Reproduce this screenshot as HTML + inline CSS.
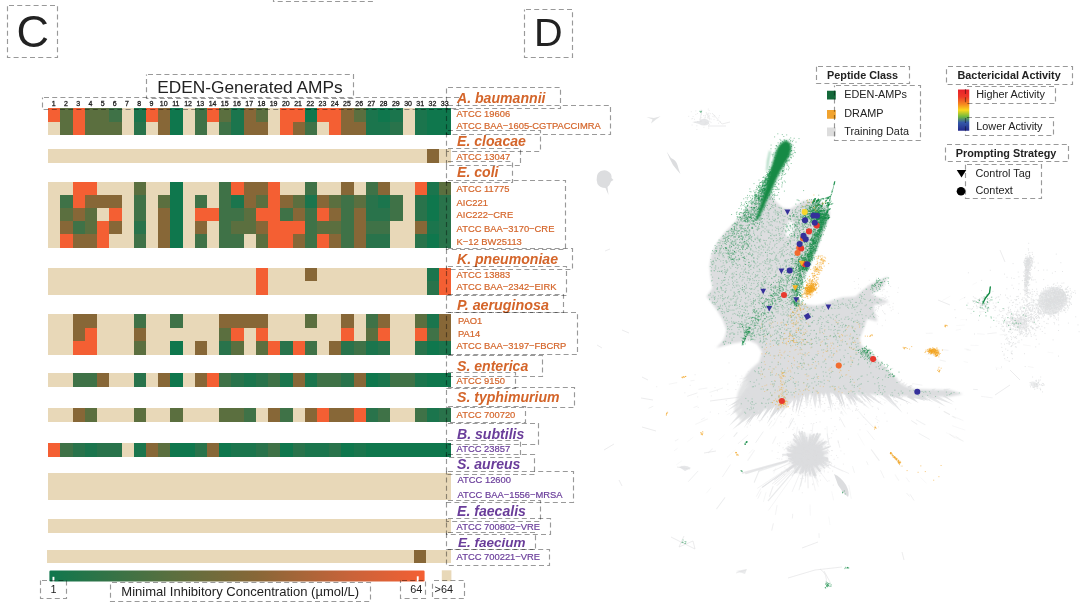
<!DOCTYPE html>
<html><head><meta charset="utf-8"><title>Figure C/D</title>
<style>
html,body{margin:0;padding:0;background:#fff;}
body{width:1080px;height:616px;overflow:hidden;position:relative;font-family:"Liberation Sans",sans-serif;}
svg{position:absolute;left:0;top:0;display:block;}
svg text{font-family:"Liberation Sans",sans-serif;}
</style></head><body>
<svg width="1080" height="616" viewBox="0 0 1080 616">
<rect width="1080" height="616" fill="#fff"/>
<g id="scatter"><defs><filter id="b1" x="-5%" y="-5%" width="110%" height="110%"><feGaussianBlur stdDeviation="0.9"/></filter><filter id="b2" x="-20%" y="-20%" width="140%" height="140%"><feGaussianBlur stdDeviation="0.6"/></filter><filter id="b3" x="-30%" y="-30%" width="160%" height="160%"><feGaussianBlur stdDeviation="2.2"/></filter><radialGradient id="rg"><stop offset="0" stop-color="#DCDDDF"/><stop offset="0.55" stop-color="#DCDDDF" stop-opacity="0.95"/><stop offset="1" stop-color="#DCDDDF" stop-opacity="0"/></radialGradient></defs>
<g fill="#DCDDDF" filter="url(#b2)">
<path d="M862.1 393.4L871.4 404.4L864.1 392.0Z" opacity="0.95"/>
<path d="M742.3 397.2L727.0 406.9L743.4 399.3Z" opacity="0.71"/>
<path d="M780.9 401.4L776.1 415.3L784.9 403.5Z" opacity="0.92"/>
<path d="M861.1 393.6L866.5 398.8L863.9 391.8Z" opacity="0.62"/>
<path d="M742.1 403.6L729.8 416.0L744.3 406.2Z" opacity="0.81"/>
<path d="M832.4 392.7L836.5 396.5L835.6 391.0Z" opacity="0.68"/>
<path d="M804.7 393.2L806.2 407.1L807.0 393.2Z" opacity="0.95"/>
<path d="M836.5 392.0L842.8 409.9L838.2 391.5Z" opacity="0.82"/>
<path d="M836.1 392.0L840.3 403.9L837.7 391.5Z" opacity="0.76"/>
<path d="M793.7 394.5L792.2 411.6L798.0 395.5Z" opacity="0.84"/>
<path d="M857.3 393.6L866.1 402.2L859.5 391.8Z" opacity="0.70"/>
<path d="M811.4 392.6L815.3 408.6L814.8 392.1Z" opacity="0.72"/>
<path d="M918.4 397.7L928.2 400.8L920.5 393.9Z" opacity="0.96"/>
<path d="M849.1 393.8L858.6 400.9L851.3 391.5Z" opacity="0.67"/>
<path d="M921.1 397.1L933.6 402.4L922.4 394.7Z" opacity="0.70"/>
<path d="M742.8 404.6L731.6 412.8L744.1 406.7Z" opacity="0.90"/>
<path d="M741.5 400.8L739.1 405.8L744.4 404.1Z" opacity="0.86"/>
<path d="M817.5 392.2L820.4 409.3L820.7 391.9Z" opacity="0.87"/>
<path d="M802.2 393.5L797.4 416.7L804.1 394.0Z" opacity="0.97"/>
<path d="M742.1 397.0L731.2 405.0L743.5 399.4Z" opacity="0.93"/>
<path d="M741.9 398.6L727.6 410.6L744.0 401.6Z" opacity="0.69"/>
<path d="M768.8 405.0L766.3 412.9L772.5 407.3Z" opacity="0.83"/>
<path d="M797.5 393.9L795.6 413.9L801.8 394.8Z" opacity="0.81"/>
<path d="M838.6 392.3L845.7 409.7L841.2 391.4Z" opacity="0.95"/>
<path d="M814.3 392.0L814.6 399.1L817.3 392.5Z" opacity="0.98"/>
<path d="M781.0 401.9L770.7 418.3L783.7 403.9Z" opacity="0.99"/>
<path d="M797.1 394.4L796.3 400.9L799.2 394.9Z" opacity="0.97"/>
<path d="M911.0 397.5L926.0 400.8L912.1 394.4Z" opacity="0.86"/>
<path d="M792.0 396.4L785.3 409.5L794.9 398.3Z" opacity="0.67"/>
<path d="M743.2 409.1L728.7 426.2L745.8 411.7Z" opacity="0.65"/>
<path d="M927.4 397.8L945.6 406.4L929.6 394.1Z" opacity="0.62"/>
<path d="M742.0 402.7L737.6 409.8L743.6 404.0Z" opacity="0.83"/>
<path d="M742.8 405.0L735.6 411.7L743.8 406.3Z" opacity="0.72"/>
<path d="M933.4 397.6L953.2 404.6L934.8 394.5Z" opacity="0.68"/>
<path d="M849.8 394.3L870.0 409.3L852.5 391.2Z" opacity="0.62"/>
<path d="M797.5 394.0L797.4 402.8L801.3 394.8Z" opacity="0.73"/>
<path d="M915.8 397.3L924.9 400.9L918.1 393.9Z" opacity="0.68"/>
<path d="M849.9 393.4L857.5 401.4L852.8 391.4Z" opacity="0.85"/>
<path d="M906.9 397.0L918.6 402.9L909.3 393.7Z" opacity="0.96"/>
<path d="M761.1 408.0L756.5 420.0L763.9 409.5Z" opacity="0.98"/>
<path d="M807.3 392.8L807.7 407.6L809.1 392.8Z" opacity="0.75"/>
<path d="M756.1 410.5L744.9 423.6L758.0 412.4Z" opacity="0.82"/>
<path d="M773.3 404.4L768.9 414.5L774.9 405.3Z" opacity="0.90"/>
<path d="M851.7 393.3L858.3 398.9L853.1 392.0Z" opacity="0.65"/>
<path d="M755.0 410.8L747.4 425.6L757.1 412.1Z" opacity="0.93"/>
<path d="M860.7 394.1L874.5 403.3L862.3 392.1Z" opacity="0.88"/>
<path d="M748.2 413.6L732.3 429.8L750.5 416.2Z" opacity="0.75"/>
<path d="M744.0 410.1L734.8 420.2L745.6 411.8Z" opacity="0.81"/>
<path d="M889.7 395.7L895.7 398.7L892.3 392.8Z" opacity="0.86"/>
<path d="M883.4 395.1L902.6 413.0L886.2 392.5Z" opacity="0.76"/>
<path d="M865.3 394.8L883.8 405.7L867.4 391.8Z" opacity="0.78"/>
<path d="M806.5 392.7L807.2 400.9L809.6 393.0Z" opacity="0.76"/>
<path d="M843.8 393.1L852.6 405.4L847.6 391.2Z" opacity="0.75"/>
<path d="M756.7 409.8L746.5 421.8L759.2 412.5Z" opacity="0.93"/>
<path d="M929.7 397.3L939.5 399.0L930.1 395.5Z" opacity="0.67"/>
<path d="M849.9 393.8L860.1 403.1L853.2 391.2Z" opacity="0.69"/>
<path d="M894.9 396.3L903.6 398.4L895.8 394.0Z" opacity="0.72"/>
<path d="M883.1 395.9L891.9 399.4L885.4 392.4Z" opacity="0.97"/>
<path d="M780.3 402.6L777.7 409.3L781.8 403.3Z" opacity="0.80"/>
<path d="M753.7 411.6L743.8 428.1L755.4 412.7Z" opacity="0.87"/>
<path d="M783.9 401.1L780.3 411.3L786.8 402.7Z" opacity="0.81"/>
<path d="M811.2 392.3L809.4 407.0L813.1 392.6Z" opacity="0.65"/>
<path d="M943.1 396.4L954.5 402.4L944.2 394.7Z" opacity="0.80"/>
<path d="M833.0 392.0L835.9 397.6L836.2 391.3Z" opacity="0.63"/>
<path d="M777.2 402.5L766.8 424.0L780.6 404.6Z" opacity="0.90"/>
<path d="M880.9 394.6L895.7 407.6L882.6 392.9Z" opacity="0.67"/>
<path d="M892.0 396.0L912.4 404.0L893.0 393.8Z" opacity="0.97"/>
<path d="M760.2 408.4L755.1 417.0L762.7 410.5Z" opacity="0.92"/>
<path d="M787.0 399.5L778.7 416.6L790.7 401.9Z" opacity="0.77"/>
<path d="M814.6 392.1L815.4 408.8L818.1 392.3Z" opacity="0.68"/>
<path d="M845.9 392.5L850.3 399.5L847.3 391.8Z" opacity="0.98"/>
<path d="M826.1 392.2L833.2 408.4L829.6 391.1Z" opacity="0.63"/>
<path d="M847.7 393.1L856.3 403.3L850.1 391.5Z" opacity="0.85"/>
<path d="M845.1 393.2L854.3 401.3L846.6 391.8Z" opacity="0.95"/>
<path d="M769.3 405.3L758.8 423.1L771.9 407.1Z" opacity="0.92"/>
<path d="M825.8 392.0L831.8 412.6L829.1 391.3Z" opacity="0.76"/>
<path d="M846.6 393.3L857.5 405.2L848.9 391.5Z" opacity="0.90"/>
<path d="M833.8 392.8L843.6 407.1L837.4 391.0Z" opacity="0.91"/>
<path d="M821.4 392.0L824.0 398.1L825.5 391.7Z" opacity="0.83"/>
<path d="M846.7 393.0L856.9 407.5L849.1 391.5Z" opacity="0.67"/>
<path d="M747.6 375.0L741.8 380.5L748.7 376.5Z" opacity="0.58"/>
<path d="M748.5 377.6L739.8 384.3L749.5 379.2Z" opacity="0.51"/>
<path d="M743.5 392.3L740.5 397.1L745.4 394.3Z" opacity="0.53"/>
<path d="M748.9 381.0L744.8 387.2L750.9 382.9Z" opacity="0.59"/>
<path d="M746.0 389.4L742.1 394.2L747.1 390.6Z" opacity="0.53"/>
<path d="M747.0 387.4L743.8 391.3L748.6 389.5Z" opacity="0.58"/>
<path d="M898.9 383.4L902.9 379.7L897.9 381.8Z" opacity="0.65"/>
<path d="M908.4 388.0L913.5 384.2L907.6 386.7Z" opacity="0.78"/>
<path d="M910.1 389.0L912.8 386.1L909.0 387.4Z" opacity="0.71"/>
<path d="M932.8 391.6L935.9 388.5L931.6 389.3Z" opacity="0.60"/>
<path d="M944.1 391.6L950.9 388.6L943.5 389.1Z" opacity="0.54"/>
<path d="M908.5 388.2L911.9 385.0L907.4 386.5Z" opacity="0.66"/>
<path d="M903.2 385.8L905.3 381.8L901.2 383.6Z" opacity="0.41"/>
<path d="M905.2 386.6L907.7 383.1L903.9 385.1Z" opacity="0.47"/>
</g>
<g stroke="#DCDDDF" fill="none" stroke-linecap="round">
<path d="M906.3 477.8L909.3 481.9" stroke-width="0.74" stroke-opacity="0.40"/>
<path d="M759.8 403.2L748.6 410.1" stroke-width="0.90" stroke-opacity="0.27"/>
<path d="M758.7 471.6L754.3 482.3" stroke-width="1.07" stroke-opacity="0.56"/>
<path d="M894.8 400.2L897.7 402.0" stroke-width="1.05" stroke-opacity="0.60"/>
<path d="M773.0 486.5L769.5 496.3" stroke-width="1.07" stroke-opacity="0.46"/>
<path d="M866.7 461.7L868.0 464.7" stroke-width="0.92" stroke-opacity="0.40"/>
<path d="M693.0 437.3L687.8 441.5" stroke-width="0.58" stroke-opacity="0.31"/>
<path d="M871.4 449.7L879.1 460.4" stroke-width="1.04" stroke-opacity="0.49"/>
<path d="M729.9 413.2L727.2 414.6" stroke-width="0.65" stroke-opacity="0.30"/>
<path d="M712.3 448.9L708.5 452.6" stroke-width="1.06" stroke-opacity="0.34"/>
<path d="M778.8 415.4L773.3 426.0" stroke-width="0.81" stroke-opacity="0.26"/>
<path d="M792.7 514.2L792.4 518.1" stroke-width="0.96" stroke-opacity="0.46"/>
<path d="M880.7 470.6L884.0 477.8" stroke-width="0.68" stroke-opacity="0.52"/>
<path d="M761.0 491.9L757.9 498.4" stroke-width="0.92" stroke-opacity="0.39"/>
<path d="M981.4 396.4L992.2 397.8" stroke-width="0.94" stroke-opacity="0.35"/>
<path d="M828.8 516.9L830.0 524.7" stroke-width="0.68" stroke-opacity="0.28"/>
<path d="M875.3 418.3L879.3 421.2" stroke-width="0.78" stroke-opacity="0.33"/>
<path d="M710.6 488.2L706.7 492.8" stroke-width="0.80" stroke-opacity="0.28"/>
<path d="M956.2 436.6L963.0 441.1" stroke-width="0.54" stroke-opacity="0.46"/>
<path d="M678.0 439.4L675.3 440.9" stroke-width="0.72" stroke-opacity="0.52"/>
<path d="M893.1 388.4L904.4 392.4" stroke-width="0.77" stroke-opacity="0.59"/>
<path d="M842.2 408.0L846.4 414.0" stroke-width="0.55" stroke-opacity="0.45"/>
<path d="M697.1 393.0L687.5 396.2" stroke-width="0.84" stroke-opacity="0.51"/>
<path d="M777.0 505.5L775.5 514.4" stroke-width="0.85" stroke-opacity="0.42"/>
<path d="M919.1 433.5L929.5 439.3" stroke-width="0.83" stroke-opacity="0.51"/>
<path d="M838.0 440.5L839.8 447.4" stroke-width="0.91" stroke-opacity="0.45"/>
<path d="M952.3 425.7L964.8 430.0" stroke-width="0.65" stroke-opacity="0.31"/>
<path d="M677.2 448.6L674.4 450.6" stroke-width="0.62" stroke-opacity="0.41"/>
<path d="M760.1 380.9L755.5 382.7" stroke-width="0.81" stroke-opacity="0.51"/>
<path d="M827.0 426.6L827.3 433.5" stroke-width="0.95" stroke-opacity="0.29"/>
<path d="M746.4 416.5L738.5 425.0" stroke-width="1.02" stroke-opacity="0.31"/>
<path d="M831.8 491.7L833.6 500.0" stroke-width="0.58" stroke-opacity="0.35"/>
<path d="M888.9 382.0L893.1 383.2" stroke-width="0.71" stroke-opacity="0.46"/>
<path d="M846.8 403.9L850.3 409.6" stroke-width="0.65" stroke-opacity="0.39"/>
<path d="M747.8 435.2L738.2 443.6" stroke-width="0.69" stroke-opacity="0.51"/>
<path d="M858.8 411.3L863.7 417.4" stroke-width="1.06" stroke-opacity="0.30"/>
<path d="M752.5 449.8L749.5 453.1" stroke-width="0.92" stroke-opacity="0.30"/>
<path d="M757.3 385.0L753.7 386.8" stroke-width="1.06" stroke-opacity="0.26"/>
<path d="M697.3 406.2L693.8 407.5" stroke-width="0.78" stroke-opacity="0.45"/>
<path d="M730.3 464.9L722.6 476.6" stroke-width="0.99" stroke-opacity="0.39"/>
<path d="M697.9 471.2L688.5 481.4" stroke-width="0.77" stroke-opacity="0.58"/>
<path d="M722.6 388.1L709.9 392.3" stroke-width="0.72" stroke-opacity="0.51"/>
<path d="M823.7 465.7L824.5 472.9" stroke-width="0.58" stroke-opacity="0.27"/>
<path d="M734.9 450.1L727.3 457.2" stroke-width="0.64" stroke-opacity="0.33"/>
<path d="M867.2 430.8L874.3 439.7" stroke-width="0.69" stroke-opacity="0.47"/>
<path d="M864.5 399.5L872.3 406.7" stroke-width="0.68" stroke-opacity="0.47"/>
<path d="M912.7 383.6L922.0 385.2" stroke-width="0.71" stroke-opacity="0.46"/>
<path d="M797.4 427.0L795.9 437.7" stroke-width="1.08" stroke-opacity="0.32"/>
<path d="M863.7 417.1L873.3 427.2" stroke-width="0.86" stroke-opacity="0.60"/>
<path d="M761.9 375.4L753.4 377.6" stroke-width="0.92" stroke-opacity="0.37"/>
<path d="M838.9 404.5L840.5 407.5" stroke-width="0.55" stroke-opacity="0.32"/>
<path d="M842.0 412.2L843.2 415.4" stroke-width="0.76" stroke-opacity="0.32"/>
<path d="M786.2 402.3L782.5 406.6" stroke-width="1.04" stroke-opacity="0.47"/>
<path d="M897.4 395.5L900.6 396.5" stroke-width="0.52" stroke-opacity="0.29"/>
<path d="M791.7 418.1L789.5 422.2" stroke-width="0.70" stroke-opacity="0.37"/>
<path d="M953.4 416.5L963.0 420.5" stroke-width="0.87" stroke-opacity="0.29"/>
<path d="M892.9 455.1L900.5 466.3" stroke-width="0.88" stroke-opacity="0.43"/>
<path d="M973.6 389.4L977.4 389.6" stroke-width="0.92" stroke-opacity="0.53"/>
<path d="M737.1 432.7L733.9 436.5" stroke-width="1.01" stroke-opacity="0.59"/>
<path d="M920.8 477.7L926.1 482.9" stroke-width="0.80" stroke-opacity="0.25"/>
<path d="M827.2 433.9L829.0 444.6" stroke-width="1.02" stroke-opacity="0.56"/>
<path d="M857.6 433.6L864.3 445.2" stroke-width="0.56" stroke-opacity="0.27"/>
<path d="M694.3 380.3L690.8 380.9" stroke-width="0.80" stroke-opacity="0.40"/>
<path d="M652.9 406.4L648.9 408.1" stroke-width="0.74" stroke-opacity="0.54"/>
<path d="M766.0 492.5L763.5 501.5" stroke-width="0.99" stroke-opacity="0.25"/>
<path d="M775.0 422.6L769.8 428.9" stroke-width="0.82" stroke-opacity="0.27"/>
<path d="M841.8 489.8L842.8 493.3" stroke-width="0.51" stroke-opacity="0.44"/>
<path d="M852.6 466.5L854.4 472.5" stroke-width="0.60" stroke-opacity="0.57"/>
<path d="M707.0 388.0L698.9 389.3" stroke-width="0.67" stroke-opacity="0.53"/>
<path d="M895.1 474.8L898.7 480.4" stroke-width="1.06" stroke-opacity="0.27"/>
<path d="M724.3 435.1L719.0 439.9" stroke-width="0.54" stroke-opacity="0.34"/>
<path d="M793.5 418.4L788.7 427.6" stroke-width="1.09" stroke-opacity="0.56"/>
<path d="M759.4 406.2L749.7 415.7" stroke-width="1.02" stroke-opacity="0.56"/>
<path d="M775.6 468.2L773.8 473.1" stroke-width="0.67" stroke-opacity="0.29"/>
<path d="M946.3 432.8L958.4 438.0" stroke-width="0.51" stroke-opacity="0.34"/>
<path d="M878.7 396.8L886.9 401.4" stroke-width="0.76" stroke-opacity="0.32"/>
<path d="M775.9 436.8L772.6 443.4" stroke-width="1.04" stroke-opacity="0.34"/>
<path d="M763.1 431.9L755.8 442.5" stroke-width="0.80" stroke-opacity="0.56"/>
<path d="M785.7 414.4L783.0 418.0" stroke-width="0.52" stroke-opacity="0.36"/>
<path d="M764.8 373.2L760.3 374.8" stroke-width="0.55" stroke-opacity="0.42"/>
<path d="M791.5 446.7L790.1 450.6" stroke-width="0.98" stroke-opacity="0.45"/>
<path d="M916.4 419.9L925.0 424.8" stroke-width="1.02" stroke-opacity="0.39"/>
<path d="M813.0 424.2L812.0 433.4" stroke-width="0.94" stroke-opacity="0.34"/>
<path d="M676.9 382.7L669.3 384.1" stroke-width="0.97" stroke-opacity="0.31"/>
<path d="M760.6 488.8L756.4 496.4" stroke-width="0.78" stroke-opacity="0.41"/>
<path d="M910.3 494.6L913.8 500.1" stroke-width="0.75" stroke-opacity="0.58"/>
<path d="M763.5 375.3L750.0 378.9" stroke-width="0.54" stroke-opacity="0.42"/>
<path d="M929.0 392.9L933.8 394.1" stroke-width="0.68" stroke-opacity="0.46"/>
<path d="M681.8 460.9L676.5 464.7" stroke-width="0.50" stroke-opacity="0.38"/>
<path d="M752.2 376.2L739.9 378.8" stroke-width="0.68" stroke-opacity="0.52"/>
<path d="M906.8 493.3L909.4 496.3" stroke-width="0.95" stroke-opacity="0.41"/>
<path d="M911.6 420.8L916.9 424.2" stroke-width="0.95" stroke-opacity="0.55"/>
<path d="M933.2 397.7L946.4 401.7" stroke-width="0.96" stroke-opacity="0.28"/>
<path d="M707.4 419.0L695.7 424.3" stroke-width="1.02" stroke-opacity="0.27"/>
<path d="M771.8 420.9L768.6 425.9" stroke-width="0.85" stroke-opacity="0.47"/>
<path d="M766.3 377.0L761.5 378.9" stroke-width="0.99" stroke-opacity="0.44"/>
<path d="M810.0 504.9L810.3 515.1" stroke-width="0.55" stroke-opacity="0.41"/>
<path d="M704.5 417.9L701.3 419.6" stroke-width="0.73" stroke-opacity="0.45"/>
<path d="M773.3 523.7L771.8 530.2" stroke-width="0.87" stroke-opacity="0.56"/>
<path d="M754.4 450.5L747.8 460.4" stroke-width="1.08" stroke-opacity="0.35"/>
<path d="M949.7 434.3L954.8 437.9" stroke-width="0.87" stroke-opacity="0.43"/>
<path d="M952.2 416.2L955.5 418.1" stroke-width="1.03" stroke-opacity="0.36"/>
<path d="M955.6 437.8L963.2 441.1" stroke-width="0.80" stroke-opacity="0.34"/>
<path d="M848.9 485.5L851.2 498.4" stroke-width="0.60" stroke-opacity="0.42"/>
<path d="M819.0 533.6L819.1 537.6" stroke-width="1.05" stroke-opacity="0.39"/>
<path d="M890.3 452.8L893.8 458.3" stroke-width="0.55" stroke-opacity="0.32"/>
<path d="M944.1 411.5L949.6 414.5" stroke-width="1.04" stroke-opacity="0.58"/>
<path d="M847.2 398.4L851.1 404.5" stroke-width="0.96" stroke-opacity="0.27"/>
<path d="M724.8 497.7L716.7 508.7" stroke-width="1.02" stroke-opacity="0.54"/>
<path d="M839.6 417.3L844.9 426.9" stroke-width="0.73" stroke-opacity="0.60"/>
<path d="M987.7 333.7L996.3 332.8" stroke-width="1.10" stroke-opacity="0.38"/>
<path d="M960.7 319.6L964.4 319.4" stroke-width="0.61" stroke-opacity="0.20"/>
<path d="M995.2 367.2L1002.0 368.9" stroke-width="0.53" stroke-opacity="0.22"/>
<path d="M926.2 333.3L932.3 333.2" stroke-width="0.89" stroke-opacity="0.32"/>
<path d="M942.7 300.4L950.0 296.3" stroke-width="0.82" stroke-opacity="0.21"/>
<path d="M940.1 360.1L945.4 361.3" stroke-width="0.93" stroke-opacity="0.39"/>
<path d="M964.8 348.9L968.2 349.4" stroke-width="1.08" stroke-opacity="0.20"/>
<path d="M942.4 349.7L948.1 350.3" stroke-width="0.87" stroke-opacity="0.40"/>
<path d="M970.9 345.3L978.2 345.5" stroke-width="0.75" stroke-opacity="0.27"/>
<path d="M956.1 330.2L960.5 329.4" stroke-width="0.76" stroke-opacity="0.26"/>
<path d="M1028.3 366.6L1033.2 367.5" stroke-width="1.04" stroke-opacity="0.27"/>
<path d="M977.5 333.7L984.4 334.3" stroke-width="0.58" stroke-opacity="0.39"/>
<path d="M1023.4 344.9L1030.1 345.8" stroke-width="0.70" stroke-opacity="0.34"/>
<path d="M981.8 306.1L988.5 303.7" stroke-width="0.54" stroke-opacity="0.36"/>
<path d="M1005.2 360.0L1010.1 360.9" stroke-width="0.55" stroke-opacity="0.33"/>
<path d="M1000.1 334.9L1005.8 334.3" stroke-width="0.94" stroke-opacity="0.29"/>
<path d="M966.9 349.9L970.4 350.2" stroke-width="0.87" stroke-opacity="0.38"/>
<path d="M926.1 354.1L933.7 355.0" stroke-width="0.92" stroke-opacity="0.28"/>
<path d="M980.5 312.0L986.6 311.0" stroke-width="0.88" stroke-opacity="0.34"/>
<path d="M1005.8 313.5L1010.8 312.8" stroke-width="0.78" stroke-opacity="0.31"/>
<path d="M972.9 284.5L976.8 282.6" stroke-width="0.54" stroke-opacity="0.33"/>
<path d="M964.1 361.6L967.6 362.4" stroke-width="0.58" stroke-opacity="0.38"/>
<path d="M959.9 299.8L965.3 297.1" stroke-width="0.69" stroke-opacity="0.26"/>
<path d="M1047.8 352.2L1053.0 352.9" stroke-width="0.58" stroke-opacity="0.32"/>
<path d="M956.5 325.6L964.4 325.1" stroke-width="0.58" stroke-opacity="0.26"/>
<path d="M813.8 441.5L817.4 433.7" stroke-width="2.02" stroke-opacity="0.94"/>
<path d="M806.8 442.5L806.5 437.5" stroke-width="1.32" stroke-opacity="0.78"/>
<path d="M816.6 450.5L822.4 447.6" stroke-width="0.83" stroke-opacity="0.81"/>
<path d="M794.8 459.7L790.0 461.5" stroke-width="1.72" stroke-opacity="0.80"/>
<path d="M798.4 457.1L792.0 458.5" stroke-width="1.84" stroke-opacity="0.59"/>
<path d="M817.0 461.0L821.3 463.8" stroke-width="1.92" stroke-opacity="0.87"/>
<path d="M820.6 450.3L828.9 447.3" stroke-width="1.06" stroke-opacity="0.87"/>
<path d="M805.7 441.9L804.4 432.7" stroke-width="1.96" stroke-opacity="0.63"/>
<path d="M802.1 444.7L799.2 439.4" stroke-width="1.26" stroke-opacity="0.57"/>
<path d="M796.9 455.6L790.1 455.9" stroke-width="1.99" stroke-opacity="0.81"/>
<path d="M801.2 441.5L799.1 437.0" stroke-width="1.51" stroke-opacity="0.54"/>
<path d="M796.0 464.1L793.1 466.5" stroke-width="1.86" stroke-opacity="0.89"/>
<path d="M793.9 454.2L787.0 453.8" stroke-width="1.29" stroke-opacity="0.73"/>
<path d="M811.0 464.5L812.9 470.0" stroke-width="2.18" stroke-opacity="0.65"/>
<path d="M809.4 469.5L810.0 473.7" stroke-width="2.15" stroke-opacity="0.88"/>
<path d="M800.9 446.2L798.0 442.4" stroke-width="0.95" stroke-opacity="0.55"/>
<path d="M801.2 463.8L794.6 473.0" stroke-width="1.55" stroke-opacity="0.95"/>
<path d="M805.9 446.1L804.4 438.3" stroke-width="1.02" stroke-opacity="0.52"/>
<path d="M817.2 451.4L821.6 449.8" stroke-width="0.94" stroke-opacity="0.79"/>
<path d="M799.7 457.0L790.5 459.2" stroke-width="1.16" stroke-opacity="0.85"/>
<path d="M795.8 455.8L788.7 456.3" stroke-width="1.75" stroke-opacity="0.95"/>
<path d="M810.0 446.9L812.2 439.8" stroke-width="1.13" stroke-opacity="0.55"/>
<path d="M810.8 464.2L814.7 475.1" stroke-width="1.84" stroke-opacity="0.88"/>
<path d="M804.3 445.3L802.2 439.1" stroke-width="1.42" stroke-opacity="0.63"/>
<path d="M795.7 461.3L792.5 463.1" stroke-width="1.19" stroke-opacity="0.72"/>
<path d="M801.9 443.8L797.6 435.3" stroke-width="0.95" stroke-opacity="0.58"/>
<path d="M803.9 464.3L800.3 473.4" stroke-width="2.19" stroke-opacity="0.81"/>
<path d="M817.4 457.1L827.4 459.2" stroke-width="2.09" stroke-opacity="0.77"/>
<path d="M801.4 463.5L796.3 470.6" stroke-width="2.01" stroke-opacity="0.65"/>
<path d="M810.4 462.5L812.0 466.4" stroke-width="1.99" stroke-opacity="0.78"/>
<path d="M816.0 454.5L822.3 454.1" stroke-width="1.91" stroke-opacity="0.80"/>
<path d="M817.4 459.4L825.4 463.0" stroke-width="1.76" stroke-opacity="0.70"/>
<path d="M813.1 468.7L815.8 475.3" stroke-width="1.80" stroke-opacity="0.74"/>
<path d="M815.9 459.7L819.1 461.4" stroke-width="1.07" stroke-opacity="0.59"/>
<path d="M798.7 460.2L793.3 463.4" stroke-width="1.94" stroke-opacity="0.51"/>
<path d="M818.4 463.3L824.6 468.0" stroke-width="1.41" stroke-opacity="0.62"/>
<path d="M798.3 452.5L787.9 449.7" stroke-width="1.95" stroke-opacity="0.64"/>
<path d="M821.5 457.2L827.2 458.1" stroke-width="1.72" stroke-opacity="0.89"/>
<path d="M811.7 441.6L813.9 434.5" stroke-width="1.98" stroke-opacity="0.71"/>
<path d="M806.5 466.3L806.0 472.3" stroke-width="1.87" stroke-opacity="0.87"/>
<path d="M813.3 462.1L817.4 467.1" stroke-width="1.45" stroke-opacity="0.93"/>
<path d="M821.3 449.7L830.2 446.3" stroke-width="1.75" stroke-opacity="0.62"/>
<path d="M801.9 460.8L794.6 468.3" stroke-width="1.19" stroke-opacity="0.54"/>
<path d="M803.4 464.4L799.6 473.1" stroke-width="0.81" stroke-opacity="0.60"/>
<path d="M818.6 446.5L825.5 441.3" stroke-width="1.58" stroke-opacity="0.60"/>
<path d="M816.9 445.6L822.3 440.2" stroke-width="1.03" stroke-opacity="0.60"/>
<path d="M800.0 462.1L797.4 464.5" stroke-width="1.37" stroke-opacity="0.70"/>
<path d="M805.0 465.4L803.6 471.2" stroke-width="1.33" stroke-opacity="0.78"/>
<path d="M798.1 455.2L788.0 455.3" stroke-width="1.52" stroke-opacity="0.71"/>
<path d="M804.5 442.1L802.0 431.7" stroke-width="1.94" stroke-opacity="0.80"/>
<path d="M805.9 446.0L804.2 436.9" stroke-width="1.16" stroke-opacity="0.62"/>
<path d="M815.4 462.4L817.7 464.6" stroke-width="1.72" stroke-opacity="0.84"/>
<path d="M808.9 446.2L810.3 437.6" stroke-width="1.97" stroke-opacity="0.52"/>
<path d="M810.9 464.3L813.4 471.0" stroke-width="1.04" stroke-opacity="0.74"/>
<path d="M800.5 465.5L796.2 471.9" stroke-width="1.76" stroke-opacity="0.61"/>
<path d="M804.0 442.3L801.5 433.2" stroke-width="0.90" stroke-opacity="0.93"/>
<path d="M798.7 450.4L792.6 447.2" stroke-width="1.52" stroke-opacity="0.73"/>
<path d="M807.6 464.9L807.7 471.1" stroke-width="1.89" stroke-opacity="0.70"/>
<path d="M818.3 457.7L823.0 458.8" stroke-width="0.82" stroke-opacity="0.94"/>
<path d="M804.3 466.3L802.6 472.3" stroke-width="0.87" stroke-opacity="0.91"/>
<path d="M816.1 451.3L822.3 448.7" stroke-width="1.32" stroke-opacity="0.58"/>
<path d="M800.4 443.5L795.2 435.2" stroke-width="1.75" stroke-opacity="0.51"/>
<path d="M809.0 466.5L810.2 475.8" stroke-width="1.34" stroke-opacity="0.70"/>
<path d="M811.9 448.1L814.8 443.6" stroke-width="1.21" stroke-opacity="0.95"/>
<path d="M808.7 463.2L809.6 469.9" stroke-width="1.71" stroke-opacity="0.57"/>
<path d="M812.5 447.1L817.5 439.2" stroke-width="1.03" stroke-opacity="0.90"/>
<path d="M811.5 467.5L814.6 477.6" stroke-width="1.16" stroke-opacity="0.54"/>
<path d="M797.6 449.1L791.4 445.3" stroke-width="1.89" stroke-opacity="0.71"/>
<path d="M796.1 455.2L789.0 455.3" stroke-width="1.37" stroke-opacity="0.57"/>
<path d="M804.7 464.5L803.3 469.5" stroke-width="1.90" stroke-opacity="0.55"/>
<path d="M810.7 466.2L812.3 471.8" stroke-width="1.14" stroke-opacity="0.67"/>
<path d="M794.8 454.8L783.0 454.7" stroke-width="1.99" stroke-opacity="0.69"/>
<path d="M797.1 458.3L792.2 459.8" stroke-width="2.13" stroke-opacity="0.53"/>
<path d="M811.0 467.1L813.3 475.1" stroke-width="1.19" stroke-opacity="0.92"/>
<path d="M797.2 461.6L794.0 463.6" stroke-width="2.05" stroke-opacity="0.55"/>
<path d="M796.3 463.8L787.3 470.9" stroke-width="2.07" stroke-opacity="0.87"/>
<path d="M808.4 463.2L809.1 470.2" stroke-width="0.89" stroke-opacity="0.93"/>
<path d="M817.8 455.5L822.6 455.8" stroke-width="0.82" stroke-opacity="0.72"/>
<path d="M820.2 461.6L828.4 465.8" stroke-width="1.32" stroke-opacity="0.88"/>
<path d="M810.5 445.2L813.6 435.0" stroke-width="2.10" stroke-opacity="0.78"/>
<path d="M799.0 466.5L792.1 475.7" stroke-width="1.29" stroke-opacity="0.54"/>
<path d="M816.0 445.7L819.5 441.9" stroke-width="1.59" stroke-opacity="0.64"/>
<path d="M816.6 449.9L820.7 447.6" stroke-width="0.86" stroke-opacity="0.65"/>
<path d="M817.0 454.4L824.1 453.9" stroke-width="2.16" stroke-opacity="0.50"/>
<path d="M803.7 468.2L802.6 471.9" stroke-width="2.10" stroke-opacity="0.88"/>
<path d="M815.1 464.5L820.0 470.8" stroke-width="1.77" stroke-opacity="0.64"/>
<path d="M800.3 461.4L796.1 465.2" stroke-width="1.05" stroke-opacity="0.91"/>
<path d="M815.5 448.2L822.5 442.2" stroke-width="1.49" stroke-opacity="0.63"/>
<path d="M798.9 467.0L795.3 471.9" stroke-width="1.61" stroke-opacity="0.93"/>
<path d="M803.5 468.1L802.3 471.9" stroke-width="1.83" stroke-opacity="0.86"/>
<path d="M815.2 442.4L820.1 434.3" stroke-width="2.17" stroke-opacity="0.63"/>
<path d="M798.1 453.7L794.4 453.2" stroke-width="1.41" stroke-opacity="0.82"/>
<path d="M808.9 447.0L811.0 435.7" stroke-width="1.15" stroke-opacity="0.63"/>
<path d="M814.6 442.6L819.3 434.2" stroke-width="1.27" stroke-opacity="0.71"/>
<path d="M812.8 445.9L818.0 437.1" stroke-width="1.89" stroke-opacity="0.71"/>
<path d="M816.0 448.5L823.8 442.6" stroke-width="1.70" stroke-opacity="0.65"/>
<path d="M795.5 452.6L787.8 451.0" stroke-width="0.96" stroke-opacity="0.95"/>
<path d="M815.6 453.3L826.8 450.9" stroke-width="1.54" stroke-opacity="0.56"/>
<path d="M812.2 445.0L816.3 436.5" stroke-width="1.96" stroke-opacity="0.74"/>
<path d="M820.6 459.2L829.4 462.1" stroke-width="2.07" stroke-opacity="0.62"/>
<path d="M810.6 441.2L812.0 435.2" stroke-width="1.37" stroke-opacity="0.65"/>
<path d="M817.1 455.3L823.1 455.6" stroke-width="0.95" stroke-opacity="0.84"/>
<path d="M796.8 460.3L791.8 462.8" stroke-width="1.30" stroke-opacity="0.84"/>
<path d="M795.5 457.3L788.9 458.6" stroke-width="1.58" stroke-opacity="0.90"/>
<path d="M806.2 466.6L805.2 475.7" stroke-width="0.92" stroke-opacity="0.93"/>
<path d="M797.8 455.1L787.9 455.2" stroke-width="1.94" stroke-opacity="0.78"/>
<path d="M815.0 450.7L821.7 446.8" stroke-width="1.84" stroke-opacity="0.91"/>
<path d="M799.8 445.5L795.7 440.5" stroke-width="1.60" stroke-opacity="0.75"/>
<path d="M818.9 447.3L826.9 441.8" stroke-width="2.09" stroke-opacity="0.53"/>
<path d="M808.9 443.8L810.1 434.1" stroke-width="1.21" stroke-opacity="0.71"/>
<path d="M811.2 447.6L813.8 442.6" stroke-width="1.48" stroke-opacity="0.88"/>
<path d="M805.8 468.7L805.1 473.8" stroke-width="1.22" stroke-opacity="0.75"/>
<path d="M799.5 443.3L793.3 434.4" stroke-width="1.15" stroke-opacity="0.84"/>
<path d="M800.4 447.0L793.8 439.5" stroke-width="2.06" stroke-opacity="0.72"/>
<path d="M815.2 450.5L819.1 448.3" stroke-width="1.87" stroke-opacity="0.64"/>
<path d="M797.6 449.1L793.9 446.9" stroke-width="1.86" stroke-opacity="0.83"/>
<path d="M813.5 462.8L819.8 470.8" stroke-width="2.08" stroke-opacity="0.89"/>
<path d="M796.9 454.9L789.9 454.8" stroke-width="1.05" stroke-opacity="0.72"/>
<path d="M808.6 464.1L809.4 470.4" stroke-width="0.89" stroke-opacity="0.71"/>
<path d="M803.3 443.2L799.4 432.0" stroke-width="2.04" stroke-opacity="0.79"/>
<path d="M816.4 448.3L824.5 442.2" stroke-width="1.20" stroke-opacity="0.74"/>
<path d="M819.6 453.5L827.1 452.5" stroke-width="1.90" stroke-opacity="0.64"/>
<path d="M811.5 447.9L814.0 443.4" stroke-width="1.05" stroke-opacity="0.62"/>
<path d="M815.2 452.3L820.6 450.4" stroke-width="1.60" stroke-opacity="0.82"/>
<path d="M809.1 444.4L809.8 439.5" stroke-width="1.99" stroke-opacity="0.55"/>
<path d="M816.3 458.8L823.2 461.8" stroke-width="2.12" stroke-opacity="0.83"/>
<path d="M796.8 450.4L788.3 446.8" stroke-width="1.68" stroke-opacity="0.65"/>
<path d="M815.4 460.2L823.7 465.7" stroke-width="1.69" stroke-opacity="0.86"/>
<path d="M821.3 458.9L827.4 460.7" stroke-width="2.10" stroke-opacity="0.77"/>
<path d="M794.4 451.0L786.1 448.5" stroke-width="1.74" stroke-opacity="0.57"/>
<path d="M789.7 463.2L773.2 470.8" stroke-width="0.73" stroke-opacity="0.64"/>
<path d="M789.9 470.8L774.8 484.3" stroke-width="0.61" stroke-opacity="0.85"/>
<path d="M791.2 468.4L772.6 483.6" stroke-width="0.81" stroke-opacity="0.61"/>
<path d="M791.7 459.4L742.6 473.0" stroke-width="1.59" stroke-opacity="0.67"/>
<path d="M792.9 466.0L774.6 479.8" stroke-width="0.92" stroke-opacity="0.79"/>
<path d="M793.8 474.5L768.6 510.2" stroke-width="0.62" stroke-opacity="0.48"/>
<path d="M785.9 462.1L758.9 471.0" stroke-width="1.46" stroke-opacity="0.53"/>
<path d="M793.2 464.5L757.6 488.2" stroke-width="0.69" stroke-opacity="0.52"/>
<path d="M787.4 461.0L745.8 473.5" stroke-width="1.33" stroke-opacity="0.69"/>
<path d="M791.3 471.3L777.2 485.4" stroke-width="0.87" stroke-opacity="0.63"/>
<path d="M796.4 467.9L768.3 500.6" stroke-width="1.34" stroke-opacity="0.60"/>
<path d="M792.8 465.5L762.3 487.2" stroke-width="1.18" stroke-opacity="0.82"/>
<path d="M828.7 464.5L848.7 473.4" stroke-width="0.71" stroke-opacity="0.52"/>
<path d="M802.9 475.7L800.6 486.1" stroke-width="0.87" stroke-opacity="0.56"/>
<path d="M824.6 465.1L830.0 468.4" stroke-width="1.01" stroke-opacity="0.53"/>
<path d="M827.5 464.1L843.0 471.3" stroke-width="0.58" stroke-opacity="0.46"/>
<path d="M807.8 473.7L808.1 487.7" stroke-width="1.09" stroke-opacity="0.49"/>
<path d="M813.1 470.6L815.8 478.0" stroke-width="1.01" stroke-opacity="0.52"/>
<path d="M802.7 475.1L799.1 489.8" stroke-width="0.82" stroke-opacity="0.52"/>
<path d="M819.5 471.0L827.6 481.8" stroke-width="0.90" stroke-opacity="0.36"/>
<path d="M822.9 461.4L831.1 464.8" stroke-width="1.01" stroke-opacity="0.52"/>
<path d="M805.8 474.5L805.1 482.1" stroke-width="0.78" stroke-opacity="0.56"/>
<path d="M814.4 474.9L818.3 486.2" stroke-width="0.59" stroke-opacity="0.49"/>
<path d="M814.4 472.5L818.1 481.9" stroke-width="0.92" stroke-opacity="0.40"/>
<path d="M811.4 472.7L815.3 490.3" stroke-width="0.72" stroke-opacity="0.44"/>
<path d="M799.1 475.1L792.2 491.5" stroke-width="0.70" stroke-opacity="0.55"/>
</g>
<g fill="#DCDDDF" filter="url(#b1)">
<polygon points="765.0,187.0 759.0,194.0 752.0,203.0 744.0,212.0 734.0,223.0 725.0,232.0 717.0,243.0 711.5,254.0 709.5,266.0 710.5,277.0 712.5,288.0 706.5,296.5 711.0,302.0 717.5,311.0 723.0,320.5 726.5,330.0 724.0,340.0 716.0,348.0 731.0,343.5 746.0,339.0 757.0,344.0 762.0,352.0 759.0,362.0 751.0,369.0 746.0,375.0 749.0,385.0 744.0,392.0 740.5,398.0 741.5,408.0 745.0,417.0 754.0,413.5 764.0,410.0 775.0,406.5 786.0,403.5 794.0,398.0 808.0,394.5 830.0,393.5 850.0,394.0 870.0,394.5 890.0,395.5 910.0,396.5 930.0,397.0 950.0,396.5 963.0,394.0 950.0,390.0 930.0,389.5 915.0,389.0 906.0,386.5 900.0,383.0 896.0,378.0 887.0,369.0 878.0,360.0 869.0,351.0 861.0,345.0 860.0,338.0 864.0,328.0 867.0,319.0 877.5,321.5 874.5,312.0 873.5,305.5 889.5,302.0 871.0,294.5 882.5,287.0 888.0,276.5 871.0,284.0 862.0,290.7 855.5,296.4 842.0,297.5 833.0,300.0 824.0,304.0 816.0,305.5 808.0,305.0 801.0,303.0 797.0,297.0 800.0,288.0 805.0,276.0 811.0,262.0 816.0,250.0 820.0,240.0 824.0,230.0 828.0,220.0 830.0,213.0 826.0,206.0 820.0,202.0 812.0,200.0 803.0,201.0 797.0,205.0 790.0,209.0 783.0,208.0 776.0,202.0 770.0,193.0"/>
<polygon points="727.0,333.0 719.5,346.8 733.0,343.5 748.0,341.0 740.0,334.0"/>
<polygon points="746.0,375.0 738.0,392.0 734.0,410.0 741.0,421.0 752.0,416.0 760.0,408.0" opacity="0.8"/>
</g>
<ellipse cx="789.5" cy="229" rx="4.5" ry="8.5" fill="#fff" opacity="0.85" filter="url(#b1)" transform="rotate(10 789.5 229)"/>
<circle cx="807.5" cy="455" r="23" fill="url(#rg)" opacity="0.8"/>
<ellipse cx="807.3" cy="455" rx="16" ry="12.5" fill="#DCDDDF" filter="url(#b1)"/>
<path d="M834 474Q841 477 846 485Q850 493 848 497Q842 492 838 485Z" fill="#DCDDDF" filter="url(#b2)"/>
<g fill="#DCDDDF" filter="url(#b2)">
<path d="M597 176Q598 171 603 170.5Q606 169.5 609 172Q612 174 611.5 178L613.5 180L611 181.5Q610 185 607.5 187L608.5 195L605.5 188Q600 188 597.5 184Q596 180 597 176Z"/>
<path d="M666.6 151.6L671 158Q676 160 677.5 165Q678.5 169 680.4 174Q676 169 673 165Q670 160 666.6 151.6Z"/>
<path d="M646.5 117L654 118L660.6 116.2L656 119.5L651 123.5L652.5 119.5Z" opacity="0.8"/>
<path d="M692 122L699 121Q702 118 706 119Q710 120 709 124Q704 127 699 124Z" opacity="0.7"/>
<path d="M1039 297Q1041 290 1049 289Q1053 285 1059 288Q1065 291 1067 298Q1069 303 1064 307Q1059 313 1052 315Q1045 316 1042 310Q1037 305 1039 297Z" opacity="0.6"/>
<path d="M1026.5 258Q1029.5 256 1030 262Q1029 272 1028 282Q1027 290 1025 295Q1023 288 1024.5 278Q1025 266 1026.5 258Z" opacity="0.4"/>
<path d="M1012 319Q1018 316 1024 319Q1029 323 1027 328Q1022 332 1017 328Q1012 325 1012 319Z" opacity="0.4"/>
<path d="M1030 382Q1036 380 1039 386L1033 388Z" opacity="0.5"/>
<path d="M679 467Q685 464 691 468L685 471Z" opacity="0.7"/>
<path d="M736 571L747 569L745 574Z" opacity="0.6"/>
</g>
<g stroke="#DCDDDF" fill="none" stroke-width="0.7" stroke-opacity="0.8">
<path d="M671 537L695 549L693 541L679 547L684 536"/>
<path d="M788 578L815 570L842 567"/><path d="M820 569Q828 574 826 584M824 571L830 582"/>
<path d="M702 110L700 120M706 112L710 119M712 113L722 124L730 122M708 126L726 126M802 548L818 542M641 398L653 400M642 427L656 431M604 450L614 444M677 467L690 469M619 480L622 486M704 453L716 451M736 573L746 570M710 401L748 396M902 552L904 560M1000 250L1005 262M938 300L950 305M1010 370L1020 380M995 395L1010 385M605 251L610 249M622 330L629 333M597 345L602 348M642 377L648 380"/>
</g>
<path d="M807.8 384.3h0M801.8 401.6h0M845.4 399.0h0M856.6 387.2h0M822.6 373.0h0M846.4 397.1h0M793.3 411.3h0M843.1 355.6h0M813.8 374.6h0M860.0 429.8h0M788.7 396.0h0M800.7 399.9h0M841.0 413.0h0M767.6 417.0h0M770.1 398.9h0M864.1 405.0h0M769.8 385.2h0M791.2 394.3h0M863.6 376.9h0M833.0 403.5h0M837.1 401.5h0M880.3 401.8h0M850.6 402.9h0M892.7 368.4h0M869.7 391.3h0M799.4 381.4h0M727.9 389.7h0M781.1 401.9h0M745.7 415.0h0M824.2 391.5h0M780.1 384.0h0M761.1 387.4h0M812.3 392.5h0M748.3 391.3h0M771.8 397.2h0M895.9 403.8h0M797.9 372.3h0M748.3 371.4h0M844.7 384.3h0M814.8 386.3h0M816.1 414.6h0M781.2 390.2h0M775.7 407.2h0M765.8 379.1h0M749.6 375.3h0M833.2 431.0h0M767.2 408.3h0M823.3 379.6h0M799.5 391.7h0M780.9 422.0h0M726.2 400.3h0M826.9 386.9h0M818.7 407.3h0M818.9 400.8h0M843.2 366.6h0M878.5 426.9h0M856.1 409.2h0M748.6 393.3h0M775.5 386.8h0M855.5 383.7h0M806.1 368.3h0M804.9 396.3h0M780.3 384.9h0M896.9 378.1h0M764.7 383.7h0M865.9 424.4h0M826.9 385.0h0M792.8 409.9h0M771.0 415.3h0M875.7 396.0h0M841.1 405.5h0M881.9 380.3h0M865.2 389.7h0M777.5 396.4h0M802.4 381.2h0M740.1 381.8h0M877.4 422.5h0M841.3 411.6h0M788.7 393.9h0M824.7 379.9h0M767.5 396.4h0M797.6 380.1h0M829.4 391.3h0M858.0 394.9h0M798.5 396.8h0M804.3 385.6h0M793.9 405.5h0M841.1 413.0h0M735.8 389.5h0M793.3 397.4h0M791.7 387.8h0M847.2 397.5h0M759.5 413.7h0M856.9 387.0h0M849.4 384.7h0M862.7 392.0h0M775.9 389.8h0M777.5 397.7h0M819.9 395.5h0M787.0 343.7h0M816.2 368.5h0M823.0 410.8h0M824.3 389.5h0M803.9 393.1h0M787.3 386.8h0M770.4 411.6h0M811.3 408.4h0M800.7 396.0h0M804.3 401.5h0M849.2 398.4h0M781.7 384.1h0M886.7 391.1h0M798.9 415.5h0M861.0 402.5h0M794.0 427.9h0M829.7 402.7h0M804.3 375.2h0M751.9 400.7h0M829.6 391.6h0M759.3 374.8h0M797.2 374.6h0M852.5 411.1h0M939.3 407.3h0M785.3 382.8h0M656.7 386.7h0M804.0 408.5h0M839.5 403.2h0M821.6 404.3h0M877.1 380.1h0M791.4 375.6h0M884.8 413.2h0M845.9 378.2h0M819.8 391.7h0M815.6 392.4h0M835.4 389.5h0M850.5 398.4h0M798.8 393.4h0M792.2 406.4h0M799.8 399.1h0M794.3 374.2h0M852.8 380.2h0M842.6 400.9h0M737.5 381.8h0M788.9 383.5h0M758.8 405.4h0M801.2 400.4h0M792.6 399.3h0M778.2 394.6h0M838.2 395.6h0M791.4 379.8h0M819.5 399.8h0M800.4 384.2h0M836.4 429.7h0M798.4 399.7h0M829.0 359.1h0M817.6 385.1h0M874.3 391.4h0M777.0 391.9h0M819.5 387.2h0M809.6 376.0h0M801.9 405.9h0M900.6 404.9h0M824.2 411.6h0M857.9 418.3h0M860.7 393.3h0M823.6 397.5h0M825.6 397.8h0M776.8 365.5h0M781.8 366.6h0M815.1 395.1h0M736.6 404.6h0M851.0 396.3h0M887.0 421.2h0M757.7 409.5h0M831.8 400.9h0M854.1 384.9h0M785.3 383.4h0M778.0 393.6h0M746.7 380.4h0M838.0 394.0h0M829.2 368.6h0M776.7 387.2h0M813.5 386.8h0M854.0 394.2h0M812.8 395.2h0M843.9 388.4h0M862.5 401.4h0M818.9 395.6h0M835.4 409.2h0M854.5 400.3h0M851.5 396.7h0M868.4 394.6h0M718.6 413.7h0M816.9 378.6h0M803.1 382.6h0M906.5 402.0h0M741.4 402.6h0M794.1 421.8h0M764.6 363.5h0M815.0 390.1h0M793.3 365.0h0M831.2 418.4h0M726.1 411.4h0M786.4 427.9h0M831.6 392.4h0M861.7 402.4h0M785.3 404.9h0M789.0 370.0h0M903.4 390.1h0M784.6 399.7h0M741.8 376.0h0M789.5 387.7h0M815.2 410.7h0M790.7 401.9h0M839.1 379.8h0M822.3 381.8h0M859.9 401.4h0M812.7 376.2h0M817.2 384.3h0M843.8 393.3h0M775.4 408.0h0M844.5 386.7h0M864.3 390.8h0M798.1 396.7h0M778.1 388.8h0M804.8 416.4h0M879.5 391.4h0M884.5 394.4h0M829.1 407.4h0M825.1 428.8h0M823.0 378.2h0M870.7 389.2h0M798.3 353.1h0M857.0 406.5h0M848.0 408.7h0M888.1 394.4h0M854.2 384.6h0M796.1 409.8h0M829.6 376.3h0M828.3 392.4h0M775.2 401.1h0M793.8 373.0h0M762.0 419.8h0M743.8 398.1h0M839.5 403.9h0M756.9 390.5h0M818.3 406.2h0M783.0 378.7h0M857.1 410.5h0M828.7 386.5h0M830.3 396.5h0M849.7 377.5h0M817.2 392.8h0M762.1 398.0h0M813.6 389.3h0M829.8 375.1h0M809.6 401.0h0M824.8 410.1h0M757.9 373.9h0M822.8 401.4h0M907.4 403.6h0M772.7 406.3h0M773.9 374.2h0M929.4 399.6h0M844.2 402.9h0M893.5 399.0h0M866.8 380.6h0M749.4 415.0h0M878.4 402.2h0M822.2 397.3h0M781.0 416.5h0M841.6 402.1h0M828.9 409.7h0M834.7 405.4h0M759.4 402.1h0M910.4 387.7h0M806.2 407.5h0M855.1 403.7h0M739.2 402.0h0M758.7 383.5h0M836.7 390.9h0M848.4 439.1h0M847.0 405.1h0M771.7 386.0h0M764.1 387.5h0M762.9 385.8h0M802.6 381.0h0M748.1 375.9h0M832.4 395.8h0M858.2 409.6h0M796.7 404.4h0M747.2 427.0h0M865.8 392.0h0M759.7 400.3h0M727.8 384.1h0M845.7 396.1h0M789.9 408.3h0M765.3 399.0h0M789.6 383.1h0M832.9 381.1h0M897.6 386.8h0M901.5 379.7h0M839.3 378.2h0M751.6 397.2h0M842.5 377.2h0M865.3 383.8h0M817.9 400.3h0M838.8 369.8h0M884.8 402.9h0M792.8 380.7h0M735.8 375.9h0M836.5 390.2h0M761.1 387.6h0M882.4 390.4h0M785.7 413.9h0M832.8 395.6h0M784.6 373.3h0M759.3 388.3h0M802.1 400.0h0M836.8 398.1h0M821.9 380.9h0M715.0 387.7h0M769.1 385.9h0M799.6 377.6h0M762.0 393.6h0M817.2 385.8h0M834.4 391.9h0M766.1 395.6h0M896.7 385.6h0M864.5 414.3h0M879.4 383.5h0M902.7 396.6h0M800.6 391.8h0M839.1 395.7h0M804.0 413.0h0M779.5 380.4h0M847.7 404.9h0M861.2 380.0h0M860.7 401.7h0M891.3 377.5h0M821.8 391.1h0M740.5 385.0h0M862.7 388.4h0M779.5 407.2h0M856.5 408.8h0M776.5 394.2h0M858.4 385.8h0M778.3 406.6h0M882.3 378.9h0M695.1 374.7h0M766.4 393.1h0M839.7 392.9h0M780.5 397.1h0M768.7 394.3h0M783.1 432.5h0M848.8 383.3h0M767.1 388.9h0M738.0 384.8h0M778.8 407.4h0M792.8 383.9h0M751.7 378.5h0M809.0 392.0h0M863.0 386.2h0M859.7 398.6h0M811.8 366.9h0M753.9 405.4h0M874.9 397.9h0M846.3 389.3h0M795.3 385.7h0M855.9 399.8h0M801.5 390.4h0M837.0 399.5h0M774.6 419.0h0M823.6 395.1h0M878.5 409.3h0M808.0 402.5h0M763.9 386.0h0M710.3 412.1h0M726.6 404.5h0M774.6 381.3h0M803.2 398.7h0M839.5 419.8h0M828.1 407.3h0M785.1 405.0h0M818.9 388.5h0M807.7 394.1h0M820.6 400.6h0M789.1 384.6h0M845.6 371.2h0M784.2 416.7h0M690.2 385.3h0M842.9 371.9h0M928.9 358.8h0M876.6 416.8h0M853.2 391.9h0M828.1 382.4h0M848.4 379.3h0M799.7 408.9h0M761.9 389.9h0M819.4 376.2h0M864.4 399.8h0M743.8 394.3h0M777.1 385.8h0M815.5 385.1h0M855.4 385.1h0M856.2 394.4h0M850.5 387.4h0M789.3 378.9h0M838.0 408.1h0M907.4 413.1h0M823.2 392.0h0M829.5 394.6h0M877.9 408.2h0M774.3 385.4h0M873.5 399.3h0M801.6 411.6h0M794.6 391.1h0M791.2 367.5h0M850.9 378.1h0M786.4 384.6h0M844.7 394.0h0M812.7 371.5h0M808.1 374.3h0M825.8 400.1h0M811.2 423.6h0M835.7 403.3h0M818.4 392.3h0M855.5 410.4h0M753.4 409.8h0M835.1 408.4h0M833.0 377.6h0M759.2 420.5h0M823.4 375.2h0M827.7 389.9h0M729.0 362.9h0M739.9 398.8h0M809.8 391.5h0M824.8 403.4h0M717.4 390.8h0M774.7 377.7h0M787.4 393.3h0M800.0 374.6h0M790.3 423.2h0M764.5 371.4h0M824.4 403.4h0M832.9 379.3h0M856.9 384.0h0M760.9 386.5h0M807.1 405.0h0M840.1 394.7h0M854.0 396.1h0M852.3 375.3h0M741.2 405.9h0M749.4 390.8h0M807.6 388.2h0M791.6 414.5h0M698.2 407.4h0M915.3 395.3h0M811.1 405.2h0M894.3 378.4h0M815.9 392.4h0M837.2 397.2h0M841.7 389.1h0M814.2 385.6h0M782.1 393.0h0M805.6 378.6h0M882.7 393.1h0M749.7 410.4h0M778.3 402.1h0M811.2 398.5h0M819.7 386.9h0M813.8 423.5h0M711.3 395.9h0M831.6 380.3h0M750.3 425.2h0M795.3 424.1h0M836.1 396.1h0M833.4 403.9h0M865.1 401.1h0M818.5 397.5h0M872.8 406.4h0M766.9 386.1h0M826.9 386.3h0M795.1 381.6h0M800.2 400.9h0M856.8 395.1h0M905.4 393.9h0M955.7 409.0h0M834.4 388.0h0M684.9 392.8h0M820.0 421.9h0M749.9 421.7h0M800.7 405.1h0M697.7 396.9h0M796.5 404.6h0M816.1 379.0h0M854.6 404.7h0M838.9 409.1h0M861.5 394.7h0M750.9 375.6h0M826.4 463.5h0M808.9 449.8h0M807.9 455.3h0M802.8 446.6h0M837.8 457.7h0M799.0 439.4h0M797.3 463.6h0M818.1 452.4h0M808.2 451.3h0M792.0 470.6h0M812.7 484.7h0M796.9 453.3h0M819.9 452.1h0M788.1 443.6h0M808.9 459.1h0M806.2 467.0h0M821.4 458.9h0M807.9 452.0h0M815.2 466.0h0M808.3 460.4h0M803.0 438.1h0M793.5 464.2h0M813.8 474.1h0M808.3 465.4h0M826.0 466.9h0M799.0 452.8h0M809.3 443.2h0M814.1 467.3h0M800.8 478.7h0M803.4 452.6h0M804.2 446.5h0M813.4 455.2h0M830.8 462.3h0M815.0 452.3h0M787.7 453.9h0M795.6 466.4h0M807.1 475.0h0M817.8 465.0h0M810.7 457.5h0M816.6 466.1h0M797.6 460.9h0M844.2 453.9h0M803.9 446.7h0M787.2 469.3h0M808.4 458.6h0M833.3 485.1h0M795.1 467.7h0M816.2 459.8h0M814.2 454.7h0M829.8 462.4h0M812.4 470.0h0M820.1 460.6h0M812.1 476.1h0M814.7 454.0h0M795.5 450.9h0M792.8 456.3h0M811.1 430.4h0M807.8 462.8h0M809.9 443.6h0M825.3 446.7h0M790.3 442.1h0M807.3 466.8h0M823.9 457.5h0M790.8 447.1h0M795.0 452.9h0M782.7 456.4h0M816.6 453.2h0M814.0 443.8h0M787.1 447.4h0M823.7 467.4h0M801.1 469.5h0M803.0 473.2h0M814.3 449.6h0M818.6 445.7h0M794.4 437.6h0M811.1 454.4h0M806.4 450.1h0M827.6 449.9h0M797.4 470.0h0M827.4 459.1h0M783.1 447.8h0M816.1 455.2h0M829.3 438.6h0M817.0 447.5h0M826.0 454.1h0M821.9 447.2h0M787.8 441.7h0M799.0 442.7h0M824.3 471.1h0M811.3 442.6h0M805.8 446.8h0M827.9 458.8h0M814.4 450.2h0M779.3 445.7h0M791.9 459.4h0M808.9 445.4h0M802.1 473.8h0M794.1 444.0h0M804.3 446.6h0M801.5 461.4h0M831.8 433.6h0M807.2 455.5h0M806.3 452.8h0M802.7 467.1h0M801.0 453.5h0M807.5 456.3h0M805.1 467.0h0M807.4 457.1h0M806.8 443.0h0M795.9 442.4h0M810.2 446.4h0M792.6 457.9h0M814.9 433.9h0M831.2 455.4h0M806.0 467.8h0M808.5 447.8h0M838.2 442.1h0M806.1 465.2h0M792.5 453.8h0M812.9 483.8h0M795.0 454.4h0M816.7 456.0h0M790.7 459.9h0M809.0 460.3h0M823.3 467.2h0M813.2 458.7h0M792.1 453.4h0M810.6 450.2h0M808.9 445.1h0M829.0 480.8h0M802.0 459.8h0M804.2 470.2h0M813.6 455.9h0M804.4 456.5h0M793.5 463.1h0M797.5 461.4h0M809.3 468.1h0M807.3 467.3h0M794.6 462.3h0M804.4 457.3h0M808.5 466.2h0M779.2 458.9h0M786.6 469.5h0M779.9 443.0h0M784.1 474.7h0M789.5 456.4h0M800.0 433.4h0M802.8 463.0h0M804.9 466.3h0M802.4 455.1h0M802.1 459.1h0M834.1 459.3h0M810.2 447.6h0M796.9 472.6h0M791.9 444.0h0M806.1 449.9h0M834.9 426.6h0M812.6 463.6h0M791.8 447.3h0M813.6 474.6h0M794.6 436.0h0M821.1 473.3h0M802.8 428.4h0M827.8 452.6h0M823.2 454.5h0M802.2 449.6h0M828.1 472.2h0M777.6 443.8h0M832.4 450.6h0M788.5 455.1h0M806.0 453.8h0M800.8 451.3h0M801.1 459.0h0M796.1 451.5h0M805.5 470.7h0M812.7 453.7h0M815.0 459.9h0M822.7 461.1h0M832.6 471.1h0M806.9 450.0h0M819.9 461.2h0M806.2 437.3h0M781.8 459.2h0M818.3 464.6h0M789.5 467.4h0M800.0 459.7h0M813.3 445.4h0M799.2 430.1h0M794.7 433.4h0M813.6 455.7h0M820.3 459.3h0M798.6 459.2h0M802.0 462.3h0M811.9 443.1h0M807.5 455.7h0M803.2 465.7h0M831.5 450.6h0M802.6 428.0h0M805.7 449.8h0M777.2 458.5h0M815.8 446.2h0M802.3 443.4h0M818.2 436.8h0M803.1 478.4h0M808.2 460.6h0M805.4 440.9h0M807.0 459.9h0M793.2 459.1h0M824.9 467.8h0M785.3 443.3h0M784.9 467.9h0M816.0 463.4h0M795.2 441.0h0M808.6 456.2h0M795.5 456.7h0M816.5 457.7h0M792.9 429.6h0M803.9 457.0h0M803.9 449.9h0M797.8 463.6h0M806.8 456.5h0M793.9 447.6h0M809.8 442.9h0M789.9 451.1h0M824.3 457.3h0M827.9 453.4h0M803.2 438.3h0M799.4 472.2h0M812.1 463.8h0M817.4 454.9h0M804.6 456.4h0M816.9 460.5h0M814.4 456.8h0M796.7 451.9h0M794.3 467.1h0M778.1 452.4h0M840.9 450.9h0M791.6 454.8h0M825.6 453.1h0M816.1 456.2h0M802.3 492.8h0M808.5 448.6h0M800.6 459.6h0M813.2 464.3h0M809.5 437.8h0M814.9 451.3h0M803.5 437.2h0M799.5 446.3h0M807.0 437.6h0M808.2 456.5h0M791.8 447.5h0M795.5 465.9h0M772.1 450.9h0M784.3 449.8h0M819.4 447.4h0M809.4 444.9h0M834.7 466.0h0M823.3 439.1h0M792.1 468.0h0M804.8 451.9h0M812.2 439.9h0M818.3 455.2h0M814.2 447.0h0M814.7 446.5h0M820.9 468.6h0M820.3 461.2h0M816.4 422.5h0M819.2 451.7h0M808.8 451.6h0M788.0 448.5h0M816.7 472.0h0M798.8 444.2h0M827.8 444.4h0M836.5 455.6h0M795.1 466.8h0M831.2 437.8h0M829.3 451.6h0M828.3 450.4h0M785.4 461.0h0M820.5 480.2h0M831.6 463.3h0M804.2 448.8h0M803.4 445.0h0M803.7 424.5h0M810.0 454.7h0M843.4 464.1h0M800.8 461.8h0M790.3 447.8h0M781.4 472.2h0M815.8 440.9h0M806.7 466.4h0M814.4 459.6h0M795.5 447.4h0M808.8 466.0h0M795.9 441.5h0M823.5 443.8h0M822.6 457.9h0M819.8 475.9h0M817.1 464.3h0M794.7 446.7h0M785.2 245.3h0M791.1 253.2h0M782.5 232.0h0M788.0 230.2h0M779.5 219.5h0M787.9 219.3h0M784.1 215.8h0M788.8 219.7h0M786.7 214.1h0M776.5 241.8h0M773.6 230.7h0M776.2 206.9h0M782.5 234.3h0M771.1 235.7h0M773.6 220.0h0M780.1 223.2h0M798.3 214.5h0M785.9 239.9h0M764.2 212.7h0M784.5 225.2h0M783.1 241.4h0M777.0 219.4h0M758.2 232.0h0M772.6 233.1h0M781.9 216.2h0M793.8 240.8h0M786.8 218.2h0M776.7 224.5h0M776.7 218.8h0M783.5 232.3h0M782.9 224.9h0M790.3 231.9h0M758.1 223.6h0M779.5 239.7h0M777.6 227.5h0M774.7 236.7h0M776.4 224.0h0M774.1 235.6h0M775.7 213.2h0M785.0 223.0h0M782.9 233.7h0M789.6 240.4h0M775.4 228.3h0M769.7 246.8h0M783.5 243.9h0M777.4 209.5h0M792.3 230.9h0M781.1 230.6h0M785.2 235.3h0M767.3 240.9h0M775.8 225.3h0M793.8 239.2h0M777.3 211.4h0M781.3 235.4h0M779.4 217.5h0M773.7 217.4h0M781.7 238.2h0M788.2 222.7h0M781.9 235.5h0M775.9 228.5h0M797.0 232.1h0M787.1 225.7h0M780.3 212.9h0M779.8 241.9h0M796.8 242.0h0M785.5 230.5h0M775.2 228.4h0M784.9 222.1h0M787.5 220.2h0M765.8 219.9h0M766.7 216.3h0M789.1 228.0h0M781.7 241.6h0M790.1 225.0h0M790.6 233.8h0M780.0 234.4h0M768.6 222.1h0M779.1 236.1h0M777.0 228.7h0M787.8 244.1h0M786.1 242.7h0M776.8 226.9h0M782.5 227.0h0M775.9 246.5h0M778.4 220.3h0M783.9 248.4h0M780.6 242.3h0M776.5 225.1h0M774.5 228.6h0M794.7 218.4h0M793.1 219.9h0M778.1 238.4h0M785.0 232.8h0M766.8 233.6h0M771.8 255.7h0M778.3 231.9h0M770.8 225.2h0M769.7 239.8h0M777.9 235.6h0M774.5 225.0h0M790.3 220.3h0M765.6 234.1h0M770.9 225.6h0M787.3 221.8h0M787.0 223.2h0M791.9 243.3h0M776.2 227.9h0M773.3 232.0h0M789.2 215.5h0M787.3 216.8h0M773.1 212.1h0M796.8 230.6h0M782.0 223.2h0M788.5 209.0h0M780.2 252.1h0M776.9 230.2h0M785.4 221.9h0M780.2 239.6h0M781.6 233.7h0M777.2 233.2h0M875.6 314.6h0M882.2 297.6h0M850.5 307.2h0M882.6 290.8h0M855.0 288.6h0M884.3 289.4h0M870.4 302.2h0M887.2 299.8h0M874.0 294.5h0M891.3 310.7h0M874.0 286.0h0M867.1 305.8h0M867.8 308.9h0M878.6 302.9h0M881.5 305.0h0M866.4 296.7h0M898.4 287.9h0M870.3 310.7h0M873.4 291.9h0M861.8 305.4h0M885.2 314.0h0M875.5 310.4h0M864.7 301.7h0M868.2 301.7h0M882.5 310.7h0M865.1 312.7h0M870.3 289.7h0M873.3 285.4h0M875.0 302.9h0M873.0 305.4h0M871.9 300.0h0M860.6 300.4h0M866.5 295.5h0M874.1 301.9h0M858.5 284.4h0M872.0 304.7h0M878.6 308.9h0M888.0 305.0h0M874.8 289.7h0M865.5 295.3h0M877.7 302.2h0M875.0 298.5h0M881.3 302.1h0M878.0 303.1h0M869.5 289.7h0M879.9 304.2h0M872.8 295.8h0M897.8 292.4h0M872.8 302.7h0M863.5 301.2h0M893.0 309.3h0M881.3 305.9h0M876.1 309.6h0M873.4 295.8h0M876.0 309.1h0M878.3 306.7h0M854.8 311.9h0M898.4 313.3h0M871.8 291.5h0M877.8 290.1h0M882.3 294.7h0M884.6 313.6h0M854.7 302.9h0M868.0 285.9h0M868.8 297.8h0M885.3 284.8h0M885.5 320.2h0M881.0 305.5h0M874.9 288.2h0M880.3 303.8h0M882.3 325.7h0M882.3 304.3h0M890.6 286.5h0M863.6 296.2h0M868.5 306.9h0M871.8 317.4h0M890.2 307.7h0M871.1 306.2h0M883.1 289.3h0M878.5 307.1h0M877.2 315.7h0M887.1 291.7h0M876.2 291.6h0M880.8 291.3h0M884.2 303.9h0M884.7 298.5h0M860.4 317.7h0M873.3 313.8h0M879.3 306.7h0M893.3 303.4h0M889.0 285.2h0M883.7 297.6h0M873.7 300.1h0M878.5 316.6h0M856.5 300.4h0M867.8 311.7h0M870.8 304.6h0M871.0 306.7h0M885.1 296.0h0M875.5 285.8h0M878.1 308.6h0M869.4 311.2h0M854.3 281.5h0M861.1 295.2h0M875.2 299.2h0M874.3 307.2h0M870.3 287.4h0M862.6 321.1h0M851.5 298.2h0M889.6 304.8h0M866.7 300.0h0M883.6 312.1h0M866.0 307.6h0M877.5 311.0h0M888.9 296.6h0M860.5 304.0h0M892.8 306.9h0M877.3 324.0h0M864.6 309.0h0M869.3 300.5h0M875.9 315.1h0M865.6 294.6h0M859.1 304.9h0M870.4 304.2h0M864.3 296.4h0M885.4 298.3h0M881.3 305.3h0M871.5 284.4h0M884.9 301.7h0M884.8 279.9h0M858.5 278.6h0M866.2 310.4h0M880.7 299.7h0M876.3 307.6h0M872.0 304.0h0M876.4 278.1h0M871.2 313.6h0M871.0 298.6h0M868.9 295.2h0M886.2 297.3h0M864.8 268.9h0M869.3 280.3h0M856.8 308.0h0M882.1 280.8h0M883.5 304.6h0M867.2 307.3h0M858.7 288.0h0M860.6 288.9h0M883.8 286.7h0M863.5 290.5h0M708.0 117.3h0M714.6 115.4h0M693.1 116.5h0M706.3 114.3h0M708.7 128.1h0M700.1 119.2h0M719.4 115.7h0M697.4 113.5h0M709.9 121.5h0M704.4 119.1h0M718.6 123.2h0M691.8 118.9h0M706.8 122.5h0M703.5 115.7h0M701.2 110.0h0M705.5 115.9h0M710.4 113.7h0M701.3 114.0h0M695.0 122.3h0M701.0 121.1h0M694.5 119.3h0M688.7 116.4h0M700.6 121.7h0M707.4 117.9h0M714.0 119.7h0M711.0 122.6h0M704.9 117.3h0M708.8 116.7h0M709.4 124.3h0M714.1 116.9h0M692.7 118.5h0M704.3 124.3h0M701.7 117.7h0M712.9 116.4h0M703.9 127.3h0M720.4 121.9h0M708.2 113.9h0M711.1 119.1h0M707.7 116.2h0M705.4 117.8h0M708.7 125.9h0M709.1 110.5h0M695.8 110.9h0M697.6 121.6h0M709.5 115.8h0M708.2 115.0h0M691.3 111.7h0M696.9 125.8h0M692.1 125.0h0M718.8 117.8h0M705.0 115.7h0M705.3 122.0h0M705.6 123.7h0M717.3 120.5h0M708.8 118.4h0M708.9 113.2h0M709.5 119.8h0M696.9 129.5h0M695.8 114.4h0M708.3 109.1h0" stroke="#DCDDDF" stroke-width="0.8" stroke-opacity="0.7" stroke-linecap="square" fill="none"/>
<path d="M1042.6 293.5h0M1044.4 302.5h0M1056.2 306.7h0M1059.8 306.0h0M1054.6 296.4h0M1058.3 295.0h0M1050.6 311.7h0M1057.5 300.1h0M1058.7 304.2h0M1041.7 303.7h0M1043.5 304.6h0M1049.8 310.8h0M1053.3 294.5h0M1048.7 293.5h0M1053.0 304.0h0M1049.1 288.4h0M1050.3 304.8h0M1056.2 307.1h0M1043.6 307.3h0M1047.3 303.7h0M1055.9 304.0h0M1047.8 303.4h0M1040.1 295.2h0M1055.3 299.0h0M1038.2 299.8h0M1055.1 310.2h0M1060.6 303.0h0M1038.7 304.8h0M1055.7 302.0h0M1053.9 298.3h0M1067.1 305.3h0M1048.6 295.1h0M1064.7 292.2h0M1064.1 309.4h0M1045.5 305.0h0M1050.2 304.8h0M1058.0 311.9h0M1055.6 299.2h0M1058.8 296.2h0M1053.9 315.4h0M1044.6 299.9h0M1049.4 294.2h0M1038.9 312.6h0M1044.7 299.5h0M1046.6 295.8h0M1044.2 304.5h0M1070.0 299.1h0M1053.4 289.7h0M1048.7 293.6h0M1056.4 297.4h0M1051.5 300.2h0M1044.0 293.0h0M1052.5 290.9h0M1042.5 302.0h0M1047.1 304.2h0M1059.1 299.7h0M1052.9 300.4h0M1053.4 287.3h0M1052.0 294.2h0M1042.8 304.0h0M1050.0 305.3h0M1054.0 283.8h0M1055.3 312.9h0M1060.8 307.4h0M1049.0 291.8h0M1045.1 308.0h0M1056.6 293.9h0M1050.1 303.1h0M1038.3 303.1h0M1067.7 310.0h0M1054.8 312.3h0M1046.0 297.2h0M1037.8 312.4h0M1054.0 316.0h0M1054.2 301.1h0M1042.1 314.6h0M1048.5 300.7h0M1038.0 312.1h0M1057.1 294.6h0M1053.0 303.0h0M1058.5 299.0h0M1063.1 294.9h0M1046.2 299.5h0M1031.8 302.4h0M1059.2 299.8h0M1046.5 305.0h0M1036.6 304.2h0M1056.7 303.7h0M1048.1 308.4h0M1063.7 293.4h0M1053.3 289.4h0M1039.0 309.6h0M1052.3 301.9h0M1046.7 300.5h0M1061.0 309.2h0M1046.3 291.3h0M1061.8 301.2h0M1056.7 300.2h0M1068.1 295.3h0M1051.0 288.2h0M1045.9 298.1h0M1052.1 303.0h0M1050.1 313.3h0M1043.0 300.8h0M1050.4 292.6h0M1057.0 303.2h0M1053.7 313.2h0M1052.7 302.3h0M1041.0 293.0h0M1046.4 300.5h0M1050.0 306.7h0M1032.2 300.0h0M1041.6 313.7h0M1046.4 299.1h0M1045.8 309.1h0M1049.1 303.2h0M1039.8 313.2h0M1055.5 303.2h0M1059.8 296.5h0M1052.0 305.6h0M1054.0 298.2h0M1050.7 297.6h0M1058.7 304.7h0M1055.8 312.3h0M1040.2 303.4h0M1062.7 293.9h0M1043.4 313.5h0M1052.7 292.1h0M1054.7 292.6h0M1041.7 303.3h0M1045.7 295.3h0M1046.7 295.6h0M1051.9 300.5h0M1055.8 296.1h0M1039.2 296.2h0M1053.2 310.9h0M1056.1 294.7h0M1055.6 291.3h0M1057.9 295.9h0M1058.4 302.7h0M1050.3 303.6h0M1043.9 303.1h0M1068.4 323.1h0M1056.7 299.6h0M1046.8 309.9h0M1038.1 300.2h0M1051.4 292.5h0M1064.9 303.6h0M1046.3 298.9h0M1039.1 295.6h0M1056.1 303.5h0M1054.6 301.6h0M1048.4 304.5h0M1041.2 304.7h0M1064.9 305.2h0M1047.6 300.0h0M1065.3 308.2h0M1040.0 302.1h0M1055.9 307.7h0M1047.1 306.9h0M1054.8 316.2h0M1054.3 298.9h0M1051.6 308.2h0M1054.0 292.5h0M1050.1 292.1h0M1043.3 294.8h0M1040.7 300.0h0M1045.8 306.6h0M1056.7 297.3h0M1045.5 308.7h0M1032.9 294.2h0M1058.2 303.0h0M1058.0 297.0h0M1041.5 301.0h0M1053.9 294.7h0M1043.5 294.1h0M1045.2 309.0h0M1052.2 292.5h0M1042.7 300.2h0M1052.9 292.3h0M1045.6 288.1h0M1043.6 306.7h0M1055.4 291.4h0M1047.9 307.7h0M1047.6 298.5h0M1055.7 300.7h0M1061.2 302.9h0M1047.2 301.6h0M1048.1 292.7h0M1046.9 309.3h0M1042.6 311.0h0M1053.3 299.3h0M1056.5 302.4h0M1059.3 295.3h0M1049.4 299.9h0M1067.0 301.8h0M1044.3 301.2h0M1046.7 302.8h0M1058.2 314.4h0M1041.0 311.9h0M1053.1 295.4h0M1049.5 298.2h0M1054.2 306.9h0M1043.8 312.8h0M1052.3 311.0h0M1057.3 307.4h0M1058.1 306.1h0M1050.2 295.6h0M1058.0 303.5h0M1062.0 283.2h0M1052.6 307.9h0M1042.3 302.7h0M1069.8 304.1h0M1048.7 311.9h0M1061.8 302.6h0M1054.9 301.4h0M1044.4 300.0h0M1057.2 299.9h0M1064.0 294.1h0M1034.0 305.0h0M1054.5 302.5h0M1050.4 295.7h0M1060.8 293.0h0M1056.1 297.3h0M1046.4 312.6h0M1032.1 302.1h0M1054.0 297.6h0M1056.8 298.4h0M1053.4 315.3h0M1049.9 300.5h0M1042.5 299.1h0M1057.6 302.7h0M1050.2 296.6h0M1052.9 288.8h0M1048.8 300.3h0M1046.2 304.0h0M1045.3 297.7h0M1066.2 300.8h0M1060.4 298.2h0M1060.4 303.2h0M1065.7 312.3h0M1050.9 303.1h0M1043.7 279.6h0M1042.1 304.7h0M1055.1 295.8h0M1062.8 305.9h0M1052.2 310.7h0M1065.3 299.3h0M1048.3 312.5h0M1050.0 299.1h0M1051.6 297.4h0M1061.3 303.0h0M1061.9 301.4h0M1046.0 302.1h0M1057.3 296.3h0M1072.0 292.0h0M1050.4 309.5h0M1057.2 298.9h0M1051.3 304.2h0M1059.6 303.5h0M1050.8 304.4h0M1059.6 303.5h0M1028.3 303.5h0M1046.0 301.6h0M1055.3 306.2h0M1056.1 298.6h0M1056.1 311.7h0M1048.4 304.4h0M1063.8 299.1h0M1038.4 308.5h0M1049.0 301.3h0M1060.5 301.2h0M1052.1 307.1h0M1055.3 300.5h0M1054.7 301.8h0M1048.6 299.1h0M1050.1 295.1h0M1046.0 312.2h0M1050.3 301.5h0M1051.1 301.5h0M1052.3 301.3h0M1048.4 308.8h0M1049.4 309.1h0M1036.1 299.4h0M1058.7 297.6h0M1048.1 305.0h0M1044.8 304.2h0M1035.4 303.9h0M1048.6 306.0h0M1056.3 293.5h0M1062.0 293.3h0M1032.2 291.7h0M1062.7 296.5h0M1045.8 298.1h0M1047.3 312.1h0M1055.4 312.1h0M1045.4 287.2h0M1057.1 296.6h0M1053.8 311.2h0M1052.7 308.8h0M1050.3 296.4h0M1054.2 296.0h0M1062.8 303.7h0M1053.8 304.6h0M1055.4 297.9h0M1057.8 297.3h0M1054.2 293.6h0M1053.6 303.3h0M1045.5 300.5h0M1049.9 306.8h0M1047.9 305.5h0M1063.6 299.3h0M1041.0 305.9h0M1058.8 296.6h0M1061.3 302.0h0M1054.5 298.4h0M1047.9 300.8h0M1053.7 304.1h0M1054.4 298.1h0M1053.4 303.2h0M1038.9 300.5h0M1046.0 301.8h0M1049.6 300.2h0M1047.5 307.4h0M1050.4 290.3h0M1049.7 294.1h0M1063.1 293.9h0M1049.6 302.6h0M1050.6 301.2h0M1063.6 298.5h0M1060.5 305.8h0M1049.0 313.9h0M1059.1 305.1h0M1047.9 308.3h0M1053.9 296.7h0M1069.5 298.7h0M1050.9 302.9h0M1061.1 305.6h0M1059.0 307.0h0M1059.8 289.8h0M1046.7 296.6h0M1056.1 309.6h0M1054.5 293.0h0M1052.4 308.1h0M1048.2 301.8h0M1050.3 289.2h0M1058.4 301.2h0M1054.0 293.6h0M1045.4 299.4h0M1054.1 300.9h0M1057.1 311.7h0M1059.8 293.3h0M1051.4 313.2h0M1053.0 310.3h0M1062.2 293.7h0M1050.5 302.3h0M1043.9 297.3h0M1051.3 307.3h0M1048.6 301.0h0M1045.9 293.9h0M1057.4 283.0h0M1048.8 306.2h0M1043.7 308.3h0M1059.1 292.6h0M1051.2 293.8h0M1056.0 300.3h0M1056.7 308.9h0M1058.5 308.1h0M1054.0 292.1h0M1055.1 303.4h0M1045.0 312.9h0M1053.5 303.1h0M1046.0 303.8h0M1053.6 298.3h0M1048.0 287.9h0M1059.3 290.8h0M1034.7 300.8h0M1047.5 306.5h0M1046.4 305.1h0M1050.3 317.0h0M1060.4 311.6h0M1046.5 307.7h0M1046.7 307.0h0M1053.4 289.6h0M1041.6 296.9h0M1039.9 300.4h0M1042.2 294.7h0M1054.0 304.1h0M1041.6 301.0h0M1051.7 299.6h0M1049.0 307.8h0M1059.6 303.0h0M1055.1 313.7h0M1063.5 294.1h0M1053.9 308.6h0M1047.4 305.5h0M1050.9 296.6h0M1047.0 292.0h0M1043.8 290.2h0M1071.5 304.4h0M1061.4 299.7h0M1061.9 306.2h0M1061.3 304.0h0M1046.6 306.0h0M1045.7 295.2h0M1045.0 306.6h0M1056.4 290.0h0M1067.6 305.5h0M1048.3 299.2h0M1053.7 307.2h0M1046.9 295.2h0M1049.9 287.5h0M1055.6 307.7h0M1055.9 305.0h0M1057.1 304.2h0M1051.2 295.6h0M1050.3 301.1h0M1064.5 307.7h0M1053.3 295.3h0M1046.4 301.7h0M1062.5 299.5h0M1049.9 296.5h0M1058.9 300.5h0M1051.9 301.8h0M1063.5 295.7h0M1066.7 304.3h0M1054.3 306.3h0M1049.3 296.3h0M1048.1 296.1h0M1055.6 299.8h0M1057.8 304.6h0M1030.7 310.9h0M1039.7 306.6h0M1046.0 303.9h0M1057.8 287.1h0M1053.2 300.0h0M1040.1 309.8h0M1051.1 297.8h0M1054.1 322.5h0M1045.2 291.0h0M1044.6 301.1h0M1049.1 301.5h0M1045.8 307.0h0M1045.6 293.9h0M1045.4 300.7h0M1059.1 301.8h0M1049.7 302.0h0M1058.0 312.9h0M1048.7 305.4h0M1055.0 293.3h0M1053.7 301.5h0M1050.0 305.7h0M1061.8 305.3h0M1051.1 302.7h0M1066.1 288.2h0M1055.5 305.9h0M1054.5 304.6h0M1054.9 305.2h0M1060.5 296.4h0M1053.3 300.2h0M1049.1 301.9h0M1045.7 308.5h0M1067.8 307.0h0M1058.8 291.8h0M1061.1 292.7h0M1055.7 312.4h0M1046.3 308.9h0M1053.6 299.3h0M1046.8 305.8h0M1051.1 308.6h0M1057.6 289.4h0M1047.7 300.3h0M1041.2 297.2h0M1052.2 299.5h0M1039.2 302.0h0M1053.0 292.3h0M1049.0 313.1h0M1057.7 287.7h0M1043.3 306.8h0M1043.0 302.5h0M1050.1 305.6h0M1029.3 294.0h0M1045.6 310.3h0M1047.1 291.0h0M1057.0 304.1h0M1049.5 299.6h0M1057.8 307.3h0M1054.3 303.9h0M1050.8 298.8h0M1046.1 304.9h0M1049.3 300.3h0M1059.6 301.6h0M1054.6 289.1h0M1054.6 296.0h0M1044.4 297.9h0M1062.4 302.9h0M1044.4 295.9h0M1051.1 298.2h0M1060.4 287.8h0M1038.5 304.1h0M1052.4 301.8h0M1061.9 311.7h0M1048.4 298.6h0M1040.1 307.0h0M1057.4 297.2h0M1060.4 298.2h0M1063.4 299.1h0M1043.1 299.8h0M1037.3 294.3h0M1055.8 305.6h0M1065.7 295.7h0M1047.9 294.8h0M1059.8 300.8h0M1049.3 306.7h0M1051.8 288.1h0M1057.5 299.9h0M1048.3 299.5h0M1067.7 305.9h0M1062.3 289.3h0M1049.4 308.2h0M1041.9 299.7h0M1043.4 316.9h0M1060.5 301.1h0M1052.6 297.9h0M1050.6 305.8h0M1049.7 310.3h0M1046.6 296.9h0M1060.8 296.8h0M1055.0 297.0h0M1037.4 310.1h0M1044.9 311.1h0M1036.9 293.6h0M1055.1 302.8h0M1050.1 293.3h0M1055.0 289.8h0M1047.0 297.4h0M1051.2 307.2h0M1048.8 306.1h0M1053.1 288.8h0M1042.9 301.7h0M1048.5 304.4h0M1040.0 310.4h0M1056.9 298.1h0M1042.3 304.6h0M1049.5 305.8h0M1053.0 305.7h0M1052.2 310.9h0M1033.5 300.7h0M1052.1 290.5h0M1054.5 291.7h0M1050.6 295.2h0M1049.3 303.2h0M1050.4 298.9h0M1067.2 295.5h0M1047.2 309.2h0M1060.5 306.4h0M1062.5 290.7h0M1062.0 305.2h0M1052.5 302.5h0M1029.6 305.2h0M1060.6 285.5h0M1048.9 304.1h0M1059.7 309.5h0M1039.7 305.8h0M1055.1 290.8h0M1055.9 312.6h0M1062.5 300.9h0M1033.3 306.9h0M1054.0 298.1h0M1058.4 320.0h0M1048.3 295.6h0M1053.0 298.4h0M1049.6 301.3h0M1058.0 300.5h0M1043.2 303.3h0M1054.3 296.9h0M1061.8 302.8h0M1045.7 305.5h0M1069.4 305.4h0M1053.6 306.6h0M1044.0 293.9h0M1056.5 301.1h0M1055.6 299.5h0M1053.2 297.0h0M1057.2 304.9h0M1053.4 306.1h0M1037.8 300.7h0M1066.1 308.1h0M1053.5 299.7h0M1043.9 306.5h0M1054.2 290.0h0M1057.0 302.6h0M1052.6 293.0h0M1052.5 290.5h0M1062.8 298.0h0M1046.8 312.2h0M1058.7 294.1h0M1065.3 289.2h0M1056.8 307.4h0M1038.2 312.9h0M1051.5 301.1h0M1045.1 305.8h0M1042.0 297.9h0M1046.1 294.7h0M1060.1 288.8h0M1046.0 301.0h0M1053.8 305.8h0M1057.1 297.1h0M1049.4 302.2h0M1059.3 303.2h0M1043.8 289.7h0M1069.2 301.3h0M1054.6 302.4h0M1046.1 296.2h0M1049.2 300.5h0M1044.4 293.7h0M1051.1 305.3h0M1048.6 302.4h0M1036.9 305.0h0M1048.4 293.8h0M1040.7 308.0h0M1047.4 306.1h0M1050.4 305.9h0M1046.3 292.7h0M1050.7 299.2h0M1055.6 296.6h0M1051.1 307.3h0M1061.9 302.6h0M1060.3 301.1h0M1059.4 304.4h0M1055.0 300.3h0M1058.3 315.3h0M1051.6 299.5h0M1049.4 301.7h0M1051.2 293.5h0M1038.7 307.9h0M1041.3 306.7h0M1055.6 307.7h0M1064.6 299.0h0M1045.5 295.2h0M1046.5 303.3h0M1037.6 306.8h0M1053.3 305.0h0M1049.9 302.5h0M1045.8 300.1h0M1039.8 306.3h0M1063.3 298.0h0M1052.4 294.1h0M1060.4 292.6h0M1057.9 299.6h0M1047.5 309.7h0M1052.5 302.1h0M1055.1 299.7h0M1050.4 304.8h0M1049.3 302.4h0M1044.0 293.6h0M1046.2 299.7h0M1054.7 308.2h0M1040.4 306.1h0M1034.1 300.3h0M1043.4 288.5h0M1039.2 306.7h0M1052.3 300.1h0M1051.1 316.2h0M1048.9 296.1h0M1065.2 300.4h0M1052.0 309.2h0M1054.5 304.5h0M1051.4 294.1h0M1059.2 299.5h0M1043.2 298.9h0M1057.9 296.3h0M1053.8 304.9h0M1049.5 291.3h0M1058.6 305.1h0M1061.7 308.7h0M1056.3 304.8h0M1062.6 295.1h0M1068.1 307.1h0M1061.6 310.2h0M1056.0 293.4h0M1060.7 300.1h0M1055.3 300.9h0M1062.8 300.9h0M1048.2 305.8h0M1055.5 294.7h0M1048.1 299.8h0M1048.5 304.7h0M1063.4 309.9h0M1062.7 304.2h0M1063.0 306.2h0M1050.9 306.2h0M1054.0 299.4h0M1047.7 299.1h0M1047.4 294.1h0M1055.6 299.5h0M1053.5 302.8h0M1055.8 295.5h0M1047.7 291.4h0M1032.0 294.8h0M1058.8 285.9h0M1058.6 308.8h0M1052.4 312.1h0M1067.1 302.0h0M1070.1 298.7h0M1048.0 306.1h0M1046.0 294.2h0M1048.2 318.4h0M1048.2 302.3h0M1047.7 303.6h0M1049.5 299.1h0M1040.4 295.5h0M1047.5 304.7h0M1069.1 302.2h0M1066.1 299.3h0M1048.6 293.2h0M1047.4 288.0h0M1053.7 311.8h0M1057.0 307.1h0M1046.4 293.6h0M1047.9 299.9h0M1065.1 310.1h0M1046.2 300.8h0M1050.4 299.3h0M1043.7 304.8h0M1055.6 302.5h0M1043.5 303.5h0M1042.0 311.1h0M1044.4 302.0h0M1047.8 298.7h0M1040.9 293.0h0M1065.0 298.2h0M1058.8 313.2h0M1052.8 304.7h0M1055.1 308.3h0M1056.5 301.7h0M1051.1 303.5h0M1055.9 285.4h0M1050.5 298.9h0M1045.8 289.8h0M1055.6 294.1h0M1049.6 298.6h0M1039.5 302.7h0M1037.2 300.1h0M1050.1 301.9h0M1052.4 300.1h0M1068.3 298.3h0M1042.3 300.5h0M1047.3 301.7h0M1046.2 297.4h0M1064.0 297.2h0M1049.4 300.4h0M1053.9 310.2h0M1058.2 306.8h0M1031.1 311.1h0M1064.2 310.5h0M1048.7 290.6h0M1055.1 296.0h0M1038.3 301.9h0M1062.4 305.8h0M1055.1 292.9h0M1067.5 287.5h0M1048.6 292.5h0M1062.6 300.5h0M1058.8 299.4h0M1052.3 302.4h0M1041.3 312.1h0M1057.9 296.4h0M1052.9 303.0h0M1064.4 299.8h0M1051.5 297.9h0M1040.5 301.4h0M1052.3 299.4h0M1054.6 305.5h0M1056.1 301.7h0M1057.5 300.6h0M1053.2 304.1h0M1043.0 313.2h0M1045.2 309.6h0M1055.0 307.9h0M1050.6 295.3h0M1060.4 299.5h0M1053.5 301.4h0M1061.3 303.6h0M1050.6 291.1h0M1049.9 302.9h0M1066.0 298.9h0M1054.5 308.7h0M1051.6 301.3h0M1050.3 291.6h0M1060.2 301.3h0M1048.0 294.9h0M1057.1 309.2h0M1045.6 296.4h0M1051.9 290.4h0M1035.9 304.2h0M1047.0 301.3h0M1049.4 304.6h0M1049.6 298.1h0M1050.7 306.2h0M1065.1 299.8h0M1063.8 283.0h0M1055.3 295.0h0M1061.3 289.8h0M1067.4 297.4h0M1057.2 296.9h0M1058.6 293.2h0M1062.8 294.4h0M1053.2 293.7h0M1059.7 291.9h0M1066.6 291.9h0M1069.1 299.8h0M1055.6 296.8h0M1066.2 295.5h0M1054.4 296.7h0M1070.3 290.3h0M1063.1 296.3h0M1059.7 294.7h0M1058.7 300.4h0M1063.3 292.3h0M1068.1 291.1h0M1063.7 297.0h0M1066.3 297.7h0M1065.6 296.2h0M1065.2 297.7h0M1071.1 293.5h0M1066.3 298.1h0M1061.2 294.0h0M1062.6 290.4h0M1053.5 299.1h0M1052.6 302.0h0M1059.0 297.3h0M1060.7 298.0h0M1059.0 294.8h0M1059.7 300.5h0M1066.0 301.4h0M1062.2 295.5h0M1052.0 298.9h0M1064.6 294.7h0M1064.4 301.5h0M1060.9 300.5h0M1061.9 289.4h0M1058.0 294.7h0M1063.0 292.9h0M1058.2 292.5h0M1060.2 296.6h0M1065.3 299.5h0M1061.2 297.3h0M1060.9 296.8h0M1068.1 286.4h0M1059.5 297.6h0M1066.0 291.9h0M1062.1 299.8h0M1058.2 288.7h0M1058.6 291.5h0M1063.6 292.9h0M1069.3 296.9h0M1056.4 294.3h0M1054.9 297.9h0M1067.8 295.4h0M1065.0 292.5h0M1061.9 305.5h0M1053.4 301.2h0M1066.3 288.8h0M1053.2 292.4h0M1065.2 294.6h0M1059.5 299.1h0M1061.0 297.2h0M1058.8 300.8h0M1056.5 303.0h0M1058.7 293.1h0M1063.6 298.1h0M1050.5 297.2h0M1053.6 293.0h0M1064.3 292.8h0M1062.1 294.8h0M1070.0 295.9h0M1054.5 291.9h0M1055.8 296.8h0M1060.3 300.2h0M1061.2 296.8h0M1062.0 295.8h0M1061.8 299.4h0M1064.3 294.1h0M1051.5 293.0h0M1061.7 286.3h0M1057.9 298.1h0M1057.5 291.8h0M1069.1 301.8h0M1059.0 301.5h0M1066.8 291.7h0M1073.7 292.5h0M1059.0 291.9h0M1060.7 291.0h0M1060.3 300.6h0M1061.3 295.2h0M1068.0 292.6h0M1065.1 295.0h0M1061.3 296.3h0M1060.9 296.0h0M1056.3 293.9h0M1062.5 295.8h0M1054.4 293.4h0M1056.8 296.0h0M1061.1 296.5h0M1057.0 296.2h0M1053.4 284.6h0M1059.9 289.5h0M1055.5 291.3h0M1063.3 291.3h0M1061.6 294.2h0M1054.0 289.8h0M1062.5 297.7h0M1064.0 303.4h0M1061.5 297.2h0M1059.5 296.5h0M1058.4 292.5h0M1070.1 288.6h0M1061.4 297.8h0M1060.8 292.2h0M1059.1 294.2h0M1054.7 295.9h0M1058.0 293.8h0M1063.5 291.8h0M1062.2 293.6h0M1062.2 296.3h0M1061.2 292.1h0M1056.1 292.6h0M1060.9 299.0h0M1065.4 294.0h0M1060.4 289.5h0M1048.9 292.5h0M1056.6 289.8h0M1051.1 298.1h0M1055.9 289.2h0M1071.5 296.6h0M1058.3 298.6h0M1056.1 302.3h0M1052.2 290.7h0M1059.2 292.9h0M1066.9 289.5h0M1056.2 296.9h0M1062.7 299.9h0M1061.6 304.7h0M1057.5 296.6h0M1064.1 294.6h0M1058.4 294.0h0M1056.6 291.4h0M1057.1 289.7h0M1061.7 289.5h0M1070.1 302.6h0M1065.3 295.0h0M1056.9 300.7h0M1060.7 298.1h0M1056.2 300.1h0M1055.8 296.2h0M1051.2 293.2h0M1062.3 294.0h0M1057.5 299.0h0M1059.4 300.8h0M1047.7 298.1h0M1062.3 289.6h0M1053.3 299.3h0M1054.4 293.3h0M1062.7 294.5h0M1062.1 292.3h0M1061.2 300.1h0M1061.4 287.0h0M1063.0 296.0h0M1055.2 301.3h0M1051.1 303.3h0M1056.6 302.1h0M1059.5 290.5h0M1060.2 297.1h0M1062.4 300.0h0M1055.3 297.7h0M1063.4 294.7h0M1055.1 292.0h0M1063.5 299.0h0M1055.6 290.4h0M1065.9 289.6h0M1060.5 292.6h0M1051.0 296.3h0M1058.8 301.5h0M1071.0 295.0h0M1064.8 299.9h0M1057.1 292.3h0M1067.7 294.3h0M1059.6 294.6h0M1059.1 293.4h0M1063.4 300.8h0M1057.9 290.3h0M1060.0 289.9h0M1056.5 300.7h0M1071.3 297.3h0M1054.4 298.9h0M1048.5 293.0h0M1067.3 298.7h0M1052.9 289.2h0M1064.0 295.6h0M1056.8 297.4h0M1056.9 288.1h0M1063.7 293.2h0M1054.7 290.5h0M1061.0 292.6h0M1062.8 294.7h0M1065.1 294.2h0M1056.5 287.9h0M1054.3 298.6h0M1074.9 290.8h0M1054.6 297.1h0M1062.1 293.1h0M1060.1 289.4h0M1058.2 299.4h0M1067.9 295.1h0M1058.4 297.6h0M1065.2 297.7h0M1056.0 297.2h0M1064.5 292.9h0M1053.1 297.8h0M1061.5 299.6h0M1060.2 293.2h0M1057.6 291.7h0M1055.0 293.6h0M1057.3 300.2h0M1053.6 295.6h0M1056.8 301.7h0M1061.0 294.3h0M1063.8 296.1h0M1057.4 301.9h0M1063.3 302.7h0M1065.5 298.9h0M1060.4 291.5h0M1063.3 296.1h0M1063.1 295.8h0M1056.3 291.8h0M1063.3 301.0h0M1058.3 297.6h0M1066.7 292.5h0M1058.1 291.4h0M1065.6 296.9h0M1057.5 289.2h0M1058.9 299.8h0M1058.3 294.1h0M1063.0 290.9h0M1060.1 298.2h0M1055.9 292.5h0M1061.0 295.4h0M1058.6 296.7h0M1060.9 292.2h0M1056.5 297.6h0M1065.4 301.2h0M1055.6 300.2h0M1063.6 295.7h0M1062.2 299.1h0M1068.7 291.7h0M1062.8 295.3h0M1058.8 300.4h0M1063.9 291.8h0M1058.4 296.8h0M1024.7 284.9h0M1027.3 277.4h0M1027.0 295.3h0M1027.7 271.8h0M1030.5 270.3h0M1027.4 260.5h0M1029.0 278.7h0M1028.1 277.5h0M1027.7 267.1h0M1026.0 280.3h0M1026.7 293.4h0M1026.5 270.3h0M1025.1 290.6h0M1025.1 284.0h0M1029.8 274.3h0M1029.8 252.6h0M1027.8 257.6h0M1027.7 275.8h0M1025.7 285.9h0M1028.3 270.0h0M1027.5 259.7h0M1026.0 298.7h0M1026.1 280.2h0M1026.1 284.4h0M1028.3 273.2h0M1024.9 270.0h0M1029.5 273.2h0M1028.7 270.6h0M1024.3 280.2h0M1028.3 269.5h0M1026.7 278.8h0M1026.3 279.4h0M1028.5 250.1h0M1027.6 269.2h0M1025.9 280.0h0M1026.4 281.6h0M1029.1 277.4h0M1025.4 267.7h0M1029.1 273.0h0M1026.3 274.7h0M1028.1 278.6h0M1029.0 266.9h0M1027.2 273.0h0M1028.6 253.0h0M1027.9 261.2h0M1028.8 292.8h0M1029.7 284.7h0M1026.2 286.2h0M1026.8 282.4h0M1026.4 269.3h0M1027.2 295.1h0M1026.2 300.3h0M1032.6 262.1h0M1028.0 265.5h0M1027.6 270.0h0M1026.8 286.3h0M1028.8 278.7h0M1027.4 277.1h0M1027.4 282.1h0M1027.2 281.3h0M1025.0 284.3h0M1030.1 278.0h0M1024.5 290.4h0M1028.7 243.3h0M1026.8 282.4h0M1027.4 289.4h0M1028.4 277.3h0M1025.0 263.6h0M1027.4 283.2h0M1026.2 269.1h0M1029.3 255.1h0M1024.5 273.2h0M1028.2 270.7h0M1023.8 275.9h0M1025.0 282.9h0M1027.2 278.7h0M1028.8 270.2h0M1028.1 289.4h0M1027.4 290.4h0M1026.0 285.8h0M1028.5 265.2h0M1027.7 270.1h0M1026.6 276.8h0M1029.3 272.5h0M1028.5 259.9h0M1027.0 288.4h0M1028.5 281.1h0M1027.2 265.2h0M1028.1 261.3h0M1025.0 286.0h0M1025.0 295.3h0M1025.0 280.4h0M1025.5 277.7h0M1025.8 276.2h0M1027.5 270.9h0M1027.4 292.3h0M1026.0 285.4h0M1027.6 275.6h0M1032.2 252.4h0M1027.4 256.1h0M1027.1 273.4h0M1033.3 280.0h0M1029.6 290.1h0M1026.5 281.0h0M1030.0 277.9h0M1027.5 281.4h0M1025.6 266.9h0M1027.7 281.8h0M1026.2 272.3h0M1027.4 274.2h0M1028.5 277.1h0M1028.6 260.5h0M1025.6 279.3h0M1024.8 278.7h0M1026.9 266.9h0M1028.9 268.5h0M1026.5 268.4h0M1026.0 305.8h0M1024.1 275.4h0M1026.6 286.2h0M1028.3 248.8h0M1030.2 264.0h0M1028.2 260.9h0M1026.0 270.3h0M1028.4 285.0h0M1026.2 281.2h0M1026.8 276.9h0M1027.4 282.5h0M1026.6 274.2h0M1027.8 276.7h0M1025.2 294.4h0M1026.3 283.9h0M1027.1 289.0h0M1022.8 297.9h0M1027.8 262.2h0M1026.4 300.3h0M1029.0 262.3h0M1026.0 290.2h0M1025.3 273.6h0M1025.8 299.3h0M1026.3 290.0h0M1026.9 266.8h0M1028.7 282.5h0M1024.4 282.5h0M1028.8 269.0h0M1027.7 278.6h0M1027.0 269.2h0M1026.6 272.6h0M1025.4 275.1h0M1025.1 276.3h0M1027.9 264.3h0M1027.7 296.8h0M1030.4 260.8h0M1029.4 278.1h0M1027.7 269.1h0M1026.7 290.8h0M1028.6 271.2h0M1026.6 271.0h0M1027.3 296.0h0M1025.8 275.5h0M1027.3 267.4h0M1027.8 281.7h0M1025.8 264.2h0M1029.2 279.2h0M1028.6 270.2h0M1026.6 280.6h0M1027.3 263.5h0M1026.9 285.5h0M1025.2 287.0h0M1029.1 266.3h0M1027.5 275.2h0M1028.1 282.9h0M1026.2 260.8h0M1029.0 276.9h0M1027.9 279.3h0M1030.6 262.6h0M1029.7 266.8h0M1027.9 290.3h0M1025.0 279.9h0M1027.2 272.4h0M1028.1 264.2h0M1025.6 282.7h0M1029.1 269.5h0M1023.8 300.7h0M1029.0 279.6h0M1026.2 269.2h0M1028.4 265.2h0M1029.9 277.2h0M1028.7 264.5h0M1026.5 267.0h0M1028.1 272.8h0M1026.8 279.0h0M1027.0 291.7h0M1027.7 264.6h0M1026.6 291.5h0M1026.6 276.1h0M1026.7 280.0h0M1028.3 266.9h0M1026.6 285.8h0M1028.7 285.7h0M1029.0 272.1h0M1026.4 285.6h0M1025.7 274.9h0M1024.8 271.4h0M1027.0 262.6h0M1028.8 267.7h0M1027.0 272.8h0M1025.5 290.9h0M1026.6 277.7h0M1025.7 270.4h0M1027.1 272.3h0M1026.5 277.1h0M1030.0 274.3h0M1027.5 271.4h0M1030.5 293.3h0M1027.9 283.3h0M1026.4 273.9h0M1027.7 277.0h0M1026.6 267.2h0M1028.1 279.1h0M1024.1 276.5h0M1029.8 268.8h0M1028.7 260.0h0M1029.4 263.7h0M1025.7 272.1h0M1031.5 269.3h0M1025.2 280.5h0M1026.9 293.5h0M1026.4 258.4h0M1026.8 279.7h0M1027.4 287.4h0M1025.6 266.7h0M1026.8 284.7h0M1028.5 271.2h0M1025.4 285.1h0M1027.4 305.0h0M1026.3 293.1h0M1025.9 269.7h0M1026.7 270.6h0M1026.4 269.7h0M1027.6 270.8h0M1028.6 274.8h0M1026.6 291.5h0M1027.9 277.4h0M1027.4 276.3h0M1028.8 267.1h0M1028.4 292.7h0M1029.6 270.5h0M1025.2 270.8h0M1027.2 284.6h0M1027.4 272.4h0M1030.2 268.6h0M1028.6 285.5h0M1025.2 278.6h0M1027.1 265.4h0M1025.5 258.7h0M1028.3 271.5h0M1028.5 264.3h0M1027.1 272.7h0M1026.0 257.7h0M1030.0 262.3h0M1026.6 261.6h0M1030.5 267.3h0M1026.8 263.7h0M1034.1 262.1h0M1032.5 254.3h0M1032.5 261.9h0M1024.3 264.2h0M1031.5 265.5h0M1031.9 261.8h0M1027.1 260.6h0M1028.8 263.1h0M1027.7 262.1h0M1031.1 262.9h0M1034.6 268.3h0M1026.1 260.2h0M1025.7 258.5h0M1030.3 259.0h0M1026.4 261.1h0M1030.9 260.9h0M1028.1 264.6h0M1030.1 263.3h0M1031.3 258.9h0M1029.5 260.0h0M1031.4 264.3h0M1026.4 265.9h0M1026.1 265.4h0M1029.4 259.3h0M1026.2 261.0h0M1028.9 259.8h0M1030.3 257.8h0M1028.9 261.9h0M1024.3 262.8h0M1025.8 254.5h0M1027.4 261.2h0M1031.2 260.5h0M1032.6 266.2h0M1031.6 265.8h0M1029.8 260.3h0M1030.5 264.8h0M1029.5 261.2h0M1025.1 263.9h0M1029.8 258.1h0M1029.2 264.0h0M1028.7 264.2h0M1030.8 257.5h0M1028.2 263.3h0M1031.2 266.1h0M1024.2 261.7h0M1030.7 265.5h0M1033.1 259.1h0M1028.0 258.8h0M1030.9 258.0h0M1031.8 264.7h0M1030.1 255.5h0M1027.3 264.1h0M1025.4 261.2h0M1028.7 264.5h0M1029.6 262.7h0M1027.8 261.9h0M1028.6 264.1h0M1028.5 265.0h0M1024.7 265.5h0M1028.5 265.3h0M1029.1 264.4h0M1032.6 260.3h0M1029.1 261.4h0M1029.4 257.1h0M1028.5 261.2h0M1027.0 261.3h0M1025.1 266.0h0M1030.0 267.5h0M1026.8 258.4h0M1029.6 257.0h0M1029.5 259.8h0M1028.1 262.7h0M1029.0 267.4h0M1030.5 258.1h0M1031.3 257.9h0M1029.1 258.2h0M1026.9 265.8h0M1027.5 260.0h0M1027.5 261.0h0M1032.5 258.4h0M1025.9 263.6h0M1025.0 260.8h0M1031.7 261.9h0M1027.7 259.8h0M1026.6 260.1h0M1029.2 265.6h0M1031.3 260.2h0M1027.1 263.9h0M1024.4 260.6h0M1028.1 258.6h0M1026.4 262.9h0M1024.8 259.1h0M1027.3 262.1h0M1025.5 265.1h0M1028.1 261.1h0M1028.0 259.8h0M1026.4 265.2h0M1029.4 261.5h0M1031.3 259.7h0M1030.4 261.9h0M1026.6 264.1h0M1025.2 263.7h0M1026.7 263.0h0M1032.2 263.5h0M1027.3 261.7h0M1027.9 258.3h0M1026.1 261.9h0M1030.1 256.6h0M1028.6 263.3h0M1029.1 258.8h0M1031.3 258.2h0M1030.4 266.5h0M1023.8 262.5h0M1029.6 262.4h0M1026.9 260.8h0M1025.3 262.1h0M1025.5 318.5h0M1012.9 315.3h0M1019.2 321.5h0M1018.4 321.2h0M1015.0 299.5h0M1021.2 332.1h0M1009.2 312.5h0M1019.7 328.2h0M1021.8 331.3h0M1018.0 323.6h0M1023.8 319.5h0M1027.9 328.7h0M1028.4 321.5h0M1030.4 317.4h0M1028.8 305.4h0M1009.3 322.8h0M1015.3 320.8h0M1002.3 326.1h0M1024.4 322.7h0M1022.1 324.4h0M1030.6 326.7h0M1007.8 315.0h0M1028.7 328.6h0M1014.5 323.7h0M1018.9 325.3h0M1008.4 310.5h0M1025.4 321.6h0M1017.7 334.7h0M1016.3 321.7h0M1016.3 315.3h0M1022.2 311.5h0M998.8 323.5h0M1015.9 328.0h0M1020.1 322.4h0M1023.3 327.7h0M1006.6 325.2h0M1010.9 319.4h0M1040.3 329.2h0M1034.0 323.8h0M1024.4 323.2h0M1024.9 316.8h0M1011.0 320.4h0M1008.5 310.9h0M1026.1 319.0h0M1014.7 311.3h0M1021.5 319.2h0M1021.1 320.3h0M1035.7 323.8h0M1003.0 315.9h0M1019.1 322.1h0M1003.5 323.5h0M1019.2 320.7h0M1005.2 319.3h0M1015.7 329.5h0M1018.9 311.9h0M1022.6 315.6h0M1025.4 315.4h0M1018.9 319.2h0M1020.3 317.7h0M1012.9 318.2h0M1014.3 320.3h0M1022.4 305.9h0M1015.7 329.8h0M1020.5 325.8h0M1024.2 319.4h0M1006.6 322.2h0M1026.7 327.8h0M1022.0 324.8h0M1018.5 322.7h0M1018.7 323.2h0M1013.1 314.2h0M1024.8 320.6h0M999.3 314.7h0M996.3 326.4h0M1023.7 327.5h0M1016.6 311.9h0M1017.6 320.6h0M1012.8 319.8h0M1023.6 326.9h0M1016.0 304.3h0M1021.0 316.9h0M1019.3 332.8h0M1032.1 327.8h0M1024.7 334.8h0M1019.2 323.0h0M1026.5 323.4h0M1017.1 315.0h0M1020.9 317.3h0M1026.7 321.4h0M1028.6 333.1h0M1007.0 324.3h0M1013.1 328.6h0M1023.8 322.4h0M1026.2 319.7h0M1021.3 324.6h0M1017.5 323.3h0M1010.2 321.8h0M1008.4 321.6h0M1021.7 327.1h0M1008.1 338.7h0M1017.4 321.6h0M1010.3 328.1h0M1013.5 326.2h0M1011.3 320.6h0M1014.5 326.1h0M1019.3 315.2h0M1026.0 315.3h0M1010.2 323.5h0M1002.9 320.7h0M1018.5 314.6h0M1020.2 326.2h0M1015.4 318.7h0M1024.4 328.6h0M1021.0 316.6h0M1013.5 315.1h0M1023.9 327.2h0M1019.0 331.1h0M1018.2 318.4h0M1012.4 332.4h0M1002.7 317.5h0M1023.2 323.3h0M1035.8 335.7h0M1028.0 318.4h0M1024.6 320.8h0M1019.7 323.1h0M1014.6 324.3h0M1030.5 332.9h0M1025.9 310.4h0M1026.1 331.6h0M1019.4 318.3h0M1026.9 318.7h0M1028.7 317.5h0M1012.5 319.3h0M1008.3 317.6h0M1027.1 315.3h0M1028.5 321.1h0M1023.8 324.8h0M1017.5 317.3h0M1007.9 312.7h0M1010.1 329.8h0M1031.1 316.4h0M1025.8 325.6h0M1015.9 323.7h0M1027.5 320.7h0M1017.4 322.2h0M1011.7 320.2h0M1020.8 317.5h0M1012.6 321.4h0M1026.2 326.5h0M1011.5 324.1h0M1020.0 326.1h0M1031.2 319.8h0M1020.2 317.9h0M1008.6 331.8h0M1031.4 313.8h0M1024.6 319.8h0M1028.9 325.8h0M1018.3 322.4h0M1023.0 323.3h0M1018.6 320.5h0M1026.6 316.5h0M1020.2 321.2h0M1014.5 325.1h0M1010.6 316.0h0M1012.0 322.9h0M1016.2 320.9h0M1026.6 313.3h0M1025.2 318.7h0M1018.2 320.6h0M1024.7 328.9h0M1033.5 328.2h0M1017.4 317.5h0M1021.6 333.7h0M1024.0 319.4h0M1021.6 324.4h0M1021.9 317.5h0M1001.2 311.4h0M1027.8 326.3h0M1002.5 315.7h0M1001.0 328.9h0M1024.2 315.2h0M1028.1 319.5h0M1024.4 323.7h0M1009.2 322.7h0M1006.4 326.4h0M1022.8 315.9h0M1002.1 326.7h0M1034.3 318.5h0M1032.6 327.8h0M1018.4 320.8h0M1014.7 330.0h0M1025.3 311.1h0M1034.6 333.4h0M1012.2 316.7h0M1012.8 319.7h0M1022.6 324.6h0M1017.1 315.4h0M1026.9 323.8h0M1039.6 323.5h0M1026.1 324.6h0M1011.0 328.2h0M1023.0 316.9h0M1015.2 327.3h0M1007.2 326.9h0M1026.0 322.3h0M1026.8 336.6h0M1024.4 324.8h0M1031.3 336.5h0M1013.1 318.1h0M1019.2 318.9h0M1006.1 323.2h0M1020.4 322.8h0M1032.4 322.6h0M1018.9 323.5h0M1016.8 320.1h0M1026.1 324.2h0M1032.2 321.2h0M1024.8 313.8h0M1020.6 317.3h0M1029.1 330.5h0M1019.9 334.9h0M1029.9 330.6h0M1017.8 311.1h0M1020.6 319.7h0M1015.5 318.3h0M1003.5 326.4h0M1012.4 314.5h0M1028.2 313.6h0M1025.2 330.5h0M1019.9 314.4h0M1020.4 309.1h0M1031.0 326.4h0M1016.2 314.2h0M1021.2 333.0h0M1011.1 314.7h0M1004.4 321.1h0M1016.1 336.5h0M1020.0 318.9h0M1012.4 325.2h0M1005.3 321.9h0M1023.1 319.6h0M1010.4 325.9h0M1035.9 324.6h0M1020.3 334.4h0M1015.6 318.6h0M1010.6 317.5h0M1020.3 319.2h0M1017.7 310.0h0M1011.4 312.0h0M1026.3 320.7h0M1011.7 323.6h0M1026.2 318.9h0M1013.5 324.3h0M1024.8 317.8h0M1022.0 322.5h0M1030.9 319.8h0M1026.1 327.3h0M1009.5 325.6h0M1030.3 316.4h0M1038.6 320.6h0M1013.3 317.3h0M1024.9 327.9h0M1016.1 330.3h0M1020.1 332.0h0M1042.3 331.5h0M1000.2 311.6h0M1011.1 319.4h0M1023.6 314.6h0M1011.3 316.9h0M1024.4 305.0h0M1027.8 325.1h0M1019.2 323.8h0M1011.8 318.6h0M1026.0 331.9h0M1024.4 321.6h0M1010.2 327.9h0M1025.3 320.9h0M1004.2 310.0h0M1001.3 324.2h0M1023.3 317.8h0M1011.7 337.8h0M1033.1 317.0h0M1021.8 313.7h0M1005.4 317.9h0M1036.3 339.3h0M1021.2 319.7h0M1019.2 329.3h0M1012.3 305.5h0M1034.9 329.5h0M1032.8 328.4h0M1033.7 322.5h0M1020.5 333.5h0M1029.6 322.1h0M1029.0 320.4h0M1006.9 321.1h0M1029.7 331.8h0M1007.4 323.8h0M1026.8 321.1h0M996.8 321.0h0M1026.2 327.9h0M1009.0 307.0h0M1026.6 330.3h0M1024.7 321.9h0M1024.6 319.7h0M1019.4 315.4h0M1023.2 320.1h0M1026.3 329.6h0M1008.8 331.5h0M1009.5 321.5h0M1026.1 333.7h0M999.0 321.8h0M1026.8 335.2h0M1002.9 310.7h0M1020.2 318.8h0M1032.9 321.7h0M1029.0 329.5h0M1010.1 311.0h0M1015.8 321.2h0M1028.8 323.9h0M1031.4 314.4h0M995.0 310.4h0M1024.7 321.0h0M1010.5 321.7h0M1036.6 327.3h0M1015.9 314.2h0M1036.7 327.8h0M1022.3 331.9h0M1031.3 319.3h0M1026.1 330.5h0M1021.7 330.1h0M1015.4 319.8h0M1013.7 325.4h0M1013.5 322.6h0M1011.0 317.8h0M1017.2 320.1h0M1021.6 321.2h0M1023.1 307.7h0M1030.8 321.3h0M1019.9 315.8h0M1030.6 319.1h0M1021.4 331.3h0M1031.1 334.9h0M1028.1 316.0h0M1028.1 333.8h0M1025.2 329.9h0M1021.9 318.9h0M1026.1 333.7h0M1009.1 324.9h0M1020.0 328.6h0M1019.7 330.2h0M1026.6 331.1h0M1006.5 323.3h0M1023.2 314.9h0M1029.3 315.3h0M1023.6 336.0h0M1013.7 326.6h0M1022.3 327.8h0M1007.3 322.0h0M1019.5 327.4h0M1017.6 329.4h0M1020.8 327.5h0M1031.2 327.6h0M1027.9 326.8h0M1025.8 320.4h0M1023.7 332.6h0M1017.6 327.2h0M1026.4 316.4h0M1020.0 331.9h0M1020.3 309.2h0M1023.4 318.8h0M1036.1 327.8h0M1021.6 318.2h0M1023.6 319.4h0M1012.8 319.2h0M1010.4 328.4h0M1010.7 318.3h0M1017.7 311.3h0M1039.0 313.8h0M1035.6 317.6h0M1015.6 337.2h0M1016.6 299.5h0M1043.6 311.6h0M1029.0 310.0h0M1025.7 311.2h0M1045.0 307.3h0M1034.4 319.7h0M1048.9 305.7h0M1035.6 305.9h0M1028.2 307.1h0M1028.3 296.7h0M1017.7 304.6h0M1034.3 319.8h0M1029.1 309.0h0M1038.5 316.1h0M1032.4 309.9h0M1048.0 307.7h0M1029.4 297.5h0M1036.7 308.2h0M1048.2 307.7h0M1039.6 317.6h0M1046.2 300.0h0M1045.5 310.4h0M1032.5 307.9h0M1030.2 307.6h0M1015.0 314.3h0M1033.8 302.8h0M1032.8 328.3h0M1036.3 307.2h0M1046.7 304.1h0M1032.1 306.0h0M1031.4 316.0h0M1037.8 304.6h0M1032.3 310.9h0M1030.1 310.0h0M1027.6 304.5h0M1033.6 302.2h0M1036.5 308.8h0M1026.1 305.5h0M1029.5 309.0h0M1034.1 308.6h0M1026.5 321.4h0M1040.3 311.1h0M1040.7 312.8h0M1031.2 310.9h0M1054.0 318.0h0M1041.3 307.2h0M1037.9 327.8h0M1036.6 318.6h0M1043.0 315.2h0M1045.5 312.0h0M1037.1 305.4h0M1053.7 312.6h0M1034.1 321.0h0M1029.5 310.2h0M1027.2 310.4h0M1030.2 314.4h0M1032.2 305.6h0M1030.9 309.3h0M1029.3 317.5h0M1038.4 311.3h0M1024.0 314.2h0M1023.3 311.7h0M1033.6 305.7h0M1026.8 304.8h0M1049.1 308.2h0M1031.6 317.6h0M1036.5 318.4h0M1023.7 301.8h0M1058.9 309.9h0M1031.0 311.5h0M1040.9 301.0h0M1035.4 310.0h0M1038.4 311.6h0M1029.1 303.5h0M1014.4 317.8h0M1021.9 307.1h0M1046.0 307.0h0M1037.9 308.6h0M1038.6 310.4h0M1029.3 320.6h0M1031.2 299.9h0M1030.7 314.4h0M1024.6 316.3h0M1039.1 326.5h0M1028.3 315.3h0M1020.4 307.0h0M1034.0 313.3h0M1032.8 309.5h0M1028.5 306.8h0M1035.6 314.5h0M1038.1 317.9h0M1042.3 296.4h0M1029.2 309.0h0M1028.3 318.2h0M1039.0 309.4h0M1034.1 319.9h0M1030.5 307.8h0M1040.2 313.8h0M1044.1 313.0h0M1039.0 306.0h0M1026.0 310.1h0M1012.9 313.3h0M1040.7 310.8h0M1031.5 318.5h0M1032.9 317.7h0M1050.0 315.8h0M1040.4 314.0h0M1035.1 312.3h0M1033.7 318.5h0M1020.9 308.2h0M1038.2 303.8h0M1032.4 304.9h0M1036.6 316.8h0M1044.3 314.1h0M1027.7 312.1h0M1037.6 321.0h0M1016.8 313.1h0M1019.2 315.7h0M1036.6 314.0h0M1040.0 313.2h0M1028.3 312.9h0M1042.4 309.3h0M1033.4 300.9h0M1042.1 306.4h0M1027.5 306.8h0M1026.6 308.3h0M1043.0 316.3h0M1044.1 321.6h0M1026.4 313.9h0M1044.7 327.8h0M1022.4 299.3h0M1036.8 307.6h0M1025.6 313.1h0M1027.2 292.9h0M1033.0 311.2h0M1038.1 317.4h0M1034.6 308.4h0M1028.1 297.6h0M1029.8 317.8h0M1038.2 325.9h0M1032.0 296.6h0M1039.5 318.1h0M1024.3 297.9h0M1034.3 315.6h0M1024.6 307.6h0M1027.2 301.1h0M1023.1 311.2h0M1030.3 305.0h0M1013.2 323.5h0M1025.9 309.1h0M1024.5 313.0h0M1021.6 310.9h0M1031.7 317.1h0M1024.8 305.2h0M1031.3 326.1h0M1021.9 312.3h0M1028.1 312.5h0M1038.1 311.2h0M1035.1 312.2h0M1028.6 308.4h0M989.2 298.4h0M1011.2 300.3h0M1048.5 312.5h0M1041.9 326.3h0M971.1 313.4h0M1029.6 303.3h0M997.8 315.7h0M1058.7 324.8h0M1028.1 317.3h0M1053.1 339.9h0M1060.6 307.8h0M1032.5 308.3h0M1035.8 295.6h0M1049.3 291.9h0M1010.2 311.9h0M1015.9 300.4h0M978.6 320.3h0M1030.0 302.6h0M1041.6 309.1h0M1012.7 343.3h0M1018.9 323.7h0M1075.5 293.2h0M1032.4 289.4h0M1056.1 298.7h0M1002.8 330.2h0M1052.8 288.1h0M1059.4 308.8h0M1097.4 337.8h0M1016.3 299.9h0M1008.3 307.6h0M1031.2 319.1h0M1032.2 277.0h0M1009.9 332.0h0M1058.7 301.9h0M1026.7 301.8h0M1030.6 273.0h0M1052.2 292.5h0M1033.7 256.8h0M1035.8 330.6h0M974.5 334.0h0M1041.7 291.0h0M990.7 327.2h0M1036.5 316.3h0M1023.3 289.8h0M1051.6 286.8h0M1052.4 273.1h0M1007.0 277.3h0M1062.5 271.5h0M1001.7 317.6h0M1035.7 346.9h0M1075.7 316.8h0M1047.1 270.1h0M1008.1 298.7h0M1025.6 278.7h0M1006.8 288.8h0M1056.4 313.1h0M1021.7 299.7h0M1037.2 291.7h0M1023.4 272.1h0M1046.6 323.4h0M1039.0 314.1h0M1039.1 344.0h0M1035.1 279.7h0M1003.9 318.6h0M1056.5 319.7h0M1050.9 308.6h0M992.9 291.4h0M984.9 297.6h0M996.0 306.8h0M1025.7 267.6h0M1048.2 319.5h0M995.3 307.7h0M1047.8 299.3h0M1051.2 308.5h0M1056.6 308.4h0M1025.7 314.7h0M1049.4 309.6h0M1018.6 289.7h0M1020.4 293.8h0M1034.9 308.1h0M1027.6 304.7h0M1034.0 334.9h0M1059.8 293.7h0M1040.2 298.4h0M1027.2 300.0h0M1014.0 278.5h0M968.0 308.6h0M1059.2 287.2h0M1042.3 297.2h0M1036.6 289.1h0M1023.8 302.5h0M969.9 308.8h0M1026.1 256.8h0M1045.8 304.0h0M1034.6 311.6h0M1019.0 283.8h0M1018.3 296.3h0M1085.2 340.2h0M1017.2 296.6h0M1037.5 315.5h0M1012.0 285.2h0M1078.0 324.9h0M990.3 270.3h0M1008.5 308.7h0M1043.1 297.9h0M988.6 308.7h0M1044.5 304.4h0M1016.8 315.6h0M1027.8 282.7h0M1031.6 279.3h0M1053.6 313.5h0M1004.1 308.5h0M1060.8 262.7h0M1025.7 336.4h0M990.0 301.1h0M993.2 303.1h0M968.4 272.8h0M1015.6 307.1h0M1038.8 312.7h0M1058.3 318.0h0M1047.9 285.3h0M1025.2 366.6h0M1086.8 320.6h0M1048.0 323.7h0M1019.0 342.7h0M1019.7 302.8h0M1084.7 263.6h0M1038.4 270.6h0M1012.6 302.6h0M1020.2 307.8h0M1009.6 302.4h0M998.9 296.8h0M993.8 317.3h0M996.1 318.0h0M1018.6 298.4h0M1059.4 306.5h0M980.7 314.2h0M954.9 309.7h0M1018.9 276.8h0M1031.2 298.3h0M1080.7 295.7h0M1079.1 331.7h0M1013.5 288.3h0M1063.2 301.7h0M1033.3 299.4h0M998.1 297.0h0M1004.5 274.1h0M1021.7 339.8h0M1070.9 303.2h0M1032.7 314.6h0M1064.3 310.7h0M1016.9 296.6h0M1058.5 356.1h0M1013.1 263.6h0M1050.2 302.9h0M1032.8 329.0h0M1031.0 278.0h0M978.5 303.5h0M999.3 310.2h0M996.3 297.4h0M991.2 297.2h0M1017.7 316.3h0M1064.0 300.8h0M1006.9 343.4h0M1038.7 316.6h0M1045.0 333.4h0M1055.4 318.0h0M1049.2 287.3h0M1013.5 302.3h0M1031.7 304.8h0M1037.3 305.0h0M1018.2 272.1h0M1051.0 316.2h0M1006.5 314.4h0M1039.6 305.9h0M981.6 280.4h0M1013.7 336.7h0M1007.1 297.6h0M1000.5 294.7h0M1038.2 263.1h0M955.7 317.7h0M1030.2 292.4h0M1054.5 323.9h0M974.9 301.1h0M1058.1 291.1h0M1021.2 323.5h0M1022.4 280.6h0M1011.5 278.0h0M1043.7 270.0h0M1055.3 271.6h0M1030.5 275.2h0M1021.1 324.9h0M1058.5 330.5h0M1027.0 306.6h0M1035.4 316.8h0M1018.9 326.5h0M1037.8 327.3h0M1041.7 318.0h0M1010.3 296.2h0M995.7 298.6h0M1024.7 321.2h0M996.6 369.1h0M1026.1 329.6h0M1056.3 254.1h0M1022.5 333.9h0M966.3 319.8h0M1005.5 295.1h0M1035.1 267.1h0M1034.4 291.5h0M1009.8 318.5h0M1120.5 311.3h0M1043.7 303.4h0M1010.5 309.6h0M1068.7 308.2h0M1052.4 299.9h0M1094.8 271.5h0M1044.5 315.2h0M1036.2 282.1h0M999.6 299.7h0M1031.8 280.1h0M976.5 306.1h0M987.0 301.6h0M978.3 301.0h0M994.2 305.8h0M981.5 307.9h0M993.3 308.5h0M974.7 303.5h0M979.8 302.5h0M975.7 302.3h0M976.4 305.2h0M982.0 298.2h0M973.3 301.9h0M985.1 305.8h0M981.5 290.6h0M979.3 300.9h0M980.1 299.0h0M979.6 301.2h0M995.4 306.7h0M980.8 303.6h0M981.2 304.6h0M979.8 303.8h0M986.9 307.2h0M983.3 309.2h0M982.9 299.9h0M973.0 301.0h0M981.5 305.4h0M987.2 301.5h0M977.8 306.9h0M987.7 301.9h0M983.5 309.4h0M983.4 303.6h0M971.4 309.2h0M985.0 304.3h0M979.5 298.8h0M981.3 303.4h0M987.3 299.0h0M989.0 304.0h0M987.8 299.9h0M983.5 308.7h0M982.4 297.9h0M980.1 306.0h0M974.8 298.0h0M983.0 300.0h0M985.2 299.1h0M972.6 300.7h0M989.3 300.4h0M981.8 304.8h0M977.0 308.2h0M982.7 305.6h0M973.4 296.8h0M968.0 303.1h0M980.7 306.7h0M989.2 302.8h0M980.5 305.7h0M989.5 300.5h0M984.9 302.9h0M980.1 307.1h0M977.9 299.6h0M985.1 303.8h0M980.5 303.3h0M984.3 302.4h0M985.6 305.5h0M989.2 308.9h0M986.1 303.0h0M982.4 301.5h0M996.1 303.0h0M984.6 309.3h0M975.0 300.6h0M979.9 299.9h0M975.5 301.8h0M988.3 306.8h0M982.0 304.0h0M973.5 306.7h0M984.0 299.5h0M982.9 303.1h0M979.2 299.9h0M978.5 300.1h0M984.2 305.3h0M983.5 303.1h0M979.8 312.0h0M972.5 308.7h0M983.6 304.2h0M979.3 303.0h0M975.9 298.3h0M981.3 297.3h0M986.0 308.3h0M964.6 297.7h0M983.2 304.7h0M982.4 305.6h0M985.6 307.3h0M1044.0 385.0h0M1040.3 380.0h0M1036.4 381.3h0M1042.5 391.9h0M1039.1 381.0h0M1036.4 385.0h0M1037.7 388.2h0M1040.7 377.0h0M1042.4 383.4h0M1034.7 389.2h0M1035.8 380.8h0M1031.6 385.1h0M1040.5 389.4h0M1036.2 383.5h0M1043.4 383.6h0M1042.7 385.6h0M1037.9 384.2h0M1038.1 383.5h0M1034.2 384.5h0M1034.3 385.8h0M1037.2 384.1h0M1036.1 384.2h0M1043.9 384.9h0M1034.5 384.0h0M1039.6 384.3h0M1036.3 384.2h0M1037.6 386.1h0M1038.7 380.0h0M1032.6 377.0h0M1040.1 388.3h0M1042.1 385.4h0M1041.5 384.8h0M1036.4 380.3h0M1033.8 383.2h0M1040.6 389.9h0M1035.0 386.0h0M1038.0 382.6h0M1030.0 382.7h0M1031.2 384.0h0M1036.3 384.4h0M1036.2 386.4h0M1033.2 387.6h0M1030.2 385.1h0M1038.4 382.5h0M1030.5 386.8h0M1034.2 387.3h0M1040.0 384.9h0M1036.9 387.9h0M1038.4 382.1h0M1037.6 386.6h0M1011.0 346.6h0M1009.0 343.5h0M1004.2 330.5h0M1016.6 338.4h0M1011.2 329.8h0M1010.8 336.5h0M1027.6 334.6h0M1004.1 354.1h0M1016.6 323.8h0M1011.4 353.5h0M1002.5 351.5h0M1006.7 334.8h0M1007.7 340.1h0M1001.5 367.0h0M1007.1 337.3h0M1014.9 344.0h0M1017.8 342.1h0M1011.9 345.6h0M1010.8 342.6h0M1009.2 361.4h0M1005.8 339.3h0M1007.8 350.4h0M1012.2 354.0h0M1001.8 347.3h0M1008.8 341.9h0M1010.8 325.2h0M1011.5 346.1h0M1001.3 343.8h0M1019.0 340.9h0M1013.4 342.5h0M1005.0 335.6h0M1007.5 357.6h0M1014.7 337.7h0M1015.8 343.4h0M1005.7 349.0h0M1004.4 329.2h0M1017.5 326.6h0M1013.0 329.6h0M1009.7 342.8h0M1007.2 323.1h0M1009.2 344.4h0M1004.5 344.1h0M1015.7 337.6h0M1011.4 333.4h0M1012.1 351.1h0M1024.5 353.7h0M1012.4 358.7h0M1004.0 355.3h0M1006.6 338.6h0M1016.3 347.1h0M1017.7 330.5h0M1011.5 339.6h0M1008.3 326.0h0M1015.4 346.8h0M1004.0 331.5h0M1004.7 358.6h0M1009.3 341.5h0M1012.8 344.9h0M1011.3 352.1h0M1011.9 353.5h0" stroke="#DCDDDF" stroke-width="1.0" stroke-opacity="0.75" stroke-linecap="square" fill="none"/>
<path d="M796.6 208.0h0M743.3 266.3h0M806.0 239.3h0M718.5 268.0h0M794.8 383.8h0M740.1 275.9h0M711.8 253.8h0M778.2 364.6h0M758.0 252.7h0M814.9 219.9h0M795.2 283.2h0M806.9 219.8h0M834.2 333.2h0M725.1 320.2h0M856.5 302.4h0M768.2 269.7h0M715.6 260.1h0M800.9 333.4h0M775.4 308.6h0M795.6 324.8h0M773.4 386.7h0M766.2 205.4h0M825.2 344.0h0M801.0 329.2h0M823.1 306.5h0M726.5 308.2h0M801.8 369.0h0M755.3 220.5h0M753.9 306.6h0M720.3 297.9h0M816.1 354.7h0M822.1 322.5h0M762.9 326.5h0M776.1 235.2h0M751.3 320.5h0M860.3 384.2h0M781.2 371.1h0M861.1 309.4h0M802.8 243.1h0M778.9 306.7h0M767.3 245.1h0M785.7 261.1h0M719.4 308.4h0M734.2 292.8h0M783.9 343.2h0M760.2 241.8h0M729.2 247.3h0M775.1 219.0h0M745.9 306.2h0M793.3 382.1h0M770.6 336.9h0M751.4 318.6h0M795.9 219.6h0M799.3 271.4h0M765.6 276.6h0M831.0 350.6h0M764.7 322.7h0M740.9 216.7h0M767.6 209.0h0M818.0 213.8h0M791.4 299.2h0M858.8 321.9h0M752.3 329.0h0M804.2 255.7h0M821.3 231.6h0M729.7 246.8h0M727.2 271.1h0M762.9 246.8h0M723.3 262.9h0M854.9 331.8h0M751.9 213.8h0M868.2 354.9h0M785.0 324.3h0M828.7 326.9h0M730.6 343.5h0M770.6 375.2h0M780.5 404.2h0M813.6 209.9h0M766.5 331.7h0M836.4 337.9h0M792.8 215.5h0M827.7 350.8h0M748.5 245.3h0M763.5 369.9h0M808.8 231.7h0M883.7 369.0h0M764.8 341.1h0M789.2 276.2h0M757.6 218.4h0M741.8 246.5h0M894.9 390.2h0M862.5 292.4h0M874.1 291.7h0M761.9 204.8h0M857.2 312.6h0M770.5 392.9h0M817.8 308.7h0M765.7 282.8h0M783.8 397.2h0M762.8 246.1h0M806.1 369.6h0M837.1 367.2h0M754.4 317.9h0M795.2 218.0h0M768.0 306.4h0M872.3 314.3h0M853.8 330.4h0M767.4 258.6h0M818.3 384.0h0M741.7 318.1h0M839.5 345.3h0M763.6 279.6h0M789.6 343.2h0M820.1 319.0h0M719.1 254.1h0M806.0 306.3h0M778.9 297.4h0M815.7 207.2h0M744.1 257.1h0M764.6 260.7h0M762.0 226.5h0M733.7 264.7h0M842.4 376.4h0M879.5 287.8h0M788.4 392.2h0M755.9 275.9h0M831.3 307.9h0M750.9 269.5h0M872.2 302.6h0M798.2 322.2h0M805.2 267.4h0M769.5 268.8h0M713.9 302.5h0M796.9 231.8h0M751.6 255.8h0M855.8 344.6h0M795.8 332.3h0M843.8 364.6h0M756.1 318.4h0M758.3 215.5h0M760.1 338.2h0M775.5 317.8h0M852.7 379.4h0M821.0 310.9h0M853.6 307.3h0M783.1 237.7h0M851.5 347.8h0M828.3 315.4h0M826.0 363.6h0M721.0 308.3h0M783.8 255.4h0M712.1 280.4h0M796.6 230.3h0M769.0 232.5h0M742.5 287.8h0M813.8 241.4h0M734.2 260.5h0M816.5 338.0h0M820.4 220.9h0M790.1 255.7h0M831.8 324.8h0M870.6 309.2h0M793.8 322.9h0M814.3 330.3h0M800.7 320.6h0M820.6 381.9h0M764.0 282.9h0M757.0 296.4h0M746.7 256.1h0M764.8 243.0h0M710.2 266.5h0M758.3 284.8h0M816.3 334.1h0M763.5 339.8h0M769.1 332.0h0M833.4 319.1h0M755.1 238.3h0M845.1 336.1h0M734.5 227.9h0M728.7 235.1h0M772.0 221.8h0M726.1 270.2h0M923.7 392.3h0M809.4 263.8h0M731.3 326.3h0M803.0 220.9h0M772.1 278.7h0M806.6 235.6h0M821.9 307.1h0M716.3 302.4h0M795.5 336.0h0M803.9 252.5h0M768.2 232.0h0M736.7 274.7h0M752.0 288.9h0M804.9 344.7h0M806.6 269.0h0M748.8 296.9h0M879.3 388.8h0M792.4 281.0h0M801.2 343.8h0M789.3 301.7h0M837.9 340.9h0M842.2 304.0h0M866.0 315.7h0M805.8 273.5h0M733.9 295.9h0M946.4 392.1h0M774.2 385.0h0M757.1 271.4h0M796.6 284.4h0M765.2 335.5h0M744.3 277.4h0M848.3 319.5h0M742.5 306.2h0M781.5 251.1h0M814.7 246.9h0M841.3 319.0h0M748.7 212.7h0M782.0 220.0h0M815.2 249.3h0M825.0 336.6h0M730.6 236.9h0M770.1 261.6h0M737.0 305.6h0M803.9 344.2h0M838.3 330.3h0M714.1 270.5h0M775.9 260.0h0M814.3 310.7h0M740.6 225.1h0M745.8 317.2h0M758.3 293.7h0M781.2 255.8h0M816.0 341.3h0M776.0 259.1h0M848.6 308.1h0M850.8 302.5h0M749.3 233.0h0M813.2 362.5h0M727.1 311.6h0M798.2 385.0h0M820.4 345.2h0M898.4 393.3h0M877.4 394.5h0M770.8 225.5h0M752.3 325.0h0M748.6 313.5h0M792.8 340.6h0M753.6 231.1h0M725.9 241.2h0M759.3 335.5h0M808.5 228.4h0M762.5 324.7h0M813.4 359.5h0M773.6 252.0h0M817.2 391.3h0M834.5 326.6h0M798.3 343.8h0M878.0 282.2h0M780.8 279.0h0M794.1 310.0h0M779.2 212.4h0M773.6 293.6h0M777.4 287.3h0M785.2 397.6h0M768.5 403.2h0M793.1 289.2h0M741.1 255.2h0M766.2 338.4h0M776.2 333.0h0M783.2 373.1h0M799.5 242.2h0M772.4 225.8h0M788.2 276.8h0M754.9 277.3h0M927.7 395.4h0M790.7 315.5h0M763.6 398.3h0M747.1 248.4h0M744.1 242.4h0M802.7 328.0h0M772.0 362.2h0M782.4 368.9h0M901.2 391.1h0M843.5 304.4h0M816.9 244.5h0M833.4 336.8h0M758.7 368.1h0M738.7 321.6h0M809.5 242.9h0M756.6 380.0h0M832.9 303.9h0M739.7 259.2h0M807.3 311.5h0M725.8 341.6h0M767.0 230.2h0M836.0 305.3h0M751.5 207.8h0M918.0 389.5h0M763.5 288.4h0M878.8 390.7h0M826.7 338.8h0M797.5 216.3h0M845.6 325.1h0M814.0 233.7h0M824.6 336.8h0M727.5 298.1h0M738.9 231.3h0M808.0 235.9h0M951.5 393.2h0M787.7 381.4h0M811.4 307.9h0M775.0 244.3h0M754.4 280.7h0M812.4 358.4h0M762.3 286.1h0M803.3 264.8h0M771.8 381.5h0M856.3 306.8h0M745.4 294.1h0M748.9 329.4h0M885.3 376.9h0M763.3 294.5h0M837.3 330.8h0M825.4 342.8h0M778.4 311.1h0M725.9 240.5h0M799.8 332.2h0M734.5 294.8h0M786.4 386.2h0M734.9 259.0h0M839.3 363.3h0M810.6 313.7h0M763.6 291.5h0M797.8 368.7h0M712.2 264.3h0M773.2 202.2h0M805.1 344.5h0M805.1 243.2h0M790.4 218.3h0M776.8 258.3h0M793.8 271.0h0M758.1 290.8h0M834.2 336.5h0M725.2 292.5h0M757.9 227.5h0M762.0 225.2h0M802.6 255.5h0M775.8 230.4h0M787.9 275.9h0M798.7 222.9h0M819.0 318.1h0M759.9 219.5h0M779.5 252.0h0M735.9 304.5h0M759.0 277.7h0M719.8 248.1h0M735.8 241.3h0M742.0 280.9h0M853.7 322.2h0M720.9 241.0h0M754.1 215.4h0M852.2 385.1h0M740.9 245.8h0M855.4 302.4h0M766.7 207.6h0M745.4 268.2h0M787.5 253.6h0M861.2 295.9h0M800.2 341.7h0M748.2 300.1h0M787.5 314.1h0M805.1 236.4h0M787.3 228.0h0M807.4 223.0h0M797.4 273.8h0M763.3 389.0h0M746.6 288.0h0M804.1 315.0h0M857.5 379.7h0M726.5 336.1h0M747.9 316.6h0M779.4 288.9h0M812.4 322.7h0M772.0 305.0h0M770.3 242.0h0M782.4 336.6h0M807.3 342.5h0M732.6 287.8h0M728.5 250.0h0M808.8 355.4h0M759.3 216.0h0M824.6 330.9h0M773.9 294.6h0M791.1 286.5h0M794.5 286.1h0M738.7 315.7h0M848.8 325.7h0M823.7 311.3h0M824.3 219.0h0M807.9 243.0h0M892.7 395.3h0M797.8 254.4h0M728.3 311.5h0M795.9 308.5h0M806.7 374.1h0M877.4 378.6h0M771.7 249.1h0M818.8 381.5h0M798.5 300.7h0M771.0 267.1h0M829.3 381.2h0M767.2 221.9h0M827.8 214.9h0M836.0 336.6h0M851.9 326.1h0M766.1 282.9h0M742.3 338.3h0M737.2 233.4h0M784.6 329.1h0M735.0 305.6h0M717.5 271.4h0M839.9 307.9h0M784.1 296.9h0M861.1 376.3h0M749.5 207.0h0M725.1 252.9h0M748.0 228.4h0M755.9 403.4h0M810.3 333.8h0M762.1 403.4h0M755.5 274.7h0M757.6 262.1h0M796.6 337.4h0M812.5 392.2h0M727.8 270.2h0M754.0 293.3h0M876.2 367.0h0M768.6 238.2h0M774.6 252.8h0M813.8 210.9h0M798.6 252.6h0M819.2 216.8h0M772.3 269.0h0M885.9 375.2h0M790.9 227.1h0M751.7 261.0h0M883.6 389.7h0M739.7 294.5h0M726.4 250.5h0M775.5 257.0h0M882.3 385.6h0M724.0 311.8h0M799.3 222.7h0M805.7 234.6h0M767.4 191.4h0M840.5 359.4h0M769.2 398.9h0M813.4 209.0h0M875.2 296.4h0M742.4 285.4h0M775.1 381.4h0M759.8 373.6h0M789.2 240.1h0M753.1 302.3h0M749.5 213.2h0M803.5 277.8h0M843.3 324.4h0M778.3 344.2h0M752.0 228.5h0M842.2 327.3h0M755.4 371.7h0M789.3 218.5h0M773.5 315.9h0M926.0 392.1h0M869.4 366.9h0M754.3 328.5h0M783.9 246.1h0M768.9 304.2h0M805.2 389.9h0M753.9 283.4h0M731.9 262.5h0M757.7 256.0h0M875.1 392.7h0M763.6 265.6h0M760.5 206.1h0M830.4 377.1h0M733.9 259.1h0M771.4 302.0h0M764.5 207.2h0M870.9 372.9h0M808.9 326.3h0M784.9 246.1h0M737.9 292.2h0M797.2 262.7h0M790.4 215.6h0M718.8 278.4h0M733.6 285.6h0M853.5 337.9h0M863.8 326.4h0M776.9 243.5h0M764.2 333.7h0M840.2 388.7h0M809.2 313.6h0M752.9 304.3h0M766.1 321.8h0M766.2 299.7h0M720.1 306.4h0M777.4 215.2h0M762.4 374.1h0M890.8 394.9h0M785.2 242.5h0M767.0 339.5h0M757.5 218.1h0M751.6 246.3h0M756.4 318.9h0M854.6 307.1h0M733.6 262.2h0M789.4 380.5h0M858.6 363.8h0M805.5 339.5h0M851.3 320.2h0M795.0 233.4h0M738.0 285.0h0M723.5 317.7h0M752.2 220.8h0M724.6 243.2h0M835.0 335.0h0M792.5 210.2h0M853.9 391.6h0M753.4 267.6h0M735.7 236.2h0M811.9 378.5h0M769.2 276.5h0M743.9 258.1h0M755.0 207.3h0M840.7 360.7h0M775.2 321.5h0M824.9 210.1h0M784.6 372.1h0M827.7 216.6h0M843.7 386.0h0M732.3 266.1h0M853.9 358.2h0M717.7 258.6h0M723.1 285.6h0M750.0 279.3h0M755.1 327.5h0M769.2 225.0h0M789.1 265.8h0M873.5 316.4h0M762.7 329.9h0M954.0 392.4h0M768.8 215.9h0M723.5 342.0h0M847.6 307.3h0M741.3 403.8h0M811.2 368.3h0M796.0 324.8h0M823.5 376.1h0M807.9 245.2h0M758.2 239.9h0M775.6 286.0h0M765.5 281.0h0M790.6 307.4h0M772.6 384.0h0M722.6 300.8h0M807.6 336.0h0M733.3 250.8h0M764.1 277.6h0M761.6 403.0h0M794.5 240.2h0M753.6 220.2h0M772.2 300.4h0M728.0 282.8h0M834.5 299.8h0M727.5 269.1h0M818.7 337.9h0M771.3 320.3h0M719.2 245.6h0M766.0 403.4h0M761.3 317.0h0M772.4 313.4h0M824.6 361.0h0M849.5 347.2h0M789.5 270.5h0M717.5 289.0h0M817.3 377.1h0M845.7 303.9h0M813.3 388.1h0M727.9 311.6h0M798.3 382.0h0M736.2 308.9h0M757.0 331.9h0M788.9 278.6h0M767.7 261.2h0M845.8 325.8h0M811.6 322.6h0M853.9 330.7h0M771.2 402.4h0M801.6 312.3h0M730.1 242.4h0M874.2 317.4h0M834.6 326.4h0M805.2 267.9h0M760.7 239.9h0M751.2 265.0h0M790.9 289.5h0M799.0 219.8h0M824.1 215.4h0M739.7 264.5h0M800.4 317.3h0M769.7 196.9h0M826.8 336.6h0M873.3 313.1h0M747.6 292.7h0M792.9 297.2h0M822.6 208.6h0M767.1 389.9h0M719.7 271.4h0M715.4 304.0h0M746.4 285.9h0M769.1 193.1h0M767.2 300.2h0M871.4 362.7h0M810.0 263.5h0M764.6 205.6h0M822.6 220.4h0M729.1 284.3h0M799.2 342.6h0M782.2 238.7h0M758.4 321.3h0M771.2 312.1h0M884.3 367.8h0M756.7 334.7h0M793.6 245.6h0M782.7 224.1h0M818.0 320.7h0M751.7 408.9h0M949.4 394.7h0M771.6 290.2h0M736.7 279.6h0M862.1 376.0h0M732.0 261.6h0M748.5 241.7h0M722.6 282.1h0M768.8 203.2h0M722.6 241.6h0M794.6 372.9h0M765.3 406.9h0M748.4 212.7h0M820.0 332.8h0M816.5 306.3h0M745.5 310.1h0M880.6 284.8h0M785.3 230.4h0M748.3 259.6h0M757.5 283.4h0M739.4 277.8h0M767.7 320.1h0M800.6 270.0h0M816.9 205.3h0M922.6 396.3h0M804.4 210.0h0M721.0 248.4h0M780.3 338.1h0M723.7 299.2h0M724.6 312.8h0M744.5 290.1h0M742.4 217.4h0M762.8 312.7h0M745.6 336.8h0M797.4 361.8h0M794.4 285.0h0M761.1 389.1h0M714.7 297.7h0M745.3 264.5h0M830.6 335.5h0M775.7 212.1h0M742.4 252.3h0M770.9 315.9h0M856.8 334.5h0M788.2 243.3h0M752.6 278.5h0M729.5 334.0h0M787.6 299.5h0M785.7 279.2h0M812.6 243.6h0M797.1 219.4h0M780.5 257.1h0M817.0 324.2h0M805.9 333.3h0M783.7 333.7h0M781.3 253.9h0M861.9 296.5h0M852.5 305.0h0M780.0 222.8h0M764.2 193.0h0M763.4 214.7h0M761.6 362.4h0M757.7 316.8h0M788.6 308.6h0M764.5 194.7h0M736.8 264.8h0M821.4 367.0h0M808.5 387.1h0M731.0 243.2h0M769.7 262.3h0M749.8 409.8h0M711.2 274.8h0M860.7 357.4h0M807.8 383.7h0M783.0 394.0h0M807.1 314.8h0M786.2 250.2h0M746.5 234.8h0M833.8 330.4h0M711.1 261.8h0M773.6 316.4h0M732.2 252.4h0M831.6 352.8h0M803.4 221.0h0M764.4 356.6h0M820.0 328.1h0M750.6 403.1h0M818.4 224.1h0M742.2 316.1h0M767.0 264.0h0M790.9 322.0h0M754.4 225.1h0M864.2 350.0h0M766.8 272.1h0M739.0 293.2h0M776.8 228.5h0M735.2 323.0h0M753.4 303.6h0M765.9 213.1h0M772.1 238.9h0M849.9 304.2h0M827.4 346.7h0M804.4 214.6h0M862.6 318.4h0M744.7 412.2h0M757.2 312.6h0M790.6 345.4h0M782.1 305.2h0M746.2 330.4h0M870.6 364.0h0M809.7 386.1h0M858.6 359.8h0M820.0 339.6h0M795.7 225.5h0M815.2 240.0h0M805.0 227.2h0M763.8 338.7h0M720.4 249.7h0M811.6 219.6h0M836.5 317.6h0M861.6 298.2h0M832.8 314.7h0M732.1 263.2h0M831.9 308.6h0M729.2 306.9h0M771.0 306.6h0M787.0 305.4h0M736.8 286.2h0M727.2 332.0h0M733.7 333.9h0M795.1 305.1h0M850.1 301.1h0M755.3 288.0h0M782.9 247.7h0M735.0 281.0h0M811.0 207.7h0M712.4 302.1h0M781.6 279.0h0M764.7 231.8h0M861.7 354.3h0M810.5 316.8h0M763.6 240.3h0M742.0 242.4h0M794.5 314.3h0M757.0 275.8h0M844.9 326.8h0M854.7 340.9h0M892.1 392.7h0M791.4 279.2h0M738.3 247.3h0M797.1 302.7h0M857.6 386.4h0M863.9 321.5h0M776.5 275.3h0M783.6 320.6h0M748.7 232.3h0M822.4 332.3h0M802.0 264.6h0M850.5 379.6h0M724.0 316.8h0M800.8 278.8h0M787.4 260.1h0M802.7 316.1h0M784.5 384.1h0M837.7 333.2h0M825.6 303.3h0M814.0 320.5h0M804.3 339.4h0M768.7 353.6h0M801.2 248.7h0M753.0 254.6h0M741.6 225.6h0M776.6 338.0h0M805.2 353.0h0M828.9 329.3h0M781.2 336.8h0M799.8 337.4h0M725.5 291.8h0M850.8 381.5h0M801.2 219.6h0M783.2 267.9h0M799.0 339.2h0M770.0 366.6h0M806.4 248.5h0M762.0 284.2h0M723.5 280.3h0M851.9 308.0h0M773.4 240.9h0M803.9 248.5h0M766.6 291.3h0M852.1 362.0h0M764.5 281.7h0M711.6 267.7h0M821.3 326.5h0M808.6 326.2h0M749.9 305.7h0M801.1 349.1h0M714.4 292.2h0M755.8 263.8h0M807.3 205.8h0M752.3 274.0h0M735.9 240.0h0M787.2 321.8h0M721.6 289.9h0M811.2 211.2h0M830.2 317.2h0M802.1 322.1h0M727.2 320.4h0M764.1 288.2h0M759.7 263.9h0M780.6 364.0h0M733.7 237.8h0M788.9 309.7h0M765.0 302.1h0M918.3 395.2h0M820.3 236.2h0M730.9 290.2h0M809.6 308.8h0M909.8 390.9h0M754.6 370.8h0M759.7 241.7h0M859.0 385.1h0M839.9 349.9h0M812.2 209.7h0M800.2 363.1h0M869.6 308.4h0M778.6 231.1h0M868.7 318.1h0M866.0 289.1h0M791.9 233.6h0M728.7 259.0h0M801.1 333.3h0M843.5 331.9h0M725.1 341.2h0M759.2 297.0h0M814.1 219.3h0M772.6 340.6h0M721.6 288.4h0M715.7 269.2h0M778.8 397.2h0M770.8 318.3h0M770.5 372.8h0M738.6 291.5h0M729.5 246.0h0M831.0 329.8h0M897.0 382.5h0M778.2 226.9h0M853.6 321.5h0M787.2 225.4h0M776.8 309.4h0M744.8 264.0h0M882.5 285.3h0M859.8 335.0h0M768.9 264.0h0M791.2 221.3h0M740.3 323.7h0M800.3 274.4h0M803.8 382.5h0M793.1 249.0h0M731.5 229.5h0M882.3 281.7h0M769.4 352.9h0M767.3 256.2h0M801.1 260.0h0M787.2 310.1h0M838.2 323.8h0M725.9 237.7h0M733.7 259.9h0M838.9 336.5h0M875.5 285.5h0M855.8 315.1h0M818.3 361.7h0M760.9 221.4h0M786.5 265.2h0M804.9 275.8h0M767.9 399.8h0M871.6 286.8h0M753.7 332.7h0M777.1 269.8h0M793.1 268.0h0M802.0 363.8h0M770.9 238.8h0M857.5 350.3h0M770.9 316.3h0M770.1 344.0h0M749.7 243.1h0M813.8 229.0h0M789.5 292.1h0M713.0 261.5h0M731.1 257.3h0M797.2 226.3h0M790.2 328.5h0M844.6 388.1h0M718.2 253.2h0M803.0 317.7h0M867.2 374.9h0M818.4 229.5h0M808.1 257.1h0M733.2 296.3h0M757.2 275.8h0M844.4 357.6h0M785.9 260.0h0M771.7 307.1h0M782.3 300.4h0M858.9 378.7h0M765.5 244.6h0M852.2 318.3h0M807.5 221.2h0M814.5 201.2h0M866.4 304.9h0M791.0 392.3h0M790.7 331.8h0M742.9 277.2h0M821.0 213.3h0M760.1 208.5h0M772.2 374.8h0M840.6 325.6h0M741.9 306.2h0M751.1 301.7h0M783.4 306.8h0M845.0 330.9h0M810.4 326.1h0M736.2 300.0h0M771.9 311.3h0M812.9 310.6h0M799.9 264.9h0M814.0 330.6h0M753.9 257.9h0M831.2 372.6h0M799.0 329.1h0M751.2 324.1h0M811.1 330.4h0M721.4 287.6h0M779.0 296.9h0M770.5 259.9h0M767.3 334.9h0M781.2 248.1h0M793.7 301.7h0M790.8 228.2h0M777.0 267.1h0M789.9 273.6h0M837.7 301.8h0M787.0 290.2h0M770.5 208.5h0M758.8 226.9h0M720.5 305.2h0M741.0 299.9h0M800.4 308.6h0M757.1 265.9h0M784.6 358.0h0M818.4 322.9h0M767.8 389.5h0M833.8 336.8h0M758.9 250.7h0M821.6 324.3h0M762.2 324.6h0M868.0 381.4h0M760.4 340.3h0M823.2 371.8h0M850.8 366.3h0M775.0 304.1h0M793.6 292.1h0M749.7 288.4h0M799.1 389.7h0M791.3 305.0h0M753.5 408.0h0M762.8 262.0h0M800.3 251.4h0M717.4 242.9h0M798.5 291.2h0M801.2 320.9h0M772.0 260.4h0M741.2 324.0h0M807.9 307.8h0M752.1 401.5h0M745.4 272.2h0M775.3 309.7h0M826.3 321.8h0M803.2 341.1h0M781.8 227.6h0M737.9 231.3h0M811.6 255.9h0M800.8 325.5h0M769.2 282.4h0M736.2 285.2h0M745.9 328.0h0M811.8 339.4h0M754.4 307.1h0M772.3 318.3h0M858.1 364.7h0M755.6 313.3h0M777.7 325.5h0M792.6 334.3h0M761.5 235.4h0M788.5 304.4h0M772.7 295.8h0M761.5 196.7h0M750.5 294.5h0M743.0 338.8h0M776.8 342.2h0M843.2 298.8h0M823.7 349.8h0M772.1 234.1h0M735.7 314.1h0M760.9 233.1h0M783.9 392.4h0M768.8 299.7h0M787.1 230.7h0M820.6 204.4h0M795.4 304.0h0M750.9 289.5h0M779.1 293.5h0M870.5 299.6h0M778.0 313.0h0M785.2 216.3h0M773.2 303.3h0M762.3 334.6h0M733.1 232.8h0M771.3 196.6h0M854.9 309.7h0M809.3 335.5h0M748.2 400.9h0M724.9 277.5h0M719.3 292.2h0M812.2 359.6h0M769.4 316.3h0M817.4 355.1h0M744.3 315.3h0M922.0 391.5h0M828.6 322.6h0M799.4 267.3h0M790.9 259.3h0M778.8 207.4h0M785.3 301.4h0M745.5 338.6h0M781.5 211.1h0M752.3 402.2h0M770.8 301.5h0M850.2 382.4h0M930.3 393.2h0M754.1 412.4h0M746.8 243.7h0M878.6 377.5h0M791.1 330.8h0M771.2 235.8h0M756.6 214.2h0M717.9 309.6h0M801.6 305.7h0M744.3 307.7h0M853.5 349.3h0M831.6 367.3h0M811.2 248.1h0M761.8 309.9h0M816.4 374.2h0M773.7 220.5h0M803.6 232.4h0M803.4 326.2h0M947.0 395.2h0M871.8 307.5h0M776.2 338.6h0M762.3 276.3h0M804.4 363.9h0M837.6 300.5h0M811.8 347.2h0M782.0 231.5h0M762.2 192.5h0M772.6 216.8h0M717.9 309.9h0M789.3 262.4h0M870.8 307.6h0M797.3 295.8h0M803.2 319.7h0M771.8 265.6h0M842.3 341.9h0M763.7 249.9h0M816.4 308.1h0M816.6 219.7h0M765.6 344.8h0M789.0 281.3h0M837.7 342.6h0M797.2 254.6h0M754.1 382.4h0M834.9 308.4h0M813.2 310.0h0M775.4 280.9h0M858.9 314.8h0M713.3 260.9h0M807.6 213.7h0M748.7 265.9h0M902.9 392.8h0M878.5 366.4h0M711.6 281.0h0M757.9 325.4h0M764.3 219.0h0M722.4 313.5h0M769.1 324.3h0M745.7 303.9h0M739.5 306.5h0M836.0 316.4h0M793.8 392.6h0M796.7 223.2h0M776.7 401.0h0M780.4 328.8h0M745.8 398.4h0M778.4 374.8h0M769.7 244.1h0M795.1 308.4h0M803.7 367.3h0M760.7 254.9h0M822.8 216.6h0M721.3 271.1h0M743.9 338.3h0M728.3 258.0h0M744.0 289.6h0M792.1 394.9h0M797.2 217.1h0M764.4 369.1h0M738.5 246.9h0M785.8 380.9h0M899.2 395.1h0M786.4 297.7h0M761.5 367.2h0M823.0 218.3h0M805.0 261.5h0M804.3 214.0h0M757.9 274.8h0M798.6 329.7h0M783.1 269.4h0M797.4 311.1h0M850.9 357.8h0M789.7 215.5h0M734.8 241.9h0M740.4 301.3h0M775.7 271.1h0M756.0 219.5h0M806.2 239.2h0M743.2 225.4h0M725.4 271.8h0M801.6 358.7h0M824.2 380.2h0M786.2 330.4h0M793.7 263.7h0M775.6 206.4h0M814.3 377.2h0M772.4 253.7h0M808.8 342.5h0M780.9 286.9h0M775.3 262.6h0M734.3 313.4h0M770.1 325.7h0M747.0 303.3h0M738.8 259.8h0M873.3 377.0h0M745.6 330.0h0M821.9 328.6h0M800.1 305.3h0M828.9 356.9h0M877.9 283.7h0M739.3 259.2h0M780.3 238.3h0M835.2 329.5h0M752.5 253.8h0M805.3 339.4h0M852.0 313.4h0M723.2 342.2h0M751.2 288.6h0M848.7 300.2h0M768.4 284.2h0M800.0 275.8h0M879.1 385.5h0M718.1 291.6h0M852.7 342.1h0M751.1 324.4h0M816.4 333.7h0M811.9 383.0h0M760.9 208.2h0M837.5 324.0h0M791.4 248.0h0M796.8 288.1h0M715.7 265.7h0M844.3 363.9h0M887.2 277.8h0M824.2 339.8h0M770.5 285.5h0M829.6 373.7h0M844.8 319.2h0M743.8 221.4h0M804.6 308.1h0M750.7 216.6h0M714.9 298.7h0M753.5 386.7h0M753.0 339.5h0M846.1 325.5h0M815.9 337.1h0M862.2 324.0h0M902.3 393.2h0M757.6 259.2h0M793.6 271.2h0M870.3 300.5h0M723.2 260.5h0M848.0 353.5h0M783.2 249.7h0M754.1 404.7h0M804.4 269.4h0M794.4 272.8h0M744.0 312.6h0M822.1 208.4h0M747.7 306.4h0M768.3 269.0h0M798.9 270.3h0M760.8 335.2h0M814.6 357.3h0M722.9 243.8h0M761.2 209.9h0M769.1 246.9h0M875.7 287.1h0M774.6 245.9h0M799.4 284.2h0M777.5 344.7h0M857.7 305.9h0M776.0 304.6h0M713.9 251.6h0M724.6 269.6h0M740.1 315.6h0M858.0 343.4h0M836.9 315.4h0M835.5 335.6h0M771.3 204.5h0M760.7 341.8h0M770.8 253.6h0M792.5 312.3h0M793.2 258.7h0M754.2 262.0h0M761.4 205.4h0M725.8 237.8h0M781.1 234.2h0M884.8 391.8h0M818.9 222.9h0M725.4 297.7h0M789.9 215.7h0M747.4 211.8h0M855.0 393.8h0M888.9 372.4h0M770.6 327.9h0M869.3 300.9h0M841.2 345.3h0M810.6 239.2h0M848.3 362.0h0M808.9 309.9h0M864.4 294.5h0M758.4 371.7h0M760.6 341.2h0M854.3 387.2h0M712.8 285.3h0M761.6 378.6h0M803.2 354.7h0M776.3 255.1h0M804.2 223.5h0M799.9 224.9h0M775.2 390.1h0M778.3 362.8h0M825.9 372.3h0M737.9 334.2h0M758.9 257.0h0M935.5 396.5h0M757.2 223.5h0M759.9 246.3h0M731.9 299.1h0M825.6 367.3h0M831.8 357.3h0M784.0 216.4h0M731.2 333.0h0M751.0 324.8h0M801.5 315.6h0M765.5 329.0h0M834.3 305.3h0M742.3 221.8h0M763.5 342.0h0M741.1 337.4h0M718.5 295.9h0M742.6 248.3h0M758.6 296.5h0M726.9 285.5h0M826.7 214.6h0M772.0 395.1h0M854.4 331.3h0M809.8 243.2h0M950.6 393.9h0M739.9 249.5h0M736.3 263.5h0M857.0 338.5h0M862.0 314.7h0M839.6 378.2h0M793.1 235.4h0M810.3 314.8h0M780.2 298.6h0M724.3 280.4h0M824.7 326.1h0M757.0 216.7h0M808.2 364.3h0M794.0 320.0h0M793.4 378.4h0M862.0 392.8h0M736.2 274.4h0M828.8 315.0h0M780.1 237.6h0M758.3 302.7h0M779.0 396.3h0M767.4 300.1h0M800.9 329.8h0M756.1 325.4h0M714.0 304.2h0M745.6 413.2h0M780.5 266.0h0M827.8 320.8h0M734.0 310.2h0M770.7 265.0h0M711.8 297.3h0M757.9 298.8h0M779.1 285.1h0M748.5 221.1h0M735.3 296.4h0M725.8 261.2h0M785.9 312.2h0M786.1 226.3h0M729.3 261.1h0M827.4 322.4h0M806.9 385.1h0M840.7 304.6h0M749.6 252.4h0M783.8 313.9h0M752.8 250.9h0M817.6 244.1h0M720.9 248.2h0M788.1 273.8h0M788.3 324.4h0M852.5 338.9h0M782.7 230.8h0M791.8 283.4h0M852.4 391.9h0M777.1 311.4h0M794.6 335.3h0M709.7 299.7h0M760.4 218.0h0M768.9 230.2h0M816.3 385.3h0M811.2 344.3h0M774.0 308.0h0M779.3 263.7h0M813.5 200.4h0M736.5 227.8h0M763.5 298.5h0M762.5 272.5h0M745.4 261.7h0M753.5 311.8h0M832.8 371.5h0M749.1 264.2h0M749.7 280.3h0M811.6 211.4h0M737.6 265.4h0M825.7 343.9h0M823.7 224.5h0M745.5 214.3h0M755.4 276.8h0M806.6 242.5h0M800.3 215.5h0M759.1 384.0h0M813.2 210.0h0M806.2 260.3h0M861.5 383.9h0M742.7 249.1h0M845.4 341.5h0M761.2 282.9h0M719.2 242.9h0M859.5 297.4h0M831.1 318.0h0M742.0 309.5h0M860.2 311.4h0M757.4 230.5h0M721.5 271.5h0M767.7 259.3h0M786.4 266.1h0M758.7 265.6h0M793.9 261.1h0M792.1 319.9h0M782.9 309.3h0M804.1 306.1h0M929.4 391.6h0M730.7 268.2h0M801.8 259.2h0M800.6 363.5h0M845.5 330.2h0M749.8 327.1h0M819.7 204.2h0M765.7 339.0h0M858.0 346.2h0M865.2 305.8h0M752.2 317.3h0M794.0 301.9h0M756.3 229.3h0M855.0 321.1h0M791.0 235.7h0M749.8 253.7h0M771.3 197.5h0M814.8 381.8h0M742.6 239.2h0M755.3 386.0h0M803.2 359.9h0M746.8 319.8h0M824.3 383.7h0M752.4 386.8h0M838.6 304.2h0M749.6 221.1h0M798.2 373.5h0M772.7 247.9h0M772.0 270.7h0M736.5 303.0h0M745.9 292.1h0M800.9 266.0h0M757.4 219.1h0M777.8 282.3h0M853.0 337.2h0M787.1 394.2h0M811.3 209.5h0M741.6 321.7h0M761.1 288.3h0M938.3 391.7h0M740.7 272.6h0M774.1 383.6h0M833.6 343.9h0M737.9 332.2h0M877.1 302.3h0M783.6 226.6h0M786.1 232.1h0M882.7 393.1h0M880.6 392.5h0M752.0 236.6h0M748.5 245.0h0M836.0 339.8h0M774.6 330.9h0M865.0 299.5h0M769.7 307.3h0M835.0 386.5h0M811.3 338.9h0M762.7 284.8h0M747.9 244.9h0M800.3 347.7h0M859.0 391.1h0M825.7 222.5h0M750.5 276.2h0M860.5 311.8h0M817.6 217.5h0M749.8 218.8h0M823.8 224.8h0M793.1 335.7h0M750.7 238.0h0M766.5 352.6h0M744.2 309.9h0M773.5 240.7h0M732.4 278.3h0M744.6 283.2h0M800.6 284.8h0M779.4 239.2h0M797.6 299.5h0M785.7 382.6h0M723.5 253.0h0M734.9 322.3h0M735.9 229.9h0M801.6 261.2h0M852.3 299.4h0M780.3 251.7h0M724.4 272.0h0M805.8 322.6h0M742.3 219.2h0M810.5 209.5h0M860.1 294.9h0M830.1 336.4h0M787.0 390.4h0M776.4 287.0h0M755.5 304.5h0M787.7 217.4h0M849.1 318.7h0M808.7 213.5h0M774.0 355.9h0M809.4 326.0h0M769.2 219.4h0M819.8 330.0h0M733.5 323.2h0M774.1 369.0h0M759.8 294.7h0M792.9 290.0h0M783.4 322.9h0M713.1 261.2h0M730.5 334.0h0M860.7 300.3h0M812.4 343.6h0M744.0 312.7h0M845.9 388.9h0M796.2 334.8h0M855.8 354.2h0M758.4 328.7h0M781.5 273.1h0M725.5 238.9h0M739.6 274.1h0M740.6 323.7h0M775.1 209.9h0M717.5 287.6h0M758.3 373.1h0M781.6 325.1h0M823.2 230.7h0M859.8 323.7h0M731.5 318.1h0M794.3 234.5h0M816.2 240.7h0M800.3 219.9h0M834.0 353.6h0M801.8 365.5h0M843.9 355.9h0M868.6 358.5h0M874.6 283.9h0M788.6 319.0h0M787.7 245.5h0M799.3 233.3h0M763.8 204.4h0M821.6 317.1h0M758.5 247.3h0M769.2 237.7h0M881.6 283.1h0M793.3 312.7h0M839.7 337.3h0M760.3 239.0h0M754.8 262.8h0M857.4 322.4h0M739.5 304.7h0M862.0 303.2h0M824.8 309.7h0M778.3 355.7h0M748.9 270.6h0M810.0 229.6h0M795.1 383.5h0M774.9 340.6h0M751.7 228.5h0M845.2 350.2h0M755.4 220.0h0M804.4 334.4h0M758.7 202.6h0M725.6 273.8h0M797.0 367.3h0M959.3 392.9h0M765.2 247.2h0M851.3 343.1h0M872.5 292.9h0M874.8 291.5h0M735.1 293.6h0M770.7 273.3h0M802.2 317.8h0M775.7 330.1h0M812.1 212.4h0M724.7 304.6h0M758.5 226.1h0M823.1 362.0h0M784.9 370.7h0M750.2 279.0h0M839.0 327.2h0M745.7 272.0h0M757.9 329.6h0M716.6 250.5h0M780.4 228.7h0M854.3 385.5h0M862.5 327.1h0M818.7 224.1h0M766.4 226.8h0M812.4 316.0h0M805.2 320.1h0M793.2 275.6h0M801.7 356.9h0M722.5 309.2h0M813.0 232.9h0M853.0 326.8h0M711.1 270.8h0M797.0 272.1h0M862.9 393.2h0M878.3 382.8h0M729.4 302.5h0M759.7 295.6h0M784.3 272.4h0M724.4 284.8h0M744.0 292.1h0M783.7 256.6h0M811.6 344.2h0M846.6 344.0h0M816.8 343.3h0M762.1 327.5h0M722.6 305.8h0M832.9 386.2h0M821.9 382.1h0M758.6 323.2h0M845.8 317.2h0M795.3 386.1h0M779.5 221.7h0M731.5 256.8h0M712.3 303.1h0M754.0 261.3h0M810.8 204.5h0M746.2 259.9h0M812.3 255.3h0M826.9 343.6h0M809.7 344.1h0M814.6 203.6h0M773.6 293.9h0M809.0 205.6h0M725.8 236.0h0M791.3 313.3h0M796.7 278.0h0M797.6 242.3h0M792.3 261.9h0M814.6 338.5h0M767.2 218.4h0M728.5 238.4h0M925.2 391.4h0M733.2 274.8h0M773.9 339.9h0M846.0 305.8h0M863.8 298.8h0M759.5 303.8h0M724.9 291.7h0M848.5 393.5h0M738.1 265.1h0M799.5 232.3h0M737.9 297.9h0M771.8 395.7h0M728.2 328.5h0M826.1 317.0h0M842.0 322.6h0M748.4 339.9h0M739.8 324.3h0M764.3 341.7h0M827.0 376.2h0M795.3 224.5h0M782.7 265.2h0M805.0 218.5h0M794.5 235.7h0M792.7 224.2h0M764.6 283.2h0M721.2 266.9h0M852.5 327.9h0M725.7 306.2h0M838.5 306.4h0M794.8 317.9h0M768.1 305.9h0M874.6 299.8h0M818.8 219.3h0M746.9 327.3h0M786.9 284.1h0M724.6 277.4h0M838.1 308.3h0M840.5 377.2h0M752.1 398.9h0M757.7 229.2h0M753.4 215.9h0M773.7 207.7h0M733.5 226.6h0M857.2 320.3h0M836.1 322.0h0M821.9 350.0h0M749.1 224.5h0M796.7 286.7h0M768.2 231.8h0M784.2 285.2h0M882.6 379.8h0M745.7 230.7h0M852.5 306.3h0M765.4 243.1h0M810.1 246.6h0M778.5 213.9h0M813.5 309.7h0M730.4 342.7h0M866.6 289.3h0M749.2 267.7h0M800.9 255.2h0M724.1 344.0h0M839.1 320.5h0M750.2 333.3h0M878.2 303.1h0M796.9 228.1h0M731.9 274.1h0M795.0 248.4h0M760.0 210.8h0M775.4 214.0h0M803.3 268.6h0M775.3 205.3h0M792.1 278.8h0M751.1 407.2h0M860.7 301.8h0M881.1 300.0h0M745.8 313.8h0M848.0 316.8h0M746.5 317.8h0M816.3 365.9h0M774.4 220.8h0M786.6 227.4h0M851.5 344.3h0M788.1 328.4h0M913.9 390.4h0M780.2 337.2h0M778.3 332.2h0M805.5 319.1h0M773.9 235.3h0M885.0 386.7h0M709.5 299.0h0M778.8 260.9h0M756.1 337.1h0M893.3 376.8h0M745.6 293.4h0M762.4 221.4h0M785.0 391.3h0M731.5 236.2h0M798.8 267.7h0M803.4 239.0h0M765.6 263.3h0M788.5 259.5h0M874.8 383.8h0M761.5 231.9h0M721.3 283.2h0M722.6 294.8h0M759.0 209.2h0M825.3 226.0h0M879.7 299.2h0M780.5 277.7h0M791.7 316.4h0M796.9 240.7h0M753.2 309.7h0M878.8 386.9h0M839.8 330.3h0M863.7 357.7h0M787.7 316.0h0M790.4 376.4h0M795.8 391.5h0M729.8 253.5h0M769.0 214.0h0M794.0 288.8h0M768.0 249.2h0M823.4 318.7h0M761.2 249.2h0M793.8 279.0h0M717.4 301.2h0M809.9 369.1h0M820.5 316.4h0M803.0 277.5h0M800.4 211.7h0M751.9 404.6h0M715.0 258.0h0M755.6 247.2h0M859.2 303.3h0M805.2 261.9h0M780.9 238.8h0M756.5 286.6h0M782.1 315.2h0M742.6 289.8h0M813.4 378.6h0M852.9 305.0h0M786.0 247.3h0M847.3 305.1h0M747.0 240.9h0M737.0 296.0h0M842.5 325.8h0M823.1 229.9h0M748.1 247.0h0M747.3 408.7h0M830.1 386.9h0M798.0 302.4h0M876.5 287.4h0M792.4 367.9h0M771.7 312.4h0M809.9 224.1h0M724.7 267.3h0M803.9 362.8h0M759.6 228.6h0M834.4 389.8h0M822.5 308.2h0M754.4 309.4h0M779.2 340.8h0M807.1 253.8h0M812.6 321.9h0M748.4 272.9h0M720.7 286.9h0M778.2 308.8h0M761.5 282.8h0M764.9 295.7h0M769.6 253.5h0M795.0 310.2h0M759.0 367.9h0M797.8 314.5h0M744.2 270.2h0M818.5 320.3h0M811.0 244.3h0M715.1 252.8h0M785.4 260.1h0M856.9 354.3h0M818.5 204.7h0M759.8 212.4h0M852.6 362.4h0M788.4 380.0h0M742.3 315.3h0M786.0 338.6h0M770.0 259.1h0M870.3 316.2h0M842.2 303.1h0M839.1 314.4h0M794.3 227.0h0M774.5 334.2h0M785.3 274.4h0M745.7 288.3h0M743.5 291.6h0M765.5 252.5h0M726.4 318.1h0M819.0 340.1h0M871.8 287.7h0M750.3 381.6h0M784.5 260.7h0M768.9 210.3h0M795.6 344.9h0M741.9 315.7h0M777.2 331.0h0M749.1 331.8h0M777.8 259.8h0M882.2 394.4h0M768.8 267.8h0M746.1 297.6h0M784.1 325.2h0M739.2 258.2h0M798.8 236.5h0M747.1 307.5h0M812.7 316.5h0M791.7 363.4h0M787.9 355.4h0M850.0 336.0h0M768.1 284.6h0M721.3 252.0h0M719.1 271.4h0M783.6 338.7h0M795.6 291.0h0M739.7 325.8h0M790.6 341.9h0M747.5 276.8h0M729.4 276.9h0M753.3 302.7h0M777.8 240.2h0M775.4 276.4h0M800.0 317.7h0M722.4 296.3h0M756.8 310.6h0M757.9 238.2h0M780.9 276.3h0M791.9 274.0h0M734.2 302.0h0M754.0 268.1h0M769.8 272.2h0M767.2 250.3h0M717.0 288.9h0M755.0 324.4h0M772.5 322.0h0M740.7 236.5h0M792.4 340.8h0M724.0 265.4h0M730.1 305.2h0M714.5 299.5h0M717.5 258.3h0M759.3 269.1h0M762.5 204.7h0M776.8 333.8h0M781.4 307.1h0M744.5 286.7h0M724.6 303.3h0M739.3 286.0h0M756.0 319.3h0M795.8 303.3h0M719.1 255.8h0M732.0 323.0h0M762.0 252.7h0M758.3 333.9h0M759.2 325.9h0M778.3 217.6h0M749.7 247.1h0M727.7 231.7h0M781.5 293.6h0M727.9 238.1h0M760.8 235.1h0M748.8 212.9h0M758.2 315.8h0M715.8 266.9h0M737.3 268.6h0M790.6 240.8h0M798.6 216.1h0M794.2 303.4h0M732.7 325.6h0M761.9 292.8h0M764.2 302.6h0M776.4 240.7h0M725.2 250.0h0M740.4 288.4h0M765.7 268.0h0M731.5 242.5h0M749.1 273.2h0M736.6 282.2h0M749.0 333.2h0M742.2 322.1h0M783.1 240.4h0M781.4 274.1h0M727.6 326.6h0M726.1 290.4h0M780.4 240.3h0M734.6 254.5h0M757.9 285.3h0M763.4 324.1h0M727.0 253.3h0M757.8 236.1h0M780.3 216.1h0M721.4 311.7h0M728.5 279.8h0M763.4 307.6h0M724.3 303.9h0M789.7 331.9h0M715.2 293.0h0M730.5 253.4h0M766.9 215.4h0M735.6 256.9h0M749.7 318.3h0M737.2 259.5h0M758.9 280.6h0M740.0 308.3h0M719.2 259.5h0M777.5 331.9h0M749.8 325.2h0M738.1 289.5h0M754.4 265.9h0M780.4 335.6h0M757.1 266.9h0M765.8 276.8h0M763.9 281.3h0M726.4 303.0h0M796.4 289.3h0M757.7 286.5h0M784.6 235.0h0M762.6 342.9h0M763.1 255.8h0M712.6 277.2h0M776.3 235.0h0M775.4 272.3h0M799.7 325.6h0M770.4 335.1h0M755.4 300.6h0M732.1 340.4h0M771.5 301.0h0M793.0 271.6h0M732.7 277.0h0M788.9 275.5h0M729.8 251.7h0M777.4 289.6h0M793.1 240.2h0M762.3 321.0h0M753.1 317.5h0M753.6 260.8h0M794.0 295.2h0M763.4 336.8h0M756.4 280.6h0M753.0 310.4h0M796.0 221.1h0M784.0 269.0h0M788.1 295.8h0M763.6 313.6h0M740.7 327.3h0M732.8 310.1h0M796.3 288.3h0M772.7 335.2h0M793.5 287.3h0M729.6 336.9h0M730.8 259.4h0M724.3 257.2h0M763.8 207.6h0M755.3 210.5h0M795.9 317.0h0M742.5 314.8h0M746.4 330.6h0M764.5 326.1h0M751.0 327.8h0M764.9 326.4h0M732.1 339.0h0M785.5 224.5h0M785.8 230.2h0M771.9 286.7h0M776.2 274.4h0M782.6 250.9h0M758.9 300.8h0M726.5 272.3h0M797.7 273.0h0M742.8 274.5h0M729.0 322.2h0M757.1 242.7h0M770.9 297.4h0M748.3 265.3h0M791.5 254.1h0M788.5 229.1h0M737.8 308.1h0M777.9 341.0h0M776.4 343.5h0M735.5 302.8h0M799.4 262.5h0M760.3 332.3h0M714.0 262.9h0M752.5 312.9h0M754.5 208.3h0M784.0 314.7h0M787.1 330.1h0M739.5 222.1h0M782.3 308.0h0M742.1 289.5h0M776.1 326.3h0M750.6 340.1h0M763.7 227.0h0M792.6 262.2h0M764.1 304.8h0M717.0 289.1h0M739.4 313.6h0M777.1 221.8h0M792.9 216.1h0M792.8 336.5h0M725.1 284.6h0M799.4 220.3h0M758.9 203.9h0M724.0 298.5h0M772.1 301.8h0M771.9 300.3h0M769.6 219.2h0M790.6 243.8h0M783.9 219.5h0M731.6 321.3h0M763.7 286.3h0M744.1 261.1h0M729.9 252.0h0M746.4 272.8h0M790.3 216.3h0M734.4 261.5h0M781.5 332.6h0M713.2 295.9h0M785.8 266.1h0M732.7 284.1h0M767.2 278.9h0M756.3 248.7h0M775.4 219.7h0M744.9 241.6h0M744.7 239.3h0M729.3 329.4h0M743.4 272.0h0M789.1 265.0h0M754.6 200.3h0M755.6 308.7h0M798.1 237.0h0M758.5 313.2h0M762.1 285.5h0M781.5 332.9h0M734.1 273.0h0M794.3 333.8h0M766.5 259.8h0M744.2 232.1h0M797.8 342.4h0M792.5 229.6h0M765.1 228.8h0M753.8 261.8h0M746.6 230.0h0M770.7 285.6h0M779.4 335.1h0M793.9 278.1h0M754.2 289.4h0M725.2 247.5h0M765.5 252.2h0M731.1 260.2h0M734.8 304.6h0M714.7 302.7h0M762.6 321.5h0M717.2 283.7h0M799.3 270.1h0M779.5 282.3h0M778.9 343.3h0M776.7 260.6h0M722.3 311.7h0M770.3 268.4h0M767.4 334.0h0M764.8 263.0h0M766.8 200.6h0M733.8 337.4h0M796.3 269.9h0M745.5 325.9h0M739.5 316.9h0M753.5 272.4h0M742.2 316.2h0M788.0 321.1h0M737.7 245.2h0M791.9 254.0h0M768.7 312.3h0M737.7 282.2h0M768.7 333.4h0M790.5 226.4h0M763.4 336.8h0M782.2 289.6h0M732.3 305.3h0M761.0 263.8h0M745.6 310.1h0M770.9 221.6h0M775.0 295.3h0M774.0 308.2h0M745.9 210.3h0M765.7 261.4h0M736.5 233.2h0M732.3 259.4h0M788.7 223.7h0M769.3 209.3h0M731.0 310.2h0M761.8 222.7h0M741.8 268.9h0M725.3 241.5h0M777.0 212.0h0M735.7 263.1h0M797.4 344.4h0M708.7 295.1h0M719.6 308.1h0M745.5 298.4h0M778.2 228.6h0M745.1 214.5h0M743.8 327.4h0M722.4 266.1h0M770.3 233.2h0M783.3 289.0h0M755.5 299.4h0M745.4 338.5h0M740.4 311.9h0M754.7 212.7h0M727.2 262.3h0M734.0 334.4h0M758.4 282.7h0M753.0 203.0h0M730.2 233.3h0M747.5 335.3h0M722.5 298.6h0M724.5 344.4h0M752.0 214.1h0M784.9 307.9h0M733.3 244.6h0M767.2 252.6h0M736.9 245.6h0M751.2 306.0h0M739.4 292.0h0M771.5 307.6h0M751.1 285.3h0M723.0 290.5h0M767.4 254.9h0M731.7 329.6h0M728.8 306.1h0M728.2 309.3h0M777.4 213.5h0M743.3 220.9h0M733.5 259.8h0M777.8 340.6h0M749.8 293.7h0M778.0 261.5h0M718.5 278.1h0M756.5 218.2h0M727.4 329.2h0M749.1 238.9h0M795.8 300.2h0M722.7 236.5h0M770.9 323.1h0M773.4 327.2h0M720.7 261.1h0M753.4 298.4h0M741.4 255.4h0M785.9 289.4h0M751.7 245.4h0M790.0 287.4h0M766.3 298.8h0M732.3 258.8h0M783.4 319.4h0M794.8 255.9h0M714.1 297.8h0M792.0 213.5h0M710.4 293.3h0M721.8 280.6h0M733.4 321.9h0M792.2 300.3h0M744.8 302.8h0M786.4 315.2h0M731.0 300.1h0M778.1 253.2h0M753.8 218.3h0M779.1 328.8h0M766.9 333.3h0M775.3 258.2h0M720.8 288.0h0M788.7 336.4h0M759.4 342.0h0M746.3 219.2h0M774.3 235.8h0M764.6 210.2h0M771.0 224.4h0M774.3 315.8h0M787.1 295.7h0M744.5 215.2h0M726.2 260.5h0M793.3 315.6h0M789.7 241.7h0M733.5 282.8h0M776.3 255.9h0M758.4 228.6h0M768.8 333.3h0M788.6 229.7h0M751.6 283.4h0M779.9 284.4h0M736.0 301.5h0M771.7 290.5h0M741.4 297.3h0M796.7 342.0h0M739.4 291.4h0M748.1 253.5h0M745.8 306.3h0M734.7 333.9h0M758.8 246.9h0M726.4 262.9h0M712.3 264.8h0M731.8 277.6h0M769.7 319.1h0M766.4 321.3h0M761.5 302.2h0M763.1 230.7h0M779.5 235.3h0M793.5 272.0h0M787.9 249.5h0M793.0 294.0h0M720.0 248.9h0M761.7 222.2h0M778.3 214.9h0M772.8 219.2h0M756.3 226.2h0M732.5 281.2h0M798.0 304.1h0M710.7 259.5h0M764.2 270.0h0M747.6 244.1h0M773.5 276.6h0M713.1 264.2h0M793.6 339.7h0M780.1 329.5h0M771.5 254.2h0M789.3 254.4h0M743.4 254.0h0M734.0 276.7h0M775.7 227.2h0M742.1 327.2h0M755.2 211.3h0M779.3 326.6h0M748.8 282.7h0M784.9 280.4h0M799.4 288.4h0M752.3 254.9h0M739.3 225.0h0M729.2 310.1h0M789.5 294.0h0M730.1 327.0h0M766.0 330.3h0M739.8 235.2h0M784.9 261.8h0M780.4 267.7h0M714.4 270.9h0M757.1 258.4h0M789.7 297.0h0M788.5 315.0h0M740.6 238.5h0M711.6 262.9h0M769.4 204.0h0M772.3 230.0h0M759.1 254.2h0M776.3 238.5h0M763.0 200.6h0M769.4 305.4h0M734.3 230.0h0M786.8 241.5h0M740.5 276.5h0M715.3 253.0h0M791.0 317.3h0M718.8 308.2h0M736.7 322.4h0M723.0 256.8h0M787.3 243.8h0M752.3 208.3h0M775.6 299.7h0M716.4 260.7h0M755.7 294.7h0M791.0 238.3h0M786.3 254.4h0M790.2 252.7h0M732.4 273.3h0M734.7 252.0h0M791.8 266.6h0M738.4 311.9h0M783.9 244.4h0M759.8 326.5h0M761.2 284.5h0M710.0 295.0h0M770.5 235.6h0M787.2 272.4h0M780.3 281.3h0M748.3 296.0h0M734.7 287.3h0M776.7 247.6h0M747.0 323.5h0M766.5 316.5h0M750.2 236.0h0M744.9 220.4h0M733.3 298.5h0M791.2 303.3h0M782.6 253.0h0M730.3 299.0h0M768.6 212.9h0M751.4 292.5h0M783.1 255.5h0M787.2 307.1h0M747.8 278.4h0M784.9 294.3h0M784.5 251.7h0M754.9 339.8h0M795.1 231.2h0M750.3 322.0h0M754.8 325.5h0M762.5 306.0h0M792.7 254.1h0M799.9 304.6h0M720.9 295.6h0M784.7 209.4h0M763.2 247.4h0M759.4 240.6h0M779.7 297.4h0M736.8 250.8h0M775.0 307.7h0M725.1 279.8h0M747.2 280.2h0M790.0 333.9h0M742.5 248.0h0M756.2 213.0h0M742.3 290.2h0M737.9 323.6h0M776.1 312.0h0M792.5 259.0h0M786.9 268.7h0M742.4 287.5h0M728.6 296.3h0M773.0 260.6h0M752.2 333.8h0M760.2 271.0h0M747.3 310.8h0M747.1 235.5h0M766.1 301.3h0M792.9 254.9h0M767.7 274.0h0M738.0 267.4h0M750.2 299.3h0M792.3 283.5h0M754.7 334.9h0M736.2 271.5h0M745.0 216.0h0M748.1 218.3h0M760.0 335.3h0M795.6 295.4h0M788.4 311.8h0M716.8 248.6h0M759.3 248.0h0M796.0 222.2h0M776.4 264.2h0M715.1 296.7h0M765.0 310.7h0M783.1 311.8h0M776.9 306.3h0M777.3 268.3h0M746.7 219.2h0M744.5 286.6h0M738.1 261.0h0M796.2 295.3h0M732.9 314.2h0M715.1 268.0h0M764.7 240.5h0M794.6 308.4h0M753.0 280.1h0M759.5 224.2h0M762.2 227.3h0M768.5 310.2h0M749.1 278.5h0M718.2 306.6h0M760.5 287.6h0M780.0 249.4h0M758.6 202.4h0M725.7 274.3h0M729.5 266.9h0M787.6 275.7h0M769.8 260.6h0M711.4 271.0h0M782.2 327.5h0M759.0 271.7h0M718.7 242.5h0M746.0 252.4h0M773.9 205.3h0M774.6 259.3h0M794.3 284.9h0M764.1 333.9h0M737.2 298.9h0M756.0 220.0h0M777.9 211.8h0M795.1 210.6h0M745.1 269.4h0M792.6 300.9h0M761.9 306.5h0M734.1 292.0h0M769.3 250.7h0M799.0 277.5h0M788.5 212.7h0M787.2 214.7h0M772.5 205.4h0M770.7 208.7h0M737.4 315.5h0M766.3 240.6h0M761.8 315.9h0M746.1 284.6h0M798.0 217.8h0M771.3 336.6h0M761.5 245.2h0M718.0 298.8h0M743.7 260.2h0M789.2 300.6h0M749.7 243.9h0M735.7 267.5h0M754.1 324.8h0M746.2 225.4h0M744.9 230.9h0M782.7 215.3h0M775.2 294.0h0M726.1 272.4h0M733.0 264.4h0M775.5 204.4h0M786.6 224.2h0M740.5 265.9h0M741.0 221.1h0M741.0 224.3h0M769.0 247.7h0M792.6 216.7h0M799.2 220.5h0M781.0 211.1h0M732.7 264.6h0M738.2 235.6h0M742.8 306.1h0M779.0 285.1h0M791.6 317.3h0M753.6 300.3h0M726.7 323.7h0M743.6 231.9h0M789.9 240.4h0M771.7 305.9h0M722.3 270.8h0M774.9 221.0h0M734.6 305.4h0M791.0 298.7h0M775.8 302.2h0M768.3 216.9h0M772.4 207.1h0M767.2 328.8h0M772.8 314.0h0M727.9 297.7h0M778.4 214.8h0M734.7 251.2h0M726.3 253.4h0M771.5 206.7h0M780.4 304.6h0M797.3 265.5h0M728.6 342.8h0M762.3 296.0h0M725.9 288.4h0M778.6 229.6h0M766.6 305.6h0M761.8 287.3h0M764.2 277.8h0M783.4 340.8h0M742.9 279.7h0M732.8 332.8h0M754.3 218.7h0M720.3 243.0h0M778.5 292.4h0M728.2 301.8h0M762.2 327.5h0M789.7 298.0h0M787.6 322.6h0M786.7 289.8h0M765.4 280.7h0M726.7 261.9h0M745.1 228.1h0M798.1 336.7h0M756.0 251.7h0M783.3 302.2h0M751.3 214.5h0M722.6 273.0h0M784.1 263.8h0M714.5 253.5h0M764.5 283.5h0M719.7 252.3h0M775.3 210.6h0M726.7 310.1h0M763.2 331.8h0M761.1 252.9h0M760.3 301.4h0M779.0 283.1h0M773.9 212.1h0M785.0 296.4h0M760.2 308.7h0M741.8 324.8h0M739.0 329.6h0M753.4 333.4h0M779.1 241.9h0M764.2 273.9h0M776.3 342.1h0M791.1 261.5h0M737.6 314.7h0M759.7 269.7h0M794.5 308.5h0M780.7 314.0h0M768.9 304.1h0M795.3 244.0h0M754.0 251.9h0M748.1 272.9h0M760.6 330.5h0M759.7 300.3h0M744.0 338.1h0M745.8 324.6h0" stroke="#138A45" stroke-width="0.6" stroke-opacity="0.5" stroke-linecap="square" fill="none"/>
<path d="M766.7 172.3h0M753.6 207.5h0M758.9 200.5h0M768.3 180.5h0M763.6 182.7h0M758.7 201.1h0M754.3 208.4h0M756.2 204.1h0M764.3 185.3h0M761.5 189.0h0M757.2 203.3h0M755.7 214.2h0M746.3 212.4h0M751.3 209.9h0M756.9 200.1h0M765.3 206.1h0M747.2 221.3h0M758.9 205.9h0M759.8 207.7h0M764.0 190.4h0M755.9 216.3h0M769.7 190.2h0M765.2 195.3h0M743.6 213.7h0M765.3 185.2h0M757.2 211.7h0M764.5 185.7h0M773.3 177.3h0M737.2 216.6h0M749.0 203.0h0M765.7 183.8h0M766.1 180.1h0M753.5 217.6h0M764.3 189.7h0M754.0 210.2h0M756.7 208.0h0M752.0 204.1h0M759.8 209.8h0M748.1 210.8h0M757.4 213.1h0M748.3 216.1h0M762.0 181.6h0M763.8 176.8h0M772.8 175.0h0M751.8 203.1h0M739.9 212.6h0M762.0 190.1h0M740.5 212.6h0M755.8 214.2h0M768.6 176.9h0M750.0 191.5h0M756.2 194.4h0M755.0 194.7h0M754.3 207.9h0M762.5 191.0h0M752.6 198.9h0M767.0 179.8h0M736.7 214.3h0M757.3 209.5h0M763.1 196.6h0M754.1 201.0h0M767.8 190.3h0M744.3 216.2h0M739.0 214.0h0M736.4 212.8h0M758.0 215.5h0M754.1 211.2h0M766.6 176.5h0M766.5 184.1h0M762.0 186.5h0M760.9 215.1h0M768.4 177.9h0M765.0 180.3h0M759.0 203.7h0M759.9 190.1h0M747.2 218.4h0M763.0 190.7h0M754.2 220.8h0M759.2 197.8h0M762.6 186.4h0M761.1 194.1h0M759.9 188.7h0M770.0 172.1h0M757.1 216.5h0M748.4 216.7h0M759.3 186.9h0M766.3 178.1h0M751.1 216.4h0M765.9 194.3h0M754.7 203.3h0M745.1 220.5h0M763.2 180.3h0M760.6 193.6h0M755.7 202.4h0M762.5 186.4h0M746.5 203.5h0M755.1 194.0h0M740.8 205.8h0M753.2 214.8h0M755.6 192.7h0M746.4 217.5h0M760.3 182.5h0M751.5 218.3h0M767.5 175.3h0M764.7 180.2h0M763.2 196.1h0M759.9 194.1h0M750.6 215.8h0M756.6 206.6h0M760.8 199.8h0M755.4 226.1h0M746.2 215.6h0M769.0 175.5h0M754.3 203.6h0M762.5 190.0h0M748.9 211.6h0M765.3 188.6h0M753.7 221.3h0M747.7 212.9h0M770.1 172.5h0M754.6 199.1h0M758.8 192.6h0M758.1 214.5h0M761.1 205.4h0M756.4 210.7h0M747.9 197.4h0M743.0 218.4h0M771.9 175.3h0M751.7 199.3h0M747.0 209.7h0M750.8 219.6h0M762.3 184.5h0M763.9 185.0h0M758.5 196.9h0M748.7 212.4h0M757.1 189.3h0M758.8 190.5h0M768.9 189.4h0M766.7 184.7h0M765.4 175.9h0M741.3 202.7h0M771.0 177.6h0M759.8 185.4h0M761.2 209.9h0M738.1 217.3h0M758.9 198.6h0M756.0 191.3h0M745.1 214.5h0M765.5 189.3h0M760.0 205.2h0M756.2 220.2h0M769.1 189.9h0M768.8 222.9h0M771.9 174.8h0M755.9 201.3h0M760.6 196.4h0M762.7 184.8h0M764.6 188.5h0M767.9 175.0h0M755.7 197.9h0M756.3 206.5h0M754.5 224.5h0M764.3 208.1h0M768.1 174.6h0M758.2 198.0h0M759.8 222.6h0M758.0 208.1h0M762.3 192.9h0M763.7 177.5h0M767.9 173.5h0M762.1 191.6h0M747.1 210.1h0M769.6 185.0h0M753.7 213.1h0M752.5 215.1h0M761.9 206.3h0M768.6 171.7h0M764.7 187.5h0M739.7 214.3h0M757.8 223.5h0M747.6 206.4h0M745.5 211.4h0M758.3 211.4h0M758.2 194.5h0M770.6 171.8h0M746.0 212.1h0M769.4 177.4h0M768.6 182.6h0M762.8 198.8h0M746.0 219.1h0M763.3 193.0h0M757.9 198.4h0M763.4 223.7h0M758.5 200.0h0M773.0 176.4h0M756.0 200.3h0M744.9 206.2h0M763.0 185.5h0M766.2 183.6h0M740.8 217.8h0M772.3 181.0h0M767.7 181.9h0M747.3 205.5h0M755.4 210.0h0M761.3 218.3h0M765.6 191.4h0M753.2 201.7h0M764.2 182.1h0M764.9 183.1h0M747.6 206.2h0M746.2 219.5h0M747.8 214.6h0M750.6 200.6h0M766.1 200.3h0M754.0 183.6h0M769.4 173.3h0M743.7 198.8h0M768.6 175.7h0M756.1 189.7h0M769.5 172.4h0M758.9 191.7h0M758.4 195.6h0M764.7 185.7h0M760.2 182.6h0M765.5 177.8h0M757.0 185.8h0M765.3 197.0h0M772.8 177.3h0M763.3 183.5h0M747.4 199.0h0M756.5 216.9h0M755.0 219.4h0M767.5 185.0h0M747.6 220.4h0M745.4 208.0h0M766.8 180.7h0M757.2 196.2h0M768.4 189.6h0M769.4 189.6h0M766.0 180.0h0M744.7 218.9h0M761.2 198.6h0M751.8 207.1h0M767.1 178.8h0M751.1 203.5h0M764.2 190.3h0M763.3 187.1h0M737.1 212.0h0M761.5 199.5h0M755.0 209.0h0M769.8 177.1h0M744.9 212.5h0M769.5 180.1h0M759.7 212.2h0M754.5 215.8h0M762.6 205.5h0M757.6 195.9h0M739.0 208.5h0M755.8 195.5h0M756.6 195.1h0M753.0 202.3h0M751.4 215.9h0M766.0 196.9h0M770.9 177.3h0M746.6 208.2h0M761.9 207.4h0M749.6 195.8h0M759.5 209.2h0M767.1 182.4h0M758.5 207.9h0M771.1 178.1h0M760.9 196.8h0M750.9 215.2h0M752.2 213.4h0M745.9 215.7h0M745.1 221.4h0M750.6 197.8h0M768.8 178.7h0M767.9 184.3h0M759.1 203.6h0M768.7 177.2h0M761.9 182.1h0M770.5 172.3h0M767.3 181.8h0M748.4 214.4h0M766.6 190.7h0M751.0 218.3h0M767.5 183.5h0M753.4 224.2h0M769.0 173.4h0M759.8 204.2h0M760.3 200.4h0M772.1 174.9h0M744.2 220.5h0M761.8 202.6h0M745.9 197.7h0M758.9 209.2h0M744.2 212.7h0M754.9 198.3h0M754.7 195.4h0M760.4 191.7h0M763.5 196.9h0M731.6 214.5h0M766.4 179.8h0M762.8 199.7h0M758.5 186.3h0M750.4 213.7h0M752.3 220.1h0M765.4 179.2h0M769.6 174.4h0M764.2 181.5h0M751.0 212.2h0M745.9 207.7h0M768.9 174.2h0M752.1 214.8h0M769.8 174.1h0M746.2 206.8h0M766.2 181.6h0M758.8 204.3h0M760.6 191.4h0M755.8 196.3h0M751.8 204.1h0M760.4 209.7h0M771.4 176.4h0M754.9 207.5h0M751.8 200.6h0M769.1 174.7h0M756.6 187.5h0M744.4 204.2h0M763.1 182.2h0M765.0 182.5h0M756.3 202.9h0M760.2 203.2h0M750.0 210.9h0M761.6 203.1h0M752.6 198.6h0M763.5 206.1h0M757.3 188.8h0M747.9 220.9h0M768.2 182.1h0M758.7 195.0h0M768.9 175.4h0M747.2 218.4h0M757.3 217.9h0M768.0 212.9h0M759.3 187.3h0M759.1 195.4h0M746.5 210.4h0M767.5 205.4h0M771.6 172.3h0M763.1 197.2h0M747.3 217.2h0M745.2 209.5h0M758.8 211.7h0M765.3 180.4h0M746.9 212.6h0M762.5 218.5h0M753.9 207.4h0M768.8 176.4h0M761.7 193.3h0M755.1 198.3h0M754.5 192.7h0M741.4 218.9h0M741.7 212.5h0M754.3 195.9h0M750.5 214.5h0M766.8 184.7h0M768.1 186.2h0M763.9 209.7h0M766.9 184.3h0M746.3 216.4h0M753.6 208.7h0M768.2 177.9h0M758.1 190.3h0M743.9 212.4h0M756.0 204.7h0M761.9 191.1h0M762.4 206.9h0M764.9 177.9h0M747.3 222.2h0M771.6 191.3h0M759.0 196.0h0M758.0 200.2h0M754.4 197.4h0M748.8 216.4h0M764.6 181.7h0M769.2 178.6h0M765.4 178.3h0M767.1 188.5h0M769.4 176.0h0M770.4 172.3h0M764.0 188.6h0M744.5 212.0h0M765.2 181.2h0M763.9 184.4h0M769.9 173.4h0M744.1 218.1h0M747.6 210.4h0M758.8 208.1h0M765.8 182.5h0M760.3 196.0h0M759.2 199.0h0M767.1 179.2h0M757.9 198.1h0M756.7 220.2h0M758.9 198.9h0M767.3 174.6h0M752.2 201.9h0M759.5 224.2h0M767.3 183.3h0M745.1 218.0h0M764.8 197.3h0M748.9 213.9h0M741.5 209.0h0M762.7 185.3h0M766.8 187.4h0M750.9 207.5h0M759.9 220.4h0M755.6 204.0h0M767.4 198.5h0M764.2 190.3h0M761.3 219.2h0M767.6 183.6h0M765.7 185.7h0M739.8 217.9h0M765.8 180.1h0M762.9 177.5h0M761.1 182.6h0M756.3 200.6h0M745.6 213.1h0M765.8 190.6h0M761.8 190.2h0M754.6 211.4h0M762.2 200.2h0M747.9 205.3h0M768.4 181.2h0M763.0 185.3h0M767.8 180.4h0M745.2 210.4h0M765.0 181.2h0M760.0 215.6h0M770.4 171.9h0M749.8 188.9h0M741.7 218.8h0M749.5 201.4h0M759.7 189.5h0M746.2 201.7h0M763.8 191.0h0M771.4 174.0h0M757.5 203.9h0M770.7 180.4h0M762.2 199.7h0M743.7 210.0h0M761.3 198.2h0M756.9 209.1h0M748.2 201.8h0M755.3 197.5h0M768.4 180.0h0M760.0 201.3h0M764.6 186.3h0M770.8 172.0h0M758.7 187.6h0M755.0 199.6h0M764.7 192.2h0M753.1 210.0h0M763.3 201.7h0M754.4 212.9h0M745.4 202.1h0M771.7 177.2h0M767.4 182.4h0M763.7 181.1h0M751.7 207.6h0M765.4 185.1h0M764.7 190.7h0M760.7 201.6h0M747.5 209.2h0M769.2 176.2h0M762.8 185.9h0M744.0 215.6h0M763.8 201.9h0M768.5 190.7h0M759.7 190.8h0M740.5 217.4h0M752.3 209.4h0M760.1 187.3h0M772.3 176.8h0M759.6 198.0h0M764.4 189.4h0M753.4 214.7h0M766.7 177.9h0M770.2 198.2h0M759.1 201.4h0M747.9 205.0h0M769.7 176.4h0M770.7 178.7h0M761.2 189.1h0M762.3 204.8h0M750.8 202.2h0M761.3 199.5h0M737.4 217.1h0M769.7 173.2h0M760.4 208.6h0M749.8 216.9h0M763.2 188.8h0M762.0 185.7h0M763.2 203.3h0M765.2 178.7h0M758.9 208.3h0M769.5 189.1h0M754.8 207.5h0M769.9 178.5h0M745.8 221.8h0M759.4 183.8h0M753.1 209.9h0M743.1 205.4h0M751.0 191.8h0M741.5 204.3h0M768.5 175.9h0M746.7 203.5h0M739.5 214.2h0M759.4 185.2h0M755.1 203.8h0M758.5 186.3h0M762.4 182.3h0M759.2 192.8h0M759.2 206.4h0M764.8 180.3h0M752.9 202.7h0M766.1 194.3h0M770.2 180.0h0M766.6 174.7h0M750.1 217.4h0M751.3 201.9h0M765.2 185.7h0M764.5 197.7h0M763.2 194.0h0M769.6 194.8h0M765.8 179.3h0M769.4 184.8h0M747.5 195.4h0M757.6 209.6h0M764.9 183.0h0M769.3 181.8h0M759.6 215.7h0M754.9 205.0h0M755.2 213.8h0M759.0 180.1h0M759.0 198.9h0M771.2 189.9h0M751.4 211.2h0M753.1 222.1h0M763.5 191.3h0M761.9 198.5h0M763.3 197.0h0M762.2 211.2h0M751.7 207.7h0M748.3 217.5h0M767.8 178.9h0M768.9 178.3h0M753.9 191.0h0M736.3 225.9h0M757.1 238.0h0M735.9 247.6h0M753.7 233.2h0M727.4 239.4h0M757.0 222.7h0M754.7 245.3h0M753.1 221.1h0M719.7 250.9h0M726.9 237.4h0M751.7 218.1h0M734.9 236.6h0M749.8 231.1h0M732.9 254.4h0M733.9 224.1h0M731.5 228.6h0M731.2 255.5h0M747.7 234.9h0M745.8 230.7h0M750.8 248.8h0M750.0 254.4h0M741.8 239.0h0M737.0 230.8h0M716.3 251.5h0M739.0 237.0h0M737.5 224.9h0M751.8 255.8h0M730.7 239.8h0M733.6 231.9h0M715.1 245.6h0M725.3 243.5h0M731.8 231.3h0M716.6 250.9h0M745.4 249.6h0M739.1 245.5h0M723.3 235.5h0M752.1 218.0h0M725.7 234.2h0M738.4 255.6h0M734.5 251.5h0M740.2 252.0h0M725.5 240.0h0M732.1 241.6h0M753.8 258.0h0M754.0 223.4h0M748.9 238.0h0M735.9 230.5h0M730.0 245.2h0M755.2 239.6h0M726.6 247.9h0M728.6 231.2h0M745.9 217.7h0M722.4 254.0h0M729.6 256.0h0M750.2 217.3h0M726.3 248.4h0M729.7 257.3h0M755.1 219.2h0M741.6 236.4h0M747.1 244.8h0M750.3 235.2h0M740.1 249.6h0M751.1 239.3h0M731.6 259.4h0M742.0 225.4h0M738.5 219.8h0M740.0 225.9h0M751.7 217.9h0M734.6 226.4h0M740.4 228.9h0M747.9 225.3h0M747.5 218.1h0M732.3 233.5h0M740.2 225.7h0M715.3 250.4h0M733.9 231.3h0M740.1 217.4h0M734.5 228.6h0M743.0 216.3h0M729.7 257.7h0M747.7 227.9h0M737.8 248.5h0M743.4 247.6h0M723.5 248.7h0M748.0 246.0h0M735.8 244.0h0M743.0 246.6h0M742.8 245.8h0M731.1 235.5h0M733.0 243.1h0M739.2 216.9h0M743.6 246.1h0M743.3 237.1h0M739.6 230.7h0M734.2 230.1h0M725.7 248.3h0M715.5 248.1h0M746.8 248.2h0M742.0 231.6h0M746.8 231.2h0M751.8 240.7h0M739.2 259.1h0M731.4 228.7h0M749.7 230.0h0M748.9 262.4h0M720.2 253.0h0M744.9 234.6h0M748.7 234.3h0M735.1 248.6h0M746.5 235.1h0M749.5 225.0h0M729.0 238.5h0M744.6 241.4h0M733.1 254.2h0M743.4 242.1h0M726.7 242.4h0M742.1 231.4h0M724.7 238.4h0M747.0 248.1h0M749.1 225.2h0M744.2 229.2h0M745.0 220.4h0M734.1 258.4h0M738.6 251.0h0M750.0 217.5h0M745.0 258.4h0M740.3 242.1h0M745.1 216.9h0M742.8 249.5h0M735.2 223.6h0M748.0 221.8h0M734.2 233.1h0M749.5 238.2h0M747.8 227.9h0M712.5 250.7h0M728.2 256.7h0M732.1 244.6h0M744.5 215.3h0M721.9 246.9h0M741.8 243.3h0M753.9 221.3h0M747.5 219.4h0M732.0 230.0h0M739.7 242.6h0M734.9 222.9h0M754.5 235.0h0M746.5 233.1h0M754.7 218.8h0M750.7 265.9h0M741.0 233.0h0M734.0 234.1h0M742.3 257.4h0M716.8 246.8h0M740.7 219.6h0M736.7 224.0h0M733.1 253.0h0M726.7 248.8h0M733.1 253.6h0M749.0 236.4h0M732.7 259.5h0M737.2 218.9h0M745.9 243.6h0M735.0 223.5h0M726.9 231.6h0M728.7 253.0h0M732.6 259.1h0M734.7 227.3h0M742.9 238.2h0M736.2 224.6h0M725.6 247.7h0M745.8 221.7h0M742.3 239.1h0M742.1 252.9h0M741.1 233.4h0M752.5 227.3h0M739.4 237.0h0M731.4 246.6h0M742.1 235.9h0M723.2 255.6h0M724.2 241.7h0M755.5 222.8h0M735.3 244.1h0M741.2 253.4h0M736.6 259.9h0M734.6 251.5h0M721.4 245.5h0M748.4 226.8h0M739.1 236.1h0M741.3 235.2h0M748.3 219.3h0M728.1 236.8h0M757.9 229.2h0M733.9 236.7h0M728.2 241.5h0M752.6 228.0h0M719.1 240.0h0M737.2 222.1h0M744.5 258.5h0M749.6 217.3h0M742.9 245.1h0M741.6 247.4h0M751.3 220.8h0M751.5 237.1h0M742.2 226.8h0M745.7 264.5h0M734.5 229.3h0M759.4 239.9h0M749.1 230.1h0M728.6 250.8h0M745.3 228.7h0M741.4 227.6h0M743.5 257.4h0M744.3 256.9h0M749.0 262.4h0M734.0 241.6h0M728.1 253.7h0M745.7 237.0h0M750.1 222.1h0M738.3 233.5h0M727.9 236.4h0M742.1 213.3h0M725.7 248.0h0M732.9 235.1h0M731.4 243.4h0M723.3 238.7h0M728.8 233.1h0M753.0 221.0h0M737.0 228.7h0M745.0 221.2h0M747.8 220.8h0M731.5 246.8h0M727.9 250.1h0M732.3 225.1h0M752.1 224.1h0M735.7 257.1h0M739.7 239.7h0M746.2 242.7h0M740.0 227.4h0M744.8 244.8h0M737.3 232.1h0M733.4 245.4h0M729.2 254.5h0M741.1 220.6h0M738.0 244.6h0M727.9 240.6h0M734.9 252.8h0M741.4 228.9h0M738.5 237.3h0M732.1 231.8h0M730.1 247.9h0M744.3 243.8h0M724.0 236.9h0M730.3 250.2h0M726.2 244.4h0M744.7 241.8h0M729.3 235.7h0M742.4 239.9h0M737.9 223.0h0M728.2 253.9h0M751.6 227.4h0M734.6 233.8h0M742.2 228.5h0M749.1 220.6h0M732.8 250.2h0M732.8 229.2h0M735.1 237.4h0M736.0 252.7h0M750.4 217.5h0M743.2 228.8h0M748.5 254.1h0M747.7 231.8h0M742.7 237.1h0M749.8 266.6h0M731.6 253.3h0M730.8 258.7h0M734.0 245.6h0M735.9 243.0h0M750.8 249.9h0M748.2 239.7h0M744.0 215.3h0M744.6 230.7h0M732.4 241.0h0M736.4 234.7h0M748.3 246.4h0M747.2 243.9h0M748.6 234.3h0M753.6 241.6h0M752.7 228.3h0M737.2 239.2h0M730.2 230.2h0M732.3 235.3h0M745.1 235.4h0M746.7 240.7h0M738.5 230.8h0M751.1 223.7h0M752.9 223.8h0M743.5 213.8h0M727.8 252.2h0M735.0 240.1h0M771.3 171.3h0M755.4 194.8h0M768.3 188.5h0M761.5 192.9h0M769.4 178.5h0M758.5 197.6h0M767.7 180.6h0M773.0 172.6h0M769.1 176.8h0M772.8 175.6h0M769.9 181.1h0M761.5 199.5h0M774.6 166.4h0M767.2 178.4h0M756.4 196.2h0M762.5 199.2h0M778.2 160.4h0M759.4 191.3h0M775.7 164.7h0M772.2 167.1h0M776.1 159.9h0M773.6 170.8h0M764.6 189.4h0M762.7 190.2h0M766.0 187.9h0M766.2 183.9h0M767.4 182.6h0M775.2 160.6h0M775.9 164.2h0M775.9 166.3h0M758.7 198.7h0M770.1 175.0h0M768.3 190.5h0M763.0 196.7h0M770.9 180.7h0M768.4 180.3h0M770.8 172.7h0M764.1 192.9h0M770.4 182.8h0M775.3 163.4h0M776.9 163.6h0M768.3 179.9h0M764.1 185.4h0M766.7 178.8h0M762.0 195.2h0M764.7 192.3h0M764.6 193.6h0M778.7 161.2h0M759.0 197.5h0M752.1 195.6h0M762.5 188.8h0M761.7 196.4h0M768.3 180.4h0M764.4 189.3h0M770.8 181.0h0M776.8 162.6h0M766.0 182.6h0M762.2 191.1h0M771.7 175.9h0M774.8 166.6h0M762.2 195.8h0M759.5 199.3h0M764.2 198.6h0M760.3 191.6h0M772.7 171.8h0M779.5 164.9h0M771.6 174.0h0M772.5 168.9h0M769.5 166.9h0M762.4 196.7h0M774.0 163.4h0M776.8 165.5h0M769.5 173.2h0M775.0 163.9h0M770.4 176.2h0M761.4 200.3h0M777.8 163.6h0M772.0 168.4h0M756.4 194.7h0M775.2 166.5h0M761.0 195.4h0M771.1 176.6h0M762.2 191.3h0M776.7 164.3h0M761.6 187.5h0M770.4 172.0h0M762.0 189.6h0M778.8 161.2h0M772.1 177.8h0M769.6 179.2h0M768.3 174.1h0M756.4 198.8h0M763.0 191.0h0M771.4 170.0h0M763.4 186.4h0M773.3 172.9h0M757.3 192.8h0M767.5 176.4h0M771.6 177.9h0M776.8 163.5h0M769.5 173.7h0M771.3 167.7h0M760.7 187.8h0M764.0 193.4h0M769.8 178.6h0M759.1 191.0h0M762.2 195.8h0M774.1 167.0h0M764.0 189.9h0M776.1 162.1h0M774.6 171.8h0M777.2 165.7h0M772.1 175.8h0M775.1 160.4h0M769.8 169.4h0M760.5 185.8h0M761.4 196.7h0M772.4 175.0h0M757.7 198.2h0M764.0 189.9h0M763.5 195.7h0M771.7 170.7h0M761.0 200.6h0M774.7 163.2h0M762.6 189.5h0M768.0 181.8h0M771.8 178.0h0M759.6 197.2h0M772.9 170.3h0M759.7 193.1h0M763.5 188.6h0M761.3 193.8h0M761.6 201.2h0M767.5 184.0h0M761.8 192.4h0M763.0 187.9h0M768.1 181.2h0M766.5 190.8h0M768.6 184.3h0M768.6 181.2h0M770.3 173.4h0M762.8 192.4h0M761.8 199.4h0M765.9 185.1h0M773.9 169.0h0M763.4 182.8h0M771.9 172.4h0M759.8 200.1h0M759.9 196.7h0M769.9 174.5h0M774.8 173.6h0M766.0 186.2h0M775.1 169.7h0M764.4 190.7h0M771.9 174.0h0M763.0 183.6h0M765.5 181.8h0M770.4 174.2h0M775.5 168.9h0M765.1 184.6h0M767.3 179.2h0M765.3 194.5h0M766.1 193.3h0M765.6 179.3h0M758.3 193.6h0M771.8 172.3h0M760.8 189.2h0M763.0 185.6h0M768.9 169.7h0M779.7 164.8h0M776.6 161.8h0M773.3 165.7h0M776.8 161.7h0M775.4 167.6h0M768.1 186.6h0M768.0 174.8h0M767.5 173.1h0M764.1 200.0h0M771.0 178.8h0M761.0 190.8h0M760.5 190.6h0M768.5 181.8h0M765.9 192.2h0M769.4 173.1h0M761.1 187.0h0M776.4 169.8h0M763.8 188.6h0M770.2 173.8h0M765.7 185.2h0M756.1 196.0h0M775.3 164.6h0M776.3 162.0h0M771.3 172.6h0M774.7 172.0h0M762.5 180.7h0M772.3 173.8h0M767.8 180.7h0M756.1 196.2h0M773.4 166.9h0M777.8 161.0h0M769.0 189.2h0M768.8 178.5h0M756.2 196.9h0M775.3 165.9h0M767.3 189.0h0M767.6 175.8h0M752.8 196.8h0M775.8 161.5h0M772.8 166.9h0M775.7 170.7h0M764.9 189.3h0M766.9 195.5h0M764.5 182.3h0M772.0 170.0h0M780.4 162.2h0M772.1 169.6h0M756.5 196.9h0M765.5 189.5h0M777.0 162.7h0M755.3 196.4h0M768.8 185.3h0M772.3 169.9h0M760.9 188.9h0M772.2 170.7h0M777.2 162.7h0M763.3 188.3h0M758.2 196.7h0M761.9 188.0h0M775.2 161.0h0M765.1 194.3h0M771.3 173.7h0M760.4 196.0h0M769.5 170.9h0M770.9 179.3h0M755.2 195.2h0M769.5 180.9h0M773.3 172.5h0M775.4 170.1h0M770.1 176.6h0M776.3 164.9h0M764.6 186.4h0M761.5 194.1h0M773.9 166.0h0M769.2 176.0h0M777.4 169.6h0M758.4 192.6h0M772.5 171.0h0M758.5 199.4h0M770.0 178.4h0M772.7 167.5h0M764.9 188.2h0M771.9 168.5h0M763.6 195.7h0M762.5 183.1h0M770.9 169.6h0M764.6 193.8h0M773.9 165.7h0M763.2 192.7h0M774.5 171.5h0M775.1 167.5h0M785.3 146.9h0M781.8 161.6h0M782.3 134.6h0M782.1 153.0h0M781.3 157.4h0M790.7 137.9h0M785.2 145.1h0M786.0 140.7h0M785.4 151.3h0M784.2 139.7h0M787.3 160.8h0M787.5 147.1h0M774.9 161.4h0M778.5 157.1h0M796.0 142.1h0M776.1 152.7h0M777.0 146.5h0M778.3 157.5h0M776.8 150.8h0M788.7 144.2h0M775.9 157.5h0M790.7 141.1h0M771.9 162.2h0M785.3 147.4h0M783.6 151.1h0M780.7 164.2h0M790.9 148.8h0M781.8 148.3h0M786.9 162.8h0M776.0 145.7h0M777.7 159.8h0M789.5 149.8h0M778.3 151.4h0M784.5 154.5h0M778.8 148.1h0M784.4 155.4h0M787.8 146.2h0M780.9 152.0h0M771.1 145.1h0M784.0 155.8h0M781.5 149.8h0M786.3 152.0h0M775.4 152.9h0M778.1 142.8h0M791.0 157.4h0M784.9 157.5h0M786.0 154.0h0M786.1 153.9h0M778.3 153.3h0M781.1 159.1h0M784.0 164.5h0M778.4 153.0h0M791.8 150.7h0M781.4 147.5h0M782.7 145.1h0M791.2 150.6h0M786.3 144.4h0M794.7 147.6h0M774.9 157.1h0M779.9 151.9h0M793.2 145.2h0M791.6 150.7h0M771.0 148.7h0M784.6 140.8h0M794.6 152.2h0M775.3 148.6h0M785.0 159.9h0M783.1 148.3h0M785.1 142.3h0M783.9 155.1h0M791.6 146.5h0M786.9 163.4h0M787.5 151.8h0M786.8 150.7h0M787.4 153.4h0M780.3 149.2h0M776.9 156.0h0M784.3 145.3h0M793.3 156.1h0M790.1 149.4h0M786.5 148.7h0M784.9 155.8h0M799.0 138.6h0M778.9 164.4h0M772.7 155.9h0M782.2 155.2h0M781.7 147.5h0M776.5 145.5h0M784.0 145.7h0M789.3 155.2h0M787.1 156.7h0M779.0 149.1h0M783.5 148.3h0M785.1 158.4h0M780.3 155.2h0M780.7 147.1h0M785.5 162.4h0M782.5 165.6h0M783.9 150.3h0M781.4 160.3h0M789.0 154.6h0M779.6 161.0h0M784.8 154.7h0M780.4 150.0h0M783.0 154.2h0M780.3 160.3h0M784.2 150.8h0M780.7 154.5h0M783.7 157.3h0M786.7 149.2h0M791.3 145.9h0M772.2 154.3h0M788.1 147.5h0M778.5 158.5h0M788.7 149.2h0M778.8 155.3h0M782.7 170.3h0M782.3 155.4h0M780.0 149.2h0M777.8 133.8h0M787.1 156.4h0M777.1 159.2h0M783.7 147.8h0M780.1 149.4h0M790.9 150.9h0M789.7 160.0h0M787.8 154.0h0M774.9 157.5h0M775.4 158.8h0M787.1 152.7h0M781.5 145.4h0M788.0 146.6h0M774.6 136.9h0M786.2 156.8h0M780.3 147.6h0M775.0 169.4h0M780.5 142.9h0M781.8 154.9h0M778.6 157.5h0M784.8 147.4h0M780.9 149.6h0M781.5 154.8h0M788.9 152.2h0M784.1 159.4h0M786.7 134.9h0M782.6 154.1h0M794.2 138.3h0M786.2 151.5h0M781.4 161.5h0M782.8 157.2h0M787.5 143.9h0M785.3 149.6h0M789.4 139.3h0M785.4 155.1h0M783.4 149.1h0M786.2 156.3h0M784.9 156.8h0M780.1 153.8h0M787.9 150.1h0M784.7 154.0h0M788.5 154.2h0M784.5 146.7h0M779.5 154.5h0M792.5 141.6h0M780.1 153.6h0M787.3 147.2h0M779.6 149.2h0M784.0 156.7h0M779.9 154.5h0M782.5 149.4h0M786.6 153.4h0M784.5 157.2h0M782.9 147.1h0M784.0 152.1h0M788.3 157.4h0M786.4 144.5h0M779.8 156.2h0M780.8 140.4h0M784.2 156.5h0M780.9 151.0h0M781.3 150.7h0M784.9 159.6h0M788.5 166.7h0M785.3 151.6h0M786.5 156.5h0M782.2 158.7h0M784.8 148.1h0M786.3 150.9h0M778.7 156.0h0M782.6 141.5h0M789.0 161.2h0M781.2 154.2h0M785.0 147.5h0M783.4 142.6h0M781.5 162.8h0M788.6 156.1h0M788.8 156.2h0M783.8 165.4h0M780.9 153.7h0M784.1 148.1h0M780.7 161.9h0M790.4 151.4h0M778.1 167.1h0M781.2 151.5h0M792.1 154.8h0M786.7 153.9h0M775.3 155.2h0M780.0 139.4h0M786.6 160.1h0M780.1 159.9h0M787.2 157.9h0M780.7 143.3h0M787.8 154.2h0M790.8 147.9h0M790.7 140.4h0M785.0 156.7h0M793.1 140.3h0M779.8 145.6h0M780.6 165.6h0M791.7 144.4h0M777.3 162.4h0M789.6 144.0h0M784.0 158.3h0M786.6 154.6h0M782.1 161.0h0M781.7 161.5h0M784.8 159.6h0M779.8 157.8h0M788.6 150.4h0M778.2 155.1h0M788.0 148.4h0M779.2 168.9h0M773.8 153.0h0M784.0 153.9h0M781.7 156.1h0M784.0 149.2h0M781.1 168.7h0M780.5 158.4h0M791.1 146.8h0M783.7 146.7h0M779.4 160.3h0M776.7 161.6h0M794.0 150.4h0M781.9 159.0h0M783.8 136.5h0M785.7 146.2h0M785.4 147.1h0M782.7 147.3h0M781.1 159.6h0M782.4 156.3h0M773.9 162.9h0M783.4 166.5h0M785.0 147.3h0M788.2 145.3h0M783.5 151.0h0M786.5 140.8h0M790.3 143.6h0M784.0 151.2h0M773.2 154.6h0M778.2 165.7h0M785.0 154.7h0M780.0 158.6h0M770.0 199.4h0M770.3 193.1h0M784.2 158.6h0M783.8 170.5h0M785.4 182.1h0M787.0 165.0h0M788.4 169.8h0M779.2 175.8h0M771.1 180.2h0M778.0 172.4h0M779.9 155.7h0M778.4 174.9h0M761.3 189.5h0M777.4 163.5h0M781.7 162.9h0M781.6 155.2h0M779.9 179.3h0M789.0 160.0h0M769.5 195.0h0M767.7 186.5h0M773.0 183.7h0M783.4 158.6h0M785.4 158.9h0M774.1 197.2h0M786.6 151.6h0M781.0 164.1h0M776.2 189.6h0M776.6 169.5h0M767.1 185.6h0M789.2 168.1h0M769.8 194.9h0M787.8 165.2h0M784.5 165.6h0M786.7 155.4h0M786.7 150.8h0M781.2 165.2h0M786.5 151.4h0M772.7 189.5h0M773.5 201.3h0M780.6 168.6h0M775.7 189.4h0M774.0 182.1h0M787.8 154.0h0M787.5 153.3h0M784.3 181.0h0M786.6 153.8h0M777.1 187.6h0M771.7 192.6h0M772.4 199.1h0M781.7 154.6h0M771.6 180.5h0M763.9 188.6h0M778.7 183.8h0M784.8 156.9h0M784.1 164.3h0M787.0 161.4h0M772.8 186.0h0M777.7 188.9h0M775.1 164.9h0M783.1 166.8h0M767.8 195.9h0M772.6 198.8h0M773.9 191.7h0M782.7 170.7h0M771.8 179.3h0M784.9 152.4h0M772.3 187.7h0M784.5 166.9h0M786.8 155.1h0M776.3 176.5h0M783.9 172.0h0M785.9 154.9h0M791.3 158.0h0M774.8 195.1h0M781.4 175.4h0M785.4 161.8h0M779.3 160.0h0M782.0 185.0h0M774.2 186.5h0M789.1 153.5h0M790.5 154.0h0M784.2 169.1h0M785.6 173.7h0M781.6 166.7h0M771.2 192.0h0M790.6 155.0h0M779.3 173.4h0M775.3 186.7h0M795.4 152.6h0M778.5 180.3h0M781.4 178.1h0M788.3 160.4h0M782.2 182.2h0M791.2 163.5h0M777.6 195.1h0M784.4 191.1h0M782.3 162.8h0M779.2 189.2h0M769.6 191.7h0M788.0 156.2h0M775.2 184.8h0M782.7 173.9h0M774.3 195.7h0M773.9 189.4h0M774.6 194.0h0M785.0 156.8h0M786.4 169.1h0M778.1 189.6h0M781.8 186.9h0M781.2 158.2h0M778.3 164.4h0M787.4 154.6h0M783.5 161.7h0M782.6 171.5h0M783.0 168.6h0M782.2 152.9h0M783.0 163.2h0M776.9 182.8h0M786.2 161.2h0M775.5 181.4h0M768.7 195.7h0M778.7 184.2h0M776.3 186.6h0M767.6 197.5h0M772.2 192.9h0M782.9 171.3h0M784.7 159.5h0M772.0 194.2h0M784.4 164.0h0M783.1 170.8h0M782.2 164.6h0M782.1 173.7h0M778.6 192.5h0M782.9 175.0h0M772.5 195.4h0M781.3 179.2h0M784.7 174.5h0M771.7 184.3h0M790.8 157.2h0M776.1 195.5h0M771.8 183.7h0M774.2 199.4h0M786.5 160.9h0M791.7 154.6h0M782.9 166.9h0M793.0 153.3h0M776.2 176.1h0M788.3 156.3h0M778.1 173.4h0M789.8 152.0h0M782.5 183.1h0M781.9 177.3h0M771.5 181.0h0M775.2 184.5h0M773.4 194.6h0M768.6 189.1h0M779.4 198.9h0M782.2 172.1h0M774.8 300.6h0M749.1 331.3h0M801.0 261.1h0M796.5 277.9h0M798.5 264.0h0M786.1 266.9h0M778.2 292.7h0M771.2 289.3h0M762.2 347.1h0M780.3 290.3h0M814.5 259.0h0M785.8 291.8h0M758.3 316.7h0M754.3 310.5h0M807.8 254.1h0M805.1 244.4h0M806.1 253.9h0M760.0 319.6h0M805.9 265.0h0M814.9 249.6h0M798.9 268.9h0M751.7 329.8h0M792.4 258.7h0M761.5 298.0h0M743.4 328.0h0M776.0 293.9h0M789.2 272.7h0M750.1 317.2h0M793.0 283.4h0M774.1 298.7h0M770.4 295.0h0M754.4 336.0h0M741.8 324.5h0M792.5 268.3h0M801.0 257.6h0M755.4 320.4h0M807.0 255.2h0M801.8 255.8h0M810.8 249.7h0M751.2 335.0h0M754.0 326.2h0M803.1 248.0h0M799.5 270.6h0M780.3 282.1h0M751.5 317.9h0M757.0 322.7h0M793.5 274.0h0M783.3 280.2h0M783.4 290.2h0M812.1 257.0h0M745.0 322.1h0M803.3 268.0h0M791.0 279.4h0M796.4 272.8h0M758.6 320.7h0M775.5 287.8h0M753.7 331.0h0M798.9 265.8h0M805.8 251.7h0M770.6 308.5h0M744.4 333.1h0M773.2 287.5h0M755.1 318.8h0M760.0 298.9h0M810.0 243.6h0M771.2 295.7h0M794.8 292.1h0M782.4 291.1h0M800.3 254.2h0M812.8 252.9h0M788.3 279.8h0M805.3 248.6h0M806.3 245.3h0M781.0 286.5h0M796.7 266.3h0M801.5 256.7h0M763.1 334.6h0M808.5 248.5h0M780.3 296.9h0M772.5 302.6h0M809.9 258.6h0M792.2 289.5h0M770.1 305.5h0M774.6 292.8h0M793.3 268.1h0M809.3 259.6h0M763.4 320.9h0M760.3 327.9h0M791.1 271.2h0M807.8 244.8h0M790.9 270.3h0M786.7 275.9h0M739.7 327.1h0M800.8 261.5h0M782.0 287.8h0M805.2 247.9h0M800.0 272.9h0M783.4 295.9h0M757.8 319.6h0M748.1 314.1h0M751.4 339.3h0M804.4 255.1h0M796.7 272.2h0M752.0 320.8h0M802.7 255.0h0M788.2 277.4h0M752.6 334.0h0M749.9 335.1h0M815.0 253.1h0M768.0 317.1h0M764.4 305.9h0M767.6 334.5h0M792.5 260.7h0M812.6 251.3h0M758.1 315.2h0M742.8 324.0h0M818.3 256.1h0M769.0 319.8h0M762.2 323.1h0M749.2 332.0h0M769.9 293.1h0M804.5 242.5h0M787.4 282.9h0M742.6 326.0h0M764.0 313.7h0M801.4 262.5h0M762.9 303.6h0M751.1 339.1h0M808.2 260.2h0M803.4 248.7h0M768.5 302.4h0M773.4 298.1h0M778.0 289.9h0M792.7 289.4h0M809.4 244.7h0M771.5 284.3h0M767.8 306.3h0M757.9 313.7h0M807.2 250.1h0M774.2 286.1h0M782.1 280.8h0M810.3 263.9h0M775.6 288.0h0M746.3 324.9h0M788.4 295.1h0M798.2 265.9h0M763.0 303.8h0M806.5 242.7h0M765.9 314.8h0M771.6 278.2h0M798.3 260.0h0M774.4 295.7h0M752.5 321.8h0M764.3 305.1h0M752.4 317.8h0M795.8 275.2h0M756.0 315.4h0M801.6 255.5h0M791.1 251.2h0M798.8 259.6h0M797.9 265.6h0M777.7 297.9h0M796.0 265.3h0M750.5 332.0h0M784.8 294.9h0M805.2 263.8h0M774.6 298.8h0M798.2 266.8h0M759.1 302.8h0M763.2 302.8h0M759.2 316.8h0M797.6 257.3h0M786.8 281.9h0M779.5 299.6h0M813.1 255.7h0M772.4 298.7h0M798.9 259.1h0M775.5 286.1h0M787.3 302.7h0M808.5 256.3h0M805.1 254.5h0M800.7 262.3h0M794.3 287.4h0M779.4 290.6h0M765.4 313.3h0M792.9 264.0h0M777.0 304.1h0M770.9 287.4h0M784.0 293.3h0M792.4 259.0h0M768.5 305.3h0M780.5 280.5h0M769.3 306.6h0M762.3 325.9h0M785.8 270.5h0M777.9 295.6h0M755.0 312.6h0M765.1 318.7h0M766.5 317.0h0M795.6 268.6h0M742.5 326.5h0M772.3 304.4h0M774.5 276.7h0M761.3 314.3h0M762.6 297.7h0M788.0 290.6h0M798.5 265.9h0M774.0 288.7h0M778.6 279.8h0M764.2 314.2h0M754.8 301.0h0M778.9 299.3h0M796.6 263.6h0M802.7 246.6h0M756.4 311.2h0M798.1 261.1h0M755.0 311.4h0M800.5 265.5h0M784.7 274.5h0M791.8 284.1h0M813.2 249.6h0M797.2 257.0h0M762.5 303.7h0M799.0 264.0h0M796.1 275.1h0M796.6 267.4h0M808.1 254.5h0M778.9 276.8h0M753.7 301.0h0M764.3 318.8h0M804.5 252.1h0M744.7 332.4h0M791.7 267.8h0M755.3 318.6h0M796.0 259.8h0M782.6 305.7h0M769.6 307.8h0M783.3 289.7h0M784.9 285.3h0M780.9 299.2h0M793.4 274.7h0M779.7 293.0h0M799.0 258.9h0M768.7 301.1h0M757.8 331.0h0M760.4 328.7h0M814.9 252.1h0M752.8 332.6h0M801.0 264.6h0M792.3 276.6h0M764.6 303.0h0M765.5 307.2h0M790.9 267.1h0M755.9 319.0h0M745.3 332.0h0M740.9 331.9h0M765.7 298.9h0M734.6 323.5h0M761.1 315.1h0M805.4 257.5h0M794.2 284.2h0M778.7 281.6h0M773.5 282.4h0M799.0 262.2h0M787.6 281.0h0M780.6 296.4h0M764.6 309.9h0M786.0 303.5h0M807.0 246.4h0M777.8 299.3h0M758.8 312.9h0M737.9 327.4h0M804.3 268.8h0M787.9 281.1h0M805.9 260.4h0M754.1 335.5h0M764.7 301.0h0M768.8 295.7h0M785.6 276.3h0M788.9 272.6h0M763.4 315.6h0M786.9 277.5h0M743.7 329.8h0M752.8 317.4h0M760.8 319.0h0M763.5 307.1h0M803.0 261.9h0M780.9 301.0h0M768.1 287.8h0M797.2 264.8h0M756.1 321.9h0M792.5 277.7h0M746.2 334.0h0M772.7 303.7h0M779.5 283.1h0M754.1 309.6h0M785.1 286.3h0M752.0 336.4h0M790.5 274.9h0M771.0 299.8h0M804.7 257.9h0M781.4 300.0h0M794.7 266.1h0M776.2 293.1h0M783.2 285.0h0M812.2 248.7h0M766.0 307.9h0M796.2 268.1h0M812.1 250.7h0M780.0 288.0h0M794.0 271.2h0M747.6 329.5h0M764.7 312.1h0M748.3 327.6h0M777.8 306.6h0M786.5 280.1h0M805.7 265.7h0M745.0 320.1h0M790.2 275.4h0M810.2 243.9h0M755.7 325.4h0M772.9 296.5h0M781.7 284.6h0M757.3 323.6h0M759.1 334.3h0M799.0 269.4h0M765.2 306.7h0M790.2 269.8h0M781.1 291.2h0M791.1 279.8h0M767.2 307.5h0M750.7 336.2h0M753.5 320.8h0M800.8 276.8h0M779.0 301.9h0M786.5 272.7h0M757.8 318.0h0M786.3 262.0h0M799.9 269.8h0M776.7 282.6h0M772.9 296.5h0M761.3 298.3h0M803.8 245.4h0M789.0 284.7h0M786.9 285.5h0M787.4 283.0h0M751.4 303.8h0M809.3 244.1h0M752.8 339.1h0M795.0 282.7h0M800.7 256.9h0M792.3 269.6h0M810.2 250.4h0M793.2 268.4h0M785.0 297.3h0M811.4 244.6h0M747.1 330.0h0M772.3 295.8h0M792.3 277.4h0M776.9 291.3h0M804.2 258.6h0M788.8 297.5h0M805.9 271.7h0M806.3 246.8h0M808.9 256.8h0M754.1 317.4h0M801.7 265.7h0M760.0 311.3h0M784.1 271.8h0M775.6 275.1h0M770.7 304.0h0M794.9 255.4h0M789.5 272.1h0M799.5 289.2h0M807.8 269.6h0M768.6 299.1h0M748.9 318.5h0M770.4 304.5h0M758.1 319.8h0M800.0 267.0h0M778.7 297.8h0M796.1 257.8h0M758.9 320.2h0M794.8 273.6h0M761.7 308.5h0M802.1 263.3h0M793.1 268.4h0M808.5 252.8h0M774.7 292.9h0M779.3 291.9h0M809.4 261.4h0M788.9 268.6h0M746.0 327.0h0M772.3 298.9h0M751.6 333.6h0M794.2 259.7h0M775.6 303.7h0M799.3 259.6h0M755.5 317.2h0M800.2 256.4h0M782.4 287.4h0M796.2 269.7h0M791.2 258.8h0M768.6 312.9h0M771.8 318.4h0M791.8 285.7h0M762.9 312.5h0M813.7 248.2h0M795.3 262.1h0M754.8 312.6h0M764.2 330.2h0M816.9 250.7h0M753.3 329.2h0M806.6 251.3h0M779.8 301.5h0M789.5 280.5h0M791.3 290.1h0M783.0 279.7h0M770.9 289.4h0M769.2 302.2h0M779.6 286.3h0M799.7 257.5h0M791.4 263.6h0M787.8 269.6h0M773.8 291.2h0M781.8 278.8h0M800.6 270.8h0M771.7 295.3h0M786.4 286.2h0M810.1 243.9h0M787.2 278.1h0M754.3 322.9h0M756.1 315.4h0M791.0 271.4h0M777.7 294.4h0M739.1 324.0h0M783.7 282.2h0M794.9 264.0h0M754.8 325.6h0M770.2 307.4h0M769.7 310.0h0M779.4 288.5h0M776.0 293.7h0M770.3 295.7h0M794.0 272.7h0M742.4 326.6h0M758.3 308.8h0M806.6 270.3h0M809.4 258.9h0M772.6 303.3h0M747.0 332.9h0M746.1 330.0h0M779.6 286.1h0M788.8 279.3h0M800.8 248.4h0M812.3 253.5h0M811.5 248.7h0M792.8 277.0h0M759.2 316.3h0M769.7 299.9h0M798.0 264.1h0M795.7 263.8h0M757.7 319.9h0M743.9 325.2h0M810.4 251.1h0M755.6 328.1h0M772.9 293.9h0M798.5 260.8h0M773.9 293.6h0M789.2 276.2h0M772.4 312.5h0M793.2 268.5h0M809.6 253.5h0M767.5 299.5h0M752.7 323.0h0M761.5 313.8h0M783.0 288.7h0M782.1 278.0h0M776.1 294.9h0M815.4 250.1h0M756.8 311.2h0M791.4 258.8h0M766.3 298.9h0M801.3 257.1h0M809.3 254.2h0M764.5 313.3h0M773.6 291.1h0M748.4 323.4h0M806.0 252.3h0M762.3 303.4h0M771.2 284.5h0M779.2 289.3h0M744.3 330.7h0M781.5 282.0h0M794.8 263.3h0M753.8 311.6h0M775.2 300.8h0M774.8 305.9h0M778.1 295.4h0M774.7 301.5h0M775.9 300.7h0M765.8 301.3h0M795.3 261.0h0M786.2 287.9h0M769.4 326.1h0M764.1 331.2h0M758.4 319.8h0M811.5 246.4h0M797.5 274.1h0M793.5 270.0h0M798.6 256.7h0M810.8 246.5h0M771.4 295.8h0M813.1 257.8h0M795.7 263.7h0M767.3 312.4h0M748.3 331.8h0M816.9 248.8h0M805.7 259.3h0M765.0 318.7h0M782.2 295.5h0M779.9 288.2h0M780.4 290.8h0M772.1 301.3h0M774.1 287.3h0M808.3 246.9h0M776.9 290.1h0M743.9 332.0h0M805.0 253.3h0M747.0 323.1h0M798.2 260.1h0M802.5 260.7h0M794.3 271.4h0M771.4 295.0h0M751.2 337.0h0M755.1 323.2h0M788.0 278.1h0M783.9 285.7h0M776.2 295.4h0M778.6 287.1h0M742.5 341.6h0M744.8 337.8h0M744.3 335.2h0M749.8 327.7h0M742.7 343.6h0M745.1 339.6h0M749.2 331.4h0M742.6 344.5h0M747.6 334.9h0M749.9 328.5h0M746.4 334.5h0M747.7 333.9h0M743.0 338.2h0M748.5 331.5h0M747.1 329.5h0M742.2 340.4h0M750.0 328.6h0M744.7 335.2h0M747.1 331.6h0M748.8 333.1h0M750.2 327.8h0M745.2 343.9h0M748.9 331.9h0M742.8 342.5h0M748.6 332.3h0M742.1 345.0h0M743.6 342.2h0M747.6 333.7h0M745.0 338.6h0M744.7 340.0h0M745.2 338.6h0M742.8 341.7h0M746.4 327.2h0M744.1 341.8h0M743.4 341.8h0M743.1 343.3h0M749.0 331.2h0M743.0 341.8h0M748.9 329.0h0M743.4 338.2h0M748.2 326.8h0M745.4 338.7h0M743.4 344.7h0M744.3 338.9h0M746.4 332.2h0M748.0 329.1h0M743.2 342.0h0M747.8 332.0h0M745.7 336.8h0M743.5 342.2h0M747.5 332.0h0M742.5 342.7h0M746.1 336.7h0M749.4 332.6h0M746.9 332.8h0M749.0 331.5h0M749.5 327.4h0M744.4 340.6h0M748.8 335.1h0M747.2 334.1h0M746.1 335.9h0M746.5 332.4h0M744.0 339.0h0M745.3 336.7h0M742.3 343.6h0M746.3 331.4h0M748.7 333.1h0M744.9 333.2h0M745.5 331.8h0M749.1 328.1h0M744.6 340.9h0M745.6 332.3h0M743.7 341.7h0M747.8 331.1h0M749.4 328.1h0M745.4 336.4h0M746.5 336.0h0M745.2 336.3h0M744.2 339.4h0M745.3 338.2h0M800.4 277.6h0M796.7 283.9h0M806.5 290.7h0M804.5 264.8h0M795.4 297.4h0M795.7 304.3h0M797.9 269.8h0M806.7 265.2h0M792.9 279.1h0M796.6 289.7h0M796.4 305.4h0M802.1 279.2h0M798.6 304.4h0M804.2 264.1h0M801.9 266.2h0M798.4 303.5h0M794.3 303.6h0M804.8 257.4h0M797.4 282.4h0M800.1 292.9h0M796.9 293.5h0M800.9 286.8h0M797.2 275.2h0M800.5 275.4h0M801.2 266.6h0M795.1 277.1h0M799.6 276.7h0M804.4 264.0h0M795.6 306.0h0M801.5 276.5h0M800.9 261.9h0M792.3 289.3h0M792.3 290.5h0M796.4 300.3h0M800.3 275.1h0M792.1 302.0h0M793.6 300.9h0M803.4 300.6h0M802.1 279.9h0M797.0 303.6h0M798.4 299.5h0M796.8 294.7h0M800.8 265.0h0M802.7 281.9h0M798.6 271.4h0M795.6 302.8h0M801.7 257.2h0M791.7 292.0h0M801.6 276.3h0M801.9 301.4h0M798.7 293.0h0M803.6 257.2h0M803.9 261.9h0M803.5 260.6h0M802.1 282.3h0M799.1 274.0h0M792.0 297.5h0M794.5 295.4h0M803.2 274.2h0M796.5 296.4h0M795.3 296.1h0M800.0 295.3h0M802.7 263.2h0M799.5 294.8h0M792.6 290.9h0M795.6 287.3h0M799.6 275.9h0M802.4 299.8h0M796.6 285.3h0M804.1 272.6h0M794.4 292.9h0M799.4 261.4h0M795.7 281.4h0M800.6 272.9h0M801.4 284.7h0M795.3 298.3h0M801.0 265.7h0M805.5 304.0h0M798.7 297.8h0M801.4 258.6h0M803.6 262.2h0M799.1 261.7h0M796.6 295.1h0M796.0 291.2h0M794.2 301.1h0M795.9 291.9h0M791.9 299.5h0M800.3 280.1h0M802.3 280.1h0M802.9 284.9h0M801.1 268.6h0M805.2 266.7h0M802.2 282.5h0M794.2 305.6h0M801.4 274.6h0M797.5 295.0h0M793.4 284.7h0M794.2 303.3h0M800.0 286.7h0M802.4 263.8h0M799.4 300.2h0M800.7 271.1h0M796.2 289.8h0M798.9 261.1h0M799.0 275.9h0M797.4 289.6h0M798.7 278.7h0M799.5 275.8h0M800.3 281.9h0M805.7 275.7h0M796.9 304.2h0M796.2 291.4h0M793.9 300.9h0M795.8 297.8h0M795.9 304.4h0M797.3 303.1h0M798.1 294.2h0M805.9 263.9h0M790.2 296.7h0M798.4 292.1h0M795.7 299.3h0M794.2 302.4h0M805.8 258.0h0M801.4 288.0h0M804.3 263.1h0M802.8 261.5h0M797.1 281.8h0M805.0 259.0h0M803.3 266.9h0M801.5 283.7h0M796.4 293.9h0M801.5 266.2h0M796.0 286.6h0M794.7 286.6h0M802.1 257.8h0M801.0 275.7h0M804.2 261.2h0M801.3 265.8h0M802.7 264.8h0M801.7 261.4h0M799.2 268.3h0M802.8 271.4h0M796.0 290.1h0M799.4 279.1h0M802.8 286.4h0M794.4 294.1h0M802.6 263.1h0M803.5 267.5h0M800.6 263.8h0M800.6 259.2h0M802.2 281.8h0M796.1 303.7h0M800.9 296.1h0M796.7 302.1h0M802.4 260.6h0M796.4 295.0h0M803.1 260.1h0M792.3 295.2h0M800.2 263.1h0M800.5 269.6h0M797.0 289.5h0M801.4 268.9h0M802.6 271.7h0M805.4 259.3h0M796.6 299.9h0M801.0 262.3h0M800.0 287.7h0M804.1 287.8h0M795.9 289.5h0M803.1 263.3h0M795.5 290.2h0M797.3 288.3h0M802.5 281.0h0M803.6 273.4h0M796.6 305.6h0M807.2 271.4h0M795.1 272.4h0M804.0 262.3h0M803.0 266.0h0M804.3 274.4h0M800.9 270.3h0M798.3 274.6h0M798.3 262.2h0M799.5 288.5h0M792.9 291.2h0M802.3 258.3h0M803.2 282.4h0M792.4 299.0h0M804.4 260.3h0M800.1 266.9h0M797.4 283.8h0M803.0 263.6h0M802.3 269.8h0M798.4 273.8h0M799.8 290.2h0M800.5 290.1h0M798.5 266.5h0M797.3 295.1h0M794.4 282.0h0M804.1 276.5h0M796.0 300.8h0M802.0 264.4h0M804.6 264.6h0M793.3 291.0h0M802.2 264.7h0M806.8 266.1h0M798.2 277.9h0M806.4 262.8h0M797.9 286.9h0M796.8 287.1h0M796.4 261.1h0M804.0 261.5h0M801.1 268.9h0M804.1 261.7h0M797.0 305.9h0M795.6 290.1h0M794.5 288.9h0M793.6 299.0h0M805.0 293.5h0M795.7 287.2h0M802.5 264.8h0M801.2 290.9h0M799.6 294.6h0M807.8 266.1h0M801.4 261.0h0M802.5 264.9h0M797.3 290.1h0M801.9 279.4h0M801.5 284.2h0M795.2 294.3h0M793.2 301.9h0M797.7 291.3h0M799.9 280.0h0M796.8 284.2h0M796.5 267.3h0M797.7 285.1h0M797.3 293.4h0M797.3 297.4h0M796.7 286.9h0M796.0 304.0h0M797.8 285.4h0M794.2 299.8h0M804.1 262.8h0M793.9 290.4h0M792.9 281.6h0M803.4 268.3h0M799.2 267.3h0M801.9 295.7h0M797.1 279.8h0M806.9 265.0h0M791.0 303.0h0M798.1 271.6h0M804.8 277.6h0M802.8 269.5h0M804.8 281.6h0M795.7 270.2h0M790.8 300.4h0M794.8 302.5h0M800.0 296.3h0M798.8 280.0h0M798.1 283.9h0M794.2 289.8h0M790.9 291.1h0M796.5 278.5h0M795.6 283.1h0M798.4 285.1h0M798.6 287.6h0M799.3 265.3h0M795.7 300.8h0M801.3 275.7h0M801.5 287.1h0M800.7 293.2h0M801.6 278.6h0M804.2 270.5h0M802.3 285.1h0M803.3 260.9h0M803.9 272.2h0M798.9 280.9h0M795.7 300.1h0M799.3 276.9h0M800.7 296.2h0M799.1 271.4h0M801.8 287.0h0M798.0 298.6h0M794.9 300.2h0M798.6 300.8h0M789.2 297.6h0M800.6 267.4h0M798.1 284.4h0M799.0 263.2h0M802.1 302.0h0M796.0 279.9h0M804.6 265.7h0M798.8 299.2h0M805.5 280.4h0M793.6 295.3h0M802.2 265.5h0M802.7 289.2h0M799.6 281.6h0M794.7 286.8h0M801.6 282.9h0M798.9 279.2h0M803.9 270.8h0M802.0 268.6h0M790.5 296.3h0M797.3 292.4h0M803.2 268.7h0M796.4 277.4h0M803.4 288.2h0M801.5 267.4h0M795.1 290.8h0M802.3 292.0h0M795.7 290.6h0M795.1 268.8h0M793.0 289.7h0M804.8 264.7h0M801.0 261.9h0M800.2 285.2h0M802.6 269.3h0M796.0 272.2h0M802.7 258.4h0M801.3 269.6h0M797.3 291.8h0M802.1 283.6h0M799.5 303.9h0M800.2 280.8h0M795.3 299.3h0M800.8 273.3h0M796.7 270.1h0M801.4 257.9h0M800.7 280.8h0M798.3 289.7h0M796.9 263.8h0M798.2 261.4h0M800.4 262.7h0M800.6 293.6h0M799.2 295.1h0M799.5 286.2h0M799.8 271.0h0M801.2 265.2h0M797.9 278.2h0M804.0 288.4h0M796.1 296.9h0M798.1 271.2h0M796.4 288.2h0M797.2 292.6h0M799.3 287.3h0M799.4 285.9h0M798.4 305.2h0M803.4 258.3h0M795.1 284.5h0M803.1 259.5h0M798.6 261.6h0M800.9 277.0h0M803.1 267.2h0M792.9 296.8h0M799.1 302.8h0M796.7 303.4h0M805.1 269.7h0M799.8 278.4h0M798.1 305.4h0M798.7 298.9h0M803.6 268.0h0M804.5 260.4h0M795.3 291.5h0M795.2 283.5h0M785.8 295.5h0M798.6 279.6h0M797.0 274.8h0M804.6 264.7h0M795.5 298.4h0M797.5 295.3h0M795.1 302.3h0M796.4 291.3h0M800.3 280.4h0M796.7 304.2h0M803.3 269.0h0M796.6 305.7h0M802.2 257.7h0M805.1 272.9h0M793.7 284.4h0M798.6 268.6h0M802.3 277.3h0M791.9 303.6h0M800.0 268.7h0M805.0 263.8h0M799.8 292.6h0M796.5 290.5h0M803.8 267.4h0M799.8 274.9h0M802.3 270.8h0M791.7 298.2h0M800.8 295.6h0M799.2 259.4h0M803.5 267.3h0M794.5 304.8h0M796.1 267.2h0M799.1 301.5h0M803.7 276.1h0M804.2 271.1h0M802.3 304.4h0M803.6 266.4h0M789.7 292.8h0M800.9 283.2h0M799.9 283.0h0M800.2 263.2h0M799.7 269.1h0M807.9 264.8h0M797.9 280.7h0M791.9 292.7h0M793.6 286.7h0M801.8 297.4h0M799.8 273.4h0M791.6 302.2h0M799.0 268.9h0M802.7 271.5h0M796.5 291.2h0M796.6 289.6h0M802.2 271.8h0M801.7 264.8h0M795.2 302.0h0M797.8 301.8h0M797.9 294.7h0M799.3 292.0h0M791.9 295.6h0M794.6 302.6h0M792.5 301.9h0M798.3 280.5h0M796.4 280.3h0M797.7 299.0h0M794.5 303.8h0M806.3 258.8h0M802.4 258.3h0M794.4 304.3h0M804.7 278.6h0M801.3 303.2h0M800.1 295.5h0M793.9 302.7h0M804.0 266.4h0M799.2 289.9h0M807.9 264.3h0M786.7 295.2h0M802.6 267.3h0M806.3 261.3h0M801.8 294.7h0M794.1 291.1h0M797.3 295.3h0M800.5 270.3h0M797.6 286.0h0M802.2 267.5h0M799.8 268.5h0M792.7 281.0h0M800.4 283.7h0M800.3 275.0h0M798.3 276.0h0M794.5 301.6h0M798.5 264.4h0M797.3 287.0h0M796.3 306.2h0M796.4 284.0h0M806.0 266.7h0M801.5 266.9h0M799.9 272.2h0M793.9 279.7h0M801.2 280.7h0M798.3 289.9h0M803.4 257.8h0M802.7 283.8h0M803.9 257.1h0M796.1 305.9h0M801.2 277.6h0M797.2 288.9h0M794.7 277.6h0M796.5 305.4h0M794.9 293.9h0M800.0 273.7h0M802.5 268.2h0M800.4 263.8h0M796.0 277.2h0M794.0 297.6h0M802.2 260.1h0M799.0 273.9h0M798.6 292.7h0M797.5 275.3h0M797.3 287.0h0M797.7 293.6h0M800.9 280.8h0M797.6 285.0h0M806.1 261.3h0M803.2 265.9h0M806.0 264.6h0M799.3 258.3h0M790.1 304.5h0M798.2 280.0h0M802.0 282.2h0M798.8 285.8h0M791.2 296.1h0M793.3 301.4h0M796.4 277.6h0M796.2 261.5h0M794.0 278.3h0M793.8 292.6h0M794.2 302.8h0M803.2 262.9h0M799.9 276.5h0M795.2 289.8h0M797.8 270.7h0M796.3 290.7h0M797.0 291.8h0M795.2 292.3h0M795.4 270.7h0M796.6 285.3h0M807.1 257.7h0M798.5 283.6h0M800.1 270.8h0M794.6 287.1h0M804.8 263.6h0M799.8 287.4h0M798.1 306.5h0M797.8 264.4h0M806.4 265.6h0M806.8 249.6h0M809.2 252.9h0M804.8 262.6h0M822.7 226.8h0M816.2 224.1h0M821.8 216.8h0M807.6 250.4h0M806.4 269.3h0M815.4 242.8h0M813.2 251.1h0M820.9 220.8h0M807.8 265.6h0M818.4 229.9h0M811.5 238.2h0M811.0 244.7h0M824.4 219.3h0M814.8 236.6h0M821.7 229.1h0M805.1 261.5h0M811.4 257.5h0M810.5 246.9h0M819.2 220.2h0M811.9 257.1h0M804.4 262.4h0M812.4 236.7h0M819.5 214.3h0M807.7 249.6h0M813.1 239.5h0M822.2 214.1h0M819.3 232.6h0M805.0 253.6h0M814.2 240.7h0M803.3 264.8h0M807.8 254.5h0M810.2 252.1h0M810.7 258.4h0M810.0 248.4h0M813.7 241.6h0M816.8 241.4h0M814.2 229.3h0M810.9 247.7h0M805.3 268.3h0M825.2 215.8h0M803.8 261.0h0M820.6 226.9h0M817.3 235.8h0M809.2 267.3h0M815.8 238.6h0M825.8 214.7h0M813.0 237.6h0M811.5 238.8h0M815.2 230.1h0M816.8 245.4h0M812.7 242.9h0M812.4 235.2h0M820.0 227.2h0M812.0 248.6h0M808.5 257.1h0M815.3 248.5h0M809.7 256.2h0M822.3 220.7h0M821.0 220.8h0M815.8 236.2h0M817.5 231.9h0M819.4 230.1h0M813.9 226.6h0M816.4 224.9h0M802.3 269.0h0M807.9 256.8h0M813.5 231.6h0M826.7 213.8h0M818.1 223.9h0M821.9 213.6h0M809.0 256.2h0M820.7 236.5h0M820.7 235.1h0M807.5 250.5h0M809.1 262.3h0M802.3 269.1h0M816.7 235.5h0M814.4 243.6h0M804.3 266.0h0M815.7 226.6h0M812.5 240.0h0M804.2 260.0h0M809.5 260.8h0M811.4 253.0h0M806.1 255.2h0M804.9 266.4h0M823.3 218.8h0M810.5 261.1h0M805.0 269.1h0M817.4 236.5h0M810.2 248.4h0M812.3 247.2h0M811.9 259.3h0M810.4 264.5h0M811.3 241.2h0M811.6 257.8h0M818.4 241.2h0M807.5 268.1h0M821.0 227.6h0M817.3 230.4h0M817.9 231.9h0M815.5 242.7h0M822.0 224.1h0M816.5 241.3h0M818.5 231.8h0M819.8 231.7h0M821.7 220.4h0M808.7 263.5h0M807.9 261.4h0M818.6 227.7h0M811.3 256.0h0M811.5 252.4h0M814.9 235.8h0M823.7 217.9h0M822.2 222.7h0M819.4 229.3h0M805.0 266.1h0M817.5 230.6h0M815.0 241.3h0M812.7 232.0h0M811.4 259.8h0M805.5 257.4h0M811.2 251.2h0M824.0 218.3h0M818.1 230.7h0M817.4 233.7h0M812.6 255.3h0M811.6 246.6h0M816.0 233.0h0M806.3 270.4h0M808.0 254.1h0M811.7 248.1h0M821.5 217.5h0M820.7 220.4h0M811.6 248.7h0M808.0 246.5h0M818.6 230.4h0M820.8 235.7h0M822.0 214.4h0M812.3 258.5h0M820.5 224.7h0M821.9 223.9h0M823.4 234.7h0M824.9 226.9h0M801.2 264.0h0M806.5 268.4h0M809.0 263.5h0M818.3 235.0h0M822.2 213.8h0M808.8 267.9h0M820.2 226.8h0M822.8 220.0h0M823.6 219.8h0M821.8 213.7h0M820.6 227.3h0M821.0 240.3h0M818.0 233.8h0M810.9 257.1h0M815.0 243.0h0M813.4 242.1h0M810.3 253.7h0M818.6 229.7h0M812.4 255.7h0M825.3 228.8h0M816.4 226.9h0M807.3 255.7h0M814.4 253.2h0M816.0 243.5h0M807.0 267.7h0M805.5 268.2h0M825.2 223.1h0M814.0 239.0h0M816.8 234.8h0M805.8 259.7h0M817.0 235.8h0M820.2 213.0h0M808.8 264.3h0M822.9 213.0h0M815.3 234.9h0M823.2 218.8h0M812.3 244.9h0M806.4 265.8h0M817.8 242.9h0M807.9 261.0h0M812.7 240.2h0M802.5 263.7h0M816.3 247.2h0M807.2 256.8h0M822.3 230.4h0M814.0 238.2h0M813.5 250.0h0M819.3 227.2h0M812.1 247.7h0M805.4 266.0h0M807.8 257.1h0M810.6 253.1h0M825.6 214.4h0M819.9 216.6h0M824.5 218.0h0M808.4 258.7h0M808.5 254.1h0M811.0 256.6h0M819.8 230.5h0M809.5 254.8h0M823.7 216.4h0M812.0 249.6h0M805.4 269.4h0M824.0 213.7h0M812.8 241.8h0M807.2 270.3h0M806.9 267.6h0M811.4 250.9h0M816.1 236.1h0M819.0 223.3h0M820.2 222.5h0M821.4 227.1h0M818.1 239.4h0M808.6 255.5h0M813.3 250.0h0M817.2 242.0h0M804.5 263.5h0M815.7 243.5h0M811.4 253.2h0M812.1 246.9h0M799.5 266.1h0M804.4 259.8h0M813.5 229.6h0M809.5 256.0h0M823.2 217.3h0M821.2 215.5h0M804.0 269.6h0M803.7 269.2h0M808.9 259.8h0M827.3 214.7h0M804.1 261.8h0M810.6 248.3h0M813.4 243.7h0M811.4 254.3h0M806.8 246.8h0M807.4 263.3h0M810.8 264.9h0M805.1 264.1h0M804.0 261.9h0M821.6 227.5h0M822.4 220.5h0M816.5 236.1h0M822.6 222.3h0M819.1 239.7h0M813.5 240.7h0M822.3 218.4h0M826.7 215.8h0M807.2 256.6h0M812.1 243.7h0M818.1 239.4h0M808.8 257.3h0M824.4 228.0h0M807.6 254.6h0M824.0 216.0h0M804.4 261.1h0M816.0 236.2h0M808.4 256.0h0M809.0 254.0h0M811.9 244.5h0M818.1 226.9h0M815.8 246.3h0M818.6 227.2h0M826.5 226.2h0M812.3 245.7h0M814.0 225.9h0M800.0 268.0h0M816.9 222.6h0M818.9 234.7h0M813.1 240.5h0M822.1 228.2h0M809.1 249.2h0M823.0 220.1h0M806.2 268.1h0M813.8 240.6h0M808.2 251.2h0M822.0 232.8h0M804.8 269.5h0M822.2 218.7h0M815.2 237.7h0M806.8 267.5h0M820.1 226.8h0M815.9 242.8h0M806.8 256.2h0M812.7 243.7h0M815.3 226.9h0M826.0 216.0h0M823.1 224.3h0M813.2 243.2h0M804.0 262.2h0M810.7 249.9h0M814.6 243.2h0M819.4 241.0h0M810.1 256.0h0M806.3 261.9h0M812.5 238.4h0M807.9 268.5h0M815.3 235.1h0M810.2 250.8h0M800.0 267.0h0M821.4 212.7h0M824.2 227.6h0M811.3 254.1h0M817.9 233.9h0M821.0 229.4h0M824.0 219.9h0M828.6 215.3h0M818.4 234.3h0M809.9 259.8h0M815.9 239.9h0M820.7 228.9h0M809.5 253.8h0M818.3 230.8h0M816.3 236.7h0M819.7 229.0h0M825.0 224.1h0M825.2 214.2h0M802.2 267.1h0M824.5 214.8h0M821.4 222.6h0M811.9 245.0h0M819.4 228.0h0M808.7 261.3h0M805.5 268.0h0M821.9 229.3h0M806.6 269.5h0M808.8 257.1h0M805.9 268.0h0M810.1 260.8h0M804.0 269.1h0M803.7 267.1h0M804.6 269.5h0M820.8 229.1h0M810.1 239.8h0M819.3 227.5h0M820.3 230.1h0M817.1 226.9h0M804.8 257.7h0M828.1 215.7h0M826.6 218.2h0M809.3 257.7h0M820.0 221.6h0M810.2 261.1h0M815.2 229.7h0M823.4 215.4h0M817.2 220.1h0M813.7 243.0h0M823.0 214.2h0M815.9 231.1h0M819.6 231.0h0M808.4 265.7h0M805.7 267.3h0M816.4 247.9h0M823.9 226.6h0M809.2 256.6h0M814.0 239.9h0M809.7 248.4h0M812.3 237.2h0M819.0 234.8h0M816.5 246.6h0M816.8 223.7h0M822.9 217.7h0M823.4 216.5h0M820.6 236.3h0M810.4 260.2h0M804.0 265.4h0M809.1 260.8h0M814.2 232.8h0M810.0 260.6h0M803.6 262.5h0M816.1 246.7h0M817.4 245.0h0M816.0 239.9h0M818.9 234.9h0M807.5 265.5h0M821.0 219.5h0M811.3 244.7h0M814.1 251.3h0M812.0 242.1h0M804.6 259.1h0M815.2 229.9h0M811.6 250.3h0M809.0 259.4h0M814.3 242.5h0M816.2 234.5h0M820.0 233.5h0M816.8 246.5h0M821.8 220.1h0M804.9 265.7h0M814.7 240.4h0M806.9 270.4h0M808.1 269.7h0M816.1 240.2h0M818.8 226.7h0M804.2 263.2h0M806.0 268.1h0M815.8 248.8h0M813.7 251.7h0M810.8 255.7h0M812.7 241.7h0M828.4 218.8h0M807.6 264.4h0M820.7 230.9h0M804.5 269.3h0M813.5 246.9h0M818.3 238.8h0M808.3 252.6h0M809.9 245.3h0M820.4 218.0h0M807.2 257.9h0M805.0 262.0h0M819.6 223.7h0M813.3 243.8h0M829.3 215.8h0M820.9 222.8h0M805.5 262.6h0M810.9 255.1h0M810.5 245.8h0M805.1 266.8h0M819.1 237.7h0M804.6 261.5h0M823.8 223.4h0M810.6 249.4h0M814.6 249.2h0M825.1 223.2h0M811.7 245.7h0M816.3 241.5h0M807.0 264.6h0M821.9 224.3h0M819.6 225.6h0M811.2 238.7h0M821.3 225.6h0M812.4 245.5h0M805.2 268.6h0M802.3 263.8h0M809.2 254.5h0M806.1 269.5h0M807.2 264.9h0M805.7 254.0h0M821.5 221.6h0M812.8 230.8h0M819.3 235.3h0M817.6 227.0h0M812.4 248.6h0M821.4 222.2h0M817.2 232.4h0M814.3 235.3h0M808.3 259.2h0M804.1 267.0h0M823.4 222.2h0M818.5 234.1h0M804.0 266.1h0M820.4 218.2h0M806.3 262.9h0M808.0 246.5h0M822.9 224.8h0M818.4 240.3h0M810.5 244.0h0M808.4 254.8h0M820.3 230.4h0M806.2 253.1h0M817.7 233.5h0M814.0 222.0h0M821.6 234.7h0M809.2 260.1h0M817.6 226.7h0M811.6 239.2h0M802.1 264.3h0M809.8 257.1h0M810.1 252.5h0M814.3 237.7h0M821.4 214.4h0M810.7 254.2h0M820.6 225.2h0M820.7 236.4h0M808.0 250.9h0M812.4 253.0h0M807.7 255.5h0M820.9 221.1h0M806.9 259.3h0M811.0 252.4h0M813.2 239.1h0M821.0 217.6h0M822.5 227.0h0M819.5 227.7h0M804.3 267.3h0M825.7 218.2h0M809.3 252.8h0M802.1 267.4h0M811.3 240.2h0M808.9 258.1h0M809.6 248.7h0M821.7 214.6h0M822.1 220.8h0M821.1 221.8h0M811.2 253.5h0M825.3 218.7h0M814.6 234.7h0M816.5 224.7h0M823.6 214.4h0M805.9 270.5h0M828.7 215.6h0M802.4 269.4h0M806.1 259.1h0M814.1 231.8h0M813.0 246.9h0M806.3 266.6h0M822.8 223.3h0M811.7 240.6h0M809.0 242.0h0M811.4 255.1h0M819.2 231.3h0M824.2 216.8h0M812.5 240.8h0M812.5 251.5h0M809.7 247.3h0M820.2 220.8h0M813.2 242.5h0M812.2 239.8h0M808.4 263.2h0M824.1 220.9h0M805.9 253.8h0M808.9 256.5h0M806.9 265.8h0M813.8 244.8h0M811.9 254.7h0M820.1 218.2h0M819.2 233.7h0M817.0 226.9h0M818.5 223.2h0M815.6 238.3h0M805.4 251.7h0M805.4 264.9h0M806.1 260.7h0M810.0 246.3h0M822.4 224.7h0M806.8 269.2h0M814.7 237.3h0M820.0 231.9h0M824.2 224.0h0M807.6 266.0h0M817.5 225.3h0M815.0 223.7h0M820.4 224.2h0M813.2 244.5h0M814.2 238.6h0M817.3 226.6h0M807.2 260.2h0M813.3 247.4h0M812.4 240.3h0M822.7 222.0h0M816.4 240.9h0M826.4 214.7h0M811.6 252.9h0M820.8 225.3h0M822.6 219.4h0M809.2 251.0h0M824.2 218.3h0M814.1 242.0h0M813.5 246.5h0M811.5 248.5h0M809.4 246.1h0M819.7 229.9h0M815.2 250.6h0M818.3 222.9h0M802.8 269.6h0M803.1 268.6h0M825.4 220.2h0M822.9 214.9h0M810.7 252.2h0M808.1 260.0h0M813.1 236.6h0M812.9 252.9h0M811.6 252.4h0M819.5 225.2h0M818.3 237.1h0M819.6 232.8h0M809.5 256.0h0M815.6 242.9h0M823.4 218.8h0M804.5 260.9h0M827.6 215.9h0M814.0 247.0h0M817.9 236.7h0M807.2 262.9h0M813.4 240.5h0M805.2 255.1h0M811.7 238.3h0M810.1 232.8h0M810.0 263.5h0M808.7 261.4h0M817.4 211.5h0M815.3 237.2h0M816.6 232.5h0M818.6 230.8h0M820.6 227.4h0M811.7 237.2h0M819.8 225.0h0M815.4 242.2h0M810.4 250.9h0M819.1 227.8h0M811.4 244.3h0M817.1 228.8h0M809.6 251.4h0M808.1 258.8h0M820.2 222.3h0M813.9 242.7h0M818.4 238.0h0M810.3 251.0h0M819.2 238.9h0M812.4 245.9h0M824.8 218.5h0M810.1 240.3h0M806.2 259.0h0M813.9 244.2h0M813.2 246.6h0M810.4 244.7h0M823.2 224.0h0M802.9 262.0h0M802.8 263.0h0M814.5 234.8h0M806.6 264.4h0M809.2 249.7h0M824.9 213.9h0M826.2 223.1h0M822.2 226.6h0M819.4 217.0h0M824.4 214.5h0M815.0 242.5h0M819.9 213.8h0M814.6 235.7h0M805.4 259.9h0M814.2 238.2h0M814.9 248.4h0M820.7 223.9h0M817.7 242.8h0M815.9 227.7h0M822.5 225.1h0M805.3 249.9h0M828.1 214.6h0M808.3 264.8h0M810.9 242.8h0M815.9 250.3h0M810.6 252.5h0M820.7 222.3h0M817.1 210.6h0M817.3 230.4h0M816.0 233.5h0M816.0 237.4h0M806.9 262.8h0M820.2 231.3h0M823.0 213.8h0M821.8 224.1h0M825.5 213.3h0M820.6 238.1h0M815.9 232.3h0M817.7 231.8h0M817.3 235.4h0M804.8 266.6h0M804.0 260.4h0M807.6 253.5h0M819.8 229.8h0M814.9 243.1h0M808.2 254.5h0M812.7 239.8h0M817.6 242.7h0M804.8 258.8h0M820.5 230.1h0M817.9 219.6h0M810.0 254.1h0M802.0 254.1h0M821.7 231.2h0M811.1 248.5h0M812.7 233.8h0M807.5 264.8h0M815.3 235.7h0M819.0 242.1h0M825.6 222.8h0M816.3 238.9h0M811.8 259.2h0M824.0 212.7h0M813.1 247.7h0M812.7 241.9h0M803.6 263.5h0M815.6 232.5h0M810.4 246.9h0M819.5 231.6h0M810.1 256.1h0M810.2 252.6h0M806.2 262.7h0M807.7 254.1h0M800.8 266.3h0M804.7 259.9h0M825.5 214.0h0M812.4 259.1h0M806.9 260.5h0M814.6 250.1h0M803.5 258.5h0M823.4 221.3h0M822.9 221.4h0M810.0 251.1h0M808.8 261.5h0M819.0 231.2h0M815.3 229.1h0M813.4 235.6h0M814.6 226.4h0M818.1 219.0h0M807.7 250.4h0M815.5 251.4h0M821.3 224.0h0M825.4 218.5h0M817.4 234.6h0M820.2 223.2h0M803.5 267.6h0M813.5 239.4h0M813.7 234.6h0M818.4 224.5h0M820.7 212.7h0M811.9 257.4h0M822.0 229.1h0M822.1 219.1h0M805.0 262.7h0M821.5 235.0h0M818.0 246.7h0M816.8 228.2h0M819.9 229.3h0M806.3 259.3h0M803.8 265.0h0M821.2 219.5h0M813.8 249.3h0M818.8 222.6h0M808.5 260.3h0M815.0 233.8h0M824.7 226.0h0M815.4 235.4h0M820.1 226.8h0M808.2 261.0h0M821.1 218.1h0M813.5 241.6h0M814.9 239.7h0M819.6 224.9h0M821.6 229.2h0M812.9 243.3h0M815.8 245.9h0M824.9 222.8h0M804.9 267.1h0M805.7 263.5h0M813.9 249.2h0M810.8 258.9h0M810.9 259.3h0M821.6 226.4h0M821.8 227.2h0M805.1 255.7h0M817.3 243.7h0M805.7 267.0h0M818.5 222.2h0M814.0 241.2h0M807.1 261.6h0M812.8 235.1h0M810.8 242.9h0M809.7 245.6h0M825.5 215.6h0M818.7 224.0h0M810.7 246.8h0M813.0 250.2h0M814.9 233.3h0M804.7 266.5h0M817.9 236.4h0M805.6 264.6h0M816.1 234.8h0M806.5 262.7h0M810.7 252.6h0M809.0 268.2h0M819.7 229.5h0M812.2 248.3h0M824.4 230.7h0M822.6 214.4h0M806.2 265.0h0M803.3 267.6h0M812.6 244.4h0M823.8 218.8h0M808.8 269.1h0M824.2 218.5h0M827.9 216.3h0M823.6 223.7h0M821.4 227.9h0M807.2 265.0h0M804.6 265.7h0M806.1 260.7h0M807.9 258.8h0M822.3 229.0h0M814.9 244.8h0M816.0 234.3h0M818.6 215.9h0M809.1 260.8h0M818.3 236.7h0M821.0 229.5h0M821.9 222.9h0M807.7 255.6h0M815.0 245.7h0M821.1 228.4h0M816.7 239.9h0M817.1 221.7h0M808.9 257.0h0M820.8 215.1h0M818.6 221.3h0M819.9 227.6h0M816.6 233.6h0M810.4 254.5h0M819.1 231.5h0M819.8 237.7h0M825.5 218.6h0M821.5 227.5h0M813.3 239.6h0M817.5 237.0h0M824.7 222.1h0M804.7 266.0h0M821.5 227.7h0M820.3 229.3h0M807.8 266.0h0M807.5 255.1h0M813.5 247.6h0M816.9 233.0h0M826.9 217.3h0M810.7 256.0h0M807.6 256.3h0M802.8 259.2h0M812.5 260.4h0M803.2 261.1h0M805.8 256.8h0M802.5 268.4h0M807.8 261.8h0M823.1 221.9h0M805.2 258.2h0M818.5 234.3h0M807.6 268.5h0M819.9 232.4h0M820.8 222.6h0M805.1 267.9h0M815.2 241.3h0M810.9 251.0h0M803.1 259.4h0M808.8 254.4h0M820.0 222.8h0M807.2 268.1h0M823.2 222.1h0M815.2 231.3h0M819.9 222.8h0M805.4 262.2h0M810.9 252.9h0M815.1 250.4h0M817.8 234.6h0M814.9 243.3h0M810.2 240.2h0M823.8 225.2h0M815.0 244.8h0M813.1 230.6h0M815.0 242.1h0M819.5 232.5h0M809.7 248.6h0M806.2 268.3h0M817.2 234.7h0M811.7 251.4h0M805.2 262.7h0M807.1 263.7h0M816.4 234.5h0M825.4 221.1h0M826.1 213.9h0M813.5 243.8h0M809.3 260.4h0M813.2 240.7h0M814.9 241.0h0M814.1 257.5h0M803.2 260.3h0M822.9 222.2h0M815.1 233.4h0M812.8 241.8h0M819.8 226.7h0M819.2 225.0h0M818.8 209.6h0M820.8 208.7h0M823.0 210.8h0M818.1 213.2h0M819.8 212.2h0M813.7 212.5h0M817.6 219.9h0M809.6 199.7h0M814.8 211.4h0M817.3 214.1h0M813.1 212.7h0M815.1 209.5h0M809.3 208.5h0M807.1 213.2h0M821.1 220.0h0M812.0 215.8h0M809.6 213.5h0M813.9 222.1h0M813.0 210.7h0M809.7 208.4h0M820.4 221.1h0M811.5 207.5h0M811.5 206.2h0M814.2 220.8h0M809.8 213.5h0M817.7 206.3h0M814.3 207.0h0M818.3 214.5h0M814.7 201.7h0M811.2 214.2h0M811.5 216.7h0M817.2 216.2h0M815.7 217.2h0M812.7 211.6h0M819.5 207.9h0M805.5 216.8h0M821.7 216.7h0M828.6 214.2h0M805.1 211.1h0M803.0 212.4h0M816.7 221.2h0M826.4 214.6h0M824.0 217.7h0M812.5 210.7h0M805.6 212.3h0M814.0 209.5h0M815.3 210.6h0M827.1 206.3h0M821.8 210.6h0M813.5 215.5h0M803.1 210.9h0M819.4 206.4h0M806.8 200.7h0M812.2 205.8h0M813.1 210.2h0M817.3 220.0h0M805.6 209.7h0M810.5 221.4h0M813.1 208.6h0M805.1 215.0h0M807.5 209.3h0M819.6 214.0h0M816.3 215.7h0M810.5 207.6h0M812.5 208.6h0M820.7 216.1h0M815.4 215.0h0M813.0 212.3h0M820.8 205.8h0M817.0 219.3h0M810.2 213.1h0M815.7 212.3h0M820.3 215.2h0M815.9 212.1h0M808.8 216.8h0M814.2 210.2h0M813.8 222.6h0M811.3 218.2h0M809.1 208.5h0M825.1 208.1h0M816.0 221.5h0M804.7 212.6h0M816.6 210.6h0M819.4 215.1h0M814.3 215.9h0M813.9 204.7h0M817.9 222.2h0M820.5 214.9h0M807.3 210.1h0M819.9 214.8h0M822.8 211.8h0M805.4 206.2h0M817.6 217.2h0M814.8 215.5h0M817.0 217.6h0M810.5 209.1h0M810.6 214.0h0M816.4 206.5h0M816.3 216.3h0M811.1 215.1h0M809.3 214.7h0M808.7 214.3h0M806.8 205.6h0M820.6 213.7h0M811.2 218.5h0M802.9 217.4h0M817.7 211.3h0M816.5 219.4h0M819.2 214.0h0M817.8 219.9h0M811.0 217.1h0M807.5 221.3h0M819.3 210.7h0M818.9 211.5h0M817.3 208.4h0M819.8 215.3h0M816.5 215.9h0M813.2 214.9h0M818.7 210.2h0M812.3 222.6h0M812.3 214.4h0M810.0 207.0h0M822.8 219.1h0M809.0 202.9h0M810.6 225.0h0M818.9 214.1h0M814.1 214.0h0M815.0 218.9h0M817.5 219.7h0M813.8 221.7h0M817.1 211.8h0M809.8 210.2h0M818.4 218.2h0M812.0 210.7h0M827.2 214.4h0M820.5 213.5h0M809.5 211.5h0M806.4 210.8h0M810.8 210.6h0M810.0 205.9h0M816.1 215.6h0M816.5 220.4h0M822.5 212.9h0M818.0 215.8h0M821.4 211.4h0M826.9 214.3h0M823.5 209.8h0M814.1 208.1h0M815.8 211.7h0M812.3 217.9h0M813.2 215.3h0M809.5 206.6h0M828.2 217.1h0M818.6 209.3h0M818.6 214.2h0M816.1 219.6h0M825.2 217.5h0M811.1 210.3h0M816.9 207.9h0M812.5 209.4h0M819.0 219.4h0M817.1 218.8h0M814.7 214.6h0M818.4 211.6h0M819.5 211.0h0M809.2 215.8h0M821.0 221.5h0M805.7 216.8h0M825.0 217.4h0M814.0 204.5h0M820.2 205.5h0M821.6 208.1h0M815.1 205.8h0M816.1 221.0h0M817.2 213.8h0M814.8 210.2h0M821.3 205.9h0M810.2 213.1h0M807.0 205.1h0M814.6 205.3h0M825.5 218.2h0M824.6 221.0h0M821.7 209.6h0M820.1 217.2h0M817.6 210.7h0M800.7 216.8h0M814.9 218.0h0M807.1 208.8h0M807.7 213.5h0M819.3 213.5h0M825.1 219.7h0M819.7 219.6h0M812.4 215.2h0M824.5 210.5h0M821.6 222.6h0M821.6 226.4h0M813.7 214.1h0M811.2 220.3h0M817.7 214.5h0M824.7 210.5h0M818.4 219.7h0M805.4 216.8h0M821.1 207.0h0M825.4 216.2h0M813.4 214.4h0M813.9 218.2h0M824.1 215.5h0M813.0 211.9h0M816.4 214.5h0M812.6 221.5h0M803.7 216.6h0M825.8 211.0h0M827.6 212.3h0M820.7 216.3h0M810.4 216.0h0M817.2 219.7h0M819.2 213.0h0M821.1 225.3h0M820.7 213.7h0M817.5 214.9h0M813.5 206.6h0M812.1 222.5h0M823.9 216.9h0M819.2 223.2h0M824.7 213.5h0M817.0 217.9h0M812.9 216.5h0M819.1 215.9h0M818.5 216.4h0M817.9 215.2h0M817.2 213.4h0M818.2 212.3h0M816.3 213.5h0M818.1 215.0h0M811.5 220.6h0M808.2 213.3h0M817.6 213.8h0M821.4 216.3h0M825.0 206.1h0M818.5 218.1h0M817.6 205.8h0M821.9 217.8h0M808.8 217.2h0M806.0 217.4h0M816.6 213.7h0M815.9 211.1h0M812.7 217.3h0M805.4 217.2h0M817.0 220.8h0M819.5 224.8h0M827.3 213.0h0M820.7 210.7h0M819.5 216.2h0M814.7 219.9h0M813.6 216.1h0M821.9 212.9h0M812.2 213.9h0M811.9 221.3h0M819.1 218.4h0M814.6 209.5h0M819.2 210.8h0M817.5 209.9h0M809.6 218.0h0M815.1 212.4h0M822.3 203.3h0M822.4 214.0h0M808.1 207.4h0M812.1 215.6h0M806.8 217.9h0M815.4 215.0h0M812.6 212.5h0M819.6 217.0h0M810.2 209.5h0M812.9 222.3h0M812.9 220.4h0M815.7 222.7h0M821.3 215.9h0M816.0 218.5h0M823.9 211.7h0M818.6 207.6h0M809.4 211.5h0M824.7 216.0h0M814.1 223.3h0M810.6 211.4h0M814.2 213.0h0M816.5 212.2h0M819.7 213.6h0M815.8 210.8h0M812.3 216.9h0M814.9 214.2h0M813.1 205.7h0M813.4 200.7h0M816.6 218.9h0M809.9 207.2h0M810.3 215.0h0M815.1 213.3h0M805.0 214.5h0M814.2 214.2h0M819.2 217.6h0M816.1 208.4h0M819.7 216.1h0M816.5 219.4h0M808.9 214.0h0M820.7 211.0h0M816.5 213.4h0M818.3 209.9h0M826.9 207.0h0M816.4 210.7h0M821.8 206.6h0M809.2 215.8h0M808.4 210.1h0M812.6 215.5h0M819.1 204.7h0M816.5 222.0h0M823.7 216.5h0M808.0 218.5h0M811.6 214.9h0M818.7 213.3h0M820.9 214.6h0M814.4 210.9h0M814.0 210.3h0M809.1 218.9h0M824.5 214.4h0M808.7 211.1h0M815.5 208.7h0M815.3 215.5h0M808.3 205.8h0M820.3 215.5h0M820.4 211.4h0M813.2 222.9h0M820.5 219.4h0M821.6 210.6h0M817.1 203.2h0M823.4 203.4h0M818.7 211.9h0M822.0 217.2h0M816.5 213.7h0M817.2 215.8h0M817.4 218.1h0M823.5 210.1h0M824.6 208.4h0M820.5 209.9h0M827.6 215.8h0M821.2 224.3h0M823.2 222.4h0M808.6 211.2h0M817.7 212.6h0M813.6 212.0h0M810.3 221.8h0M823.4 214.7h0M823.8 209.3h0M824.2 211.6h0M819.2 219.5h0M824.2 211.3h0M815.6 213.2h0M826.7 213.3h0M811.5 205.7h0M802.0 205.9h0M819.7 208.4h0M813.2 210.5h0M809.2 209.9h0M818.9 212.1h0M820.4 214.7h0M807.2 212.2h0M821.5 222.3h0M808.1 216.6h0M823.1 225.8h0M814.8 219.0h0M810.4 219.8h0M820.9 206.6h0M812.5 212.9h0M818.2 214.8h0M818.3 216.5h0M809.8 207.7h0M818.4 208.5h0M813.1 213.5h0M826.2 215.0h0M825.1 218.2h0M810.7 222.8h0M813.8 220.2h0M818.5 211.7h0M806.1 216.8h0M815.6 226.0h0M813.1 214.4h0M813.1 210.8h0M824.1 220.5h0M809.4 211.5h0M814.1 209.9h0M821.8 214.4h0M813.8 215.2h0M818.5 213.0h0M815.3 217.1h0M820.0 210.8h0M820.1 205.3h0M815.0 219.6h0M829.2 217.8h0M819.0 226.6h0M825.7 215.5h0M816.0 203.8h0M821.4 210.5h0M818.5 207.6h0M811.8 219.2h0M820.3 229.0h0M821.9 223.6h0M819.2 213.8h0M815.0 214.7h0M820.7 225.9h0M817.2 209.5h0M817.1 205.8h0M819.1 201.6h0M803.1 216.5h0M820.0 210.5h0M815.9 216.5h0M819.5 209.0h0M815.9 204.8h0M809.3 210.6h0M816.0 218.1h0M815.0 212.4h0M816.9 213.1h0M813.6 219.9h0M817.6 218.4h0M807.2 209.5h0M813.4 210.3h0M816.1 213.3h0M819.5 222.3h0M812.9 215.0h0M819.4 221.1h0M809.6 215.0h0M815.0 217.3h0M824.2 210.6h0M814.2 216.3h0M819.7 205.2h0M813.7 214.6h0M819.8 214.2h0M823.1 214.6h0M815.9 211.8h0M818.4 222.0h0M817.3 219.9h0M816.4 221.9h0M814.9 203.2h0M812.2 213.1h0M815.6 217.0h0M814.0 208.7h0M819.3 212.7h0M825.0 215.3h0M819.3 213.3h0M812.9 218.9h0M815.4 208.7h0M819.5 213.5h0M814.4 218.0h0M808.2 216.8h0M817.1 214.4h0M816.3 210.9h0M812.1 215.1h0M816.6 219.1h0M811.9 218.7h0M826.9 207.2h0M824.4 216.3h0M815.6 214.2h0M822.1 206.0h0M822.1 216.2h0M822.2 203.6h0M800.9 216.8h0M807.9 216.2h0M814.8 207.9h0M806.2 218.9h0M816.0 207.5h0M819.1 207.8h0M818.9 208.0h0M816.0 218.0h0M810.5 216.1h0M809.4 218.2h0M811.3 214.1h0M809.8 218.9h0M814.2 212.2h0M810.2 207.3h0M821.5 206.0h0M824.9 209.9h0M811.5 211.1h0M810.1 213.5h0M813.5 206.7h0M816.2 211.6h0M823.6 219.9h0M807.2 214.4h0M818.1 211.3h0M812.2 214.6h0M815.7 207.6h0M815.7 213.3h0M819.2 212.1h0M807.0 213.0h0M818.1 207.9h0M816.0 215.9h0M812.1 207.1h0M819.1 224.2h0M827.1 211.3h0M811.6 207.8h0M816.9 212.2h0M813.4 218.4h0M814.8 223.4h0M814.8 213.1h0M811.9 221.3h0M817.2 219.6h0M811.7 214.1h0M820.3 205.7h0M818.4 216.9h0M809.0 216.7h0M811.1 211.5h0M813.1 218.6h0M811.8 212.2h0M817.7 211.0h0M820.9 210.6h0M814.4 214.2h0M817.3 215.1h0M825.8 209.8h0M821.6 226.3h0M819.1 215.1h0M815.3 215.0h0M820.3 217.4h0M812.0 218.7h0M816.3 207.2h0M805.2 217.5h0M815.5 217.0h0M808.0 219.9h0M813.5 206.3h0M810.7 219.3h0M826.0 215.0h0M812.9 221.3h0M816.6 216.8h0M815.2 223.7h0M812.6 218.5h0M814.6 214.9h0M818.8 218.4h0M811.3 220.2h0M819.3 222.6h0M808.0 210.7h0M819.0 213.4h0M804.0 206.8h0M803.9 213.2h0M816.3 218.3h0M812.2 210.9h0M822.6 202.3h0M818.0 218.3h0M816.2 217.6h0M824.6 212.6h0M820.0 215.1h0M816.9 218.7h0M827.9 210.9h0M823.2 207.9h0M820.7 220.1h0M812.3 204.5h0M817.1 210.0h0M823.3 222.5h0M821.4 217.4h0M810.6 211.7h0M818.8 209.2h0M822.4 208.7h0M817.7 212.9h0M818.2 203.3h0M817.4 210.4h0M808.2 211.8h0M809.2 217.2h0M802.6 217.2h0M825.1 212.5h0M815.1 212.6h0M818.3 214.7h0M810.6 216.4h0M816.0 209.5h0M817.6 216.0h0M813.1 220.3h0M810.0 207.2h0M801.9 216.1h0M814.0 213.5h0M805.9 207.1h0M806.6 210.7h0M811.5 217.6h0M815.2 217.6h0M815.5 204.6h0M818.1 204.2h0M819.4 218.5h0M810.9 221.0h0M820.0 213.5h0M816.3 212.6h0M823.6 214.0h0M822.9 218.6h0M812.4 215.8h0M815.5 222.8h0M813.0 213.2h0M816.0 206.8h0M813.3 214.5h0M804.9 218.7h0M809.3 222.6h0M820.7 214.0h0M817.3 205.6h0M805.6 221.1h0M833.1 188.4h0M829.9 199.6h0M826.4 213.3h0M828.1 206.9h0M834.3 183.0h0M829.6 200.2h0M826.7 210.8h0M834.5 183.6h0M833.8 185.1h0M831.8 193.0h0M828.7 205.2h0M831.9 192.6h0M834.5 182.0h0M832.1 191.2h0M829.8 200.2h0M826.5 212.1h0M827.4 208.1h0M834.6 182.5h0M826.2 213.4h0M834.1 184.3h0M833.4 187.6h0M827.2 209.3h0M828.0 206.9h0M832.0 191.0h0M827.8 207.1h0M834.8 181.9h0M828.2 207.9h0M828.4 205.3h0M832.7 189.8h0M832.0 191.8h0M828.4 204.8h0M827.0 210.2h0M828.0 206.5h0M830.2 198.5h0M834.5 183.1h0M831.3 194.5h0M833.5 186.3h0M834.6 183.2h0M834.0 183.9h0M831.4 194.6h0M830.0 199.8h0M834.0 184.7h0M834.8 181.5h0M828.4 204.7h0M828.7 203.1h0M828.8 204.2h0M832.4 191.4h0M826.2 212.2h0M829.0 202.2h0M834.1 184.2h0M834.5 182.8h0M827.3 210.1h0M829.5 200.5h0M834.3 182.7h0M832.6 190.0h0M826.0 213.4h0M831.0 195.7h0M828.2 205.1h0M830.4 198.0h0M829.5 202.0h0M801.8 236.8h0M790.9 236.8h0M797.4 228.1h0M789.5 234.9h0M799.7 235.0h0M803.5 214.9h0M810.6 239.9h0M802.9 221.8h0M806.8 229.1h0M795.3 212.0h0M808.0 217.5h0M794.5 227.0h0M802.2 215.2h0M796.7 226.2h0M777.9 218.3h0M791.2 233.5h0M799.5 231.2h0M806.0 214.9h0M810.2 224.3h0M802.8 206.9h0M799.3 231.1h0M797.8 237.4h0M794.2 216.5h0M792.5 212.3h0M781.2 213.1h0M814.6 230.8h0M798.1 240.9h0M797.0 217.2h0M795.1 236.0h0M805.5 222.2h0M799.3 220.0h0M805.6 232.9h0M807.1 232.7h0M805.3 218.6h0M793.2 216.0h0M796.2 248.0h0M804.6 237.3h0M797.6 235.7h0M802.3 237.9h0M790.4 241.9h0M804.9 217.7h0M805.2 215.5h0M808.7 237.6h0M798.4 221.0h0M802.8 224.7h0M811.2 218.0h0M798.1 222.5h0M811.2 240.6h0M813.2 209.9h0M818.7 195.2h0M803.1 226.4h0M802.6 251.7h0M811.6 238.9h0M796.4 251.1h0M794.1 233.8h0M814.4 234.4h0M805.3 234.5h0M794.5 234.6h0M802.4 237.5h0M800.6 237.1h0M794.3 237.2h0M811.8 214.7h0M796.1 212.3h0M800.7 203.6h0M800.7 218.0h0M804.3 224.9h0M819.2 233.1h0M804.0 231.5h0M810.1 229.7h0M797.9 237.9h0M807.7 202.7h0M795.9 229.4h0M814.5 238.0h0M803.5 229.2h0M808.3 226.0h0M810.3 216.0h0M807.5 214.6h0M797.7 226.4h0M811.5 199.7h0M810.9 216.3h0M802.5 245.3h0M797.1 199.9h0M815.0 224.5h0M800.5 232.8h0M793.6 214.8h0M790.4 225.6h0M796.0 224.6h0M805.8 217.0h0M798.4 229.0h0M788.3 244.1h0M816.2 225.0h0M807.7 232.5h0M790.3 219.0h0M803.1 220.0h0M814.6 229.4h0M804.3 211.3h0M790.7 219.4h0M811.9 211.1h0M800.1 230.4h0M796.4 216.4h0M797.7 212.9h0M781.4 208.2h0M810.4 208.5h0M809.1 202.5h0M798.9 210.8h0M793.3 231.7h0M795.9 226.0h0M779.9 207.9h0M811.1 232.4h0M797.4 224.2h0M802.9 225.5h0M801.2 226.3h0M803.8 241.8h0M798.2 200.1h0M805.9 244.9h0M817.1 227.8h0M805.7 254.7h0M789.2 230.5h0M804.7 215.7h0M805.6 226.5h0M794.2 223.9h0M819.8 226.1h0M799.1 240.6h0M804.1 233.1h0M806.9 224.1h0M807.9 216.3h0M805.8 219.4h0M817.1 238.0h0M814.8 234.2h0M812.2 219.2h0M788.0 243.5h0M804.1 227.5h0M782.1 254.2h0M803.1 229.0h0M798.2 235.6h0M803.6 190.6h0M794.6 232.2h0M805.5 209.3h0M805.2 222.8h0M779.2 233.7h0M794.2 215.0h0M803.6 202.1h0M806.6 237.1h0M797.5 239.1h0M812.1 207.5h0M795.0 225.7h0M803.8 212.1h0M794.6 224.7h0M806.4 227.4h0M810.9 234.0h0M806.1 223.4h0M792.7 249.1h0M794.1 220.1h0M804.7 215.5h0M805.4 219.6h0M802.8 246.7h0M802.9 227.1h0M811.4 230.9h0M807.4 211.6h0M796.7 237.8h0M798.8 222.1h0M817.9 222.6h0M811.5 229.0h0M802.1 229.6h0M800.7 214.3h0M810.1 225.6h0M814.0 229.0h0M799.1 200.7h0M801.0 234.7h0M799.6 227.9h0M785.9 231.6h0M800.3 210.8h0M813.3 231.9h0M802.0 224.0h0M799.1 223.8h0M806.1 223.9h0M804.8 242.7h0M804.5 233.4h0M810.9 226.0h0M806.5 229.5h0M798.2 219.2h0M825.7 224.7h0M808.0 221.5h0M795.8 204.1h0M801.7 246.6h0M803.9 215.7h0M808.0 231.4h0M803.4 211.3h0M801.0 239.4h0M801.6 245.4h0M805.3 223.5h0M802.7 242.3h0M788.7 219.0h0M792.6 228.2h0M807.5 227.3h0M795.4 230.2h0M787.9 237.3h0M798.0 243.9h0M797.6 243.6h0M811.5 229.8h0M784.0 224.1h0M807.0 217.6h0M811.1 217.6h0M797.4 252.9h0M801.9 217.4h0M800.4 237.7h0M792.6 224.7h0M804.9 224.9h0M806.1 213.3h0M813.0 234.6h0M814.2 238.5h0M811.3 222.7h0M807.3 217.3h0M806.4 214.9h0M810.8 239.6h0M795.9 222.3h0M797.9 206.8h0M801.1 207.4h0M793.6 214.6h0M803.9 234.5h0M806.7 218.3h0M807.4 243.1h0M790.4 246.9h0M808.3 224.6h0M801.6 219.6h0M804.1 257.2h0M787.6 226.4h0M800.5 209.5h0M802.1 223.3h0M815.8 224.5h0M809.8 222.9h0M797.3 233.7h0M795.6 225.9h0M802.9 221.1h0M802.7 250.5h0M796.2 214.4h0M813.4 214.2h0M790.2 216.5h0M805.3 234.7h0M798.2 230.1h0M791.5 235.9h0M805.3 223.6h0M800.8 240.2h0M802.3 219.8h0M810.5 212.1h0M794.3 235.6h0M795.7 209.6h0M789.9 225.9h0M800.6 214.3h0M804.1 210.7h0M786.4 226.1h0M783.8 220.9h0M806.1 208.3h0M783.7 228.8h0M805.6 247.3h0M799.0 223.9h0M792.7 236.3h0M812.3 221.5h0M804.0 240.6h0M801.9 243.5h0M828.9 198.4h0M830.0 196.5h0M830.0 197.0h0M828.7 197.7h0M829.9 196.7h0M830.2 196.9h0M828.3 198.6h0M828.0 198.3h0M830.1 196.7h0M830.4 196.0h0M828.8 197.6h0M828.2 198.1h0M829.9 196.5h0M828.8 198.0h0M818.4 218.8h0M819.0 218.3h0M818.8 218.7h0M820.5 216.9h0M820.3 217.4h0M819.4 218.0h0M818.9 218.7h0M819.3 218.1h0M819.0 218.4h0M818.3 218.7h0M820.6 217.4h0M820.9 216.9h0M820.1 217.5h0M818.0 218.9h0M817.3 201.4h0M817.9 200.7h0M818.1 200.3h0M817.1 202.5h0M818.4 200.2h0M818.5 199.8h0M818.4 199.8h0M817.6 201.0h0M817.4 201.2h0M818.1 200.4h0M816.9 202.0h0M815.9 202.8h0M817.1 201.4h0M816.5 202.5h0M818.3 204.8h0M817.6 205.2h0M818.8 204.5h0M817.9 205.4h0M815.9 206.3h0M818.0 205.2h0M817.1 205.4h0M817.7 205.3h0M819.0 204.4h0M817.4 205.5h0M817.3 206.0h0M819.0 204.4h0M817.7 205.4h0M817.6 205.5h0M821.9 206.5h0M821.5 205.8h0M822.1 205.1h0M822.4 204.9h0M821.7 206.0h0M821.2 205.9h0M821.1 207.6h0M822.5 204.2h0M822.6 204.1h0M820.6 207.4h0M821.9 206.7h0M822.6 203.5h0M822.1 205.6h0M821.3 206.2h0M827.4 217.2h0M826.7 218.1h0M828.4 217.4h0M826.6 218.2h0M829.1 217.2h0M826.4 217.8h0M828.9 217.8h0M828.4 217.3h0M828.4 217.3h0M829.7 217.2h0M829.6 217.3h0M825.9 218.3h0M828.6 217.5h0M826.0 217.9h0M822.5 216.8h0M819.5 218.5h0M820.9 217.7h0M820.9 217.3h0M818.6 219.1h0M819.2 218.2h0M820.2 218.0h0M822.3 217.2h0M822.6 216.7h0M819.8 218.4h0M818.2 218.8h0M818.7 218.5h0M819.3 218.7h0M819.8 218.1h0M818.4 199.4h0M815.8 203.1h0M816.4 201.0h0M818.0 200.0h0M816.8 200.5h0M817.2 200.3h0M818.4 198.7h0M818.1 199.5h0M816.6 201.1h0M816.0 202.3h0M816.6 201.1h0M816.8 200.9h0M816.3 201.4h0M817.8 199.6h0M824.2 217.7h0M825.3 217.4h0M822.1 218.6h0M822.4 218.3h0M821.6 218.2h0M822.1 218.1h0M825.4 217.7h0M820.4 218.4h0M824.9 217.7h0M826.2 217.1h0M824.7 217.7h0M825.0 217.8h0M823.9 218.1h0M821.0 218.5h0M818.1 212.8h0M819.2 212.2h0M815.8 215.0h0M818.1 213.6h0M816.4 214.4h0M816.3 215.2h0M817.9 213.6h0M817.7 213.5h0M817.7 213.6h0M816.7 215.4h0M818.1 213.2h0M817.8 213.8h0M818.4 213.1h0M818.7 212.8h0M827.1 213.3h0M828.5 209.2h0M828.2 209.7h0M827.3 212.3h0M827.2 212.3h0M827.4 211.9h0M827.8 210.6h0M827.9 211.4h0M827.6 211.7h0M827.9 210.2h0M827.1 212.7h0M827.6 212.4h0M828.8 208.7h0M827.6 212.2h0M823.1 199.0h0M823.1 198.6h0M825.1 198.7h0M823.7 198.7h0M823.5 199.1h0M826.7 198.0h0M826.9 198.1h0M825.5 198.1h0M822.5 198.9h0M823.0 198.4h0M826.8 197.9h0M828.4 197.3h0M827.2 197.8h0M828.5 197.4h0M821.8 198.5h0M819.1 201.9h0M819.4 202.8h0M820.2 201.1h0M820.9 200.1h0M818.8 202.9h0M819.2 201.9h0M817.7 203.7h0M818.5 203.2h0M820.9 199.2h0M819.7 201.6h0M820.3 200.7h0M821.0 199.4h0M820.8 200.1h0M817.0 205.9h0M819.3 204.8h0M815.4 206.0h0M815.4 205.9h0M815.9 205.9h0M817.5 205.1h0M817.2 205.7h0M816.5 205.4h0M819.3 204.6h0M817.4 205.5h0M818.5 205.2h0M817.7 205.2h0M816.9 205.3h0M816.3 205.2h0M828.5 217.8h0M827.8 218.8h0M828.2 218.4h0M828.1 218.5h0M827.5 218.9h0M827.0 219.7h0M826.3 220.2h0M828.2 218.3h0M828.4 217.9h0M826.1 220.9h0M828.3 218.7h0M826.2 220.9h0M828.4 217.8h0M826.5 220.1h0M827.1 203.0h0M828.0 202.9h0M827.5 203.0h0M827.4 202.9h0M825.4 203.3h0M825.5 203.4h0M828.3 203.0h0M825.9 203.2h0M827.4 203.1h0M828.4 202.6h0M827.1 203.3h0M828.1 202.8h0M827.8 202.9h0M825.5 203.6h0M814.9 200.3h0M815.3 198.9h0M814.2 201.2h0M812.8 202.7h0M815.3 198.6h0M814.1 201.3h0M812.9 202.8h0M815.0 199.8h0M814.8 200.6h0M815.6 198.5h0M814.0 201.1h0M815.5 198.9h0M815.2 199.5h0M814.4 200.9h0M825.7 201.3h0M827.5 199.1h0M825.8 200.5h0M826.2 200.7h0M827.0 198.8h0M825.6 201.3h0M828.2 196.9h0M827.8 197.7h0M827.6 198.5h0M826.8 200.3h0M825.9 202.0h0M826.4 200.6h0M826.4 200.2h0M827.6 197.8h0M829.7 204.3h0M826.7 205.6h0M831.4 204.0h0M830.8 204.5h0M826.8 205.4h0M831.9 204.0h0M832.8 203.4h0M828.3 205.1h0M827.8 205.3h0M828.7 205.1h0M826.7 205.2h0M827.7 204.8h0M829.4 204.9h0M831.9 203.9h0M820.2 211.5h0M821.9 210.7h0M821.3 211.4h0M822.6 211.0h0M824.1 210.7h0M823.3 210.7h0M821.2 211.1h0M820.5 211.5h0M822.3 210.9h0M820.5 211.2h0M823.2 210.8h0M821.8 211.1h0M820.0 211.3h0M822.1 210.7h0M827.4 211.2h0M827.6 210.9h0M829.6 209.3h0M826.7 212.0h0M828.3 210.7h0M830.2 208.9h0M829.0 209.9h0M827.0 212.2h0M829.3 209.4h0M827.2 211.6h0M830.2 208.6h0M827.1 212.3h0M829.3 209.5h0M829.7 209.4h0M813.3 201.5h0M813.4 201.4h0M813.4 201.1h0M814.0 199.8h0M814.2 199.7h0M813.9 200.2h0M814.5 198.8h0M814.5 199.4h0M813.0 201.5h0M813.9 200.0h0M814.7 198.8h0M814.3 200.0h0M813.6 200.4h0M813.7 200.4h0M828.7 204.4h0M828.8 204.8h0M830.2 202.9h0M828.2 205.9h0M829.1 204.4h0M828.2 205.4h0M828.0 204.7h0M830.5 202.2h0M828.4 205.4h0M828.6 204.4h0M828.1 204.8h0M829.5 203.6h0M829.0 204.1h0M831.2 201.2h0M815.0 214.6h0M817.4 213.2h0M813.5 215.7h0M817.3 213.2h0M815.6 213.9h0M816.3 213.8h0M816.1 214.0h0M813.5 215.8h0M815.9 213.8h0M816.4 213.9h0M813.5 215.9h0M817.8 213.0h0M814.5 215.1h0M815.6 214.4h0M813.2 202.8h0M813.3 202.8h0M812.9 202.7h0M814.2 201.1h0M814.3 201.3h0M814.0 201.0h0M813.8 201.8h0M813.1 203.7h0M814.0 201.4h0M813.1 203.1h0M814.1 201.3h0M813.2 202.3h0M812.4 203.2h0M812.7 203.1h0M819.0 200.2h0M817.7 200.4h0M819.5 199.8h0M819.0 200.1h0M818.1 201.0h0M818.7 200.4h0M818.1 200.6h0M818.8 200.1h0M816.7 201.3h0M816.8 201.8h0M818.1 200.5h0M818.1 200.6h0M819.0 199.8h0M818.6 200.2h0M876.6 289.0h0M877.5 282.4h0M880.0 289.3h0M878.5 286.5h0M873.7 285.6h0M874.6 284.5h0M885.3 278.4h0M879.8 280.5h0M875.2 284.9h0M880.3 282.5h0M871.8 285.7h0M877.1 282.0h0M879.8 279.6h0M872.2 288.0h0M888.5 283.3h0M883.4 279.2h0M878.5 278.4h0M877.7 290.8h0M881.5 282.7h0M878.6 284.7h0M876.9 280.4h0M888.6 278.0h0M875.8 283.4h0M874.2 286.4h0M878.3 280.7h0M876.4 281.9h0M888.1 281.5h0M875.7 285.6h0M878.3 281.0h0M884.6 281.4h0M872.5 285.9h0M876.4 282.9h0M872.3 284.9h0M872.8 290.1h0M876.4 280.1h0M874.0 286.2h0M880.5 285.2h0M880.6 286.0h0M882.0 282.6h0M879.2 289.1h0M880.5 282.6h0M879.6 284.3h0M881.7 282.4h0M870.7 289.4h0M872.8 288.8h0M867.0 356.8h0M866.6 352.2h0M866.0 346.8h0M864.8 356.8h0M861.8 353.1h0M866.6 354.9h0M859.2 349.4h0M860.8 357.0h0M867.1 352.9h0M869.6 357.8h0M864.8 351.1h0M864.2 353.7h0M864.2 351.3h0M864.4 348.6h0M866.1 352.2h0M866.6 353.0h0M862.9 348.7h0M862.5 356.3h0M867.6 350.8h0M869.1 349.3h0M870.8 350.1h0M868.3 358.3h0M865.5 355.8h0M862.3 352.2h0M867.6 356.9h0M860.6 353.8h0M868.2 355.0h0M867.3 359.7h0M868.6 350.6h0M870.5 353.6h0M869.0 350.4h0M860.4 350.1h0M856.4 347.0h0M869.8 359.6h0M866.2 349.9h0M860.8 353.0h0M865.9 353.1h0M868.9 356.9h0M866.8 349.4h0M870.1 352.7h0M865.8 352.9h0M864.5 359.3h0M870.2 358.3h0M866.5 346.2h0M869.4 361.1h0M861.8 354.7h0M861.5 352.4h0M865.6 348.5h0M864.4 352.3h0M868.6 355.5h0M870.3 358.5h0M867.8 350.3h0M863.2 355.0h0M863.7 350.5h0M862.1 353.9h0M870.9 356.6h0M865.5 354.4h0M858.5 350.5h0M863.5 352.7h0M860.6 351.7h0M858.4 350.5h0M869.3 357.1h0M858.7 352.6h0M865.3 350.7h0M873.5 357.6h0M863.8 351.3h0M867.7 350.7h0M873.9 354.9h0M862.6 351.5h0M867.5 352.0h0M862.5 349.5h0M862.1 350.6h0M862.5 348.5h0M867.4 356.6h0M865.7 358.7h0M867.4 355.3h0M867.1 350.9h0M867.5 362.9h0M856.0 350.3h0M865.1 348.2h0M873.0 354.3h0M894.0 375.9h0M864.5 347.6h0M890.5 374.0h0M899.0 372.1h0M890.5 369.6h0M869.8 353.1h0M892.4 374.0h0M888.3 377.5h0M874.6 358.4h0M870.7 352.9h0M864.7 350.5h0M879.3 368.8h0M887.0 364.4h0M866.3 349.2h0M892.4 374.3h0M867.4 351.0h0M872.1 359.7h0M870.0 354.9h0M862.0 348.4h0M888.8 375.1h0M894.6 375.9h0M877.7 356.7h0M892.1 374.3h0M893.9 376.5h0M869.0 351.1h0M886.1 367.8h0M870.4 353.3h0M892.9 376.6h0M867.4 352.7h0M875.1 362.4h0M878.5 362.9h0M888.4 370.7h0M893.4 375.8h0M880.8 364.3h0M876.1 359.7h0M886.3 370.7h0M865.7 353.0h0M868.8 350.4h0M863.9 350.6h0M891.0 368.8h0M868.2 354.1h0M882.5 369.4h0M881.9 362.1h0M864.3 351.8h0M867.6 352.2h0M887.2 370.9h0M867.5 351.9h0M874.2 359.8h0M887.5 366.8h0M872.9 357.0h0M872.6 352.0h0M871.1 352.7h0M880.2 365.4h0M888.0 365.5h0M890.3 376.1h0M889.4 374.5h0M884.4 364.7h0M882.4 363.4h0M881.7 362.8h0M745.3 444.5h0M744.8 444.3h0M746.7 441.9h0M746.5 442.2h0M746.9 441.8h0M746.2 442.4h0M746.0 442.0h0M745.5 444.5h0M745.7 443.4h0M746.8 441.5h0M747.2 442.0h0M745.3 443.0h0M746.8 442.0h0M744.7 443.9h0M746.6 442.3h0M746.5 442.5h0M740.8 470.7h0M741.6 471.0h0M741.9 470.9h0M741.6 471.0h0M742.3 471.6h0M827.8 586.1h0M827.5 584.3h0M831.1 584.6h0M830.8 586.3h0M830.0 583.2h0M825.7 588.1h0M827.5 584.3h0M827.9 585.1h0M825.3 587.4h0M827.8 586.5h0M831.0 585.9h0M826.5 586.1h0M827.5 585.3h0M828.3 585.2h0M826.3 582.1h0M828.9 583.8h0M828.8 584.0h0M827.4 586.8h0M825.5 584.1h0M828.4 585.4h0M826.9 584.6h0M825.3 587.7h0M826.5 585.8h0M826.0 584.0h0M826.7 583.5h0M826.5 585.9h0M827.3 582.6h0M829.6 586.2h0M828.2 585.6h0M828.3 583.4h0M848.2 568.2h0M847.1 568.3h0M847.2 567.5h0M848.1 567.5h0M844.8 568.6h0M845.9 568.0h0M848.8 568.0h0M847.5 567.4h0M845.4 567.3h0M847.5 567.7h0M683.0 542.5h0M682.0 542.6h0M685.5 543.2h0M686.0 541.9h0M682.7 541.9h0M683.1 540.0h0M685.1 541.5h0M684.9 543.5h0M699.8 111.3h0M700.8 112.0h0M700.7 112.1h0M701.2 111.7h0M701.2 111.2h0M842.8 492.4h0M842.7 492.1h0M844.3 491.0h0M842.5 492.9h0M845.2 494.0h0M987.6 310.0h0M977.3 302.5h0M987.6 302.1h0M985.6 312.5h0M982.6 304.8h0M982.5 308.0h0M988.6 307.7h0M979.5 300.5h0M991.0 316.9h0M991.3 318.0h0M981.0 308.0h0M973.8 311.4h0M987.3 301.7h0M978.2 302.5h0M986.9 304.2h0M982.4 301.4h0M985.8 306.0h0M984.0 298.3h0M992.0 299.9h0M985.3 306.8h0M983.0 303.6h0M990.8 299.9h0M991.8 297.2h0M980.2 307.6h0M993.8 320.4h0M973.9 301.2h0M987.8 311.2h0M986.0 315.9h0M987.8 302.5h0M976.4 301.8h0M988.0 307.6h0M966.9 305.2h0M984.4 303.8h0M984.1 296.8h0M987.0 294.8h0M979.5 315.8h0M979.1 299.8h0M987.3 308.4h0M998.2 302.3h0M987.6 298.8h0M1018.3 323.9h0M1010.2 329.5h0M1018.0 327.1h0M1016.1 323.0h0M1014.1 324.0h0M1023.3 315.0h0M1016.2 323.0h0M1007.8 317.7h0M1034.3 322.2h0M1012.6 323.1h0M1024.0 308.1h0M1004.6 320.3h0M1020.7 323.3h0M1012.3 318.0h0M1008.5 325.3h0M1003.1 308.6h0M1003.8 322.0h0M1025.8 316.1h0M1011.5 313.9h0M1015.1 320.5h0" stroke="#138A45" stroke-width="0.7" stroke-opacity="0.7" stroke-linecap="square" fill="none"/>
<g fill="#138A45" filter="url(#b1)">
<path d="M785.5 140.5Q790.5 141 791.3 147Q791 155 784.5 164Q778.5 174 773.5 186Q768.5 197 764.5 206Q761 214 758 220L755.5 219Q758.5 211 761 203Q765 190 768.8 176Q771.8 165 775.2 154Q778 143 785.5 140.5Z"/>
<path d="M770.5 151Q768.5 160 767.5 171L766.5 171Q767 160 769.5 151Z" opacity="0.6"/>
<path d="M827.5 213Q823 212.5 820 216Q818.5 222 819.5 228Q816 240 812 250Q808 260 806 268L808 268Q813 258 817 247Q821 236 824 226Q828.5 220 827.5 213Z" opacity="0.5"/>
</g>
<path d="M990.3 287L989.5 293L985.5 298L983 303" stroke="#138A45" stroke-width="1.4" fill="none" stroke-linecap="round"/>
<path d="M811.0 285.5h0M809.1 291.4h0M807.0 289.2h0M812.4 285.7h0M810.5 284.2h0M812.5 289.5h0M806.3 291.6h0M807.6 296.8h0M808.1 288.1h0M810.2 294.4h0M813.0 290.2h0M811.2 287.9h0M810.9 287.9h0M808.4 284.9h0M811.4 290.0h0M810.2 290.3h0M809.6 285.7h0M810.8 292.0h0M803.0 297.1h0M814.2 286.8h0M815.9 285.9h0M814.7 289.4h0M807.1 285.5h0M811.8 291.5h0M806.7 288.5h0M810.3 294.9h0M807.6 288.1h0M809.0 291.1h0M810.1 291.0h0M808.9 289.4h0M813.7 291.6h0M805.3 287.7h0M817.1 288.0h0M810.7 291.3h0M811.9 290.1h0M806.7 292.9h0M814.9 283.9h0M808.3 291.8h0M810.1 293.3h0M803.3 286.9h0M813.6 288.1h0M812.7 284.5h0M808.0 289.8h0M813.5 284.1h0M811.4 289.9h0M810.6 291.6h0M810.1 282.7h0M815.4 285.1h0M813.6 291.1h0M811.9 291.9h0M813.1 285.0h0M816.4 288.6h0M810.7 291.0h0M808.7 283.4h0M807.9 291.3h0M809.6 292.5h0M807.1 291.2h0M809.3 292.3h0M812.2 287.1h0M813.9 290.7h0M811.6 290.9h0M812.2 284.4h0M805.0 288.6h0M811.6 288.1h0M814.8 284.2h0M812.7 287.5h0M807.3 290.7h0M811.3 281.6h0M813.6 285.3h0M809.5 287.9h0M812.1 288.4h0M810.1 288.4h0M802.1 296.4h0M811.3 290.0h0M813.7 286.2h0M813.0 288.7h0M815.4 289.8h0M814.8 286.9h0M811.5 294.0h0M815.7 289.9h0M806.5 289.2h0M807.5 293.3h0M812.4 293.1h0M810.0 291.4h0M813.0 287.0h0M812.9 288.3h0M811.6 290.3h0M810.1 293.3h0M814.2 290.2h0M806.4 293.2h0M809.6 289.5h0M805.2 291.1h0M810.9 290.5h0M807.0 287.6h0M809.2 288.3h0M809.7 290.2h0M810.9 285.8h0M814.0 290.0h0M811.5 290.8h0M808.3 289.2h0M808.4 287.1h0M807.4 288.5h0M809.9 289.7h0M812.9 286.1h0M811.2 291.6h0M811.6 285.8h0M807.6 289.8h0M811.5 289.1h0M805.5 293.1h0M811.0 291.6h0M806.7 287.4h0M814.9 290.1h0M814.9 284.2h0M810.4 288.2h0M808.6 293.7h0M818.8 285.1h0M809.7 292.1h0M812.6 290.5h0M806.8 288.5h0M808.9 292.0h0M801.4 289.4h0M809.3 290.7h0M811.2 287.1h0M809.3 292.6h0M807.8 285.8h0M809.1 287.3h0M807.0 292.1h0M809.8 283.7h0M809.9 290.3h0M813.3 283.3h0M810.7 287.8h0M816.6 287.4h0M812.1 285.9h0M815.8 285.5h0M805.4 287.9h0M810.0 287.7h0M813.6 288.8h0M815.6 290.3h0M807.7 289.7h0M805.1 290.1h0M806.0 287.5h0M813.4 283.4h0M810.8 287.2h0M809.6 293.7h0M810.2 290.3h0M811.4 286.9h0M811.9 285.4h0M810.7 287.1h0M811.3 286.8h0M810.7 288.2h0M811.7 285.4h0M810.8 286.4h0M809.8 289.6h0M809.1 292.2h0M807.1 294.1h0M816.8 292.8h0M807.7 288.6h0M811.7 288.3h0M810.0 287.3h0M814.2 289.6h0M812.7 287.4h0M812.7 291.5h0M818.7 286.6h0M812.3 290.3h0M812.7 292.4h0M805.8 288.3h0M815.4 284.7h0M816.3 284.8h0M807.8 293.2h0M811.6 290.6h0M809.6 289.8h0M808.3 287.2h0M813.7 287.1h0M813.9 285.8h0M814.9 288.8h0M808.7 290.0h0M811.2 282.0h0M810.7 287.3h0M810.7 292.2h0M814.8 288.2h0M810.9 284.0h0M809.5 285.7h0M814.3 288.4h0M812.9 289.9h0M806.1 294.9h0M807.5 278.9h0M812.8 289.8h0M811.5 286.2h0M809.3 291.2h0M806.4 285.9h0M811.3 290.6h0M813.0 287.0h0M809.8 287.0h0M813.6 289.1h0M811.0 290.6h0M808.3 287.5h0M814.1 288.4h0M808.2 291.8h0M809.0 291.9h0M807.2 284.9h0M807.3 285.5h0M807.8 290.7h0M805.6 287.4h0M808.0 291.9h0M810.8 284.8h0M811.2 288.4h0M805.6 289.9h0M808.2 293.8h0M802.0 294.8h0M807.6 288.1h0M808.4 289.5h0M813.8 288.3h0M811.1 291.1h0M809.1 295.0h0M810.3 286.4h0M806.9 294.4h0M812.9 294.8h0M811.4 283.8h0M809.2 287.8h0M811.3 287.3h0M809.9 289.9h0M815.7 285.0h0M813.5 285.2h0M810.0 287.2h0M809.4 288.2h0M807.7 285.1h0M812.6 290.8h0M806.9 291.0h0M811.7 287.9h0M812.9 288.0h0M810.4 290.5h0M816.9 284.5h0M813.3 288.1h0M809.7 288.6h0M806.7 296.6h0M810.2 291.2h0M806.7 290.5h0M811.7 288.9h0M811.4 283.4h0M809.5 292.4h0M807.2 295.0h0M811.0 286.8h0M808.6 290.9h0M809.2 291.7h0M808.0 290.9h0M811.8 288.3h0M812.4 287.0h0M812.3 284.7h0M812.3 287.0h0M807.9 298.3h0M807.6 292.0h0M808.0 289.2h0M809.3 292.7h0M804.1 290.9h0M809.1 288.7h0M802.3 294.3h0M809.9 289.6h0M806.3 293.1h0M806.9 291.9h0M806.9 284.9h0M805.4 289.6h0M806.3 295.9h0M807.7 291.7h0M806.1 287.7h0M812.2 287.7h0M805.9 291.2h0M809.5 285.4h0M811.5 287.3h0M815.8 289.6h0M808.2 293.3h0M809.1 286.3h0M811.2 284.3h0M810.2 288.2h0M803.6 294.4h0M811.1 289.4h0M806.6 290.4h0M813.0 288.9h0M813.5 289.9h0M806.9 290.3h0M810.3 290.3h0M813.2 289.7h0M811.1 288.5h0M807.5 291.5h0M805.7 289.4h0M809.3 291.0h0M812.3 283.8h0M810.3 294.7h0M817.3 283.2h0M814.4 288.9h0M811.3 286.3h0M811.4 287.3h0M811.0 292.8h0M809.3 289.2h0M810.1 291.5h0M809.0 289.7h0M810.6 289.1h0M810.7 289.2h0M808.5 286.8h0M812.2 286.0h0M808.0 287.4h0M807.8 289.1h0M809.0 287.6h0M806.5 285.3h0M815.0 289.4h0M805.5 288.6h0M812.8 286.2h0M805.1 297.5h0M807.5 294.0h0M815.9 285.1h0M808.0 288.3h0M806.3 292.8h0M807.0 287.9h0M811.4 287.8h0M809.3 291.6h0M806.0 292.9h0M807.5 289.8h0M809.6 292.3h0M811.6 283.6h0M812.5 288.5h0M811.9 291.4h0M812.1 281.4h0M811.4 289.9h0M807.5 287.0h0M807.0 286.6h0M811.4 290.4h0M813.7 284.0h0M811.5 288.5h0M811.7 291.7h0M809.0 291.4h0M815.0 286.9h0M814.0 270.5h0M803.7 293.2h0M813.7 267.1h0M817.9 265.0h0M818.0 274.2h0M817.3 271.7h0M820.8 263.1h0M810.0 281.4h0M821.8 258.5h0M817.1 274.3h0M820.0 269.6h0M815.9 271.8h0M808.7 286.9h0M821.6 259.9h0M817.9 279.5h0M823.7 262.0h0M822.9 257.1h0M815.6 266.5h0M808.6 290.5h0M813.5 276.2h0M807.6 288.9h0M808.7 261.5h0M818.2 277.9h0M809.8 280.1h0M810.7 285.5h0M811.4 282.3h0M815.3 275.8h0M809.6 279.8h0M809.2 285.0h0M817.4 263.5h0M816.4 280.1h0M815.7 267.5h0M813.2 268.8h0M808.8 280.4h0M820.9 266.4h0M814.2 279.6h0M810.7 269.6h0M820.1 255.9h0M817.1 268.0h0M818.8 256.3h0M813.4 281.3h0M818.1 269.2h0M821.8 270.7h0M804.9 294.1h0M819.3 267.8h0M818.1 283.7h0M810.3 289.8h0M819.9 264.8h0M813.9 285.8h0M810.6 294.7h0M812.3 280.5h0M814.5 282.2h0M814.3 288.6h0M812.4 280.0h0M816.6 268.6h0M810.1 291.7h0M818.4 270.8h0M822.3 263.3h0M809.8 288.1h0M816.4 269.8h0M816.9 269.4h0M822.1 259.3h0M809.4 276.4h0M808.3 294.2h0M810.5 297.2h0M807.4 289.7h0M817.2 261.2h0M822.3 268.6h0M809.6 292.1h0M810.9 288.0h0M815.3 268.0h0M814.9 266.9h0M810.7 290.3h0M813.8 284.6h0M815.7 270.4h0M818.6 272.5h0M816.5 277.2h0M819.4 266.3h0M812.7 275.6h0M822.0 255.6h0M812.7 273.2h0M816.1 256.6h0M806.2 282.2h0M822.3 260.0h0M824.7 257.2h0M820.7 257.0h0M820.9 260.1h0M813.9 288.6h0M810.4 287.6h0M815.4 281.0h0M815.5 283.5h0M804.7 293.1h0M819.8 270.5h0M807.5 283.7h0M819.9 267.8h0M806.9 288.3h0M824.1 261.0h0M816.2 264.5h0M814.4 271.7h0M810.0 292.4h0M816.2 269.4h0M813.3 277.2h0M821.1 268.7h0M809.0 293.4h0M816.1 269.6h0M812.1 286.0h0M823.7 260.8h0M810.4 285.4h0M822.6 261.0h0M810.5 288.4h0M810.4 288.3h0M818.8 272.2h0M816.7 281.1h0M809.9 287.1h0M816.8 282.2h0M813.1 284.3h0M820.3 259.4h0M821.3 259.9h0M823.2 263.6h0M825.6 258.1h0M816.4 284.5h0M814.5 275.4h0M816.6 269.2h0M804.6 292.3h0M810.1 280.1h0M806.7 290.5h0M807.6 296.3h0M809.7 283.4h0M823.7 259.7h0M808.9 286.1h0M805.9 294.1h0M815.2 282.9h0M822.9 262.3h0M812.6 279.5h0M819.2 274.4h0M814.6 269.1h0M812.4 282.9h0M818.5 258.0h0M823.0 263.8h0M821.3 264.7h0M813.9 275.7h0M811.7 280.7h0M820.9 270.4h0M820.9 262.2h0M815.3 269.2h0M817.1 258.8h0M819.8 273.0h0M814.2 286.6h0M821.5 267.8h0M819.0 271.0h0M812.1 283.2h0M816.8 269.8h0M817.8 262.8h0M823.2 261.0h0M821.7 258.7h0M817.2 274.3h0M817.3 270.3h0M815.3 275.2h0M809.2 294.2h0M807.5 293.9h0M828.7 263.6h0M811.1 292.5h0M812.2 280.4h0M819.0 266.9h0M825.4 261.1h0M811.8 295.9h0M818.0 258.1h0M817.5 269.1h0M806.5 285.0h0M818.5 269.4h0M817.3 268.6h0M812.9 281.7h0M817.0 277.4h0M812.3 273.9h0M815.1 270.9h0M814.4 278.5h0M814.2 273.8h0M812.8 277.1h0M806.2 288.3h0M806.9 282.3h0M816.3 271.5h0M814.2 287.3h0M824.2 266.1h0M816.0 288.7h0M824.6 260.4h0M808.5 289.5h0M806.7 285.1h0M814.8 278.2h0M814.2 273.4h0M817.3 267.1h0M812.0 273.5h0M810.3 278.9h0M821.0 267.0h0M808.5 287.4h0M819.7 262.8h0M809.8 290.2h0M811.6 290.6h0M809.2 281.8h0M817.0 282.8h0M814.5 276.0h0M793.2 326.4h0M799.2 314.2h0M794.2 338.5h0M793.0 312.0h0M784.7 333.4h0M791.2 340.5h0M800.7 309.6h0M795.8 313.0h0M789.1 315.9h0M796.1 330.3h0M789.8 335.5h0M800.0 319.3h0M792.2 336.0h0M793.1 315.5h0M796.9 307.9h0M795.2 342.6h0M796.1 323.8h0M800.0 305.2h0M797.9 301.2h0M797.0 342.5h0M796.5 317.9h0M784.8 338.8h0M792.5 312.0h0M790.2 334.4h0M782.6 342.7h0M789.7 333.2h0M786.0 343.5h0M790.7 309.3h0M800.6 310.4h0M793.8 312.6h0M804.9 304.6h0M800.7 308.0h0M798.4 305.6h0M794.0 324.3h0M790.6 315.1h0M796.6 311.1h0M786.0 324.6h0M799.1 316.3h0M797.5 310.1h0M793.6 341.5h0M803.0 339.6h0M799.3 309.1h0M791.1 335.7h0M794.0 342.5h0M796.4 332.2h0M797.9 322.9h0M798.3 328.4h0M793.8 340.6h0M803.4 309.1h0M799.2 301.0h0M807.1 307.3h0M801.4 342.7h0M799.5 307.1h0M788.4 341.4h0M793.4 338.2h0M802.1 318.8h0M796.5 321.1h0M803.2 309.3h0M789.3 338.7h0M786.5 325.2h0M793.4 322.9h0M798.4 330.3h0M792.1 323.6h0M790.7 316.9h0M802.7 302.9h0M791.9 320.6h0M798.3 314.8h0M788.4 341.4h0M797.7 300.9h0M802.1 304.2h0M778.0 408.8h0M786.9 406.9h0M783.4 404.6h0M783.9 403.4h0M781.9 405.1h0M783.7 403.7h0M780.7 407.2h0M781.2 402.6h0M782.4 403.1h0M776.8 401.4h0M774.1 400.6h0M785.2 403.5h0M772.5 402.6h0M785.8 400.9h0M784.7 401.6h0M780.3 403.0h0M784.1 402.4h0M780.9 402.0h0M784.5 404.3h0M777.6 402.1h0M780.3 403.2h0M781.1 404.4h0M781.6 406.0h0M779.1 404.5h0M785.8 405.3h0M783.8 403.4h0M778.8 400.6h0M779.7 402.3h0M785.9 401.6h0M783.4 404.3h0M787.6 401.9h0M786.0 401.1h0M783.8 406.8h0M780.2 404.6h0M784.9 402.3h0M778.8 400.9h0M781.8 401.9h0M787.1 404.0h0M785.3 404.1h0M788.4 406.7h0M781.2 404.1h0M775.7 404.6h0M778.9 405.6h0M784.3 402.4h0M784.9 401.6h0M930.1 348.3h0M930.8 349.9h0M934.7 352.1h0M931.8 352.4h0M936.9 347.8h0M931.7 350.6h0M938.5 352.0h0M933.9 350.1h0M934.5 352.8h0M932.5 349.5h0M936.1 348.8h0M931.9 352.3h0M929.9 350.7h0M928.6 353.3h0M932.8 351.7h0M931.1 353.7h0M937.5 351.1h0M934.6 348.6h0M933.8 352.8h0M931.3 350.6h0M931.7 351.6h0M933.6 348.6h0M935.3 350.4h0M932.8 350.4h0M931.0 351.2h0M929.0 349.0h0M932.2 352.6h0M931.7 350.6h0M932.3 351.0h0M931.5 353.1h0M933.9 351.1h0M934.1 352.0h0M936.6 350.8h0M933.4 351.4h0M931.1 350.1h0M932.5 351.5h0M932.8 347.6h0M929.1 351.2h0M931.5 350.9h0M931.3 352.4h0M934.3 352.0h0M929.1 352.5h0M930.8 353.6h0M931.6 350.8h0M927.0 351.3h0M930.0 350.1h0M935.5 354.1h0M931.1 349.2h0M926.0 350.1h0M934.0 349.1h0M929.7 352.9h0M936.5 352.6h0M929.6 349.9h0M929.4 350.5h0M932.0 351.6h0M935.1 351.8h0M935.6 352.3h0M931.9 350.6h0M930.7 353.9h0M932.6 349.8h0M930.3 350.5h0M932.9 350.8h0M933.2 353.3h0M930.8 351.1h0M937.3 349.1h0M929.7 352.5h0M929.5 351.6h0M930.1 352.1h0M938.8 350.0h0M930.0 351.1h0M929.6 349.3h0M930.4 350.6h0M938.1 352.1h0M936.5 352.3h0M932.1 349.4h0M935.2 349.8h0M937.3 350.6h0M930.6 351.7h0M934.1 351.8h0M931.4 351.5h0M928.5 351.6h0M928.2 351.4h0M934.2 352.5h0M934.6 349.7h0M932.1 352.2h0M935.7 350.3h0M934.6 353.1h0M930.8 351.7h0M934.7 350.9h0M934.1 353.1h0M934.6 351.3h0M932.8 350.6h0M929.3 349.6h0M928.3 350.7h0M930.0 348.7h0M936.7 350.7h0M936.1 352.9h0M937.9 351.0h0M925.5 351.7h0M932.9 348.9h0M925.0 352.5h0M936.5 352.9h0M937.7 352.7h0M934.8 351.6h0M936.4 351.8h0M933.6 352.0h0M931.6 349.9h0M939.5 354.2h0M937.2 350.0h0M932.0 352.5h0M934.8 350.9h0M938.9 351.2h0M933.3 351.1h0M931.2 352.4h0M927.8 351.2h0M935.6 353.4h0M935.3 349.5h0M935.9 352.2h0M933.6 350.3h0M929.3 350.6h0M933.9 355.0h0M934.9 351.3h0M927.8 349.4h0M931.3 350.9h0M932.8 352.6h0M938.2 352.9h0M931.1 350.5h0M930.6 349.0h0M929.0 351.7h0M930.6 352.0h0M932.3 350.4h0M933.4 351.2h0M942.4 350.1h0M934.2 349.2h0M931.9 353.1h0M935.1 353.7h0M927.8 349.9h0M933.7 349.6h0M931.0 349.2h0M935.4 350.5h0M932.9 349.2h0M931.9 353.5h0M935.6 351.1h0M930.4 350.7h0M933.4 353.8h0M933.8 350.7h0M932.6 349.6h0M933.9 349.6h0M930.8 350.5h0M940.2 353.5h0M935.8 356.0h0M936.3 355.5h0M936.0 355.8h0M938.1 354.1h0M937.6 354.2h0M937.1 351.8h0M936.8 352.4h0M935.2 354.4h0M938.9 355.0h0M937.5 355.5h0M935.8 351.5h0M934.9 350.2h0M936.6 354.0h0M936.3 355.3h0M938.5 353.4h0M936.5 355.4h0M937.0 353.7h0M937.7 352.9h0M936.2 350.2h0M936.3 353.8h0M935.6 352.6h0M936.7 356.0h0M939.2 352.9h0M936.9 355.5h0M937.7 353.0h0M935.3 354.2h0M935.4 354.3h0M935.2 354.4h0M937.4 354.4h0M936.7 356.0h0M937.1 355.1h0M934.2 351.7h0M937.9 352.5h0M935.9 356.5h0M935.0 349.5h0M935.0 355.9h0M937.3 355.5h0M938.8 356.9h0M933.8 350.0h0M935.9 350.0h0M896.1 459.7h0M890.6 453.3h0M899.8 462.4h0M898.3 462.7h0M896.3 459.0h0M897.4 458.8h0M900.3 462.1h0M898.3 460.8h0M898.3 461.8h0M896.4 458.6h0M899.0 463.2h0M893.2 457.3h0M896.1 458.1h0M897.1 460.1h0M890.8 452.5h0M890.8 453.9h0M899.8 461.2h0M894.1 457.3h0M895.1 457.4h0M894.3 456.9h0M895.0 457.8h0M894.7 456.8h0M892.0 453.7h0M899.5 464.4h0M890.8 453.3h0M899.2 462.6h0M892.2 455.6h0M898.8 461.1h0M894.9 458.2h0M898.9 461.8h0M900.7 462.2h0M895.2 457.2h0M896.1 458.9h0M891.0 452.7h0M898.5 460.5h0M897.8 461.2h0M896.7 459.5h0M890.8 452.6h0M898.6 460.1h0M895.8 458.9h0M898.9 463.0h0M891.4 453.8h0M896.5 459.8h0M894.2 456.6h0M898.7 462.8h0M894.1 457.4h0M894.8 457.6h0M890.9 453.7h0M899.8 462.8h0M890.3 453.5h0M892.7 455.9h0M890.7 452.8h0M895.2 458.9h0M899.9 463.2h0M892.4 454.6h0M893.0 455.6h0M899.8 462.4h0M898.3 461.8h0M893.3 455.7h0M899.7 462.9h0M911.7 346.6h0M904.4 348.9h0M903.2 347.3h0M909.6 349.1h0M904.4 348.3h0M904.4 347.6h0M907.3 348.5h0M905.7 347.5h0M906.0 347.8h0M903.8 348.2h0M946.3 325.3h0M947.4 325.8h0M945.7 325.4h0M945.1 325.2h0M946.0 325.6h0M945.5 326.8h0M945.1 326.6h0M944.9 326.0h0M865.3 336.1h0M872.0 334.5h0M867.5 336.2h0M870.7 335.7h0M869.6 336.3h0M871.1 335.2h0M872.4 335.6h0M870.5 336.1h0M938.7 371.5h0M939.9 370.0h0M941.2 368.2h0M938.9 371.0h0M939.0 367.3h0M939.7 370.5h0M937.5 370.4h0M938.3 369.1h0M939.3 372.0h0M939.5 371.3h0M874.8 427.6h0M874.5 429.1h0M875.1 426.3h0M876.1 428.3h0M875.6 427.7h0M875.4 427.6h0M737.1 454.9h0M737.5 454.9h0M738.5 455.1h0M737.0 454.2h0M736.7 455.0h0M700.7 432.6h0M701.4 433.0h0M702.7 431.6h0M702.4 433.9h0M702.9 433.0h0M685.3 376.6h0M683.2 376.8h0M683.7 376.6h0M682.6 377.8h0M682.2 377.3h0M682.0 377.3h0M684.3 377.4h0M685.7 376.5h0M685.7 376.4h0M683.9 377.2h0M666.4 414.8h0M666.7 413.3h0M666.7 413.3h0M667.6 412.3h0M666.4 415.0h0M666.9 413.3h0M735.8 452.4h0M736.0 452.6h0M736.4 452.5h0M736.0 453.1h0M701.3 434.2h0M701.3 433.9h0M702.3 434.8h0M702.2 434.6h0M815.2 209.8h0M817.0 211.7h0M813.9 195.0h0M807.6 200.1h0M813.7 200.7h0M808.0 202.0h0M806.2 204.9h0M814.1 207.6h0M823.2 204.1h0M825.0 202.3h0M811.4 202.2h0M809.2 210.8h0M802.8 206.7h0M817.0 205.8h0M814.1 208.0h0M822.5 203.3h0M815.7 210.5h0M802.8 209.4h0M902.0 466.1h0M938.9 476.7h0M920.8 465.9h0M907.1 470.6h0M933.7 480.2h0M925.3 471.6h0M941.1 465.5h0M918.1 472.3h0" stroke="#F2A41F" stroke-width="0.75" stroke-opacity="0.8" stroke-linecap="square" fill="none"/>
<path d="M761.9 353.8h0M831.7 371.2h0M762.4 374.1h0M837.8 364.8h0M784.1 352.7h0M854.3 348.7h0M852.8 349.4h0M778.6 354.8h0M838.2 333.4h0M839.5 372.3h0M782.0 322.3h0M812.2 364.6h0M782.7 372.9h0M830.4 348.3h0M855.2 328.8h0M787.5 368.1h0M853.3 342.5h0M820.2 386.2h0M774.5 358.4h0M794.2 364.8h0M800.2 353.2h0M771.4 323.9h0M841.5 375.1h0M849.7 347.6h0M836.6 322.4h0M833.2 355.7h0M817.9 393.1h0M772.2 371.0h0M786.7 329.5h0M792.8 345.6h0M765.0 385.7h0M775.8 367.1h0M829.9 335.8h0M765.8 354.0h0M800.1 391.2h0M764.8 336.3h0M762.2 386.6h0M790.1 370.3h0M798.1 366.6h0M839.8 336.8h0M852.0 337.7h0M794.0 358.4h0M859.5 327.2h0M818.7 363.9h0M840.1 368.7h0M828.0 339.5h0M778.7 345.2h0M833.5 354.6h0M784.0 398.9h0M832.0 386.4h0M852.1 327.7h0M823.4 386.6h0M847.4 343.9h0M818.3 376.5h0M845.7 375.1h0M772.0 327.1h0M833.8 348.3h0M827.4 345.4h0M786.4 342.2h0M858.8 324.2h0M773.1 368.8h0M770.9 384.2h0M779.7 377.1h0M813.5 388.1h0M825.8 351.0h0M779.9 352.5h0M827.2 348.8h0M805.2 355.8h0M806.6 386.3h0M825.3 359.0h0M780.9 338.8h0M791.0 346.9h0M808.7 375.9h0M773.1 322.2h0M792.3 340.4h0M816.1 391.0h0M857.6 338.4h0M795.8 322.7h0M770.6 346.6h0M799.1 363.9h0M796.8 328.3h0M764.7 391.5h0M796.0 382.0h0M841.0 340.6h0M805.1 343.9h0M808.7 365.2h0M806.9 331.2h0M818.0 351.3h0M773.5 345.4h0M830.8 343.2h0M848.8 370.5h0M761.2 371.2h0M815.0 368.0h0M795.0 350.2h0M815.7 368.3h0M819.9 331.8h0M780.9 323.0h0M831.5 345.8h0M791.5 366.0h0M837.7 346.5h0M836.9 351.7h0M801.9 345.2h0M822.7 356.0h0M847.0 335.3h0M780.6 357.9h0M781.9 355.5h0M786.6 344.7h0M846.7 374.7h0M815.5 361.6h0M800.9 330.5h0M807.0 341.5h0M824.9 329.7h0M855.4 342.3h0M765.4 353.6h0M851.1 360.1h0M802.2 353.8h0M797.4 346.5h0M798.6 394.2h0M849.6 338.9h0M770.6 341.1h0M859.9 388.6h0M829.0 370.1h0M764.8 376.8h0M850.6 334.1h0M795.7 388.8h0M840.3 370.2h0M804.0 363.4h0M835.4 389.8h0M768.8 369.3h0M823.7 333.6h0M803.8 332.4h0M820.5 345.3h0M842.6 335.2h0M789.4 336.6h0M852.6 360.8h0M788.4 361.3h0M771.9 372.5h0M827.9 380.4h0M783.7 339.5h0M838.1 322.6h0M846.3 329.4h0M802.2 367.0h0M766.6 385.0h0M778.3 362.1h0M835.2 320.3h0M854.2 382.4h0M807.2 389.1h0M801.2 339.2h0M830.0 355.1h0M796.4 340.3h0M781.2 374.7h0M771.8 395.1h0M818.0 378.5h0M781.7 396.4h0M805.2 374.6h0M826.5 351.5h0M818.2 392.7h0M803.5 334.2h0M761.5 324.1h0M805.5 332.7h0M781.1 354.7h0M848.9 391.9h0M834.3 388.1h0M821.1 342.3h0M822.3 341.3h0M790.7 379.2h0M818.2 353.5h0M802.5 335.2h0M842.4 335.8h0M842.1 392.7h0M842.5 339.9h0M841.6 334.5h0M799.9 349.9h0M794.5 396.9h0M789.7 356.5h0M804.4 334.2h0M773.0 384.9h0M851.1 348.1h0M786.7 338.1h0M806.5 323.0h0M782.9 376.0h0M765.2 364.6h0M776.5 373.8h0M803.3 340.7h0M827.6 351.0h0M786.0 373.0h0M767.1 390.4h0M825.6 359.7h0M847.6 327.3h0M823.4 352.6h0M811.2 343.6h0M833.5 360.4h0M839.7 335.8h0M775.7 375.3h0M770.8 335.6h0M860.0 342.8h0M802.4 394.3h0M770.3 355.3h0M805.6 389.0h0M804.8 354.5h0M792.1 377.4h0M803.8 383.2h0M801.8 349.7h0M790.8 371.9h0M856.2 352.7h0M856.9 322.5h0M764.4 361.8h0M803.5 390.4h0M788.4 371.2h0M760.7 374.9h0M808.9 390.5h0M795.9 349.5h0M774.8 392.8h0M850.2 376.7h0M807.4 379.6h0M794.5 360.7h0M783.3 375.6h0M808.3 324.2h0M850.7 356.4h0M799.3 366.8h0M796.8 332.4h0M775.1 355.9h0M836.7 361.2h0M774.7 380.6h0M798.8 327.4h0M807.3 353.9h0M793.3 340.7h0M806.8 342.6h0M830.2 368.3h0M784.9 351.3h0M766.5 347.5h0M798.2 354.2h0M779.9 350.2h0M794.4 393.0h0M793.6 357.3h0M769.8 322.9h0M835.5 388.7h0M789.9 351.6h0M764.9 349.2h0M784.0 372.5h0M851.2 364.4h0M838.7 387.1h0M810.9 347.8h0M838.8 391.7h0M859.7 325.9h0M810.9 340.1h0M767.1 351.4h0M766.5 343.4h0M848.8 326.1h0M832.6 343.0h0M840.9 370.7h0M853.8 342.6h0M761.7 328.3h0M836.6 350.9h0M851.0 390.9h0M807.1 376.1h0M777.5 323.0h0M808.8 352.5h0M805.3 329.6h0M800.9 324.4h0M779.5 375.2h0M780.5 381.4h0M782.8 395.5h0M783.3 381.9h0M778.9 386.8h0M781.7 387.5h0M778.7 395.4h0M779.9 389.0h0M782.3 389.9h0M782.7 384.3h0M780.8 376.4h0M775.6 399.0h0M781.3 387.6h0M784.5 396.7h0M782.2 373.8h0M785.3 376.6h0M781.3 394.6h0M781.2 385.0h0M783.8 372.5h0M782.9 391.2h0M783.1 387.9h0M781.6 377.8h0M779.7 397.2h0M782.8 375.6h0M783.4 376.4h0M785.4 391.0h0M786.4 394.4h0M782.7 385.1h0M780.7 380.6h0M785.6 398.6h0M782.1 378.7h0M780.8 393.8h0M779.4 395.4h0M779.5 390.4h0M782.0 384.5h0M777.8 391.0h0M782.5 373.6h0M784.4 397.4h0M782.1 392.2h0M782.8 372.5h0M778.7 396.6h0M781.3 389.0h0M781.1 389.5h0M784.7 383.1h0M782.2 393.2h0M779.8 398.7h0M785.7 391.7h0M780.1 389.8h0M780.8 383.6h0M783.8 376.3h0M781.9 373.2h0M780.8 377.3h0M780.8 378.6h0M778.4 399.4h0M784.1 375.7h0M782.3 396.0h0M783.7 397.1h0M786.1 389.5h0M781.6 372.3h0M781.6 382.1h0" stroke="#F2A41F" stroke-width="0.65" stroke-opacity="0.55" stroke-linecap="square" fill="none"/>
<path d="M784.6 209.5H790.4L787.5 215.0Z" fill="#35309A"/>
<circle cx="804.7" cy="212.1" r="3.05" fill="#F8D62B"/>
<circle cx="816.75" cy="225.5" r="3.05" fill="#E8392E"/>
<circle cx="813.5" cy="215.5" r="3.05" fill="#35309A"/>
<circle cx="817" cy="215.8" r="3.05" fill="#35309A"/>
<circle cx="805" cy="220.3" r="3.05" fill="#35309A"/>
<circle cx="814.8" cy="222.7" r="3.05" fill="#35309A"/>
<circle cx="809" cy="231.4" r="3.05" fill="#E8392E"/>
<circle cx="803.1" cy="238.5" r="3.05" fill="#F26C2E"/>
<circle cx="805.7" cy="239.2" r="3.05" fill="#35309A"/>
<circle cx="803.5" cy="235.9" r="3.05" fill="#35309A"/>
<circle cx="799.2" cy="248" r="3.05" fill="#F26C2E"/>
<circle cx="801.2" cy="248.5" r="3.05" fill="#E8392E"/>
<circle cx="799.6" cy="244.1" r="3.05" fill="#35309A"/>
<circle cx="797.5" cy="253" r="3.05" fill="#F26C2E"/>
<circle cx="804.9" cy="264.2" r="3.05" fill="#E8392E"/>
<circle cx="807.3" cy="264.2" r="3.05" fill="#35309A"/>
<path d="M798.8 260.8H804.6L801.7 266.3Z" fill="#F4B223"/>
<path d="M778.5 268.6H784.3L781.4 274.1Z" fill="#35309A"/>
<circle cx="789.7" cy="270.5" r="3.05" fill="#35309A"/>
<path d="M792.3 285.2H798.1L795.2 290.7Z" fill="#F4B223"/>
<path d="M760.3 288.8H766.1L763.2 294.3Z" fill="#35309A"/>
<circle cx="784" cy="295" r="3.05" fill="#E8392E"/>
<path d="M793.3 297.3H799.1L796.2 302.8Z" fill="#35309A"/>
<path d="M766.3 305.9H772.1L769.2 311.4Z" fill="#35309A"/>
<path d="M825.5 304.6H831.3L828.4 310.1Z" fill="#35309A"/>
<path d="M803.8 315.5L808.3 312.8L811.0 317.3L806.5 320.0Z" fill="#35309A"/>
<circle cx="838.75" cy="365.6" r="3.05" fill="#F26C2E"/>
<circle cx="873.1" cy="359.1" r="3.05" fill="#E8392E"/>
<circle cx="917.3" cy="391.8" r="3.05" fill="#35309A"/>
<circle cx="781.9" cy="401" r="3.05" fill="#E8392E"/></g>
<g id="heat" shape-rendering="crispEdges">
<rect x="48" y="108" width="12" height="14" fill="#F45F33"/>
<rect x="60" y="108" width="13" height="14" fill="#5B6F3F"/>
<rect x="73" y="108" width="12" height="14" fill="#F45F33"/>
<rect x="85" y="108" width="24" height="14" fill="#5B6F3F"/>
<rect x="109" y="108" width="13" height="14" fill="#3F7247"/>
<rect x="122" y="108" width="12" height="14" fill="#E8D8B8"/>
<rect x="134" y="108" width="12" height="14" fill="#1B754D"/>
<rect x="146" y="108" width="12" height="14" fill="#F45F33"/>
<rect x="158" y="108" width="12" height="14" fill="#876737"/>
<rect x="170" y="108" width="13" height="14" fill="#0F774D"/>
<rect x="183" y="108" width="12" height="14" fill="#E8D8B8"/>
<rect x="195" y="108" width="12" height="14" fill="#3F7247"/>
<rect x="207" y="108" width="12" height="14" fill="#F45F33"/>
<rect x="219" y="108" width="12" height="14" fill="#5B6F3F"/>
<rect x="231" y="108" width="13" height="14" fill="#1B754D"/>
<rect x="244" y="108" width="12" height="14" fill="#876737"/>
<rect x="256" y="108" width="12" height="14" fill="#5B6F3F"/>
<rect x="268" y="108" width="12" height="14" fill="#E8D8B8"/>
<rect x="280" y="108" width="25" height="14" fill="#F45F33"/>
<rect x="305" y="108" width="12" height="14" fill="#0F774D"/>
<rect x="317" y="108" width="24" height="14" fill="#F45F33"/>
<rect x="341" y="108" width="13" height="14" fill="#876737"/>
<rect x="354" y="108" width="12" height="14" fill="#5B6F3F"/>
<rect x="366" y="108" width="12" height="14" fill="#1B754D"/>
<rect x="378" y="108" width="12" height="14" fill="#0F774D"/>
<rect x="390" y="108" width="13" height="14" fill="#1B754D"/>
<rect x="403" y="108" width="12" height="14" fill="#E8D8B8"/>
<rect x="415" y="108" width="12" height="14" fill="#1B754D"/>
<rect x="427" y="108" width="24" height="14" fill="#0F774D"/>
<rect x="48" y="122" width="12" height="13" fill="#E8D8B8"/>
<rect x="60" y="122" width="13" height="13" fill="#5B6F3F"/>
<rect x="73" y="122" width="12" height="13" fill="#F45F33"/>
<rect x="85" y="122" width="37" height="13" fill="#5B6F3F"/>
<rect x="122" y="122" width="12" height="13" fill="#E8D8B8"/>
<rect x="134" y="122" width="12" height="13" fill="#29734B"/>
<rect x="146" y="122" width="12" height="13" fill="#E8D8B8"/>
<rect x="158" y="122" width="12" height="13" fill="#876737"/>
<rect x="170" y="122" width="13" height="13" fill="#0F774D"/>
<rect x="183" y="122" width="12" height="13" fill="#E8D8B8"/>
<rect x="195" y="122" width="12" height="13" fill="#3F7247"/>
<rect x="207" y="122" width="12" height="13" fill="#E8D8B8"/>
<rect x="219" y="122" width="12" height="13" fill="#3F7247"/>
<rect x="231" y="122" width="13" height="13" fill="#1B754D"/>
<rect x="244" y="122" width="24" height="13" fill="#876737"/>
<rect x="268" y="122" width="12" height="13" fill="#E8D8B8"/>
<rect x="280" y="122" width="13" height="13" fill="#F45F33"/>
<rect x="293" y="122" width="12" height="13" fill="#876737"/>
<rect x="305" y="122" width="12" height="13" fill="#3F7247"/>
<rect x="317" y="122" width="12" height="13" fill="#E8D8B8"/>
<rect x="329" y="122" width="12" height="13" fill="#F45F33"/>
<rect x="341" y="122" width="25" height="13" fill="#876737"/>
<rect x="366" y="122" width="24" height="13" fill="#1B754D"/>
<rect x="390" y="122" width="13" height="13" fill="#29734B"/>
<rect x="403" y="122" width="12" height="13" fill="#E8D8B8"/>
<rect x="415" y="122" width="12" height="13" fill="#1B754D"/>
<rect x="427" y="122" width="24" height="13" fill="#0F774D"/>
<rect x="48" y="149" width="379" height="14" fill="#E8D8B8"/>
<rect x="427" y="149" width="12" height="14" fill="#876737"/>
<rect x="439" y="149" width="12" height="14" fill="#E8D8B8"/>
<rect x="48" y="182" width="25" height="13" fill="#E8D8B8"/>
<rect x="73" y="182" width="24" height="13" fill="#F45F33"/>
<rect x="97" y="182" width="37" height="13" fill="#E8D8B8"/>
<rect x="134" y="182" width="12" height="13" fill="#5B6F3F"/>
<rect x="146" y="182" width="24" height="13" fill="#E8D8B8"/>
<rect x="170" y="182" width="13" height="13" fill="#0F774D"/>
<rect x="183" y="182" width="36" height="13" fill="#E8D8B8"/>
<rect x="219" y="182" width="12" height="13" fill="#3F7247"/>
<rect x="231" y="182" width="13" height="13" fill="#F45F33"/>
<rect x="244" y="182" width="24" height="13" fill="#876737"/>
<rect x="268" y="182" width="12" height="13" fill="#F45F33"/>
<rect x="280" y="182" width="25" height="13" fill="#E8D8B8"/>
<rect x="305" y="182" width="12" height="13" fill="#3F7247"/>
<rect x="317" y="182" width="24" height="13" fill="#E8D8B8"/>
<rect x="341" y="182" width="13" height="13" fill="#876737"/>
<rect x="354" y="182" width="12" height="13" fill="#E8D8B8"/>
<rect x="366" y="182" width="12" height="13" fill="#3F7247"/>
<rect x="378" y="182" width="12" height="13" fill="#876737"/>
<rect x="390" y="182" width="25" height="13" fill="#E8D8B8"/>
<rect x="415" y="182" width="12" height="13" fill="#F45F33"/>
<rect x="427" y="182" width="12" height="13" fill="#1B754D"/>
<rect x="439" y="182" width="12" height="13" fill="#5B6F3F"/>
<rect x="48" y="195" width="12" height="13" fill="#E8D8B8"/>
<rect x="60" y="195" width="13" height="13" fill="#3F7247"/>
<rect x="73" y="195" width="12" height="13" fill="#F45F33"/>
<rect x="85" y="195" width="37" height="13" fill="#876737"/>
<rect x="122" y="195" width="12" height="13" fill="#E8D8B8"/>
<rect x="134" y="195" width="12" height="13" fill="#3F7247"/>
<rect x="146" y="195" width="12" height="13" fill="#E8D8B8"/>
<rect x="158" y="195" width="12" height="13" fill="#5B6F3F"/>
<rect x="170" y="195" width="13" height="13" fill="#0F774D"/>
<rect x="183" y="195" width="12" height="13" fill="#E8D8B8"/>
<rect x="195" y="195" width="12" height="13" fill="#3F7247"/>
<rect x="207" y="195" width="12" height="13" fill="#E8D8B8"/>
<rect x="219" y="195" width="12" height="13" fill="#3F7247"/>
<rect x="231" y="195" width="13" height="13" fill="#1B754D"/>
<rect x="244" y="195" width="12" height="13" fill="#876737"/>
<rect x="256" y="195" width="12" height="13" fill="#5B6F3F"/>
<rect x="268" y="195" width="12" height="13" fill="#F45F33"/>
<rect x="280" y="195" width="13" height="13" fill="#876737"/>
<rect x="293" y="195" width="12" height="13" fill="#5B6F3F"/>
<rect x="305" y="195" width="12" height="13" fill="#1B754D"/>
<rect x="317" y="195" width="12" height="13" fill="#876737"/>
<rect x="329" y="195" width="12" height="13" fill="#5B6F3F"/>
<rect x="341" y="195" width="13" height="13" fill="#3F7247"/>
<rect x="354" y="195" width="12" height="13" fill="#5B6F3F"/>
<rect x="366" y="195" width="12" height="13" fill="#29734B"/>
<rect x="378" y="195" width="12" height="13" fill="#1B754D"/>
<rect x="390" y="195" width="13" height="13" fill="#3F7247"/>
<rect x="403" y="195" width="12" height="13" fill="#E8D8B8"/>
<rect x="415" y="195" width="12" height="13" fill="#29734B"/>
<rect x="427" y="195" width="12" height="13" fill="#0F774D"/>
<rect x="439" y="195" width="12" height="13" fill="#29734B"/>
<rect x="48" y="208" width="12" height="13" fill="#E8D8B8"/>
<rect x="60" y="208" width="13" height="13" fill="#5B6F3F"/>
<rect x="73" y="208" width="12" height="13" fill="#876737"/>
<rect x="85" y="208" width="12" height="13" fill="#5B6F3F"/>
<rect x="97" y="208" width="12" height="13" fill="#E8D8B8"/>
<rect x="109" y="208" width="13" height="13" fill="#F45F33"/>
<rect x="122" y="208" width="12" height="13" fill="#E8D8B8"/>
<rect x="134" y="208" width="12" height="13" fill="#3F7247"/>
<rect x="146" y="208" width="12" height="13" fill="#E8D8B8"/>
<rect x="158" y="208" width="12" height="13" fill="#876737"/>
<rect x="170" y="208" width="13" height="13" fill="#0F774D"/>
<rect x="183" y="208" width="12" height="13" fill="#E8D8B8"/>
<rect x="195" y="208" width="24" height="13" fill="#F45F33"/>
<rect x="219" y="208" width="25" height="13" fill="#3F7247"/>
<rect x="244" y="208" width="12" height="13" fill="#5B6F3F"/>
<rect x="256" y="208" width="24" height="13" fill="#F45F33"/>
<rect x="280" y="208" width="13" height="13" fill="#3F7247"/>
<rect x="293" y="208" width="12" height="13" fill="#876737"/>
<rect x="305" y="208" width="12" height="13" fill="#3F7247"/>
<rect x="317" y="208" width="12" height="13" fill="#F45F33"/>
<rect x="329" y="208" width="12" height="13" fill="#876737"/>
<rect x="341" y="208" width="13" height="13" fill="#3F7247"/>
<rect x="354" y="208" width="12" height="13" fill="#876737"/>
<rect x="366" y="208" width="24" height="13" fill="#29734B"/>
<rect x="390" y="208" width="13" height="13" fill="#3F7247"/>
<rect x="403" y="208" width="12" height="13" fill="#E8D8B8"/>
<rect x="415" y="208" width="12" height="13" fill="#29734B"/>
<rect x="427" y="208" width="12" height="13" fill="#0F774D"/>
<rect x="439" y="208" width="12" height="13" fill="#29734B"/>
<rect x="48" y="221" width="12" height="13" fill="#E8D8B8"/>
<rect x="60" y="221" width="13" height="13" fill="#876737"/>
<rect x="73" y="221" width="12" height="13" fill="#3F7247"/>
<rect x="85" y="221" width="12" height="13" fill="#5B6F3F"/>
<rect x="97" y="221" width="12" height="13" fill="#F45F33"/>
<rect x="109" y="221" width="13" height="13" fill="#876737"/>
<rect x="122" y="221" width="12" height="13" fill="#E8D8B8"/>
<rect x="134" y="221" width="12" height="13" fill="#29734B"/>
<rect x="146" y="221" width="12" height="13" fill="#E8D8B8"/>
<rect x="158" y="221" width="12" height="13" fill="#876737"/>
<rect x="170" y="221" width="13" height="13" fill="#0F774D"/>
<rect x="183" y="221" width="12" height="13" fill="#E8D8B8"/>
<rect x="195" y="221" width="12" height="13" fill="#876737"/>
<rect x="207" y="221" width="12" height="13" fill="#E8D8B8"/>
<rect x="219" y="221" width="12" height="13" fill="#3F7247"/>
<rect x="231" y="221" width="25" height="13" fill="#5B6F3F"/>
<rect x="256" y="221" width="12" height="13" fill="#876737"/>
<rect x="268" y="221" width="37" height="13" fill="#F45F33"/>
<rect x="305" y="221" width="12" height="13" fill="#3F7247"/>
<rect x="317" y="221" width="24" height="13" fill="#5B6F3F"/>
<rect x="341" y="221" width="13" height="13" fill="#3F7247"/>
<rect x="354" y="221" width="12" height="13" fill="#876737"/>
<rect x="366" y="221" width="24" height="13" fill="#3F7247"/>
<rect x="390" y="221" width="25" height="13" fill="#E8D8B8"/>
<rect x="415" y="221" width="12" height="13" fill="#876737"/>
<rect x="427" y="221" width="12" height="13" fill="#1B754D"/>
<rect x="439" y="221" width="12" height="13" fill="#29734B"/>
<rect x="48" y="234" width="12" height="14" fill="#E8D8B8"/>
<rect x="60" y="234" width="13" height="14" fill="#F45F33"/>
<rect x="73" y="234" width="24" height="14" fill="#876737"/>
<rect x="97" y="234" width="12" height="14" fill="#F45F33"/>
<rect x="109" y="234" width="25" height="14" fill="#E8D8B8"/>
<rect x="134" y="234" width="12" height="14" fill="#3F7247"/>
<rect x="146" y="234" width="12" height="14" fill="#E8D8B8"/>
<rect x="158" y="234" width="12" height="14" fill="#876737"/>
<rect x="170" y="234" width="13" height="14" fill="#0F774D"/>
<rect x="183" y="234" width="12" height="14" fill="#E8D8B8"/>
<rect x="195" y="234" width="12" height="14" fill="#3F7247"/>
<rect x="207" y="234" width="12" height="14" fill="#E8D8B8"/>
<rect x="219" y="234" width="25" height="14" fill="#3F7247"/>
<rect x="244" y="234" width="12" height="14" fill="#E8D8B8"/>
<rect x="256" y="234" width="12" height="14" fill="#5B6F3F"/>
<rect x="268" y="234" width="25" height="14" fill="#F45F33"/>
<rect x="293" y="234" width="12" height="14" fill="#876737"/>
<rect x="305" y="234" width="12" height="14" fill="#3F7247"/>
<rect x="317" y="234" width="12" height="14" fill="#F45F33"/>
<rect x="329" y="234" width="12" height="14" fill="#876737"/>
<rect x="341" y="234" width="13" height="14" fill="#3F7247"/>
<rect x="354" y="234" width="12" height="14" fill="#876737"/>
<rect x="366" y="234" width="24" height="14" fill="#29734B"/>
<rect x="390" y="234" width="25" height="14" fill="#E8D8B8"/>
<rect x="415" y="234" width="12" height="14" fill="#29734B"/>
<rect x="427" y="234" width="12" height="14" fill="#0F774D"/>
<rect x="439" y="234" width="12" height="14" fill="#29734B"/>
<rect x="48" y="268" width="208" height="13" fill="#E8D8B8"/>
<rect x="256" y="268" width="12" height="13" fill="#F45F33"/>
<rect x="268" y="268" width="37" height="13" fill="#E8D8B8"/>
<rect x="305" y="268" width="12" height="13" fill="#876737"/>
<rect x="317" y="268" width="110" height="13" fill="#E8D8B8"/>
<rect x="427" y="268" width="12" height="13" fill="#1B754D"/>
<rect x="439" y="268" width="12" height="13" fill="#F45F33"/>
<rect x="48" y="281" width="208" height="14" fill="#E8D8B8"/>
<rect x="256" y="281" width="12" height="14" fill="#F45F33"/>
<rect x="268" y="281" width="159" height="14" fill="#E8D8B8"/>
<rect x="427" y="281" width="12" height="14" fill="#29734B"/>
<rect x="439" y="281" width="12" height="14" fill="#F45F33"/>
<rect x="48" y="314" width="25" height="14" fill="#E8D8B8"/>
<rect x="73" y="314" width="24" height="14" fill="#876737"/>
<rect x="97" y="314" width="37" height="14" fill="#E8D8B8"/>
<rect x="134" y="314" width="12" height="14" fill="#3F7247"/>
<rect x="146" y="314" width="24" height="14" fill="#E8D8B8"/>
<rect x="170" y="314" width="13" height="14" fill="#3F7247"/>
<rect x="183" y="314" width="36" height="14" fill="#E8D8B8"/>
<rect x="219" y="314" width="49" height="14" fill="#876737"/>
<rect x="268" y="314" width="37" height="14" fill="#E8D8B8"/>
<rect x="305" y="314" width="12" height="14" fill="#5B6F3F"/>
<rect x="317" y="314" width="24" height="14" fill="#E8D8B8"/>
<rect x="341" y="314" width="13" height="14" fill="#876737"/>
<rect x="354" y="314" width="12" height="14" fill="#E8D8B8"/>
<rect x="366" y="314" width="12" height="14" fill="#3F7247"/>
<rect x="378" y="314" width="12" height="14" fill="#876737"/>
<rect x="390" y="314" width="25" height="14" fill="#E8D8B8"/>
<rect x="415" y="314" width="12" height="14" fill="#5B6F3F"/>
<rect x="427" y="314" width="12" height="14" fill="#1B754D"/>
<rect x="439" y="314" width="12" height="14" fill="#876737"/>
<rect x="48" y="328" width="25" height="13" fill="#E8D8B8"/>
<rect x="73" y="328" width="12" height="13" fill="#876737"/>
<rect x="85" y="328" width="12" height="13" fill="#F45F33"/>
<rect x="97" y="328" width="37" height="13" fill="#E8D8B8"/>
<rect x="134" y="328" width="12" height="13" fill="#876737"/>
<rect x="146" y="328" width="73" height="13" fill="#E8D8B8"/>
<rect x="219" y="328" width="12" height="13" fill="#5B6F3F"/>
<rect x="231" y="328" width="13" height="13" fill="#F45F33"/>
<rect x="244" y="328" width="12" height="13" fill="#E8D8B8"/>
<rect x="256" y="328" width="12" height="13" fill="#F45F33"/>
<rect x="268" y="328" width="73" height="13" fill="#E8D8B8"/>
<rect x="341" y="328" width="13" height="13" fill="#F45F33"/>
<rect x="354" y="328" width="12" height="13" fill="#E8D8B8"/>
<rect x="366" y="328" width="12" height="13" fill="#5B6F3F"/>
<rect x="378" y="328" width="12" height="13" fill="#F45F33"/>
<rect x="390" y="328" width="25" height="13" fill="#E8D8B8"/>
<rect x="415" y="328" width="12" height="13" fill="#F45F33"/>
<rect x="427" y="328" width="12" height="13" fill="#3F7247"/>
<rect x="439" y="328" width="12" height="13" fill="#876737"/>
<rect x="48" y="341" width="25" height="14" fill="#E8D8B8"/>
<rect x="73" y="341" width="24" height="14" fill="#F45F33"/>
<rect x="97" y="341" width="37" height="14" fill="#E8D8B8"/>
<rect x="134" y="341" width="12" height="14" fill="#5B6F3F"/>
<rect x="146" y="341" width="24" height="14" fill="#E8D8B8"/>
<rect x="170" y="341" width="13" height="14" fill="#0F774D"/>
<rect x="183" y="341" width="12" height="14" fill="#E8D8B8"/>
<rect x="195" y="341" width="12" height="14" fill="#876737"/>
<rect x="207" y="341" width="12" height="14" fill="#E8D8B8"/>
<rect x="219" y="341" width="12" height="14" fill="#29734B"/>
<rect x="231" y="341" width="13" height="14" fill="#5B6F3F"/>
<rect x="244" y="341" width="12" height="14" fill="#E8D8B8"/>
<rect x="256" y="341" width="12" height="14" fill="#5B6F3F"/>
<rect x="268" y="341" width="12" height="14" fill="#F45F33"/>
<rect x="280" y="341" width="13" height="14" fill="#29734B"/>
<rect x="293" y="341" width="12" height="14" fill="#F45F33"/>
<rect x="305" y="341" width="12" height="14" fill="#3F7247"/>
<rect x="317" y="341" width="12" height="14" fill="#E8D8B8"/>
<rect x="329" y="341" width="12" height="14" fill="#876737"/>
<rect x="341" y="341" width="13" height="14" fill="#29734B"/>
<rect x="354" y="341" width="12" height="14" fill="#3F7247"/>
<rect x="366" y="341" width="12" height="14" fill="#1B754D"/>
<rect x="378" y="341" width="12" height="14" fill="#29734B"/>
<rect x="390" y="341" width="25" height="14" fill="#E8D8B8"/>
<rect x="415" y="341" width="12" height="14" fill="#29734B"/>
<rect x="427" y="341" width="12" height="14" fill="#0F774D"/>
<rect x="439" y="341" width="12" height="14" fill="#1B754D"/>
<rect x="48" y="373" width="25" height="14" fill="#E8D8B8"/>
<rect x="73" y="373" width="24" height="14" fill="#3F7247"/>
<rect x="97" y="373" width="12" height="14" fill="#876737"/>
<rect x="109" y="373" width="25" height="14" fill="#E8D8B8"/>
<rect x="134" y="373" width="12" height="14" fill="#29734B"/>
<rect x="146" y="373" width="12" height="14" fill="#E8D8B8"/>
<rect x="158" y="373" width="12" height="14" fill="#876737"/>
<rect x="170" y="373" width="13" height="14" fill="#0F774D"/>
<rect x="183" y="373" width="12" height="14" fill="#E8D8B8"/>
<rect x="195" y="373" width="12" height="14" fill="#876737"/>
<rect x="207" y="373" width="12" height="14" fill="#F45F33"/>
<rect x="219" y="373" width="12" height="14" fill="#3F7247"/>
<rect x="231" y="373" width="13" height="14" fill="#29734B"/>
<rect x="244" y="373" width="12" height="14" fill="#1B754D"/>
<rect x="256" y="373" width="12" height="14" fill="#29734B"/>
<rect x="268" y="373" width="12" height="14" fill="#3F7247"/>
<rect x="280" y="373" width="13" height="14" fill="#1B754D"/>
<rect x="293" y="373" width="12" height="14" fill="#876737"/>
<rect x="305" y="373" width="12" height="14" fill="#1B754D"/>
<rect x="317" y="373" width="24" height="14" fill="#3F7247"/>
<rect x="341" y="373" width="13" height="14" fill="#29734B"/>
<rect x="354" y="373" width="12" height="14" fill="#876737"/>
<rect x="366" y="373" width="12" height="14" fill="#0F774D"/>
<rect x="378" y="373" width="12" height="14" fill="#1B754D"/>
<rect x="390" y="373" width="25" height="14" fill="#3F7247"/>
<rect x="415" y="373" width="12" height="14" fill="#1B754D"/>
<rect x="427" y="373" width="24" height="14" fill="#0F774D"/>
<rect x="48" y="408" width="25" height="14" fill="#E8D8B8"/>
<rect x="73" y="408" width="12" height="14" fill="#876737"/>
<rect x="85" y="408" width="12" height="14" fill="#5B6F3F"/>
<rect x="97" y="408" width="37" height="14" fill="#E8D8B8"/>
<rect x="134" y="408" width="12" height="14" fill="#5B6F3F"/>
<rect x="146" y="408" width="24" height="14" fill="#E8D8B8"/>
<rect x="170" y="408" width="13" height="14" fill="#5B6F3F"/>
<rect x="183" y="408" width="36" height="14" fill="#E8D8B8"/>
<rect x="219" y="408" width="25" height="14" fill="#5B6F3F"/>
<rect x="244" y="408" width="12" height="14" fill="#3F7247"/>
<rect x="256" y="408" width="12" height="14" fill="#E8D8B8"/>
<rect x="268" y="408" width="12" height="14" fill="#876737"/>
<rect x="280" y="408" width="13" height="14" fill="#3F7247"/>
<rect x="293" y="408" width="12" height="14" fill="#E8D8B8"/>
<rect x="305" y="408" width="12" height="14" fill="#876737"/>
<rect x="317" y="408" width="12" height="14" fill="#F45F33"/>
<rect x="329" y="408" width="25" height="14" fill="#876737"/>
<rect x="354" y="408" width="12" height="14" fill="#F45F33"/>
<rect x="366" y="408" width="12" height="14" fill="#29734B"/>
<rect x="378" y="408" width="12" height="14" fill="#3F7247"/>
<rect x="390" y="408" width="25" height="14" fill="#E8D8B8"/>
<rect x="415" y="408" width="12" height="14" fill="#3F7247"/>
<rect x="427" y="408" width="12" height="14" fill="#1B754D"/>
<rect x="439" y="408" width="12" height="14" fill="#29734B"/>
<rect x="48" y="443" width="12" height="14" fill="#F45F33"/>
<rect x="60" y="443" width="13" height="14" fill="#3F7247"/>
<rect x="73" y="443" width="12" height="14" fill="#29734B"/>
<rect x="85" y="443" width="12" height="14" fill="#1B754D"/>
<rect x="97" y="443" width="25" height="14" fill="#29734B"/>
<rect x="122" y="443" width="12" height="14" fill="#E8D8B8"/>
<rect x="134" y="443" width="12" height="14" fill="#1B754D"/>
<rect x="146" y="443" width="12" height="14" fill="#876737"/>
<rect x="158" y="443" width="12" height="14" fill="#5B6F3F"/>
<rect x="170" y="443" width="25" height="14" fill="#0F774D"/>
<rect x="195" y="443" width="12" height="14" fill="#29734B"/>
<rect x="207" y="443" width="12" height="14" fill="#876737"/>
<rect x="219" y="443" width="12" height="14" fill="#0F774D"/>
<rect x="231" y="443" width="25" height="14" fill="#1B754D"/>
<rect x="256" y="443" width="12" height="14" fill="#29734B"/>
<rect x="268" y="443" width="12" height="14" fill="#3F7247"/>
<rect x="280" y="443" width="13" height="14" fill="#0F774D"/>
<rect x="293" y="443" width="12" height="14" fill="#29734B"/>
<rect x="305" y="443" width="24" height="14" fill="#1B754D"/>
<rect x="329" y="443" width="12" height="14" fill="#29734B"/>
<rect x="341" y="443" width="13" height="14" fill="#0F774D"/>
<rect x="354" y="443" width="12" height="14" fill="#1B754D"/>
<rect x="366" y="443" width="85" height="14" fill="#0F774D"/>
<rect x="48" y="473" width="403" height="14" fill="#E8D8B8"/>
<rect x="48" y="487" width="403" height="13" fill="#E8D8B8"/>
<rect x="48" y="519" width="403" height="14" fill="#E8D8B8"/>
<rect x="47" y="550" width="367" height="13" fill="#E8D8B8"/>
<rect x="414" y="550" width="12" height="13" fill="#876737"/>
<rect x="426" y="550" width="25" height="13" fill="#E8D8B8"/>
</g>
<defs><linearGradient id="mic" x1="0" x2="1" y1="0" y2="0"><stop offset="0" stop-color="#0F774D"/><stop offset="0.33" stop-color="#5B6F3F"/><stop offset="0.55" stop-color="#876737"/><stop offset="0.8" stop-color="#C8633A"/><stop offset="1" stop-color="#F45F33"/></linearGradient><linearGradient id="act" x1="0" x2="0" y1="0" y2="1"><stop offset="0" stop-color="#E8202A"/><stop offset="0.18" stop-color="#EE3A28"/><stop offset="0.36" stop-color="#F68A1E"/><stop offset="0.5" stop-color="#FAD91C"/><stop offset="0.66" stop-color="#6DB83F"/><stop offset="0.8" stop-color="#3458A8"/><stop offset="1" stop-color="#232A8C"/></linearGradient></defs>
<rect x="49.4" y="570.5" width="375.2" height="11" rx="1.2" fill="url(#mic)"/>
<rect x="52.5" y="576.8" width="1.9" height="4.8" fill="#fff"/>
<rect x="416.8" y="576.3" width="1.9" height="5.3" fill="#fff"/>
<rect x="441.8" y="570.3" width="9.6" height="10.9" fill="#E8D8B8"/>
<text x="16.4" y="46.6" font-size="45" fill="#222222">C</text>
<path d="M7.5 5.5H57.5V57.5H7.5Z" stroke="#000" stroke-opacity="0.4" stroke-width="1.15" fill="none" stroke-dasharray="5 3.2" stroke-dashoffset="-1.5"/>
<text x="534" y="46.4" font-size="39.6" fill="#222222">D</text>
<path d="M524.5 9.5H572.5V57.5H524.5Z" stroke="#000" stroke-opacity="0.4" stroke-width="1.15" fill="none" stroke-dasharray="5 3.2" stroke-dashoffset="-1.5"/>
<path d="M273.5 -3V1.5H374.5V-3" stroke="#000" stroke-opacity="0.4" stroke-width="1.15" fill="none" stroke-dasharray="5 3.2" stroke-dashoffset="-0.5"/>
<text x="157.3" y="92.7" font-size="17.3" fill="#222222">EDEN-Generated AMPs</text>
<path d="M146.5 74.5H353.5V98.5H146.5Z" stroke="#000" stroke-opacity="0.4" stroke-width="1.15" fill="none" stroke-dasharray="5 3.2" stroke-dashoffset="-1.5"/>
<text x="53.71" y="105.75" font-size="7" fill="#222222" stroke="#222222" stroke-width="0.3" text-anchor="middle">1</text>
<text x="65.93" y="105.75" font-size="7" fill="#222222" stroke="#222222" stroke-width="0.3" text-anchor="middle">2</text>
<text x="78.15" y="105.75" font-size="7" fill="#222222" stroke="#222222" stroke-width="0.3" text-anchor="middle">3</text>
<text x="90.36" y="105.75" font-size="7" fill="#222222" stroke="#222222" stroke-width="0.3" text-anchor="middle">4</text>
<text x="102.58" y="105.75" font-size="7" fill="#222222" stroke="#222222" stroke-width="0.3" text-anchor="middle">5</text>
<text x="114.8" y="105.75" font-size="7" fill="#222222" stroke="#222222" stroke-width="0.3" text-anchor="middle">6</text>
<text x="127.02" y="105.75" font-size="7" fill="#222222" stroke="#222222" stroke-width="0.3" text-anchor="middle">7</text>
<text x="139.24" y="105.75" font-size="7" fill="#222222" stroke="#222222" stroke-width="0.3" text-anchor="middle">8</text>
<text x="151.45" y="105.75" font-size="7" fill="#222222" stroke="#222222" stroke-width="0.3" text-anchor="middle">9</text>
<text x="163.67" y="105.75" font-size="7" fill="#222222" stroke="#222222" stroke-width="0.3" text-anchor="middle">10</text>
<text x="175.89" y="105.75" font-size="7" fill="#222222" stroke="#222222" stroke-width="0.3" text-anchor="middle">11</text>
<text x="188.11" y="105.75" font-size="7" fill="#222222" stroke="#222222" stroke-width="0.3" text-anchor="middle">12</text>
<text x="200.33" y="105.75" font-size="7" fill="#222222" stroke="#222222" stroke-width="0.3" text-anchor="middle">13</text>
<text x="212.54" y="105.75" font-size="7" fill="#222222" stroke="#222222" stroke-width="0.3" text-anchor="middle">14</text>
<text x="224.76" y="105.75" font-size="7" fill="#222222" stroke="#222222" stroke-width="0.3" text-anchor="middle">15</text>
<text x="236.98" y="105.75" font-size="7" fill="#222222" stroke="#222222" stroke-width="0.3" text-anchor="middle">16</text>
<text x="249.2" y="105.75" font-size="7" fill="#222222" stroke="#222222" stroke-width="0.3" text-anchor="middle">17</text>
<text x="261.41" y="105.75" font-size="7" fill="#222222" stroke="#222222" stroke-width="0.3" text-anchor="middle">18</text>
<text x="273.63" y="105.75" font-size="7" fill="#222222" stroke="#222222" stroke-width="0.3" text-anchor="middle">19</text>
<text x="285.85" y="105.75" font-size="7" fill="#222222" stroke="#222222" stroke-width="0.3" text-anchor="middle">20</text>
<text x="298.07" y="105.75" font-size="7" fill="#222222" stroke="#222222" stroke-width="0.3" text-anchor="middle">21</text>
<text x="310.29" y="105.75" font-size="7" fill="#222222" stroke="#222222" stroke-width="0.3" text-anchor="middle">22</text>
<text x="322.5" y="105.75" font-size="7" fill="#222222" stroke="#222222" stroke-width="0.3" text-anchor="middle">23</text>
<text x="334.72" y="105.75" font-size="7" fill="#222222" stroke="#222222" stroke-width="0.3" text-anchor="middle">24</text>
<text x="346.94" y="105.75" font-size="7" fill="#222222" stroke="#222222" stroke-width="0.3" text-anchor="middle">25</text>
<text x="359.16" y="105.75" font-size="7" fill="#222222" stroke="#222222" stroke-width="0.3" text-anchor="middle">26</text>
<text x="371.38" y="105.75" font-size="7" fill="#222222" stroke="#222222" stroke-width="0.3" text-anchor="middle">27</text>
<text x="383.59" y="105.75" font-size="7" fill="#222222" stroke="#222222" stroke-width="0.3" text-anchor="middle">28</text>
<text x="395.81" y="105.75" font-size="7" fill="#222222" stroke="#222222" stroke-width="0.3" text-anchor="middle">29</text>
<text x="408.03" y="105.75" font-size="7" fill="#222222" stroke="#222222" stroke-width="0.3" text-anchor="middle">30</text>
<text x="420.25" y="105.75" font-size="7" fill="#222222" stroke="#222222" stroke-width="0.3" text-anchor="middle">31</text>
<text x="432.47" y="105.75" font-size="7" fill="#222222" stroke="#222222" stroke-width="0.3" text-anchor="middle">32</text>
<text x="444.68" y="105.75" font-size="7" fill="#222222" stroke="#222222" stroke-width="0.3" text-anchor="middle">33</text>
<path d="M42.5 97.5H458.5V109.5H42.5Z" stroke="#000" stroke-opacity="0.4" stroke-width="1.15" fill="none" stroke-dasharray="5 3.2" stroke-dashoffset="-1.5"/>
<text x="457" y="102.6" font-size="14.1" fill="#D4652A" font-weight="bold" font-style="italic">A. baumannii</text>
<path d="M446.5 87.5H560.5V108.5H446.5Z" stroke="#000" stroke-opacity="0.4" stroke-width="1.15" fill="none" stroke-dasharray="5 3.2" stroke-dashoffset="-1.5"/>
<text x="456.6" y="117" font-size="9.4" fill="#D4652A" stroke="#D4652A" stroke-width="0.2">ATCC 19606</text>
<text x="456.6" y="129" font-size="9.4" fill="#D4652A" stroke="#D4652A" stroke-width="0.2">ATCC BAA−1605-CGTPACCIMRA</text>
<path d="M446.5 105.5H610.5V134.5H446.5Z" stroke="#000" stroke-opacity="0.4" stroke-width="1.15" fill="none" stroke-dasharray="5 3.2" stroke-dashoffset="-1.5"/>
<text x="457" y="145.8" font-size="14.1" fill="#D4652A" font-weight="bold" font-style="italic">E. cloacae</text>
<path d="M446.5 130.5H540.5V151.5H446.5Z" stroke="#000" stroke-opacity="0.4" stroke-width="1.15" fill="none" stroke-dasharray="5 3.2" stroke-dashoffset="-1.5"/>
<text x="456.6" y="160" font-size="9.4" fill="#D4652A" stroke="#D4652A" stroke-width="0.2">ATCC 13047</text>
<path d="M446.5 148.5H520.5V165.5H446.5Z" stroke="#000" stroke-opacity="0.4" stroke-width="1.15" fill="none" stroke-dasharray="5 3.2" stroke-dashoffset="-1.5"/>
<text x="457" y="177" font-size="14.1" fill="#D4652A" font-weight="bold" font-style="italic">E. coli</text>
<path d="M446.5 161.5H512.5V182.5H446.5Z" stroke="#000" stroke-opacity="0.4" stroke-width="1.15" fill="none" stroke-dasharray="5 3.2" stroke-dashoffset="-1.5"/>
<text x="456.6" y="191.7" font-size="9.4" fill="#D4652A" stroke="#D4652A" stroke-width="0.2">ATCC 11775</text>
<text x="456.6" y="205.6" font-size="9.4" fill="#D4652A" stroke="#D4652A" stroke-width="0.2">AIC221</text>
<text x="456.6" y="217.6" font-size="9.4" fill="#D4652A" stroke="#D4652A" stroke-width="0.2">AIC222−CRE</text>
<text x="456.6" y="231.5" font-size="9.4" fill="#D4652A" stroke="#D4652A" stroke-width="0.2">ATCC BAA−3170−CRE</text>
<text x="456.6" y="244.8" font-size="9.4" fill="#D4652A" stroke="#D4652A" stroke-width="0.2">K−12 BW25113</text>
<path d="M446.5 180.5H565.5V249.5H446.5Z" stroke="#000" stroke-opacity="0.4" stroke-width="1.15" fill="none" stroke-dasharray="5 3.2" stroke-dashoffset="-1.5"/>
<text x="457" y="263.6" font-size="14.1" fill="#D4652A" font-weight="bold" font-style="italic">K. pneumoniae</text>
<path d="M446.5 248.5H572.5V269.5H446.5Z" stroke="#000" stroke-opacity="0.4" stroke-width="1.15" fill="none" stroke-dasharray="5 3.2" stroke-dashoffset="-1.5"/>
<text x="456.6" y="278" font-size="9.4" fill="#D4652A" stroke="#D4652A" stroke-width="0.2">ATCC 13883</text>
<text x="456.6" y="290.2" font-size="9.4" fill="#D4652A" stroke="#D4652A" stroke-width="0.2">ATCC BAA−2342−EIRK</text>
<path d="M446.5 266.5H566.5V295.5H446.5Z" stroke="#000" stroke-opacity="0.4" stroke-width="1.15" fill="none" stroke-dasharray="5 3.2" stroke-dashoffset="-1.5"/>
<text x="457" y="309.6" font-size="14.3" fill="#D4652A" font-weight="bold" font-style="italic">P. aeruginosa</text>
<path d="M446.5 294.5H563.5V312.5H446.5Z" stroke="#000" stroke-opacity="0.4" stroke-width="1.15" fill="none" stroke-dasharray="5 3.2" stroke-dashoffset="-1.5"/>
<text x="458" y="323.9" font-size="9.4" fill="#D4652A" stroke="#D4652A" stroke-width="0.2">PAO1</text>
<text x="458" y="337" font-size="9.4" fill="#D4652A" stroke="#D4652A" stroke-width="0.2">PA14</text>
<text x="456.6" y="349.4" font-size="9.4" fill="#D4652A" stroke="#D4652A" stroke-width="0.2">ATCC BAA−3197−FBCRP</text>
<path d="M446.5 312.5H577.5V354.5H446.5Z" stroke="#000" stroke-opacity="0.4" stroke-width="1.15" fill="none" stroke-dasharray="5 3.2" stroke-dashoffset="-1.5"/>
<text x="457" y="370.7" font-size="14.1" fill="#D4652A" font-weight="bold" font-style="italic">S. enterica</text>
<path d="M446.5 355.5H542.5V376.5H446.5Z" stroke="#000" stroke-opacity="0.4" stroke-width="1.15" fill="none" stroke-dasharray="5 3.2" stroke-dashoffset="-1.5"/>
<text x="456.6" y="383.7" font-size="9.4" fill="#D4652A" stroke="#D4652A" stroke-width="0.2">ATCC 9150</text>
<path d="M446.5 372.5H515.5V388.5H446.5Z" stroke="#000" stroke-opacity="0.4" stroke-width="1.15" fill="none" stroke-dasharray="5 3.2" stroke-dashoffset="-1.5"/>
<text x="457" y="402.2" font-size="14.1" fill="#D4652A" font-weight="bold" font-style="italic">S. typhimurium</text>
<path d="M446.5 387.5H574.5V407.5H446.5Z" stroke="#000" stroke-opacity="0.4" stroke-width="1.15" fill="none" stroke-dasharray="5 3.2" stroke-dashoffset="-1.5"/>
<text x="456.6" y="417.6" font-size="9.4" fill="#D4652A" stroke="#D4652A" stroke-width="0.2">ATCC 700720</text>
<path d="M446.5 406.5H525.5V422.5H446.5Z" stroke="#000" stroke-opacity="0.4" stroke-width="1.15" fill="none" stroke-dasharray="5 3.2" stroke-dashoffset="-1.5"/>
<text x="457" y="438.9" font-size="14.1" fill="#6A3D9A" font-weight="bold" font-style="italic">B. subtilis</text>
<path d="M446.5 423.5H538.5V444.5H446.5Z" stroke="#000" stroke-opacity="0.4" stroke-width="1.15" fill="none" stroke-dasharray="5 3.2" stroke-dashoffset="-1.5"/>
<text x="456.6" y="451.9" font-size="9.4" fill="#6A3D9A" stroke="#6A3D9A" stroke-width="0.2">ATCC 23857</text>
<path d="M446.5 440.5H520.5V457.5H446.5Z" stroke="#000" stroke-opacity="0.4" stroke-width="1.15" fill="none" stroke-dasharray="5 3.2" stroke-dashoffset="-1.5"/>
<text x="457" y="469.3" font-size="14.1" fill="#6A3D9A" font-weight="bold" font-style="italic">S. aureus</text>
<path d="M446.5 454.5H534.5V474.5H446.5Z" stroke="#000" stroke-opacity="0.4" stroke-width="1.15" fill="none" stroke-dasharray="5 3.2" stroke-dashoffset="-1.5"/>
<text x="457.5" y="483" font-size="9.4" fill="#6A3D9A" stroke="#6A3D9A" stroke-width="0.2">ATCC 12600</text>
<text x="457.5" y="497.8" font-size="9.4" fill="#6A3D9A" stroke="#6A3D9A" stroke-width="0.2">ATCC BAA−1556−MRSA</text>
<path d="M446.5 471.5H573.5V502.5H446.5Z" stroke="#000" stroke-opacity="0.4" stroke-width="1.15" fill="none" stroke-dasharray="5 3.2" stroke-dashoffset="-1.5"/>
<text x="457" y="515.7" font-size="14.1" fill="#6A3D9A" font-weight="bold" font-style="italic">E. faecalis</text>
<path d="M446.5 500.5H540.5V521.5H446.5Z" stroke="#000" stroke-opacity="0.4" stroke-width="1.15" fill="none" stroke-dasharray="5 3.2" stroke-dashoffset="-1.5"/>
<text x="456.6" y="529.8" font-size="9.4" fill="#6A3D9A" stroke="#6A3D9A" stroke-width="0.2">ATCC 700802−VRE</text>
<path d="M446.5 518.5H550.5V534.5H446.5Z" stroke="#000" stroke-opacity="0.4" stroke-width="1.15" fill="none" stroke-dasharray="5 3.2" stroke-dashoffset="-1.5"/>
<text x="457.9" y="546.5" font-size="13.5" fill="#6A3D9A" font-weight="bold" font-style="italic">E. faecium</text>
<path d="M446.5 532.5H535.5V549.5H446.5Z" stroke="#000" stroke-opacity="0.4" stroke-width="1.15" fill="none" stroke-dasharray="5 3.2" stroke-dashoffset="-1.5"/>
<text x="456.6" y="560.2" font-size="9.4" fill="#6A3D9A" stroke="#6A3D9A" stroke-width="0.2">ATCC 700221−VRE</text>
<path d="M446.5 549.5H549.5V565.5H446.5Z" stroke="#000" stroke-opacity="0.4" stroke-width="1.15" fill="none" stroke-dasharray="5 3.2" stroke-dashoffset="-1.5"/>
<text x="53.4" y="593" font-size="10.85" fill="#222222" text-anchor="middle">1</text>
<path d="M40.5 580.5H66.5V598.5H40.5Z" stroke="#000" stroke-opacity="0.4" stroke-width="1.15" fill="none" stroke-dasharray="5 3.2" stroke-dashoffset="-1.5"/>
<text x="121.3" y="595.8" font-size="13.04" fill="#222222">Minimal Inhibitory Concentration (µmol/L)</text>
<path d="M110.5 582.5H370.5V601.5H110.5Z" stroke="#000" stroke-opacity="0.4" stroke-width="1.15" fill="none" stroke-dasharray="5 3.2" stroke-dashoffset="-1.5"/>
<text x="410.2" y="592.75" font-size="10.85" fill="#222222">64</text>
<path d="M400.5 580.5H425.5V598.5H400.5Z" stroke="#000" stroke-opacity="0.4" stroke-width="1.15" fill="none" stroke-dasharray="5 3.2" stroke-dashoffset="-1.5"/>
<text x="434.6" y="592.75" font-size="10.85" fill="#222222">&gt;64</text>
<path d="M432.5 580.5H464.5V598.5H432.5Z" stroke="#000" stroke-opacity="0.4" stroke-width="1.15" fill="none" stroke-dasharray="5 3.2" stroke-dashoffset="-1.5"/>
<text x="827" y="78.75" font-size="10.85" fill="#222222" font-weight="bold">Peptide Class</text>
<path d="M816.5 66.5H909.5V83.5H816.5Z" stroke="#000" stroke-opacity="0.4" stroke-width="1.15" fill="none" stroke-dasharray="5 3.2" stroke-dashoffset="-1.5"/>
<rect x="827" y="90.75" width="8.75" height="8.75" fill="#14693A"/>
<rect x="827" y="110" width="8.75" height="8.75" fill="#F1A32E"/>
<rect x="827" y="127.5" width="8.75" height="8.75" fill="#DDDDDD"/>
<path d="M834.5 85.5H920.5V140.5H834.5Z" stroke="#000" stroke-opacity="0.4" stroke-width="1.15" fill="none" stroke-dasharray="5 3.2" stroke-dashoffset="-1.5"/>
<text x="844.25" y="98.25" font-size="10.85" fill="#222222">EDEN-AMPs</text>
<text x="844.25" y="117" font-size="10.85" fill="#222222">DRAMP</text>
<text x="844.25" y="135" font-size="10.85" fill="#222222">Training Data</text>
<text x="957.5" y="78.75" font-size="10.85" fill="#222222" font-weight="bold">Bactericidal Activity</text>
<path d="M946.5 66.5H1072.5V84.5H946.5Z" stroke="#000" stroke-opacity="0.4" stroke-width="1.15" fill="none" stroke-dasharray="5 3.2" stroke-dashoffset="-1.5"/>
<rect x="958" y="89.5" width="11.25" height="41.25" fill="url(#act)"/>
<text x="976.25" y="98.25" font-size="10.85" fill="#222222">Higher Activity</text>
<path d="M965.5 86.5H1055.5V103.5H965.5Z" stroke="#000" stroke-opacity="0.4" stroke-width="1.15" fill="none" stroke-dasharray="5 3.2" stroke-dashoffset="-1.5"/>
<text x="976.25" y="130" font-size="10.85" fill="#222222">Lower Activity</text>
<path d="M965.5 117.5H1053.5V135.5H965.5Z" stroke="#000" stroke-opacity="0.4" stroke-width="1.15" fill="none" stroke-dasharray="5 3.2" stroke-dashoffset="-1.5"/>
<text x="955.75" y="156.75" font-size="10.85" fill="#222222" font-weight="bold">Prompting Strategy</text>
<path d="M945.5 144.5H1068.5V161.5H945.5Z" stroke="#000" stroke-opacity="0.4" stroke-width="1.15" fill="none" stroke-dasharray="5 3.2" stroke-dashoffset="-1.5"/>
<path d="M965.5 164.5H1041.5V198.5H965.5Z" stroke="#000" stroke-opacity="0.4" stroke-width="1.15" fill="none" stroke-dasharray="5 3.2" stroke-dashoffset="-1.5"/>
<path d="M956.75 170H966.25L961.5 177.6Z" fill="#000"/>
<circle cx="961" cy="191.25" r="4.3" fill="#000"/>
<text x="975.5" y="177" font-size="10.85" fill="#222222">Control Tag</text>
<text x="975.5" y="194.25" font-size="10.85" fill="#222222">Context</text>
</svg>
</body></html>
